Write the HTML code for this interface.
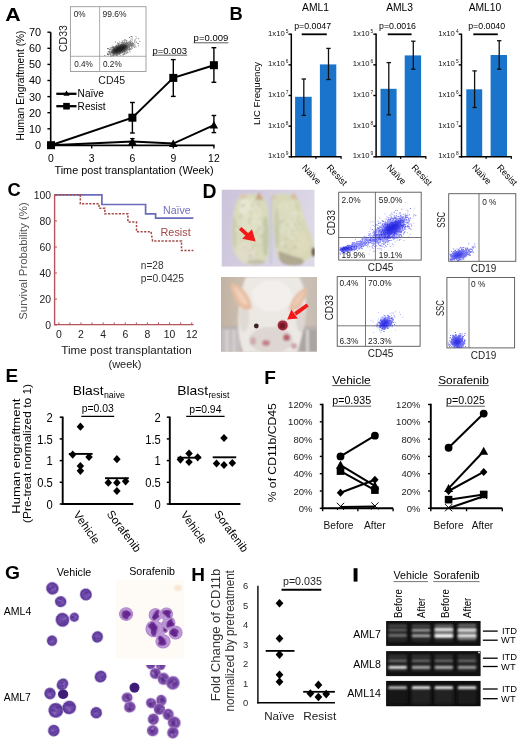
<!DOCTYPE html>
<html><head><meta charset="utf-8"><style>
html,body{margin:0;padding:0;background:#fff;}
svg{display:block;filter:blur(0.3px);font-family:"Liberation Sans",sans-serif;}
</style></head><body>
<svg width="520" height="745" viewBox="0 0 520 745">
<defs>
<filter id="b04" x="-30%" y="-30%" width="160%" height="160%"><feGaussianBlur stdDeviation="0.4"/></filter>
<filter id="b05" x="-50%" y="-50%" width="200%" height="200%"><feGaussianBlur stdDeviation="0.5"/></filter>
<filter id="b08" x="-20%" y="-20%" width="140%" height="140%"><feGaussianBlur stdDeviation="0.8"/></filter>
<filter id="b09" x="-30%" y="-150%" width="160%" height="400%"><feGaussianBlur stdDeviation="0.9"/></filter>
<filter id="b07" x="-50%" y="-100%" width="200%" height="300%"><feGaussianBlur stdDeviation="0.7"/></filter>
<filter id="b1" x="-50%" y="-50%" width="200%" height="200%"><feGaussianBlur stdDeviation="1"/></filter>
<filter id="b2" x="-20%" y="-20%" width="140%" height="140%"><feGaussianBlur stdDeviation="1.6"/></filter>
<linearGradient id="bg1" x1="0" y1="0" x2="1" y2="0.3"><stop offset="0" stop-color="#cbc3da"/><stop offset="1" stop-color="#ddd8e6"/></linearGradient>
<linearGradient id="bg2" x1="0" y1="0" x2="1" y2="0"><stop offset="0" stop-color="#c2b2a2"/><stop offset="0.5" stop-color="#d6ccc2"/><stop offset="1" stop-color="#c6bcb2"/></linearGradient>
<radialGradient id="gv" cx="0.5" cy="0.5" r="0.5"><stop offset="0" stop-color="#7450ae"/><stop offset="0.6" stop-color="#6a46a6"/><stop offset="0.88" stop-color="#583292"/><stop offset="1" stop-color="#8468bc"/></radialGradient>
<radialGradient id="gv2" cx="0.5" cy="0.5" r="0.5"><stop offset="0" stop-color="#6c3e9e"/><stop offset="0.65" stop-color="#7446a2"/><stop offset="0.86" stop-color="#8458ae"/><stop offset="1" stop-color="#b898d4"/></radialGradient>
<radialGradient id="gd" cx="0.5" cy="0.5" r="0.5"><stop offset="0" stop-color="#3a1a70"/><stop offset="0.85" stop-color="#40207a"/><stop offset="1" stop-color="#6a4aa0"/></radialGradient>
<radialGradient id="gs" cx="0.5" cy="0.5" r="0.5"><stop offset="0" stop-color="#9a68c0"/><stop offset="0.7" stop-color="#c09cd8"/><stop offset="0.92" stop-color="#b088cc"/><stop offset="1" stop-color="#d8c0e8"/></radialGradient>
</defs>
<rect width="520" height="745" fill="#fff"/>
<text x="5.20" y="20.60" font-size="18.3" font-weight="bold" textLength="15.4" lengthAdjust="spacingAndGlyphs">A</text>
<line x1="50.70" y1="32.20" x2="50.70" y2="145.40" stroke="#000" stroke-width="1.6"/>
<line x1="47.40" y1="32.20" x2="50.70" y2="32.20" stroke="#000" stroke-width="1.4"/>
<text x="41.00" y="36.10" font-size="10.9" text-anchor="end">70</text>
<line x1="47.40" y1="48.30" x2="50.70" y2="48.30" stroke="#000" stroke-width="1.4"/>
<text x="41.00" y="52.20" font-size="10.9" text-anchor="end">60</text>
<line x1="47.40" y1="64.40" x2="50.70" y2="64.40" stroke="#000" stroke-width="1.4"/>
<text x="41.00" y="68.30" font-size="10.9" text-anchor="end">50</text>
<line x1="47.40" y1="80.50" x2="50.70" y2="80.50" stroke="#000" stroke-width="1.4"/>
<text x="41.00" y="84.40" font-size="10.9" text-anchor="end">40</text>
<line x1="47.40" y1="96.60" x2="50.70" y2="96.60" stroke="#000" stroke-width="1.4"/>
<text x="41.00" y="100.50" font-size="10.9" text-anchor="end">30</text>
<line x1="47.40" y1="112.70" x2="50.70" y2="112.70" stroke="#000" stroke-width="1.4"/>
<text x="41.00" y="116.60" font-size="10.9" text-anchor="end">20</text>
<line x1="47.40" y1="128.80" x2="50.70" y2="128.80" stroke="#000" stroke-width="1.4"/>
<text x="41.00" y="132.70" font-size="10.9" text-anchor="end">10</text>
<line x1="47.40" y1="144.90" x2="50.70" y2="144.90" stroke="#000" stroke-width="1.4"/>
<text x="41.00" y="148.80" font-size="10.9" text-anchor="end">0</text>
<text x="23.60" y="85.50" font-size="10.2" text-anchor="middle" transform="rotate(-90 23.60 85.50)" textLength="110" lengthAdjust="spacingAndGlyphs">Human Engraftment (%)</text>
<line x1="50.70" y1="145.40" x2="214.60" y2="145.40" stroke="#000" stroke-width="1.6"/>
<line x1="51.00" y1="145.40" x2="51.00" y2="148.60" stroke="#000" stroke-width="1.4"/>
<text x="51.00" y="161.80" font-size="10.4" text-anchor="middle">0</text>
<line x1="91.70" y1="145.40" x2="91.70" y2="148.60" stroke="#000" stroke-width="1.4"/>
<text x="91.70" y="161.80" font-size="10.4" text-anchor="middle">3</text>
<line x1="132.40" y1="145.40" x2="132.40" y2="148.60" stroke="#000" stroke-width="1.4"/>
<text x="132.40" y="161.80" font-size="10.4" text-anchor="middle">6</text>
<line x1="173.30" y1="145.40" x2="173.30" y2="148.60" stroke="#000" stroke-width="1.4"/>
<text x="173.30" y="161.80" font-size="10.4" text-anchor="middle">9</text>
<line x1="213.90" y1="145.40" x2="213.90" y2="148.60" stroke="#000" stroke-width="1.4"/>
<text x="213.90" y="161.80" font-size="10.4" text-anchor="middle">12</text>
<text x="134.00" y="173.60" font-size="10.8" text-anchor="middle" textLength="159" lengthAdjust="spacingAndGlyphs">Time post transplantation (Week)</text>
<path d="M51.00,145.20 L132.40,141.60 L173.30,143.60 L213.90,125.20" stroke="#000" stroke-width="2.0" fill="none"/>
<line x1="132.40" y1="138.60" x2="132.40" y2="144.60" stroke="#000" stroke-width="1.3"/>
<line x1="130.20" y1="138.60" x2="134.60" y2="138.60" stroke="#000" stroke-width="1.3"/>
<line x1="130.20" y1="144.60" x2="134.60" y2="144.60" stroke="#000" stroke-width="1.3"/>
<line x1="213.90" y1="115.50" x2="213.90" y2="132.60" stroke="#000" stroke-width="1.4"/>
<line x1="211.60" y1="115.50" x2="216.20" y2="115.50" stroke="#000" stroke-width="1.4"/>
<line x1="211.60" y1="132.60" x2="216.20" y2="132.60" stroke="#000" stroke-width="1.4"/>
<path d="M132.40,137.40 L136.60,144.96 L128.20,144.96 Z" fill="#000"/>
<path d="M173.30,139.40 L177.50,146.96 L169.10,146.96 Z" fill="#000"/>
<path d="M213.90,121.00 L218.10,128.56 L209.70,128.56 Z" fill="#000"/>
<path d="M51.00,145.20 L132.40,117.70 L173.30,77.90 L213.90,65.20" stroke="#000" stroke-width="2.0" fill="none"/>
<line x1="132.40" y1="102.50" x2="132.40" y2="133.00" stroke="#000" stroke-width="1.4"/>
<line x1="130.00" y1="102.50" x2="134.80" y2="102.50" stroke="#000" stroke-width="1.4"/>
<line x1="130.00" y1="133.00" x2="134.80" y2="133.00" stroke="#000" stroke-width="1.4"/>
<line x1="173.30" y1="59.60" x2="173.30" y2="96.40" stroke="#000" stroke-width="1.4"/>
<line x1="170.90" y1="59.60" x2="175.70" y2="59.60" stroke="#000" stroke-width="1.4"/>
<line x1="170.90" y1="96.40" x2="175.70" y2="96.40" stroke="#000" stroke-width="1.4"/>
<line x1="213.90" y1="47.70" x2="213.90" y2="82.30" stroke="#000" stroke-width="1.4"/>
<line x1="211.50" y1="47.70" x2="216.30" y2="47.70" stroke="#000" stroke-width="1.4"/>
<line x1="211.50" y1="82.30" x2="216.30" y2="82.30" stroke="#000" stroke-width="1.4"/>
<rect x="47.00" y="141.20" width="8.00" height="8.00" fill="#000"/>
<rect x="128.40" y="113.70" width="8.00" height="8.00" fill="#000"/>
<rect x="169.30" y="73.90" width="8.00" height="8.00" fill="#000"/>
<rect x="209.90" y="61.20" width="8.00" height="8.00" fill="#000"/>
<line x1="56.30" y1="93.80" x2="76.50" y2="93.80" stroke="#000" stroke-width="2.3"/>
<path d="M66.50,90.40 L69.50,95.80 L63.50,95.80 Z" fill="#000"/>
<text x="77.60" y="97.40" font-size="10.1">Naïve</text>
<line x1="56.30" y1="106.20" x2="76.50" y2="106.20" stroke="#000" stroke-width="2.3"/>
<rect x="63.20" y="102.90" width="6.60" height="6.60" fill="#000"/>
<text x="77.60" y="109.80" font-size="10.1">Resist</text>
<text x="152.40" y="53.50" font-size="9.5" textLength="34.6" lengthAdjust="spacingAndGlyphs">p=0.003</text>
<line x1="152.40" y1="55.20" x2="187.20" y2="55.20" stroke="#333" stroke-width="0.8"/>
<text x="193.60" y="41.20" font-size="9.5" textLength="34.7" lengthAdjust="spacingAndGlyphs">p=0.009</text>
<line x1="193.60" y1="42.80" x2="228.40" y2="42.80" stroke="#333" stroke-width="0.8"/>
<rect x="70.40" y="6.70" width="75.60" height="64.80" fill="#fff" stroke="#999" stroke-width="0.9"/>
<line x1="99.60" y1="6.70" x2="99.60" y2="71.50" stroke="#999" stroke-width="0.8"/>
<line x1="70.40" y1="56.30" x2="146.00" y2="56.30" stroke="#999" stroke-width="0.8"/>
<text x="73.80" y="17.40" font-size="8.2" fill="#222">0%</text>
<text x="102.50" y="17.40" font-size="8.2" fill="#222" textLength="24" lengthAdjust="spacingAndGlyphs">99.6%</text>
<text x="74.20" y="67.00" font-size="8.2" fill="#222">0.4%</text>
<text x="103.00" y="67.00" font-size="8.2" fill="#222">0.2%</text>
<text x="67.40" y="38.60" font-size="10.5" text-anchor="middle" fill="#222" transform="rotate(-90 67.40 38.60)">CD33</text>
<text x="111.80" y="84.20" font-size="10.5" text-anchor="middle" fill="#222">CD45</text>
<path fill="#111" opacity="0.55" d="M120.0 50.1h.9v.9h-.9zM119.3 48.1h.9v.9h-.9zM115.2 50.4h.9v.9h-.9zM128.1 45.9h.9v.9h-.9zM127.4 45.8h.9v.9h-.9zM123.5 47.5h.9v.9h-.9zM112.1 54.9h.9v.9h-.9zM124.6 47.9h.9v.9h-.9zM109.1 49.2h.9v.9h-.9zM115.2 49.7h.9v.9h-.9zM122.8 47.2h.9v.9h-.9zM123.4 45.2h.9v.9h-.9zM123.3 48.2h.9v.9h-.9zM119.0 54.0h.9v.9h-.9zM125.6 49.3h.9v.9h-.9zM116.5 48.3h.9v.9h-.9zM118.8 49.0h.9v.9h-.9zM125.0 46.9h.9v.9h-.9zM117.3 47.3h.9v.9h-.9zM119.2 52.4h.9v.9h-.9zM116.5 51.1h.9v.9h-.9zM121.9 43.6h.9v.9h-.9zM122.7 51.0h.9v.9h-.9zM108.7 53.3h.9v.9h-.9zM119.5 46.7h.9v.9h-.9zM123.9 46.6h.9v.9h-.9zM113.2 54.3h.9v.9h-.9zM126.0 48.4h.9v.9h-.9zM129.9 44.8h.9v.9h-.9zM120.3 44.9h.9v.9h-.9zM124.0 45.0h.9v.9h-.9zM116.9 46.7h.9v.9h-.9zM114.7 49.8h.9v.9h-.9zM126.4 39.9h.9v.9h-.9zM112.6 53.0h.9v.9h-.9zM130.2 45.3h.9v.9h-.9zM107.0 48.0h.9v.9h-.9zM122.3 45.5h.9v.9h-.9zM115.4 53.6h.9v.9h-.9zM127.7 45.4h.9v.9h-.9zM122.9 48.5h.9v.9h-.9zM131.1 45.0h.9v.9h-.9zM124.7 47.9h.9v.9h-.9zM127.2 46.6h.9v.9h-.9zM108.6 52.5h.9v.9h-.9zM124.0 41.7h.9v.9h-.9zM121.0 51.0h.9v.9h-.9zM124.1 46.3h.9v.9h-.9zM123.6 48.7h.9v.9h-.9zM123.0 50.4h.9v.9h-.9zM116.6 49.2h.9v.9h-.9zM127.2 45.2h.9v.9h-.9zM116.8 52.9h.9v.9h-.9zM129.2 43.0h.9v.9h-.9zM112.7 51.9h.9v.9h-.9zM119.8 48.0h.9v.9h-.9zM128.2 41.8h.9v.9h-.9zM127.1 41.7h.9v.9h-.9zM117.0 51.9h.9v.9h-.9zM128.6 46.9h.9v.9h-.9zM123.2 47.5h.9v.9h-.9zM122.5 49.1h.9v.9h-.9zM120.3 49.3h.9v.9h-.9zM124.4 46.5h.9v.9h-.9zM126.2 47.3h.9v.9h-.9zM133.3 43.1h.9v.9h-.9zM118.1 48.6h.9v.9h-.9zM121.9 50.3h.9v.9h-.9zM119.4 50.0h.9v.9h-.9zM129.1 37.1h.9v.9h-.9zM114.6 52.0h.9v.9h-.9zM123.6 47.6h.9v.9h-.9zM119.2 50.9h.9v.9h-.9zM122.1 46.2h.9v.9h-.9zM135.8 42.0h.9v.9h-.9zM117.6 49.6h.9v.9h-.9zM119.6 48.7h.9v.9h-.9zM104.3 55.0h.9v.9h-.9zM125.7 42.7h.9v.9h-.9zM121.6 50.5h.9v.9h-.9zM127.7 49.1h.9v.9h-.9zM110.5 52.3h.9v.9h-.9zM119.7 50.6h.9v.9h-.9zM124.5 39.0h.9v.9h-.9zM125.9 41.8h.9v.9h-.9zM123.4 42.9h.9v.9h-.9zM123.4 50.4h.9v.9h-.9zM120.3 49.1h.9v.9h-.9zM125.9 46.2h.9v.9h-.9zM122.2 51.9h.9v.9h-.9zM126.9 44.5h.9v.9h-.9zM136.0 37.7h.9v.9h-.9zM126.1 45.0h.9v.9h-.9zM122.6 49.4h.9v.9h-.9zM123.0 49.0h.9v.9h-.9zM110.3 49.2h.9v.9h-.9zM123.6 44.3h.9v.9h-.9zM113.3 47.9h.9v.9h-.9zM129.3 46.2h.9v.9h-.9zM128.7 41.8h.9v.9h-.9zM119.8 45.6h.9v.9h-.9zM127.3 49.6h.9v.9h-.9zM117.4 54.3h.9v.9h-.9zM126.7 44.9h.9v.9h-.9zM119.8 47.1h.9v.9h-.9zM123.8 48.0h.9v.9h-.9zM128.8 41.6h.9v.9h-.9zM129.4 48.3h.9v.9h-.9zM129.4 43.6h.9v.9h-.9zM117.7 52.6h.9v.9h-.9zM121.8 48.1h.9v.9h-.9zM129.2 43.5h.9v.9h-.9zM107.0 54.0h.9v.9h-.9zM110.9 55.4h.9v.9h-.9zM122.2 45.9h.9v.9h-.9zM121.9 50.1h.9v.9h-.9zM122.9 51.0h.9v.9h-.9zM121.8 50.7h.9v.9h-.9zM131.6 47.5h.9v.9h-.9zM118.0 52.1h.9v.9h-.9zM108.7 51.2h.9v.9h-.9zM113.7 51.7h.9v.9h-.9zM119.8 48.7h.9v.9h-.9zM117.7 50.4h.9v.9h-.9zM131.7 43.1h.9v.9h-.9zM125.2 48.9h.9v.9h-.9zM118.4 45.9h.9v.9h-.9zM118.9 52.2h.9v.9h-.9zM110.6 51.6h.9v.9h-.9zM127.8 47.1h.9v.9h-.9zM121.9 50.0h.9v.9h-.9zM120.7 45.1h.9v.9h-.9zM111.0 51.3h.9v.9h-.9zM125.9 44.3h.9v.9h-.9zM114.8 49.1h.9v.9h-.9zM111.8 52.4h.9v.9h-.9zM114.4 52.4h.9v.9h-.9zM115.1 45.7h.9v.9h-.9zM125.0 45.5h.9v.9h-.9zM106.8 52.7h.9v.9h-.9zM122.2 46.3h.9v.9h-.9zM126.4 47.6h.9v.9h-.9zM125.3 47.0h.9v.9h-.9zM129.6 45.8h.9v.9h-.9zM121.4 42.2h.9v.9h-.9zM127.8 48.5h.9v.9h-.9zM118.7 48.0h.9v.9h-.9zM130.6 38.6h.9v.9h-.9zM126.4 52.3h.9v.9h-.9zM116.3 52.4h.9v.9h-.9zM132.1 42.5h.9v.9h-.9zM125.3 48.6h.9v.9h-.9zM115.5 50.6h.9v.9h-.9zM123.6 49.2h.9v.9h-.9zM120.6 47.9h.9v.9h-.9zM114.6 50.3h.9v.9h-.9zM126.4 45.8h.9v.9h-.9zM115.0 48.8h.9v.9h-.9zM138.1 43.0h.9v.9h-.9zM121.9 40.5h.9v.9h-.9zM125.2 47.5h.9v.9h-.9zM131.5 44.3h.9v.9h-.9zM121.2 49.6h.9v.9h-.9zM122.2 45.7h.9v.9h-.9zM130.8 48.4h.9v.9h-.9zM112.0 50.8h.9v.9h-.9zM122.9 47.8h.9v.9h-.9zM117.6 47.2h.9v.9h-.9zM134.7 44.4h.9v.9h-.9zM112.4 48.6h.9v.9h-.9zM132.2 45.5h.9v.9h-.9zM132.7 44.8h.9v.9h-.9zM116.1 51.3h.9v.9h-.9zM107.4 52.8h.9v.9h-.9zM121.2 49.5h.9v.9h-.9zM116.5 50.0h.9v.9h-.9zM124.1 47.7h.9v.9h-.9zM125.0 46.8h.9v.9h-.9zM119.9 50.9h.9v.9h-.9zM120.4 46.2h.9v.9h-.9zM117.3 50.0h.9v.9h-.9zM120.5 48.9h.9v.9h-.9zM121.2 48.6h.9v.9h-.9zM118.8 45.8h.9v.9h-.9zM124.7 49.3h.9v.9h-.9zM123.4 46.5h.9v.9h-.9zM122.6 44.7h.9v.9h-.9zM109.8 53.8h.9v.9h-.9zM116.3 52.6h.9v.9h-.9zM111.7 45.4h.9v.9h-.9zM116.6 54.8h.9v.9h-.9zM117.2 46.2h.9v.9h-.9zM117.0 51.6h.9v.9h-.9zM124.1 47.2h.9v.9h-.9zM130.6 45.5h.9v.9h-.9zM121.5 49.6h.9v.9h-.9zM131.9 45.6h.9v.9h-.9zM125.9 42.8h.9v.9h-.9zM120.9 50.3h.9v.9h-.9zM120.4 51.5h.9v.9h-.9zM125.5 48.5h.9v.9h-.9zM122.5 54.5h.9v.9h-.9zM128.1 44.1h.9v.9h-.9zM124.4 53.8h.9v.9h-.9zM119.9 51.2h.9v.9h-.9zM126.8 45.4h.9v.9h-.9zM114.3 52.0h.9v.9h-.9zM124.4 49.7h.9v.9h-.9zM125.7 46.0h.9v.9h-.9zM126.7 46.9h.9v.9h-.9zM122.3 47.7h.9v.9h-.9zM120.3 50.4h.9v.9h-.9zM114.1 49.8h.9v.9h-.9zM119.4 44.9h.9v.9h-.9zM116.2 44.9h.9v.9h-.9zM117.6 51.5h.9v.9h-.9zM124.3 46.4h.9v.9h-.9zM118.1 45.7h.9v.9h-.9zM132.4 44.1h.9v.9h-.9zM126.5 43.1h.9v.9h-.9zM117.9 44.6h.9v.9h-.9zM126.7 48.0h.9v.9h-.9zM109.7 53.6h.9v.9h-.9zM122.8 42.4h.9v.9h-.9zM109.0 51.1h.9v.9h-.9zM115.7 46.9h.9v.9h-.9zM121.5 48.7h.9v.9h-.9zM125.5 47.9h.9v.9h-.9zM131.2 46.5h.9v.9h-.9zM112.7 50.9h.9v.9h-.9zM113.5 48.8h.9v.9h-.9zM120.5 48.4h.9v.9h-.9zM122.2 43.2h.9v.9h-.9zM113.6 51.7h.9v.9h-.9zM119.5 48.1h.9v.9h-.9zM119.8 46.7h.9v.9h-.9zM125.5 47.0h.9v.9h-.9zM119.7 46.9h.9v.9h-.9zM117.0 42.6h.9v.9h-.9zM115.2 51.1h.9v.9h-.9zM112.3 53.0h.9v.9h-.9zM120.4 44.7h.9v.9h-.9zM119.2 48.2h.9v.9h-.9zM124.4 48.2h.9v.9h-.9zM119.9 46.4h.9v.9h-.9zM120.1 48.5h.9v.9h-.9zM125.7 46.7h.9v.9h-.9zM115.2 47.2h.9v.9h-.9zM118.0 47.6h.9v.9h-.9zM114.3 51.2h.9v.9h-.9zM118.2 49.9h.9v.9h-.9zM123.7 45.8h.9v.9h-.9zM134.4 40.8h.9v.9h-.9zM127.7 45.3h.9v.9h-.9zM125.0 39.6h.9v.9h-.9zM116.8 50.9h.9v.9h-.9zM127.1 51.7h.9v.9h-.9zM124.3 50.1h.9v.9h-.9zM126.6 48.1h.9v.9h-.9zM123.9 46.4h.9v.9h-.9zM122.8 44.3h.9v.9h-.9zM126.9 42.5h.9v.9h-.9zM124.8 52.2h.9v.9h-.9zM119.7 48.9h.9v.9h-.9zM127.9 44.9h.9v.9h-.9zM116.5 51.1h.9v.9h-.9zM125.2 48.1h.9v.9h-.9zM118.3 54.4h.9v.9h-.9zM130.9 43.4h.9v.9h-.9zM122.1 46.5h.9v.9h-.9zM128.6 42.5h.9v.9h-.9zM124.5 45.2h.9v.9h-.9zM117.7 51.8h.9v.9h-.9zM128.9 44.3h.9v.9h-.9zM117.9 52.0h.9v.9h-.9zM121.0 49.0h.9v.9h-.9zM131.3 46.3h.9v.9h-.9zM120.4 54.8h.9v.9h-.9zM121.9 50.0h.9v.9h-.9zM117.1 50.0h.9v.9h-.9zM127.8 41.5h.9v.9h-.9zM110.3 48.9h.9v.9h-.9zM127.5 43.8h.9v.9h-.9zM120.3 47.7h.9v.9h-.9zM119.1 46.1h.9v.9h-.9zM119.6 44.9h.9v.9h-.9zM120.9 49.1h.9v.9h-.9zM123.5 46.3h.9v.9h-.9zM115.8 51.2h.9v.9h-.9zM119.8 53.1h.9v.9h-.9zM125.4 45.7h.9v.9h-.9zM117.4 48.0h.9v.9h-.9zM115.1 50.1h.9v.9h-.9zM123.3 48.5h.9v.9h-.9zM126.7 51.3h.9v.9h-.9zM116.8 50.3h.9v.9h-.9zM135.5 35.9h.9v.9h-.9zM118.1 50.1h.9v.9h-.9zM122.4 48.7h.9v.9h-.9zM120.0 49.7h.9v.9h-.9zM122.2 49.8h.9v.9h-.9zM108.8 51.7h.9v.9h-.9zM119.9 45.9h.9v.9h-.9zM115.5 52.6h.9v.9h-.9zM117.8 51.5h.9v.9h-.9zM125.8 46.7h.9v.9h-.9zM123.9 46.5h.9v.9h-.9zM112.6 52.2h.9v.9h-.9zM123.1 45.7h.9v.9h-.9zM121.2 50.2h.9v.9h-.9zM116.5 52.2h.9v.9h-.9zM131.4 41.6h.9v.9h-.9zM121.7 47.4h.9v.9h-.9zM130.5 44.5h.9v.9h-.9zM125.6 44.1h.9v.9h-.9zM120.9 48.2h.9v.9h-.9zM124.4 41.7h.9v.9h-.9zM125.3 45.8h.9v.9h-.9zM124.1 47.7h.9v.9h-.9zM111.9 52.1h.9v.9h-.9zM129.2 42.6h.9v.9h-.9zM113.4 48.1h.9v.9h-.9zM114.1 52.5h.9v.9h-.9zM131.5 44.3h.9v.9h-.9zM124.9 52.5h.9v.9h-.9zM117.2 48.2h.9v.9h-.9zM124.7 47.9h.9v.9h-.9zM113.7 48.5h.9v.9h-.9zM123.0 47.9h.9v.9h-.9zM113.0 51.5h.9v.9h-.9zM118.3 50.8h.9v.9h-.9zM120.2 48.3h.9v.9h-.9zM120.1 51.6h.9v.9h-.9zM128.8 43.4h.9v.9h-.9zM125.2 44.0h.9v.9h-.9zM122.2 49.7h.9v.9h-.9zM129.6 43.0h.9v.9h-.9zM120.8 48.9h.9v.9h-.9zM112.1 52.6h.9v.9h-.9zM117.4 51.0h.9v.9h-.9zM112.1 47.0h.9v.9h-.9zM121.5 48.7h.9v.9h-.9zM118.7 51.8h.9v.9h-.9zM118.7 47.6h.9v.9h-.9zM122.1 43.3h.9v.9h-.9zM117.0 50.1h.9v.9h-.9zM125.9 45.4h.9v.9h-.9zM122.1 45.8h.9v.9h-.9zM124.6 51.1h.9v.9h-.9zM117.2 50.1h.9v.9h-.9zM123.2 50.0h.9v.9h-.9zM111.4 47.1h.9v.9h-.9zM125.5 48.2h.9v.9h-.9zM127.6 52.3h.9v.9h-.9zM122.5 48.2h.9v.9h-.9zM126.9 46.3h.9v.9h-.9zM129.5 40.6h.9v.9h-.9zM115.0 41.5h.9v.9h-.9zM125.4 45.0h.9v.9h-.9zM128.8 50.4h.9v.9h-.9zM120.7 47.6h.9v.9h-.9zM117.1 47.8h.9v.9h-.9zM118.0 51.5h.9v.9h-.9zM121.3 48.2h.9v.9h-.9zM121.0 50.8h.9v.9h-.9zM123.8 46.5h.9v.9h-.9zM124.8 45.9h.9v.9h-.9zM115.8 54.8h.9v.9h-.9zM122.7 44.7h.9v.9h-.9zM127.8 45.9h.9v.9h-.9zM124.0 49.2h.9v.9h-.9zM122.0 47.3h.9v.9h-.9zM112.9 54.9h.9v.9h-.9zM120.9 47.5h.9v.9h-.9zM123.2 47.4h.9v.9h-.9zM124.6 45.4h.9v.9h-.9zM118.4 43.5h.9v.9h-.9zM119.2 50.9h.9v.9h-.9zM128.5 43.5h.9v.9h-.9zM122.0 52.1h.9v.9h-.9zM119.9 50.8h.9v.9h-.9zM131.0 43.4h.9v.9h-.9zM127.5 43.1h.9v.9h-.9zM122.1 47.4h.9v.9h-.9zM122.9 50.4h.9v.9h-.9zM134.4 39.8h.9v.9h-.9zM118.1 51.0h.9v.9h-.9zM115.3 52.4h.9v.9h-.9zM124.1 45.9h.9v.9h-.9zM122.5 43.2h.9v.9h-.9zM123.8 42.5h.9v.9h-.9zM116.3 49.0h.9v.9h-.9zM119.6 51.3h.9v.9h-.9zM121.0 47.1h.9v.9h-.9zM126.0 50.2h.9v.9h-.9zM121.4 49.0h.9v.9h-.9zM128.6 45.2h.9v.9h-.9zM131.9 37.4h.9v.9h-.9zM121.2 49.3h.9v.9h-.9zM127.5 46.9h.9v.9h-.9zM118.2 46.6h.9v.9h-.9zM122.7 50.2h.9v.9h-.9zM113.4 49.0h.9v.9h-.9zM118.7 43.9h.9v.9h-.9zM119.0 48.0h.9v.9h-.9zM122.9 45.3h.9v.9h-.9zM115.3 49.9h.9v.9h-.9zM120.0 46.9h.9v.9h-.9zM121.9 49.9h.9v.9h-.9zM129.9 48.6h.9v.9h-.9zM115.9 49.5h.9v.9h-.9zM116.7 50.2h.9v.9h-.9zM122.6 43.6h.9v.9h-.9zM123.7 46.8h.9v.9h-.9zM110.5 54.1h.9v.9h-.9zM126.0 40.5h.9v.9h-.9zM126.0 46.3h.9v.9h-.9zM124.3 47.8h.9v.9h-.9zM128.5 43.9h.9v.9h-.9zM125.7 44.8h.9v.9h-.9zM124.4 44.3h.9v.9h-.9zM122.3 52.4h.9v.9h-.9zM123.5 46.6h.9v.9h-.9zM113.3 49.7h.9v.9h-.9zM123.2 49.8h.9v.9h-.9zM124.1 48.1h.9v.9h-.9zM122.2 51.4h.9v.9h-.9zM118.1 48.1h.9v.9h-.9zM126.3 45.8h.9v.9h-.9zM118.7 47.7h.9v.9h-.9zM120.2 50.3h.9v.9h-.9zM121.8 44.5h.9v.9h-.9zM123.7 47.4h.9v.9h-.9zM115.9 52.8h.9v.9h-.9zM119.0 48.3h.9v.9h-.9zM127.2 48.9h.9v.9h-.9zM117.4 51.2h.9v.9h-.9zM119.4 52.3h.9v.9h-.9zM118.0 51.9h.9v.9h-.9zM131.4 36.1h.9v.9h-.9zM119.0 50.6h.9v.9h-.9zM119.7 47.0h.9v.9h-.9zM133.9 42.2h.9v.9h-.9zM112.2 54.9h.9v.9h-.9zM117.7 50.2h.9v.9h-.9zM128.6 44.8h.9v.9h-.9zM110.9 48.4h.9v.9h-.9zM128.8 46.4h.9v.9h-.9zM117.1 52.5h.9v.9h-.9zM124.7 48.2h.9v.9h-.9zM107.3 54.1h.9v.9h-.9zM127.1 47.2h.9v.9h-.9zM123.5 40.1h.9v.9h-.9zM122.5 48.8h.9v.9h-.9zM135.1 38.7h.9v.9h-.9zM119.1 49.2h.9v.9h-.9zM125.8 44.6h.9v.9h-.9zM126.9 43.1h.9v.9h-.9zM122.0 46.2h.9v.9h-.9zM121.2 46.2h.9v.9h-.9zM112.7 55.3h.9v.9h-.9zM122.2 46.1h.9v.9h-.9zM123.3 49.8h.9v.9h-.9zM115.1 50.8h.9v.9h-.9zM124.8 47.8h.9v.9h-.9zM116.7 44.4h.9v.9h-.9zM128.7 45.3h.9v.9h-.9zM120.8 47.5h.9v.9h-.9zM122.1 46.5h.9v.9h-.9zM114.1 49.5h.9v.9h-.9zM116.8 48.6h.9v.9h-.9zM114.8 53.0h.9v.9h-.9zM114.0 53.5h.9v.9h-.9zM115.4 51.9h.9v.9h-.9zM129.4 44.7h.9v.9h-.9zM116.7 50.4h.9v.9h-.9zM120.0 43.9h.9v.9h-.9zM117.6 50.3h.9v.9h-.9zM118.3 49.7h.9v.9h-.9zM126.2 47.8h.9v.9h-.9zM127.0 46.9h.9v.9h-.9zM119.3 49.0h.9v.9h-.9zM119.0 48.3h.9v.9h-.9zM118.0 44.8h.9v.9h-.9zM119.0 49.1h.9v.9h-.9zM115.2 51.0h.9v.9h-.9zM123.9 46.3h.9v.9h-.9zM130.5 36.3h.9v.9h-.9zM117.8 44.7h.9v.9h-.9zM129.7 51.3h.9v.9h-.9zM123.7 46.0h.9v.9h-.9zM121.8 41.6h.9v.9h-.9zM126.5 46.6h.9v.9h-.9zM120.5 46.8h.9v.9h-.9zM124.3 45.3h.9v.9h-.9zM121.8 46.4h.9v.9h-.9zM107.6 54.6h.9v.9h-.9zM123.0 49.3h.9v.9h-.9zM115.8 50.7h.9v.9h-.9zM124.8 46.7h.9v.9h-.9zM130.6 49.1h.9v.9h-.9zM113.5 46.5h.9v.9h-.9zM127.8 49.2h.9v.9h-.9zM127.4 47.4h.9v.9h-.9zM116.5 48.4h.9v.9h-.9zM125.3 43.6h.9v.9h-.9zM109.2 51.2h.9v.9h-.9zM137.9 45.3h.9v.9h-.9zM116.1 48.5h.9v.9h-.9zM121.6 45.8h.9v.9h-.9zM128.7 44.2h.9v.9h-.9zM116.0 54.3h.9v.9h-.9zM117.8 50.4h.9v.9h-.9zM120.6 47.5h.9v.9h-.9zM122.2 45.7h.9v.9h-.9zM107.6 48.6h.9v.9h-.9zM112.7 50.2h.9v.9h-.9zM120.9 48.4h.9v.9h-.9zM124.4 46.9h.9v.9h-.9zM115.5 48.9h.9v.9h-.9zM108.2 54.0h.9v.9h-.9zM124.5 48.0h.9v.9h-.9zM120.1 48.2h.9v.9h-.9zM126.6 45.5h.9v.9h-.9zM126.0 47.4h.9v.9h-.9zM123.7 50.5h.9v.9h-.9zM117.2 49.1h.9v.9h-.9zM115.3 48.7h.9v.9h-.9zM132.2 47.7h.9v.9h-.9zM121.8 49.4h.9v.9h-.9zM128.9 46.6h.9v.9h-.9zM126.8 41.9h.9v.9h-.9zM117.7 51.1h.9v.9h-.9zM129.6 44.3h.9v.9h-.9zM115.5 49.9h.9v.9h-.9zM116.1 48.2h.9v.9h-.9zM129.2 42.5h.9v.9h-.9zM123.5 53.0h.9v.9h-.9zM128.4 45.5h.9v.9h-.9zM117.8 50.9h.9v.9h-.9zM131.3 44.9h.9v.9h-.9zM128.6 44.8h.9v.9h-.9zM123.8 46.3h.9v.9h-.9zM125.0 49.9h.9v.9h-.9zM112.4 52.2h.9v.9h-.9zM121.8 46.2h.9v.9h-.9zM120.0 50.9h.9v.9h-.9zM133.6 43.8h.9v.9h-.9zM121.2 43.8h.9v.9h-.9zM132.5 42.8h.9v.9h-.9zM119.6 45.8h.9v.9h-.9zM119.5 45.9h.9v.9h-.9zM121.9 49.0h.9v.9h-.9zM121.5 48.7h.9v.9h-.9zM117.5 53.9h.9v.9h-.9zM115.1 46.0h.9v.9h-.9zM119.1 47.0h.9v.9h-.9zM114.6 50.3h.9v.9h-.9zM121.4 44.7h.9v.9h-.9zM121.7 51.8h.9v.9h-.9zM124.9 45.9h.9v.9h-.9zM121.6 47.6h.9v.9h-.9zM121.5 50.0h.9v.9h-.9zM117.8 43.1h.9v.9h-.9zM119.9 46.3h.9v.9h-.9zM124.2 44.9h.9v.9h-.9zM124.3 52.7h.9v.9h-.9zM113.6 48.7h.9v.9h-.9zM110.0 46.9h.9v.9h-.9zM110.3 54.5h.9v.9h-.9zM115.2 45.8h.9v.9h-.9zM112.9 53.9h.9v.9h-.9zM116.0 49.6h.9v.9h-.9zM124.4 50.3h.9v.9h-.9zM133.6 44.9h.9v.9h-.9zM122.1 48.2h.9v.9h-.9zM133.3 46.2h.9v.9h-.9zM119.7 50.1h.9v.9h-.9zM122.8 47.5h.9v.9h-.9zM116.6 46.7h.9v.9h-.9zM116.1 46.3h.9v.9h-.9zM128.8 45.9h.9v.9h-.9zM115.4 54.8h.9v.9h-.9zM124.2 41.3h.9v.9h-.9zM132.8 44.7h.9v.9h-.9zM131.9 39.5h.9v.9h-.9zM124.6 47.6h.9v.9h-.9zM122.4 48.0h.9v.9h-.9zM125.6 41.8h.9v.9h-.9zM112.1 48.7h.9v.9h-.9zM117.0 48.5h.9v.9h-.9zM123.5 47.7h.9v.9h-.9zM120.4 46.6h.9v.9h-.9zM119.4 51.6h.9v.9h-.9zM125.6 46.2h.9v.9h-.9zM120.8 52.6h.9v.9h-.9zM118.2 51.4h.9v.9h-.9zM127.6 44.3h.9v.9h-.9zM124.7 43.3h.9v.9h-.9zM127.2 45.7h.9v.9h-.9zM112.3 54.3h.9v.9h-.9zM117.1 53.7h.9v.9h-.9zM116.8 49.8h.9v.9h-.9zM122.3 46.6h.9v.9h-.9zM121.9 46.2h.9v.9h-.9zM125.0 46.3h.9v.9h-.9zM119.2 41.4h.9v.9h-.9zM127.9 44.9h.9v.9h-.9zM110.5 53.6h.9v.9h-.9zM124.9 49.3h.9v.9h-.9zM116.3 54.8h.9v.9h-.9zM122.7 54.0h.9v.9h-.9zM120.9 50.2h.9v.9h-.9zM117.6 46.8h.9v.9h-.9zM128.5 47.1h.9v.9h-.9zM131.1 45.7h.9v.9h-.9zM115.8 46.1h.9v.9h-.9zM116.4 48.6h.9v.9h-.9zM116.8 51.9h.9v.9h-.9zM122.6 46.6h.9v.9h-.9zM121.9 47.4h.9v.9h-.9zM123.1 49.3h.9v.9h-.9zM125.9 43.9h.9v.9h-.9zM122.9 50.4h.9v.9h-.9zM110.9 52.2h.9v.9h-.9zM119.6 44.9h.9v.9h-.9zM118.7 51.3h.9v.9h-.9zM129.1 48.7h.9v.9h-.9zM114.3 47.5h.9v.9h-.9zM125.1 48.8h.9v.9h-.9zM120.7 44.7h.9v.9h-.9zM126.5 47.7h.9v.9h-.9zM123.7 45.5h.9v.9h-.9zM123.7 49.1h.9v.9h-.9zM115.7 45.7h.9v.9h-.9zM123.5 48.3h.9v.9h-.9zM122.1 50.2h.9v.9h-.9zM117.4 49.7h.9v.9h-.9zM119.8 50.4h.9v.9h-.9zM130.2 43.0h.9v.9h-.9zM134.9 45.7h.9v.9h-.9zM126.3 47.2h.9v.9h-.9zM131.3 42.7h.9v.9h-.9zM119.2 46.1h.9v.9h-.9zM125.3 49.9h.9v.9h-.9zM124.6 47.6h.9v.9h-.9zM120.0 49.2h.9v.9h-.9zM113.7 54.7h.9v.9h-.9zM117.4 46.9h.9v.9h-.9zM115.6 48.5h.9v.9h-.9zM127.2 48.1h.9v.9h-.9zM114.0 54.2h.9v.9h-.9zM125.6 44.3h.9v.9h-.9zM111.4 50.8h.9v.9h-.9zM117.6 50.8h.9v.9h-.9zM116.7 44.7h.9v.9h-.9zM120.7 44.1h.9v.9h-.9zM125.0 42.9h.9v.9h-.9zM116.0 48.3h.9v.9h-.9zM119.2 52.7h.9v.9h-.9zM126.7 47.1h.9v.9h-.9zM121.2 43.8h.9v.9h-.9zM117.3 48.5h.9v.9h-.9zM115.8 52.2h.9v.9h-.9zM115.8 48.7h.9v.9h-.9zM112.5 46.6h.9v.9h-.9zM126.0 49.5h.9v.9h-.9zM121.0 45.5h.9v.9h-.9zM128.5 45.3h.9v.9h-.9zM128.1 48.8h.9v.9h-.9zM127.2 43.9h.9v.9h-.9zM128.1 46.9h.9v.9h-.9zM111.4 51.7h.9v.9h-.9zM112.4 52.1h.9v.9h-.9zM123.3 44.1h.9v.9h-.9zM124.8 50.4h.9v.9h-.9zM114.3 54.4h.9v.9h-.9zM135.5 46.7h.9v.9h-.9zM120.0 49.4h.9v.9h-.9zM121.2 50.9h.9v.9h-.9zM127.3 45.4h.9v.9h-.9zM113.8 53.8h.9v.9h-.9zM118.9 51.0h.9v.9h-.9zM124.3 51.1h.9v.9h-.9zM127.3 43.9h.9v.9h-.9zM125.0 51.2h.9v.9h-.9zM118.3 50.7h.9v.9h-.9zM129.4 47.6h.9v.9h-.9zM122.6 43.7h.9v.9h-.9zM113.8 52.4h.9v.9h-.9zM126.1 52.8h.9v.9h-.9zM117.1 53.2h.9v.9h-.9zM123.7 42.2h.9v.9h-.9zM116.3 50.9h.9v.9h-.9zM117.9 49.3h.9v.9h-.9zM122.9 45.0h.9v.9h-.9zM123.1 45.4h.9v.9h-.9zM118.4 51.0h.9v.9h-.9zM117.9 50.5h.9v.9h-.9zM130.5 43.6h.9v.9h-.9zM120.9 50.3h.9v.9h-.9zM120.0 51.7h.9v.9h-.9zM114.1 53.3h.9v.9h-.9zM117.1 47.9h.9v.9h-.9zM130.6 41.2h.9v.9h-.9zM132.1 44.6h.9v.9h-.9zM128.5 41.8h.9v.9h-.9zM129.7 48.0h.9v.9h-.9zM120.2 48.2h.9v.9h-.9zM135.8 41.5h.9v.9h-.9zM117.8 48.0h.9v.9h-.9zM124.0 47.7h.9v.9h-.9zM123.9 51.6h.9v.9h-.9zM119.6 50.2h.9v.9h-.9zM128.6 41.7h.9v.9h-.9zM129.2 49.3h.9v.9h-.9zM111.8 49.7h.9v.9h-.9zM112.8 47.1h.9v.9h-.9zM121.7 42.7h.9v.9h-.9zM125.6 50.0h.9v.9h-.9zM111.1 52.2h.9v.9h-.9zM110.5 55.5h.9v.9h-.9zM116.3 49.7h.9v.9h-.9zM121.9 49.3h.9v.9h-.9zM119.0 49.2h.9v.9h-.9zM117.9 50.0h.9v.9h-.9zM114.1 51.7h.9v.9h-.9zM109.0 52.7h.9v.9h-.9zM132.4 42.8h.9v.9h-.9zM113.8 52.4h.9v.9h-.9zM113.4 47.3h.9v.9h-.9zM117.4 52.0h.9v.9h-.9zM123.2 46.9h.9v.9h-.9zM114.3 48.5h.9v.9h-.9zM129.3 44.8h.9v.9h-.9zM113.0 46.2h.9v.9h-.9zM114.1 51.4h.9v.9h-.9zM122.1 47.2h.9v.9h-.9zM117.8 45.9h.9v.9h-.9zM116.6 55.0h.9v.9h-.9zM117.4 52.3h.9v.9h-.9zM110.7 52.5h.9v.9h-.9zM123.7 49.8h.9v.9h-.9zM115.0 52.8h.9v.9h-.9zM122.5 45.4h.9v.9h-.9zM122.8 44.8h.9v.9h-.9zM116.3 50.5h.9v.9h-.9zM113.5 47.8h.9v.9h-.9zM119.3 51.1h.9v.9h-.9zM120.0 52.2h.9v.9h-.9zM112.7 48.6h.9v.9h-.9zM130.6 44.6h.9v.9h-.9zM125.7 43.6h.9v.9h-.9zM126.1 46.5h.9v.9h-.9zM124.9 46.4h.9v.9h-.9zM127.4 43.3h.9v.9h-.9zM113.7 47.7h.9v.9h-.9zM127.1 43.2h.9v.9h-.9zM113.8 49.1h.9v.9h-.9zM117.0 46.6h.9v.9h-.9zM118.6 47.6h.9v.9h-.9zM116.7 47.6h.9v.9h-.9zM120.7 47.1h.9v.9h-.9zM122.0 48.4h.9v.9h-.9zM120.6 42.3h.9v.9h-.9zM116.9 48.0h.9v.9h-.9zM123.9 42.4h.9v.9h-.9zM116.4 49.6h.9v.9h-.9zM120.1 51.4h.9v.9h-.9zM119.4 51.6h.9v.9h-.9zM110.3 48.4h.9v.9h-.9zM128.7 45.7h.9v.9h-.9zM124.0 47.1h.9v.9h-.9zM122.5 44.1h.9v.9h-.9zM126.0 44.3h.9v.9h-.9zM126.9 45.5h.9v.9h-.9zM107.9 51.0h.9v.9h-.9zM127.5 44.6h.9v.9h-.9zM118.9 49.9h.9v.9h-.9zM117.9 48.2h.9v.9h-.9zM121.8 48.2h.9v.9h-.9zM130.0 43.9h.9v.9h-.9zM134.1 46.8h.9v.9h-.9zM132.3 45.6h.9v.9h-.9zM121.9 48.1h.9v.9h-.9zM119.4 47.0h.9v.9h-.9zM119.9 47.0h.9v.9h-.9zM131.3 44.7h.9v.9h-.9zM116.3 45.2h.9v.9h-.9zM120.2 47.4h.9v.9h-.9zM113.3 48.8h.9v.9h-.9zM123.4 54.2h.9v.9h-.9zM120.7 48.0h.9v.9h-.9zM129.7 44.3h.9v.9h-.9zM121.6 46.9h.9v.9h-.9zM119.1 53.3h.9v.9h-.9zM128.8 49.2h.9v.9h-.9zM119.0 49.3h.9v.9h-.9zM116.8 52.9h.9v.9h-.9zM113.4 53.5h.9v.9h-.9zM129.0 48.2h.9v.9h-.9zM116.6 53.4h.9v.9h-.9zM115.9 48.6h.9v.9h-.9zM114.4 54.6h.9v.9h-.9zM130.1 42.1h.9v.9h-.9zM116.1 49.6h.9v.9h-.9zM137.0 43.2h.9v.9h-.9zM115.8 45.7h.9v.9h-.9zM118.3 52.8h.9v.9h-.9zM131.8 42.2h.9v.9h-.9zM116.3 49.1h.9v.9h-.9zM115.7 53.7h.9v.9h-.9zM109.5 50.3h.9v.9h-.9zM121.9 45.6h.9v.9h-.9zM125.6 46.0h.9v.9h-.9zM114.7 53.0h.9v.9h-.9zM123.9 41.5h.9v.9h-.9zM132.4 44.0h.9v.9h-.9zM123.5 41.8h.9v.9h-.9zM116.3 49.5h.9v.9h-.9zM125.8 41.8h.9v.9h-.9zM113.5 46.2h.9v.9h-.9zM119.9 49.7h.9v.9h-.9zM110.3 51.8h.9v.9h-.9zM125.8 50.3h.9v.9h-.9zM124.6 45.6h.9v.9h-.9zM113.0 49.5h.9v.9h-.9zM117.2 50.5h.9v.9h-.9zM122.5 52.1h.9v.9h-.9zM121.5 45.0h.9v.9h-.9zM131.2 45.9h.9v.9h-.9zM120.8 46.3h.9v.9h-.9zM108.8 51.3h.9v.9h-.9zM125.5 43.8h.9v.9h-.9zM113.4 52.5h.9v.9h-.9zM123.1 48.9h.9v.9h-.9zM126.4 49.5h.9v.9h-.9zM117.1 52.8h.9v.9h-.9zM115.9 52.6h.9v.9h-.9zM122.3 48.2h.9v.9h-.9zM126.7 45.4h.9v.9h-.9zM128.6 46.9h.9v.9h-.9zM121.2 46.5h.9v.9h-.9zM116.0 49.2h.9v.9h-.9zM119.8 48.7h.9v.9h-.9zM139.4 41.0h.9v.9h-.9zM124.6 44.0h.9v.9h-.9zM116.4 49.5h.9v.9h-.9zM121.0 45.3h.9v.9h-.9zM129.9 42.3h.9v.9h-.9zM124.8 39.8h.9v.9h-.9zM121.3 48.8h.9v.9h-.9zM122.8 49.0h.9v.9h-.9zM122.8 47.8h.9v.9h-.9zM109.0 52.1h.9v.9h-.9zM122.6 46.9h.9v.9h-.9zM115.5 49.3h.9v.9h-.9zM133.8 46.8h.9v.9h-.9zM122.1 51.3h.9v.9h-.9zM109.5 48.4h.9v.9h-.9zM117.2 47.6h.9v.9h-.9zM117.9 50.2h.9v.9h-.9zM138.2 38.0h.9v.9h-.9zM121.6 48.7h.9v.9h-.9zM121.8 50.4h.9v.9h-.9zM130.2 40.3h.9v.9h-.9zM121.7 47.1h.9v.9h-.9zM121.4 43.7h.9v.9h-.9zM108.0 48.1h.9v.9h-.9zM124.3 47.1h.9v.9h-.9zM118.8 42.7h.9v.9h-.9zM118.0 47.6h.9v.9h-.9zM111.6 50.2h.9v.9h-.9zM125.7 47.4h.9v.9h-.9zM121.4 49.4h.9v.9h-.9zM117.5 50.1h.9v.9h-.9zM121.8 49.3h.9v.9h-.9z"/>
<ellipse cx="119.5" cy="49" rx="8.5" ry="3.4" transform="rotate(-22 119.5 49)" fill="#000" opacity="0.75" filter="url(#b1)"/>
<text x="229.60" y="20.40" font-size="18.3" font-weight="bold">B</text>
<text x="260.40" y="93.50" font-size="9.6" text-anchor="middle" transform="rotate(-90 260.40 93.50)" textLength="63" lengthAdjust="spacingAndGlyphs">LIC Frequency</text>
<text x="315.50" y="11.00" font-size="10.3" text-anchor="middle">AML1</text>
<text x="312.60" y="28.60" font-size="8.8" text-anchor="middle">p=0.0047</text>
<line x1="301.70" y1="34.30" x2="326.80" y2="34.30" stroke="#000" stroke-width="1.8"/>
<rect x="295.10" y="96.80" width="16.60" height="60.00" fill="#1a74cc"/>
<rect x="319.90" y="64.40" width="16.40" height="92.40" fill="#1a74cc"/>
<line x1="303.80" y1="79.00" x2="303.80" y2="115.40" stroke="#111" stroke-width="1.3"/>
<line x1="301.60" y1="79.00" x2="306.00" y2="79.00" stroke="#111" stroke-width="1.3"/>
<line x1="301.60" y1="115.40" x2="306.00" y2="115.40" stroke="#111" stroke-width="1.3"/>
<line x1="328.50" y1="48.40" x2="328.50" y2="79.50" stroke="#111" stroke-width="1.3"/>
<line x1="326.30" y1="48.40" x2="330.70" y2="48.40" stroke="#111" stroke-width="1.3"/>
<line x1="326.30" y1="79.50" x2="330.70" y2="79.50" stroke="#111" stroke-width="1.3"/>
<line x1="291.30" y1="33.60" x2="291.30" y2="157.60" stroke="#000" stroke-width="1.5"/>
<line x1="291.30" y1="156.80" x2="341.10" y2="156.80" stroke="#000" stroke-width="1.5"/>
<line x1="315.90" y1="156.80" x2="315.90" y2="159.00" stroke="#000" stroke-width="1.1"/>
<line x1="341.10" y1="156.10" x2="341.10" y2="159.00" stroke="#000" stroke-width="1.1"/>
<line x1="288.50" y1="34.20" x2="291.30" y2="34.20" stroke="#000" stroke-width="1.4"/>
<text x="284.70" y="35.70" font-size="7.7" text-anchor="end" fill="#111">1x10</text>
<text x="288.40" y="32.60" font-size="4.8" text-anchor="end" fill="#111">5</text>
<line x1="288.50" y1="64.85" x2="291.30" y2="64.85" stroke="#000" stroke-width="1.4"/>
<text x="284.70" y="66.35" font-size="7.7" text-anchor="end" fill="#111">1x10</text>
<text x="288.40" y="63.25" font-size="4.8" text-anchor="end" fill="#111">6</text>
<line x1="288.50" y1="95.50" x2="291.30" y2="95.50" stroke="#000" stroke-width="1.4"/>
<text x="284.70" y="97.00" font-size="7.7" text-anchor="end" fill="#111">1x10</text>
<text x="288.40" y="93.90" font-size="4.8" text-anchor="end" fill="#111">7</text>
<line x1="288.50" y1="126.15" x2="291.30" y2="126.15" stroke="#000" stroke-width="1.4"/>
<text x="284.70" y="127.65" font-size="7.7" text-anchor="end" fill="#111">1x10</text>
<text x="288.40" y="124.55" font-size="4.8" text-anchor="end" fill="#111">8</text>
<line x1="288.50" y1="156.80" x2="291.30" y2="156.80" stroke="#000" stroke-width="1.4"/>
<text x="284.70" y="158.30" font-size="7.7" text-anchor="end" fill="#111">1x10</text>
<text x="288.40" y="155.20" font-size="4.8" text-anchor="end" fill="#111">9</text>
<text x="301.50" y="168.00" font-size="9" transform="rotate(47 301.50 168.00)">Naïve</text>
<text x="326.30" y="168.00" font-size="9" transform="rotate(47 326.30 168.00)">Resist</text>
<text x="399.60" y="11.00" font-size="10.3" text-anchor="middle">AML3</text>
<text x="397.50" y="28.60" font-size="8.8" text-anchor="middle">p=0.0016</text>
<line x1="387.70" y1="34.30" x2="411.60" y2="34.30" stroke="#000" stroke-width="1.8"/>
<rect x="380.50" y="88.80" width="16.10" height="68.00" fill="#1a74cc"/>
<rect x="404.70" y="55.40" width="16.40" height="101.40" fill="#1a74cc"/>
<line x1="388.80" y1="62.60" x2="388.80" y2="114.80" stroke="#111" stroke-width="1.3"/>
<line x1="386.60" y1="62.60" x2="391.00" y2="62.60" stroke="#111" stroke-width="1.3"/>
<line x1="386.60" y1="114.80" x2="391.00" y2="114.80" stroke="#111" stroke-width="1.3"/>
<line x1="413.30" y1="41.20" x2="413.30" y2="69.20" stroke="#111" stroke-width="1.3"/>
<line x1="411.10" y1="41.20" x2="415.50" y2="41.20" stroke="#111" stroke-width="1.3"/>
<line x1="411.10" y1="69.20" x2="415.50" y2="69.20" stroke="#111" stroke-width="1.3"/>
<line x1="376.10" y1="33.60" x2="376.10" y2="157.60" stroke="#000" stroke-width="1.5"/>
<line x1="376.10" y1="156.80" x2="425.90" y2="156.80" stroke="#000" stroke-width="1.5"/>
<line x1="400.70" y1="156.80" x2="400.70" y2="159.00" stroke="#000" stroke-width="1.1"/>
<line x1="425.90" y1="156.10" x2="425.90" y2="159.00" stroke="#000" stroke-width="1.1"/>
<line x1="373.30" y1="34.20" x2="376.10" y2="34.20" stroke="#000" stroke-width="1.4"/>
<text x="369.50" y="35.70" font-size="7.7" text-anchor="end" fill="#111">1x10</text>
<text x="373.20" y="32.60" font-size="4.8" text-anchor="end" fill="#111">5</text>
<line x1="373.30" y1="64.85" x2="376.10" y2="64.85" stroke="#000" stroke-width="1.4"/>
<text x="369.50" y="66.35" font-size="7.7" text-anchor="end" fill="#111">1x10</text>
<text x="373.20" y="63.25" font-size="4.8" text-anchor="end" fill="#111">6</text>
<line x1="373.30" y1="95.50" x2="376.10" y2="95.50" stroke="#000" stroke-width="1.4"/>
<text x="369.50" y="97.00" font-size="7.7" text-anchor="end" fill="#111">1x10</text>
<text x="373.20" y="93.90" font-size="4.8" text-anchor="end" fill="#111">7</text>
<line x1="373.30" y1="126.15" x2="376.10" y2="126.15" stroke="#000" stroke-width="1.4"/>
<text x="369.50" y="127.65" font-size="7.7" text-anchor="end" fill="#111">1x10</text>
<text x="373.20" y="124.55" font-size="4.8" text-anchor="end" fill="#111">8</text>
<line x1="373.30" y1="156.80" x2="376.10" y2="156.80" stroke="#000" stroke-width="1.4"/>
<text x="369.50" y="158.30" font-size="7.7" text-anchor="end" fill="#111">1x10</text>
<text x="373.20" y="155.20" font-size="4.8" text-anchor="end" fill="#111">9</text>
<text x="386.30" y="168.00" font-size="9" transform="rotate(47 386.30 168.00)">Naïve</text>
<text x="411.10" y="168.00" font-size="9" transform="rotate(47 411.10 168.00)">Resist</text>
<text x="485.00" y="11.00" font-size="10.3" text-anchor="middle">AML10</text>
<text x="486.70" y="28.60" font-size="8.8" text-anchor="middle">p=0.0040</text>
<line x1="473.30" y1="34.30" x2="497.80" y2="34.30" stroke="#000" stroke-width="1.8"/>
<rect x="466.30" y="89.30" width="15.90" height="67.50" fill="#1a74cc"/>
<rect x="490.60" y="55.00" width="16.40" height="101.80" fill="#1a74cc"/>
<line x1="474.60" y1="70.90" x2="474.60" y2="107.50" stroke="#111" stroke-width="1.3"/>
<line x1="472.40" y1="70.90" x2="476.80" y2="70.90" stroke="#111" stroke-width="1.3"/>
<line x1="472.40" y1="107.50" x2="476.80" y2="107.50" stroke="#111" stroke-width="1.3"/>
<line x1="499.20" y1="40.70" x2="499.20" y2="69.20" stroke="#111" stroke-width="1.3"/>
<line x1="497.00" y1="40.70" x2="501.40" y2="40.70" stroke="#111" stroke-width="1.3"/>
<line x1="497.00" y1="69.20" x2="501.40" y2="69.20" stroke="#111" stroke-width="1.3"/>
<line x1="461.50" y1="33.60" x2="461.50" y2="157.60" stroke="#000" stroke-width="1.5"/>
<line x1="461.50" y1="156.80" x2="511.30" y2="156.80" stroke="#000" stroke-width="1.5"/>
<line x1="486.10" y1="156.80" x2="486.10" y2="159.00" stroke="#000" stroke-width="1.1"/>
<line x1="511.30" y1="156.10" x2="511.30" y2="159.00" stroke="#000" stroke-width="1.1"/>
<line x1="458.70" y1="34.20" x2="461.50" y2="34.20" stroke="#000" stroke-width="1.4"/>
<text x="454.90" y="35.70" font-size="7.7" text-anchor="end" fill="#111">1x10</text>
<text x="458.60" y="32.60" font-size="4.8" text-anchor="end" fill="#111">4</text>
<line x1="458.70" y1="64.85" x2="461.50" y2="64.85" stroke="#000" stroke-width="1.4"/>
<text x="454.90" y="66.35" font-size="7.7" text-anchor="end" fill="#111">1x10</text>
<text x="458.60" y="63.25" font-size="4.8" text-anchor="end" fill="#111">5</text>
<line x1="458.70" y1="95.50" x2="461.50" y2="95.50" stroke="#000" stroke-width="1.4"/>
<text x="454.90" y="97.00" font-size="7.7" text-anchor="end" fill="#111">1x10</text>
<text x="458.60" y="93.90" font-size="4.8" text-anchor="end" fill="#111">6</text>
<line x1="458.70" y1="126.15" x2="461.50" y2="126.15" stroke="#000" stroke-width="1.4"/>
<text x="454.90" y="127.65" font-size="7.7" text-anchor="end" fill="#111">1x10</text>
<text x="458.60" y="124.55" font-size="4.8" text-anchor="end" fill="#111">7</text>
<line x1="458.70" y1="156.80" x2="461.50" y2="156.80" stroke="#000" stroke-width="1.4"/>
<text x="454.90" y="158.30" font-size="7.7" text-anchor="end" fill="#111">1x10</text>
<text x="458.60" y="155.20" font-size="4.8" text-anchor="end" fill="#111">8</text>
<text x="471.70" y="168.00" font-size="9" transform="rotate(47 471.70 168.00)">Naïve</text>
<text x="496.50" y="168.00" font-size="9" transform="rotate(47 496.50 168.00)">Resist</text>
<text x="7.40" y="195.90" font-size="18.3" font-weight="bold">C</text>
<line x1="54.60" y1="194.20" x2="54.60" y2="325.20" stroke="#b4545c" stroke-width="1.4"/>
<line x1="54.00" y1="324.60" x2="193.60" y2="324.60" stroke="#b4545c" stroke-width="1.4"/>
<line x1="54.60" y1="325.00" x2="57.00" y2="325.00" stroke="#b4545c" stroke-width="1.0"/>
<text x="51.00" y="328.70" font-size="10.4" text-anchor="end" fill="#222">0</text>
<line x1="54.60" y1="299.00" x2="57.00" y2="299.00" stroke="#b4545c" stroke-width="1.0"/>
<text x="51.00" y="302.70" font-size="10.4" text-anchor="end" fill="#222">20</text>
<line x1="54.60" y1="273.00" x2="57.00" y2="273.00" stroke="#b4545c" stroke-width="1.0"/>
<text x="51.00" y="276.70" font-size="10.4" text-anchor="end" fill="#222">40</text>
<line x1="54.60" y1="247.00" x2="57.00" y2="247.00" stroke="#b4545c" stroke-width="1.0"/>
<text x="51.00" y="250.70" font-size="10.4" text-anchor="end" fill="#222">60</text>
<line x1="54.60" y1="221.00" x2="57.00" y2="221.00" stroke="#b4545c" stroke-width="1.0"/>
<text x="51.00" y="224.70" font-size="10.4" text-anchor="end" fill="#222">80</text>
<line x1="54.60" y1="195.00" x2="57.00" y2="195.00" stroke="#b4545c" stroke-width="1.0"/>
<text x="51.00" y="198.70" font-size="10.4" text-anchor="end" fill="#222">100</text>
<line x1="58.80" y1="324.60" x2="58.80" y2="322.40" stroke="#b4545c" stroke-width="1.0"/>
<line x1="69.88" y1="324.60" x2="69.88" y2="322.40" stroke="#b4545c" stroke-width="1.0"/>
<line x1="80.96" y1="324.60" x2="80.96" y2="322.40" stroke="#b4545c" stroke-width="1.0"/>
<line x1="92.04" y1="324.60" x2="92.04" y2="322.40" stroke="#b4545c" stroke-width="1.0"/>
<line x1="103.12" y1="324.60" x2="103.12" y2="322.40" stroke="#b4545c" stroke-width="1.0"/>
<line x1="114.20" y1="324.60" x2="114.20" y2="322.40" stroke="#b4545c" stroke-width="1.0"/>
<line x1="125.28" y1="324.60" x2="125.28" y2="322.40" stroke="#b4545c" stroke-width="1.0"/>
<line x1="136.36" y1="324.60" x2="136.36" y2="322.40" stroke="#b4545c" stroke-width="1.0"/>
<line x1="147.44" y1="324.60" x2="147.44" y2="322.40" stroke="#b4545c" stroke-width="1.0"/>
<line x1="158.52" y1="324.60" x2="158.52" y2="322.40" stroke="#b4545c" stroke-width="1.0"/>
<line x1="169.60" y1="324.60" x2="169.60" y2="322.40" stroke="#b4545c" stroke-width="1.0"/>
<line x1="180.68" y1="324.60" x2="180.68" y2="322.40" stroke="#b4545c" stroke-width="1.0"/>
<line x1="191.76" y1="324.60" x2="191.76" y2="322.40" stroke="#b4545c" stroke-width="1.0"/>
<text x="58.80" y="338.00" font-size="10.4" text-anchor="middle" fill="#222">0</text>
<text x="80.96" y="338.00" font-size="10.4" text-anchor="middle" fill="#222">2</text>
<text x="103.12" y="338.00" font-size="10.4" text-anchor="middle" fill="#222">4</text>
<text x="125.28" y="338.00" font-size="10.4" text-anchor="middle" fill="#222">6</text>
<text x="147.44" y="338.00" font-size="10.4" text-anchor="middle" fill="#222">8</text>
<text x="169.60" y="338.00" font-size="10.4" text-anchor="middle" fill="#222">10</text>
<text x="191.76" y="338.00" font-size="10.4" text-anchor="middle" fill="#222">12</text>
<text x="126.50" y="354.20" font-size="11" text-anchor="middle" fill="#222" textLength="130.5" lengthAdjust="spacingAndGlyphs">Time post transplantation</text>
<text x="125.00" y="368.20" font-size="11" text-anchor="middle" fill="#222">(week)</text>
<text x="27.20" y="261.00" font-size="11.4" text-anchor="middle" fill="#555" transform="rotate(-90 27.20 261.00)" textLength="117.5" lengthAdjust="spacingAndGlyphs">Survival Probability (%)</text>
<path d="M55.00,194.80 L101.90,194.80 L101.90,204.50 L145.60,204.50 L145.60,213.80 L155.60,213.80 L155.60,218.20 L193.40,218.20" stroke="#6b6bbb" stroke-width="1.7" fill="none"/>
<path d="M55.00,194.80 L80.30,194.80 L80.30,203.80 L99.00,203.80 L99.00,208.20 L104.80,208.20 L104.80,213.80 L127.90,213.80 L127.90,222.00 L136.50,222.00 L136.50,231.70 L151.00,231.70 L152.60,241.00 L181.50,241.00 L181.50,250.50 L193.40,250.50" stroke="#a54a4a" stroke-width="1.5" fill="none" stroke-dasharray="2.2,1.4"/>
<text x="163.00" y="213.80" font-size="10.9" fill="#7070c2" textLength="27.7" lengthAdjust="spacingAndGlyphs">Naïve</text>
<text x="160.50" y="235.50" font-size="10.9" fill="#a44848" textLength="30.2" lengthAdjust="spacingAndGlyphs">Resist</text>
<text x="140.80" y="268.60" font-size="10.2" fill="#333" textLength="22.8" lengthAdjust="spacingAndGlyphs">n=28</text>
<text x="140.80" y="282.30" font-size="10.2" fill="#333" textLength="43.3" lengthAdjust="spacingAndGlyphs">p=0.0425</text>
<text x="202.40" y="197.90" font-size="19.6" font-weight="bold" textLength="14" lengthAdjust="spacingAndGlyphs">D</text>
<clipPath id="cp1"><rect x="221.5" y="189.5" width="93.2" height="77.2"/></clipPath>
<g clip-path="url(#cp1)">
<rect x="221.5" y="189.5" width="93.2" height="77.2" fill="url(#bg1)"/>
<g filter="url(#b08)">
<path d="M242,195.5 C248,193.5 256,193.5 262,196 C266,199 267.5,206 268.7,214.7 C269.8,225 270,238 268.7,253.5 C267,259 265,262 263,262.6 C258,264.8 255,265 251.5,264.9 C246,264.5 242,262.5 240.1,260.3 C236,256 234,252 233.3,248.9 C232,241 231.8,235 232.1,230.7 C232.5,220 233.5,213 234.4,207.8 C236,201 238.5,197 242,195.5 Z" fill="#d9d9bb"/>
<ellipse cx="250" cy="216" rx="12" ry="18" fill="#e0e0c6"/>
<ellipse cx="245" cy="207" rx="6" ry="8" fill="#e6e6d2"/>
<ellipse cx="246" cy="252" rx="10" ry="10" fill="#e2dccc" opacity="0.8"/>
<ellipse cx="265.5" cy="236" rx="3" ry="20" fill="#bec2a4" opacity="0.8"/>
<ellipse cx="234.5" cy="232" rx="2" ry="16" fill="#c4c6aa" opacity="0.7"/>
<ellipse cx="256" cy="262" rx="9" ry="2.5" fill="#b8b0a0" opacity="0.6"/>
<path d="M239,199 L242.5,192.5 L247.5,197.5 Z" fill="#dcc8b0"/>
<path d="M255,199.5 L259,192 L263.5,200 Z" fill="#c8a684"/>
<path d="M271,198.7 C272,195 278,193.5 284,193.8 C290,194 296,195.5 299.5,201 C301,204 301.8,207 301.8,210.1 C303.5,215 305,219 306.3,223.8 C308.5,229 310.5,233 312,237.5 C313.5,242 314.3,246 314.3,249 C314.2,251 313.8,252.5 313.2,253.5 C311,257 308.5,259 306.3,260.3 C304,262 302,263 299.5,263.8 C296,264.6 293,265 290.3,264.9 C286,264 283,263 281.2,261.5 C279,259 277.5,256 276.6,253.5 C275.8,249 275.2,245 274.8,242 C274,236 273.5,231 273.2,226.1 C272.5,220 272,215 271.6,210.1 C271.2,206 271,202 271,198.7 Z" fill="#d8d8b8"/>
<ellipse cx="286" cy="218" rx="11" ry="18" fill="#dcdcc0"/>
<ellipse cx="300" cy="243" rx="9" ry="11" fill="#dedabc"/>
<ellipse cx="277" cy="228" rx="2.5" ry="20" fill="#c0c4a6" opacity="0.7"/>
<path d="M279,251 C284,253 292,256 300,258 C304,259 305,262 302,264.5 C296,266 287,266 282,263 C279,260 278,255 279,251 Z" fill="#8a7868" opacity="0.5"/>
<ellipse cx="313.5" cy="252" rx="2" ry="4.5" fill="#5a4034" opacity="0.9"/>
<path d="M270.5,200 L273.5,193.5 L278,198.5 Z" fill="#d8caae"/>
<path d="M290,198 L294,192.5 L298,199.5 Z" fill="#d6bc9c"/>
<rect x="269.6" y="196" width="2.6" height="68" fill="#c4c8d4" opacity="0.8"/>
<ellipse cx="241.4" cy="210.0" rx="1.0" ry="1.3" transform="rotate(170 241.4 210.0)" fill="#eeeee2" opacity="0.4"/>
<ellipse cx="242.1" cy="205.1" rx="1.6" ry="1.7" transform="rotate(69 242.1 205.1)" fill="#eaead8" opacity="0.4"/>
<ellipse cx="255.6" cy="237.0" rx="1.7" ry="1.0" transform="rotate(156 255.6 237.0)" fill="#e4e4cc" opacity="0.4"/>
<ellipse cx="240.6" cy="244.8" rx="1.2" ry="1.4" transform="rotate(23 240.6 244.8)" fill="#eaead8" opacity="0.4"/>
<ellipse cx="263.1" cy="228.3" rx="2.2" ry="1.8" transform="rotate(30 263.1 228.3)" fill="#e4e4cc" opacity="0.4"/>
<ellipse cx="253.9" cy="242.5" rx="1.9" ry="1.5" transform="rotate(37 253.9 242.5)" fill="#e4e4cc" opacity="0.4"/>
<ellipse cx="260.8" cy="219.0" rx="1.5" ry="1.2" transform="rotate(30 260.8 219.0)" fill="#bcbca0" opacity="0.4"/>
<ellipse cx="252.2" cy="234.1" rx="2.3" ry="1.4" transform="rotate(107 252.2 234.1)" fill="#c6c6a8" opacity="0.4"/>
<ellipse cx="249.1" cy="220.6" rx="2.3" ry="1.3" transform="rotate(57 249.1 220.6)" fill="#c6c6a8" opacity="0.4"/>
<ellipse cx="238.3" cy="231.0" rx="1.4" ry="1.7" transform="rotate(171 238.3 231.0)" fill="#eaead8" opacity="0.4"/>
<ellipse cx="244.4" cy="242.9" rx="2.3" ry="1.2" transform="rotate(104 244.4 242.9)" fill="#eeeee2" opacity="0.4"/>
<ellipse cx="253.0" cy="228.4" rx="2.0" ry="1.8" transform="rotate(21 253.0 228.4)" fill="#e4e4cc" opacity="0.4"/>
<ellipse cx="250.3" cy="255.1" rx="1.6" ry="1.2" transform="rotate(94 250.3 255.1)" fill="#bcbca0" opacity="0.4"/>
<ellipse cx="250.7" cy="218.3" rx="2.4" ry="0.8" transform="rotate(170 250.7 218.3)" fill="#c6c6a8" opacity="0.4"/>
<ellipse cx="256.9" cy="237.5" rx="1.6" ry="0.9" transform="rotate(50 256.9 237.5)" fill="#eeeee2" opacity="0.4"/>
<ellipse cx="248.8" cy="219.3" rx="1.5" ry="1.6" transform="rotate(113 248.8 219.3)" fill="#c6c6a8" opacity="0.4"/>
<ellipse cx="248.6" cy="211.6" rx="1.3" ry="0.8" transform="rotate(178 248.6 211.6)" fill="#bcbca0" opacity="0.4"/>
<ellipse cx="241.3" cy="224.0" rx="2.2" ry="1.1" transform="rotate(45 241.3 224.0)" fill="#e4e4cc" opacity="0.4"/>
<ellipse cx="246.9" cy="218.7" rx="2.3" ry="1.1" transform="rotate(37 246.9 218.7)" fill="#eaead8" opacity="0.4"/>
<ellipse cx="260.4" cy="225.4" rx="2.0" ry="1.6" transform="rotate(19 260.4 225.4)" fill="#e4e4cc" opacity="0.4"/>
<ellipse cx="245.0" cy="232.6" rx="1.5" ry="1.3" transform="rotate(180 245.0 232.6)" fill="#bcbca0" opacity="0.4"/>
<ellipse cx="258.3" cy="204.3" rx="2.5" ry="1.5" transform="rotate(57 258.3 204.3)" fill="#bcbca0" opacity="0.4"/>
<ellipse cx="248.6" cy="248.3" rx="1.2" ry="1.6" transform="rotate(96 248.6 248.3)" fill="#e4e4cc" opacity="0.4"/>
<ellipse cx="255.8" cy="254.2" rx="1.3" ry="1.3" transform="rotate(93 255.8 254.2)" fill="#c6c6a8" opacity="0.4"/>
<ellipse cx="240.5" cy="221.7" rx="2.3" ry="1.6" transform="rotate(125 240.5 221.7)" fill="#eaead8" opacity="0.4"/>
<ellipse cx="243.7" cy="205.6" rx="1.9" ry="1.5" transform="rotate(150 243.7 205.6)" fill="#c6c6a8" opacity="0.4"/>
<ellipse cx="248.7" cy="257.6" rx="2.5" ry="1.1" transform="rotate(32 248.7 257.6)" fill="#c6c6a8" opacity="0.4"/>
<ellipse cx="255.8" cy="211.4" rx="1.5" ry="1.1" transform="rotate(52 255.8 211.4)" fill="#c6c6a8" opacity="0.4"/>
<ellipse cx="238.5" cy="227.9" rx="1.6" ry="1.4" transform="rotate(133 238.5 227.9)" fill="#c6c6a8" opacity="0.4"/>
<ellipse cx="253.9" cy="212.3" rx="2.4" ry="1.5" transform="rotate(176 253.9 212.3)" fill="#e4e4cc" opacity="0.4"/>
<ellipse cx="259.7" cy="222.2" rx="2.6" ry="1.0" transform="rotate(65 259.7 222.2)" fill="#eeeee2" opacity="0.4"/>
<ellipse cx="254.5" cy="215.3" rx="2.2" ry="1.5" transform="rotate(31 254.5 215.3)" fill="#eaead8" opacity="0.4"/>
<ellipse cx="252.0" cy="205.6" rx="1.5" ry="1.4" transform="rotate(156 252.0 205.6)" fill="#bcbca0" opacity="0.4"/>
<ellipse cx="248.2" cy="257.7" rx="1.3" ry="1.2" transform="rotate(117 248.2 257.7)" fill="#e4e4cc" opacity="0.4"/>
<ellipse cx="252.2" cy="252.4" rx="2.6" ry="1.8" transform="rotate(30 252.2 252.4)" fill="#eaead8" opacity="0.4"/>
<ellipse cx="253.6" cy="221.7" rx="1.8" ry="1.3" transform="rotate(75 253.6 221.7)" fill="#e4e4cc" opacity="0.4"/>
<ellipse cx="243.2" cy="247.7" rx="1.9" ry="1.0" transform="rotate(163 243.2 247.7)" fill="#eaead8" opacity="0.4"/>
<ellipse cx="258.9" cy="228.1" rx="2.4" ry="1.7" transform="rotate(124 258.9 228.1)" fill="#c6c6a8" opacity="0.4"/>
<ellipse cx="236.9" cy="219.4" rx="2.0" ry="0.9" transform="rotate(98 236.9 219.4)" fill="#eeeee2" opacity="0.4"/>
<ellipse cx="244.3" cy="247.4" rx="2.3" ry="1.2" transform="rotate(146 244.3 247.4)" fill="#c6c6a8" opacity="0.4"/>
<ellipse cx="244.7" cy="213.8" rx="1.3" ry="1.2" transform="rotate(86 244.7 213.8)" fill="#e4e4cc" opacity="0.4"/>
<ellipse cx="251.6" cy="238.4" rx="1.6" ry="1.7" transform="rotate(0 251.6 238.4)" fill="#eaead8" opacity="0.4"/>
<ellipse cx="258.2" cy="242.2" rx="1.9" ry="1.1" transform="rotate(158 258.2 242.2)" fill="#eeeee2" opacity="0.4"/>
<ellipse cx="241.6" cy="220.3" rx="1.8" ry="1.3" transform="rotate(127 241.6 220.3)" fill="#e4e4cc" opacity="0.4"/>
<ellipse cx="240.4" cy="246.5" rx="2.0" ry="1.1" transform="rotate(177 240.4 246.5)" fill="#e4e4cc" opacity="0.4"/>
<ellipse cx="241.0" cy="228.5" rx="2.5" ry="1.1" transform="rotate(167 241.0 228.5)" fill="#c6c6a8" opacity="0.4"/>
<ellipse cx="251.3" cy="231.6" rx="2.5" ry="1.0" transform="rotate(7 251.3 231.6)" fill="#eeeee2" opacity="0.4"/>
<ellipse cx="255.7" cy="242.2" rx="1.9" ry="1.1" transform="rotate(168 255.7 242.2)" fill="#bcbca0" opacity="0.4"/>
<ellipse cx="251.4" cy="213.4" rx="2.4" ry="1.5" transform="rotate(51 251.4 213.4)" fill="#c6c6a8" opacity="0.4"/>
<ellipse cx="236.1" cy="229.5" rx="2.0" ry="1.4" transform="rotate(134 236.1 229.5)" fill="#eeeee2" opacity="0.4"/>
<ellipse cx="259.0" cy="245.7" rx="1.5" ry="1.5" transform="rotate(110 259.0 245.7)" fill="#c6c6a8" opacity="0.4"/>
<ellipse cx="249.7" cy="223.1" rx="1.6" ry="1.5" transform="rotate(106 249.7 223.1)" fill="#c6c6a8" opacity="0.4"/>
<ellipse cx="256.9" cy="231.4" rx="2.1" ry="0.9" transform="rotate(124 256.9 231.4)" fill="#bcbca0" opacity="0.4"/>
<ellipse cx="253.3" cy="246.3" rx="2.0" ry="1.5" transform="rotate(172 253.3 246.3)" fill="#bcbca0" opacity="0.4"/>
<ellipse cx="242.3" cy="205.6" rx="1.8" ry="1.5" transform="rotate(130 242.3 205.6)" fill="#bcbca0" opacity="0.4"/>
<ellipse cx="257.7" cy="215.9" rx="1.5" ry="0.8" transform="rotate(140 257.7 215.9)" fill="#eaead8" opacity="0.4"/>
<ellipse cx="240.2" cy="216.1" rx="2.5" ry="0.9" transform="rotate(86 240.2 216.1)" fill="#bcbca0" opacity="0.4"/>
<ellipse cx="240.6" cy="221.6" rx="1.9" ry="1.2" transform="rotate(97 240.6 221.6)" fill="#c6c6a8" opacity="0.4"/>
<ellipse cx="261.4" cy="235.7" rx="2.3" ry="1.6" transform="rotate(119 261.4 235.7)" fill="#c6c6a8" opacity="0.4"/>
<ellipse cx="261.7" cy="232.1" rx="2.6" ry="1.5" transform="rotate(9 261.7 232.1)" fill="#eaead8" opacity="0.4"/>
<ellipse cx="253.6" cy="216.2" rx="2.1" ry="0.9" transform="rotate(53 253.6 216.2)" fill="#eaead8" opacity="0.4"/>
<ellipse cx="254.7" cy="222.3" rx="1.3" ry="1.6" transform="rotate(12 254.7 222.3)" fill="#eeeee2" opacity="0.4"/>
<ellipse cx="252.4" cy="249.8" rx="2.2" ry="1.1" transform="rotate(103 252.4 249.8)" fill="#bcbca0" opacity="0.4"/>
<ellipse cx="256.5" cy="240.8" rx="1.2" ry="1.2" transform="rotate(57 256.5 240.8)" fill="#eeeee2" opacity="0.4"/>
<ellipse cx="242.1" cy="215.6" rx="2.5" ry="0.9" transform="rotate(53 242.1 215.6)" fill="#c6c6a8" opacity="0.4"/>
<ellipse cx="239.5" cy="217.7" rx="2.5" ry="1.4" transform="rotate(112 239.5 217.7)" fill="#c6c6a8" opacity="0.4"/>
<ellipse cx="249.1" cy="250.2" rx="2.3" ry="1.1" transform="rotate(176 249.1 250.2)" fill="#c6c6a8" opacity="0.4"/>
<ellipse cx="254.6" cy="202.0" rx="2.2" ry="1.0" transform="rotate(128 254.6 202.0)" fill="#bcbca0" opacity="0.4"/>
<ellipse cx="247.7" cy="220.8" rx="1.1" ry="0.9" transform="rotate(107 247.7 220.8)" fill="#eaead8" opacity="0.4"/>
<ellipse cx="250.9" cy="256.0" rx="2.5" ry="0.9" transform="rotate(96 250.9 256.0)" fill="#bcbca0" opacity="0.4"/>
<ellipse cx="283.8" cy="223.8" rx="2.5" ry="1.2" transform="rotate(143 283.8 223.8)" fill="#e4e4cc" opacity="0.4"/>
<ellipse cx="291.0" cy="220.5" rx="2.3" ry="0.9" transform="rotate(112 291.0 220.5)" fill="#bcbca0" opacity="0.4"/>
<ellipse cx="287.5" cy="238.0" rx="2.5" ry="1.5" transform="rotate(143 287.5 238.0)" fill="#c6c6a8" opacity="0.4"/>
<ellipse cx="283.6" cy="243.3" rx="2.0" ry="1.6" transform="rotate(78 283.6 243.3)" fill="#c6c6a8" opacity="0.4"/>
<ellipse cx="296.1" cy="213.0" rx="2.6" ry="1.0" transform="rotate(32 296.1 213.0)" fill="#eeeee2" opacity="0.4"/>
<ellipse cx="293.1" cy="229.9" rx="1.3" ry="0.8" transform="rotate(160 293.1 229.9)" fill="#e4e4cc" opacity="0.4"/>
<ellipse cx="280.6" cy="230.7" rx="1.7" ry="1.1" transform="rotate(168 280.6 230.7)" fill="#eaead8" opacity="0.4"/>
<ellipse cx="297.0" cy="221.0" rx="1.2" ry="1.0" transform="rotate(29 297.0 221.0)" fill="#bcbca0" opacity="0.4"/>
<ellipse cx="285.7" cy="239.4" rx="1.2" ry="1.1" transform="rotate(50 285.7 239.4)" fill="#bcbca0" opacity="0.4"/>
<ellipse cx="294.4" cy="239.8" rx="1.1" ry="1.7" transform="rotate(62 294.4 239.8)" fill="#e4e4cc" opacity="0.4"/>
<ellipse cx="291.1" cy="213.4" rx="2.1" ry="1.5" transform="rotate(85 291.1 213.4)" fill="#eaead8" opacity="0.4"/>
<ellipse cx="294.9" cy="225.0" rx="1.5" ry="1.5" transform="rotate(131 294.9 225.0)" fill="#c6c6a8" opacity="0.4"/>
<ellipse cx="293.8" cy="238.0" rx="1.9" ry="1.5" transform="rotate(111 293.8 238.0)" fill="#eaead8" opacity="0.4"/>
<ellipse cx="299.6" cy="216.5" rx="1.3" ry="1.2" transform="rotate(12 299.6 216.5)" fill="#c6c6a8" opacity="0.4"/>
<ellipse cx="299.2" cy="227.3" rx="1.3" ry="1.0" transform="rotate(8 299.2 227.3)" fill="#e4e4cc" opacity="0.4"/>
<ellipse cx="283.1" cy="214.0" rx="1.0" ry="0.9" transform="rotate(140 283.1 214.0)" fill="#c6c6a8" opacity="0.4"/>
<ellipse cx="288.9" cy="230.9" rx="2.3" ry="1.6" transform="rotate(102 288.9 230.9)" fill="#eeeee2" opacity="0.4"/>
<ellipse cx="300.4" cy="219.8" rx="2.4" ry="1.3" transform="rotate(168 300.4 219.8)" fill="#e4e4cc" opacity="0.4"/>
<ellipse cx="296.6" cy="232.3" rx="1.8" ry="1.6" transform="rotate(9 296.6 232.3)" fill="#eaead8" opacity="0.4"/>
<ellipse cx="295.0" cy="213.0" rx="2.4" ry="1.8" transform="rotate(35 295.0 213.0)" fill="#eaead8" opacity="0.4"/>
<ellipse cx="287.8" cy="208.4" rx="1.9" ry="0.9" transform="rotate(56 287.8 208.4)" fill="#e4e4cc" opacity="0.4"/>
<ellipse cx="297.9" cy="240.0" rx="2.0" ry="1.7" transform="rotate(39 297.9 240.0)" fill="#e4e4cc" opacity="0.4"/>
<ellipse cx="299.8" cy="230.1" rx="1.7" ry="1.6" transform="rotate(94 299.8 230.1)" fill="#bcbca0" opacity="0.4"/>
<ellipse cx="291.9" cy="230.1" rx="2.1" ry="1.7" transform="rotate(180 291.9 230.1)" fill="#c6c6a8" opacity="0.4"/>
<ellipse cx="286.8" cy="224.8" rx="1.1" ry="1.6" transform="rotate(147 286.8 224.8)" fill="#bcbca0" opacity="0.4"/>
<ellipse cx="289.3" cy="236.6" rx="1.8" ry="1.5" transform="rotate(144 289.3 236.6)" fill="#eaead8" opacity="0.4"/>
<ellipse cx="300.6" cy="223.7" rx="1.1" ry="1.5" transform="rotate(9 300.6 223.7)" fill="#c6c6a8" opacity="0.4"/>
<ellipse cx="293.0" cy="241.2" rx="2.4" ry="0.9" transform="rotate(139 293.0 241.2)" fill="#c6c6a8" opacity="0.4"/>
<ellipse cx="283.3" cy="243.6" rx="2.4" ry="1.5" transform="rotate(137 283.3 243.6)" fill="#eaead8" opacity="0.4"/>
<ellipse cx="283.9" cy="220.2" rx="2.2" ry="1.5" transform="rotate(48 283.9 220.2)" fill="#eaead8" opacity="0.4"/>
<ellipse cx="293.8" cy="213.1" rx="1.5" ry="1.1" transform="rotate(25 293.8 213.1)" fill="#e4e4cc" opacity="0.4"/>
<ellipse cx="284.2" cy="228.2" rx="1.1" ry="1.6" transform="rotate(100 284.2 228.2)" fill="#eaead8" opacity="0.4"/>
<ellipse cx="293.7" cy="229.0" rx="2.3" ry="1.2" transform="rotate(46 293.7 229.0)" fill="#e4e4cc" opacity="0.4"/>
<ellipse cx="292.5" cy="227.0" rx="1.7" ry="1.2" transform="rotate(59 292.5 227.0)" fill="#eeeee2" opacity="0.4"/>
<ellipse cx="300.1" cy="229.6" rx="2.2" ry="0.9" transform="rotate(95 300.1 229.6)" fill="#e4e4cc" opacity="0.4"/>
<ellipse cx="295.8" cy="247.3" rx="2.2" ry="1.2" transform="rotate(77 295.8 247.3)" fill="#bcbca0" opacity="0.4"/>
<ellipse cx="287.0" cy="243.0" rx="1.7" ry="1.2" transform="rotate(79 287.0 243.0)" fill="#e4e4cc" opacity="0.4"/>
<ellipse cx="292.3" cy="203.0" rx="1.8" ry="1.3" transform="rotate(0 292.3 203.0)" fill="#eeeee2" opacity="0.4"/>
<ellipse cx="298.7" cy="245.2" rx="1.3" ry="0.8" transform="rotate(164 298.7 245.2)" fill="#eaead8" opacity="0.4"/>
<ellipse cx="291.9" cy="249.7" rx="1.6" ry="1.0" transform="rotate(50 291.9 249.7)" fill="#c6c6a8" opacity="0.4"/>
<ellipse cx="293.7" cy="246.6" rx="2.2" ry="1.6" transform="rotate(66 293.7 246.6)" fill="#c6c6a8" opacity="0.4"/>
<ellipse cx="294.9" cy="206.1" rx="2.0" ry="1.2" transform="rotate(26 294.9 206.1)" fill="#eaead8" opacity="0.4"/>
<ellipse cx="295.1" cy="212.1" rx="1.2" ry="1.2" transform="rotate(136 295.1 212.1)" fill="#eaead8" opacity="0.4"/>
<ellipse cx="288.7" cy="252.5" rx="1.8" ry="1.3" transform="rotate(96 288.7 252.5)" fill="#c6c6a8" opacity="0.4"/>
<ellipse cx="295.5" cy="234.3" rx="1.2" ry="1.4" transform="rotate(112 295.5 234.3)" fill="#eaead8" opacity="0.4"/>
<ellipse cx="291.7" cy="224.4" rx="2.0" ry="1.3" transform="rotate(90 291.7 224.4)" fill="#eaead8" opacity="0.4"/>
<ellipse cx="281.4" cy="221.9" rx="2.6" ry="1.6" transform="rotate(166 281.4 221.9)" fill="#bcbca0" opacity="0.4"/>
<ellipse cx="287.5" cy="208.1" rx="1.2" ry="1.2" transform="rotate(172 287.5 208.1)" fill="#eeeee2" opacity="0.4"/>
<ellipse cx="301.4" cy="230.9" rx="1.5" ry="0.9" transform="rotate(16 301.4 230.9)" fill="#e4e4cc" opacity="0.4"/>
<ellipse cx="285.4" cy="243.6" rx="1.5" ry="1.7" transform="rotate(49 285.4 243.6)" fill="#bcbca0" opacity="0.4"/>
<ellipse cx="290.3" cy="221.2" rx="2.1" ry="1.8" transform="rotate(161 290.3 221.2)" fill="#eaead8" opacity="0.4"/>
<ellipse cx="286.8" cy="206.0" rx="2.0" ry="1.0" transform="rotate(93 286.8 206.0)" fill="#eeeee2" opacity="0.4"/>
<ellipse cx="295.7" cy="220.3" rx="1.7" ry="1.8" transform="rotate(121 295.7 220.3)" fill="#eeeee2" opacity="0.4"/>
<ellipse cx="283.5" cy="243.6" rx="2.4" ry="1.7" transform="rotate(110 283.5 243.6)" fill="#eeeee2" opacity="0.4"/>
<ellipse cx="288.0" cy="233.6" rx="2.1" ry="1.8" transform="rotate(45 288.0 233.6)" fill="#eeeee2" opacity="0.4"/>
<ellipse cx="296.3" cy="236.3" rx="2.3" ry="0.9" transform="rotate(171 296.3 236.3)" fill="#c6c6a8" opacity="0.4"/>
<ellipse cx="297.8" cy="235.7" rx="1.4" ry="0.9" transform="rotate(102 297.8 235.7)" fill="#e4e4cc" opacity="0.4"/>
<ellipse cx="296.4" cy="206.7" rx="1.7" ry="1.2" transform="rotate(95 296.4 206.7)" fill="#bcbca0" opacity="0.4"/>
<ellipse cx="296.5" cy="219.9" rx="1.1" ry="1.7" transform="rotate(60 296.5 219.9)" fill="#c6c6a8" opacity="0.4"/>
<ellipse cx="286.9" cy="232.7" rx="1.9" ry="1.4" transform="rotate(33 286.9 232.7)" fill="#c6c6a8" opacity="0.4"/>
<ellipse cx="294.4" cy="246.7" rx="2.2" ry="0.9" transform="rotate(87 294.4 246.7)" fill="#c6c6a8" opacity="0.4"/>
<ellipse cx="297.0" cy="206.1" rx="1.3" ry="1.3" transform="rotate(69 297.0 206.1)" fill="#c6c6a8" opacity="0.4"/>
<ellipse cx="300.3" cy="213.8" rx="2.3" ry="1.3" transform="rotate(18 300.3 213.8)" fill="#eeeee2" opacity="0.4"/>
<ellipse cx="292.7" cy="237.6" rx="1.5" ry="1.2" transform="rotate(137 292.7 237.6)" fill="#eaead8" opacity="0.4"/>
<ellipse cx="283.9" cy="220.2" rx="2.3" ry="1.6" transform="rotate(128 283.9 220.2)" fill="#c6c6a8" opacity="0.4"/>
<ellipse cx="301.4" cy="216.3" rx="1.6" ry="1.6" transform="rotate(35 301.4 216.3)" fill="#eaead8" opacity="0.4"/>
<ellipse cx="288.8" cy="237.7" rx="1.4" ry="1.7" transform="rotate(84 288.8 237.7)" fill="#eaead8" opacity="0.4"/>
<ellipse cx="302.9" cy="228.9" rx="1.2" ry="0.8" transform="rotate(69 302.9 228.9)" fill="#c6c6a8" opacity="0.4"/>
<ellipse cx="285.3" cy="246.7" rx="2.2" ry="1.5" transform="rotate(53 285.3 246.7)" fill="#bcbca0" opacity="0.4"/>
<ellipse cx="297.2" cy="240.1" rx="2.2" ry="1.0" transform="rotate(62 297.2 240.1)" fill="#c6c6a8" opacity="0.4"/>
</g>
<path d="M240.2,228.4 L248.4,235.8" stroke="#f41818" stroke-width="3.8"/>
<path d="M255.6,241.6 L242.2,238.8 L252.0,229.2 Z" fill="#f41818"/>
</g>
<clipPath id="cp2"><rect x="221" y="277" width="96" height="74.8"/></clipPath>
<g clip-path="url(#cp2)">
<rect x="221" y="277" width="96" height="74.8" fill="url(#bg2)"/>
<g filter="url(#b08)">
<rect x="221" y="326" width="96" height="26" fill="#b8b0ae"/>
<rect x="222" y="329" width="18" height="23" fill="#c6c0c0"/>
<rect x="300" y="330" width="17" height="22" fill="#aca4a2"/>
<rect x="306" y="330" width="3" height="22" fill="#d6d0ce"/>
<path d="M246,277 L299,277 C304,285 307,298 306,312 C304,327 301,342 297,352 L243,352 C239,340 237,326 238.5,312 C240,298 242,286 246,277 Z" fill="#ece8e4"/>
<ellipse cx="272" cy="296" rx="20" ry="16" fill="#f2efec"/>
<ellipse cx="271" cy="340" rx="22" ry="13" fill="#ded6d2"/>
<ellipse cx="244" cy="318" rx="5" ry="14" fill="#dcd6d0" opacity="0.8"/>
<ellipse cx="301" cy="318" rx="5" ry="14" fill="#d8d0ca" opacity="0.8"/>
<path d="M231,283 C241,284 250,294 252,308 C246,313 238,307 235,299 C232,292 230.5,287 231,283 Z" fill="#e8bea2"/>
<path d="M233.5,286.5 C240,289 246,297 248,305 C243,306 239,300 237,295 Z" fill="#f0d0ba"/>
<path d="M307.5,287.5 C300,289 291,297 289,310 C295,313 302,305 305,298 C307,293 308,290 307.5,287.5 Z" fill="#e6bca2"/>
<path d="M305,291 C300,293 294,299 292,307 C296,307 300,302 302,298 Z" fill="#eccab4"/>
<ellipse cx="266" cy="343" rx="4" ry="3" fill="#c68088"/>
<ellipse cx="286.6" cy="337.5" rx="3.5" ry="3.5" fill="#b86470"/>
<ellipse cx="253" cy="341" rx="3" ry="4" fill="#caa0a6" opacity="0.8"/>
<ellipse cx="294" cy="346" rx="3" ry="3" fill="#c08890" opacity="0.7"/>
<rect x="226" y="330" width="2" height="22" fill="#e0dcdc" opacity="0.8"/>
<rect x="233" y="330" width="2" height="22" fill="#dcd8d8" opacity="0.8"/>
</g>
<circle cx="256.3" cy="326" r="2.4" fill="#3e2424" filter="url(#b05)"/>
<circle cx="282.7" cy="325.4" r="6.2" fill="#e6c8c8" opacity="0.6" filter="url(#b05)"/>
<circle cx="282.7" cy="325.4" r="5.0" fill="#9a2a3a" filter="url(#b05)"/>
<circle cx="282.3" cy="325.8" r="2.8" fill="#741828" filter="url(#b05)"/>
<path d="M307.6,305.0 L295.2,313.9" stroke="#f41818" stroke-width="3.8"/>
<path d="M287.2,319.6 L291.4,309.6 L297.8,318.4 Z" fill="#f41818"/>
</g>
<rect x="338.70" y="192.20" width="82.50" height="67.90" fill="#fff" stroke="#555" stroke-width="0.9"/>
<line x1="375.40" y1="192.20" x2="375.40" y2="260.10" stroke="#555" stroke-width="0.8"/>
<line x1="338.70" y1="237.50" x2="421.20" y2="237.50" stroke="#555" stroke-width="0.8"/>
<text x="341.60" y="202.60" font-size="8.3" fill="#1a1a1a">2.0%</text>
<text x="378.80" y="202.60" font-size="8.3" fill="#1a1a1a">59.0%</text>
<text x="341.60" y="257.50" font-size="8.3" fill="#1a1a1a">19.9%</text>
<text x="378.80" y="257.50" font-size="8.3" fill="#1a1a1a">19.1%</text>
<text x="335.30" y="222.60" font-size="11" text-anchor="middle" fill="#222" transform="rotate(-90 335.30 222.60)" textLength="25.5" lengthAdjust="spacingAndGlyphs">CD33</text>
<text x="380.50" y="271.20" font-size="11" text-anchor="middle" fill="#222" textLength="25.5" lengthAdjust="spacingAndGlyphs">CD45</text>
<path fill="#2a2af0" opacity="0.55" d="M389.1 228.8h1.0v1.0h-1.0zM387.3 227.2h1.0v1.0h-1.0zM409.2 219.8h1.0v1.0h-1.0zM399.0 235.8h1.0v1.0h-1.0zM397.5 215.9h1.0v1.0h-1.0zM397.6 228.8h1.0v1.0h-1.0zM408.4 224.6h1.0v1.0h-1.0zM393.3 220.5h1.0v1.0h-1.0zM383.6 234.4h1.0v1.0h-1.0zM391.6 222.5h1.0v1.0h-1.0zM385.9 229.4h1.0v1.0h-1.0zM391.3 230.0h1.0v1.0h-1.0zM384.7 225.6h1.0v1.0h-1.0zM403.9 229.0h1.0v1.0h-1.0zM391.6 233.5h1.0v1.0h-1.0zM395.2 229.3h1.0v1.0h-1.0zM392.0 223.6h1.0v1.0h-1.0zM397.1 230.1h1.0v1.0h-1.0zM387.6 241.2h1.0v1.0h-1.0zM411.3 225.6h1.0v1.0h-1.0zM407.8 221.9h1.0v1.0h-1.0zM385.8 228.4h1.0v1.0h-1.0zM383.7 233.5h1.0v1.0h-1.0zM391.4 231.8h1.0v1.0h-1.0zM379.4 248.2h1.0v1.0h-1.0zM408.3 217.4h1.0v1.0h-1.0zM396.6 227.5h1.0v1.0h-1.0zM391.7 226.8h1.0v1.0h-1.0zM387.0 226.4h1.0v1.0h-1.0zM391.4 228.0h1.0v1.0h-1.0zM390.5 224.1h1.0v1.0h-1.0zM390.4 229.0h1.0v1.0h-1.0zM392.3 221.8h1.0v1.0h-1.0zM395.8 230.7h1.0v1.0h-1.0zM393.9 224.6h1.0v1.0h-1.0zM385.5 230.6h1.0v1.0h-1.0zM399.7 231.4h1.0v1.0h-1.0zM387.2 227.3h1.0v1.0h-1.0zM393.5 227.9h1.0v1.0h-1.0zM380.9 230.7h1.0v1.0h-1.0zM390.8 232.1h1.0v1.0h-1.0zM377.9 231.0h1.0v1.0h-1.0zM391.0 221.7h1.0v1.0h-1.0zM391.7 229.8h1.0v1.0h-1.0zM386.6 225.6h1.0v1.0h-1.0zM388.7 228.0h1.0v1.0h-1.0zM390.7 224.0h1.0v1.0h-1.0zM394.7 217.0h1.0v1.0h-1.0zM388.6 229.9h1.0v1.0h-1.0zM396.3 221.8h1.0v1.0h-1.0zM393.0 224.0h1.0v1.0h-1.0zM400.2 232.1h1.0v1.0h-1.0zM387.8 232.7h1.0v1.0h-1.0zM384.9 237.5h1.0v1.0h-1.0zM399.8 223.0h1.0v1.0h-1.0zM381.8 236.3h1.0v1.0h-1.0zM401.9 227.5h1.0v1.0h-1.0zM392.1 217.8h1.0v1.0h-1.0zM388.0 238.0h1.0v1.0h-1.0zM382.9 239.6h1.0v1.0h-1.0zM407.0 222.5h1.0v1.0h-1.0zM398.2 222.1h1.0v1.0h-1.0zM379.9 234.8h1.0v1.0h-1.0zM388.3 229.8h1.0v1.0h-1.0zM395.3 224.9h1.0v1.0h-1.0zM392.6 229.7h1.0v1.0h-1.0zM394.5 236.2h1.0v1.0h-1.0zM393.8 227.1h1.0v1.0h-1.0zM386.8 227.6h1.0v1.0h-1.0zM401.2 222.8h1.0v1.0h-1.0zM379.9 232.2h1.0v1.0h-1.0zM387.8 227.9h1.0v1.0h-1.0zM395.9 219.0h1.0v1.0h-1.0zM394.3 227.1h1.0v1.0h-1.0zM380.6 235.1h1.0v1.0h-1.0zM390.5 231.4h1.0v1.0h-1.0zM387.1 232.4h1.0v1.0h-1.0zM373.9 233.2h1.0v1.0h-1.0zM398.9 229.1h1.0v1.0h-1.0zM388.4 226.7h1.0v1.0h-1.0zM393.6 215.4h1.0v1.0h-1.0zM385.2 235.6h1.0v1.0h-1.0zM392.7 221.7h1.0v1.0h-1.0zM378.3 244.2h1.0v1.0h-1.0zM389.0 224.7h1.0v1.0h-1.0zM392.6 232.2h1.0v1.0h-1.0zM371.8 246.4h1.0v1.0h-1.0zM390.9 217.2h1.0v1.0h-1.0zM391.9 218.2h1.0v1.0h-1.0zM400.2 224.8h1.0v1.0h-1.0zM406.7 215.3h1.0v1.0h-1.0zM392.6 233.1h1.0v1.0h-1.0zM383.1 229.5h1.0v1.0h-1.0zM386.8 230.6h1.0v1.0h-1.0zM382.5 236.3h1.0v1.0h-1.0zM394.6 226.5h1.0v1.0h-1.0zM402.9 219.2h1.0v1.0h-1.0zM399.2 220.3h1.0v1.0h-1.0zM391.4 217.6h1.0v1.0h-1.0zM391.2 227.3h1.0v1.0h-1.0zM384.5 229.1h1.0v1.0h-1.0zM385.4 227.9h1.0v1.0h-1.0zM370.9 237.7h1.0v1.0h-1.0zM384.3 229.7h1.0v1.0h-1.0zM381.1 233.8h1.0v1.0h-1.0zM395.7 224.1h1.0v1.0h-1.0zM389.3 236.8h1.0v1.0h-1.0zM400.1 227.7h1.0v1.0h-1.0zM398.5 221.9h1.0v1.0h-1.0zM391.7 234.0h1.0v1.0h-1.0zM385.2 231.3h1.0v1.0h-1.0zM394.0 228.6h1.0v1.0h-1.0zM390.2 234.2h1.0v1.0h-1.0zM390.3 232.7h1.0v1.0h-1.0zM400.2 226.2h1.0v1.0h-1.0zM393.1 220.8h1.0v1.0h-1.0zM377.9 233.2h1.0v1.0h-1.0zM397.5 232.5h1.0v1.0h-1.0zM380.9 236.4h1.0v1.0h-1.0zM381.3 230.4h1.0v1.0h-1.0zM389.5 233.1h1.0v1.0h-1.0zM394.6 232.5h1.0v1.0h-1.0zM384.2 237.4h1.0v1.0h-1.0zM397.7 224.6h1.0v1.0h-1.0zM392.5 224.4h1.0v1.0h-1.0zM380.2 232.9h1.0v1.0h-1.0zM391.9 243.5h1.0v1.0h-1.0zM390.1 237.9h1.0v1.0h-1.0zM392.4 229.2h1.0v1.0h-1.0zM394.1 222.2h1.0v1.0h-1.0zM398.3 225.9h1.0v1.0h-1.0zM379.3 239.0h1.0v1.0h-1.0zM395.6 228.0h1.0v1.0h-1.0zM401.8 219.4h1.0v1.0h-1.0zM395.9 229.3h1.0v1.0h-1.0zM385.7 238.2h1.0v1.0h-1.0zM375.1 231.2h1.0v1.0h-1.0zM391.6 222.1h1.0v1.0h-1.0zM385.1 223.2h1.0v1.0h-1.0zM387.8 224.2h1.0v1.0h-1.0zM389.0 221.3h1.0v1.0h-1.0zM393.0 225.7h1.0v1.0h-1.0zM390.4 228.4h1.0v1.0h-1.0zM387.8 223.2h1.0v1.0h-1.0zM369.4 242.0h1.0v1.0h-1.0zM381.4 231.9h1.0v1.0h-1.0zM388.6 219.1h1.0v1.0h-1.0zM382.4 230.5h1.0v1.0h-1.0zM382.3 235.6h1.0v1.0h-1.0zM386.9 226.5h1.0v1.0h-1.0zM384.0 237.1h1.0v1.0h-1.0zM386.1 234.6h1.0v1.0h-1.0zM389.0 219.4h1.0v1.0h-1.0zM381.3 234.5h1.0v1.0h-1.0zM394.7 230.3h1.0v1.0h-1.0zM399.0 229.0h1.0v1.0h-1.0zM386.5 230.1h1.0v1.0h-1.0zM395.2 223.4h1.0v1.0h-1.0zM394.6 217.5h1.0v1.0h-1.0zM394.8 225.0h1.0v1.0h-1.0zM376.5 242.7h1.0v1.0h-1.0zM392.6 227.5h1.0v1.0h-1.0zM380.2 232.6h1.0v1.0h-1.0zM400.2 218.2h1.0v1.0h-1.0zM359.9 243.1h1.0v1.0h-1.0zM380.0 234.5h1.0v1.0h-1.0zM384.6 227.4h1.0v1.0h-1.0zM385.8 237.3h1.0v1.0h-1.0zM383.1 243.9h1.0v1.0h-1.0zM383.0 227.5h1.0v1.0h-1.0zM397.7 227.2h1.0v1.0h-1.0zM383.4 237.2h1.0v1.0h-1.0zM372.9 234.7h1.0v1.0h-1.0zM398.5 222.3h1.0v1.0h-1.0zM380.8 237.6h1.0v1.0h-1.0zM397.3 224.3h1.0v1.0h-1.0zM374.6 236.7h1.0v1.0h-1.0zM395.2 229.9h1.0v1.0h-1.0zM404.3 218.7h1.0v1.0h-1.0zM386.0 231.3h1.0v1.0h-1.0zM397.4 219.3h1.0v1.0h-1.0zM393.8 211.7h1.0v1.0h-1.0zM394.8 222.3h1.0v1.0h-1.0zM395.4 229.4h1.0v1.0h-1.0zM380.3 234.6h1.0v1.0h-1.0zM393.4 230.1h1.0v1.0h-1.0zM380.1 229.8h1.0v1.0h-1.0zM380.7 248.6h1.0v1.0h-1.0zM387.9 229.1h1.0v1.0h-1.0zM380.2 240.2h1.0v1.0h-1.0zM389.2 237.3h1.0v1.0h-1.0zM396.9 224.8h1.0v1.0h-1.0zM393.1 221.0h1.0v1.0h-1.0zM386.0 228.4h1.0v1.0h-1.0zM379.8 235.5h1.0v1.0h-1.0zM392.3 235.3h1.0v1.0h-1.0zM361.4 243.3h1.0v1.0h-1.0zM381.5 231.8h1.0v1.0h-1.0zM394.4 228.5h1.0v1.0h-1.0zM389.1 227.0h1.0v1.0h-1.0zM394.9 227.9h1.0v1.0h-1.0zM374.5 237.3h1.0v1.0h-1.0zM376.0 231.3h1.0v1.0h-1.0zM391.3 228.5h1.0v1.0h-1.0zM388.8 225.0h1.0v1.0h-1.0zM386.2 226.5h1.0v1.0h-1.0zM394.8 229.8h1.0v1.0h-1.0zM407.2 225.1h1.0v1.0h-1.0zM382.4 231.3h1.0v1.0h-1.0zM383.2 234.9h1.0v1.0h-1.0zM407.7 221.8h1.0v1.0h-1.0zM369.2 235.2h1.0v1.0h-1.0zM380.8 237.5h1.0v1.0h-1.0zM390.7 230.2h1.0v1.0h-1.0zM402.3 216.8h1.0v1.0h-1.0zM388.0 240.9h1.0v1.0h-1.0zM390.9 224.2h1.0v1.0h-1.0zM369.9 233.3h1.0v1.0h-1.0zM370.5 241.6h1.0v1.0h-1.0zM392.8 232.7h1.0v1.0h-1.0zM387.2 227.0h1.0v1.0h-1.0zM388.7 240.1h1.0v1.0h-1.0zM376.2 238.6h1.0v1.0h-1.0zM391.7 231.3h1.0v1.0h-1.0zM388.0 233.0h1.0v1.0h-1.0zM396.2 224.3h1.0v1.0h-1.0zM385.9 230.6h1.0v1.0h-1.0zM381.7 233.0h1.0v1.0h-1.0zM388.1 231.3h1.0v1.0h-1.0zM404.0 227.4h1.0v1.0h-1.0zM387.9 233.6h1.0v1.0h-1.0zM394.2 230.5h1.0v1.0h-1.0zM390.8 229.9h1.0v1.0h-1.0zM384.3 228.3h1.0v1.0h-1.0zM400.2 229.7h1.0v1.0h-1.0zM396.4 227.4h1.0v1.0h-1.0zM391.0 225.9h1.0v1.0h-1.0zM377.3 240.6h1.0v1.0h-1.0zM390.3 225.8h1.0v1.0h-1.0zM385.3 238.8h1.0v1.0h-1.0zM379.8 245.0h1.0v1.0h-1.0zM400.9 235.0h1.0v1.0h-1.0zM384.2 232.5h1.0v1.0h-1.0zM386.3 232.2h1.0v1.0h-1.0zM386.5 227.1h1.0v1.0h-1.0zM396.7 220.5h1.0v1.0h-1.0zM387.3 233.7h1.0v1.0h-1.0zM384.6 230.0h1.0v1.0h-1.0zM392.0 225.8h1.0v1.0h-1.0zM379.7 234.9h1.0v1.0h-1.0zM392.4 236.8h1.0v1.0h-1.0zM383.5 238.3h1.0v1.0h-1.0zM382.8 231.6h1.0v1.0h-1.0zM388.0 231.7h1.0v1.0h-1.0zM401.2 231.5h1.0v1.0h-1.0zM388.1 237.4h1.0v1.0h-1.0zM400.0 227.2h1.0v1.0h-1.0zM386.1 236.3h1.0v1.0h-1.0zM390.0 230.9h1.0v1.0h-1.0zM389.5 232.9h1.0v1.0h-1.0zM401.7 227.8h1.0v1.0h-1.0zM390.8 233.9h1.0v1.0h-1.0zM399.4 218.0h1.0v1.0h-1.0zM398.6 216.4h1.0v1.0h-1.0zM395.8 228.6h1.0v1.0h-1.0zM402.6 222.6h1.0v1.0h-1.0zM384.2 228.3h1.0v1.0h-1.0zM381.8 238.3h1.0v1.0h-1.0zM386.3 227.4h1.0v1.0h-1.0zM392.4 223.3h1.0v1.0h-1.0zM385.4 229.4h1.0v1.0h-1.0zM406.9 226.4h1.0v1.0h-1.0zM384.9 223.7h1.0v1.0h-1.0zM392.4 227.9h1.0v1.0h-1.0zM394.2 229.4h1.0v1.0h-1.0zM389.7 234.2h1.0v1.0h-1.0zM397.3 225.6h1.0v1.0h-1.0zM385.6 229.2h1.0v1.0h-1.0zM392.9 221.2h1.0v1.0h-1.0zM386.9 226.9h1.0v1.0h-1.0zM380.2 238.4h1.0v1.0h-1.0zM389.9 229.3h1.0v1.0h-1.0zM393.4 218.8h1.0v1.0h-1.0zM390.2 230.5h1.0v1.0h-1.0zM394.1 220.6h1.0v1.0h-1.0zM396.3 226.3h1.0v1.0h-1.0zM403.7 226.6h1.0v1.0h-1.0zM399.7 234.6h1.0v1.0h-1.0zM389.0 227.4h1.0v1.0h-1.0zM385.0 227.0h1.0v1.0h-1.0zM385.2 221.8h1.0v1.0h-1.0zM390.4 231.1h1.0v1.0h-1.0zM397.1 222.7h1.0v1.0h-1.0zM399.6 219.5h1.0v1.0h-1.0zM384.3 222.4h1.0v1.0h-1.0zM381.9 229.7h1.0v1.0h-1.0zM403.0 223.7h1.0v1.0h-1.0zM382.6 236.5h1.0v1.0h-1.0zM393.2 225.7h1.0v1.0h-1.0zM389.5 227.7h1.0v1.0h-1.0zM381.5 224.9h1.0v1.0h-1.0zM392.3 234.3h1.0v1.0h-1.0zM400.6 220.9h1.0v1.0h-1.0zM383.6 231.9h1.0v1.0h-1.0zM397.9 225.9h1.0v1.0h-1.0zM386.3 233.2h1.0v1.0h-1.0zM389.6 232.0h1.0v1.0h-1.0zM383.3 225.4h1.0v1.0h-1.0zM392.3 231.6h1.0v1.0h-1.0zM381.0 234.0h1.0v1.0h-1.0zM396.0 223.3h1.0v1.0h-1.0zM389.7 239.9h1.0v1.0h-1.0zM399.0 228.8h1.0v1.0h-1.0zM386.5 239.8h1.0v1.0h-1.0zM375.8 235.2h1.0v1.0h-1.0zM399.0 230.4h1.0v1.0h-1.0zM381.1 231.0h1.0v1.0h-1.0zM387.0 220.7h1.0v1.0h-1.0zM396.3 228.0h1.0v1.0h-1.0zM387.8 233.2h1.0v1.0h-1.0zM396.8 226.4h1.0v1.0h-1.0zM397.7 232.2h1.0v1.0h-1.0zM386.6 231.9h1.0v1.0h-1.0zM388.4 235.5h1.0v1.0h-1.0zM387.9 232.8h1.0v1.0h-1.0zM391.2 228.6h1.0v1.0h-1.0zM403.2 220.3h1.0v1.0h-1.0zM403.0 225.2h1.0v1.0h-1.0zM399.9 221.9h1.0v1.0h-1.0zM399.0 227.3h1.0v1.0h-1.0zM385.8 233.0h1.0v1.0h-1.0zM388.9 229.5h1.0v1.0h-1.0zM398.4 219.9h1.0v1.0h-1.0zM372.8 230.6h1.0v1.0h-1.0zM385.0 228.8h1.0v1.0h-1.0zM391.4 231.1h1.0v1.0h-1.0zM404.4 221.6h1.0v1.0h-1.0zM391.9 224.0h1.0v1.0h-1.0zM397.7 231.3h1.0v1.0h-1.0zM395.8 215.1h1.0v1.0h-1.0zM400.6 230.6h1.0v1.0h-1.0zM392.9 219.4h1.0v1.0h-1.0zM389.0 232.7h1.0v1.0h-1.0zM391.3 223.9h1.0v1.0h-1.0zM385.4 236.9h1.0v1.0h-1.0zM383.0 240.9h1.0v1.0h-1.0zM390.9 230.0h1.0v1.0h-1.0zM378.3 233.2h1.0v1.0h-1.0zM391.9 220.1h1.0v1.0h-1.0zM402.8 213.7h1.0v1.0h-1.0zM380.6 235.1h1.0v1.0h-1.0zM395.5 229.4h1.0v1.0h-1.0zM386.6 230.0h1.0v1.0h-1.0zM386.8 228.0h1.0v1.0h-1.0zM372.3 245.1h1.0v1.0h-1.0zM392.3 228.4h1.0v1.0h-1.0zM385.7 233.0h1.0v1.0h-1.0zM389.7 228.8h1.0v1.0h-1.0zM394.5 217.2h1.0v1.0h-1.0zM389.5 223.8h1.0v1.0h-1.0zM391.1 236.2h1.0v1.0h-1.0zM381.4 233.9h1.0v1.0h-1.0zM387.6 235.4h1.0v1.0h-1.0zM378.5 227.4h1.0v1.0h-1.0zM393.1 225.2h1.0v1.0h-1.0zM390.1 234.6h1.0v1.0h-1.0zM382.3 231.9h1.0v1.0h-1.0zM392.1 229.8h1.0v1.0h-1.0zM388.4 235.4h1.0v1.0h-1.0zM406.4 216.6h1.0v1.0h-1.0zM399.5 212.1h1.0v1.0h-1.0zM400.1 220.9h1.0v1.0h-1.0zM390.3 227.1h1.0v1.0h-1.0zM382.1 227.3h1.0v1.0h-1.0zM390.0 235.8h1.0v1.0h-1.0zM398.0 222.2h1.0v1.0h-1.0zM384.3 228.9h1.0v1.0h-1.0zM384.9 241.6h1.0v1.0h-1.0zM395.4 226.2h1.0v1.0h-1.0zM383.8 227.5h1.0v1.0h-1.0zM402.0 225.6h1.0v1.0h-1.0zM384.9 237.3h1.0v1.0h-1.0zM382.9 236.8h1.0v1.0h-1.0zM381.6 232.1h1.0v1.0h-1.0zM394.8 228.2h1.0v1.0h-1.0zM395.9 221.0h1.0v1.0h-1.0zM405.4 226.4h1.0v1.0h-1.0zM391.0 230.8h1.0v1.0h-1.0zM383.6 232.2h1.0v1.0h-1.0zM380.0 235.7h1.0v1.0h-1.0zM394.7 233.1h1.0v1.0h-1.0zM399.2 227.5h1.0v1.0h-1.0zM386.7 229.9h1.0v1.0h-1.0zM387.9 231.5h1.0v1.0h-1.0zM376.9 241.2h1.0v1.0h-1.0zM376.7 234.6h1.0v1.0h-1.0zM389.0 227.0h1.0v1.0h-1.0zM402.6 220.6h1.0v1.0h-1.0zM404.9 225.8h1.0v1.0h-1.0zM387.1 232.9h1.0v1.0h-1.0zM399.3 221.5h1.0v1.0h-1.0zM389.4 226.5h1.0v1.0h-1.0zM389.6 227.4h1.0v1.0h-1.0zM393.0 232.4h1.0v1.0h-1.0zM401.1 222.8h1.0v1.0h-1.0zM393.6 231.2h1.0v1.0h-1.0zM385.3 226.4h1.0v1.0h-1.0zM396.4 220.1h1.0v1.0h-1.0zM394.9 220.9h1.0v1.0h-1.0zM401.7 216.2h1.0v1.0h-1.0zM400.1 230.5h1.0v1.0h-1.0zM386.0 239.2h1.0v1.0h-1.0zM379.5 226.4h1.0v1.0h-1.0zM397.2 228.1h1.0v1.0h-1.0zM382.5 220.5h1.0v1.0h-1.0zM388.9 228.1h1.0v1.0h-1.0zM386.4 229.7h1.0v1.0h-1.0zM374.8 235.5h1.0v1.0h-1.0zM407.5 226.1h1.0v1.0h-1.0zM385.5 228.1h1.0v1.0h-1.0zM395.6 231.1h1.0v1.0h-1.0zM392.9 221.1h1.0v1.0h-1.0zM391.6 228.7h1.0v1.0h-1.0zM403.9 226.5h1.0v1.0h-1.0zM396.9 231.0h1.0v1.0h-1.0zM390.5 236.7h1.0v1.0h-1.0zM387.6 232.5h1.0v1.0h-1.0zM395.0 221.1h1.0v1.0h-1.0zM380.5 225.8h1.0v1.0h-1.0zM391.1 228.0h1.0v1.0h-1.0zM388.6 232.4h1.0v1.0h-1.0zM373.6 239.1h1.0v1.0h-1.0zM390.1 227.6h1.0v1.0h-1.0zM400.2 231.7h1.0v1.0h-1.0zM384.4 227.6h1.0v1.0h-1.0zM385.5 232.3h1.0v1.0h-1.0zM392.5 222.9h1.0v1.0h-1.0zM395.3 220.3h1.0v1.0h-1.0zM397.4 226.6h1.0v1.0h-1.0zM398.6 234.8h1.0v1.0h-1.0zM387.6 229.7h1.0v1.0h-1.0zM395.7 229.9h1.0v1.0h-1.0zM380.3 236.5h1.0v1.0h-1.0zM385.7 234.9h1.0v1.0h-1.0zM400.7 222.6h1.0v1.0h-1.0zM389.6 230.2h1.0v1.0h-1.0zM368.9 246.2h1.0v1.0h-1.0zM394.7 226.9h1.0v1.0h-1.0zM385.2 228.2h1.0v1.0h-1.0zM391.5 234.4h1.0v1.0h-1.0zM392.4 234.5h1.0v1.0h-1.0zM369.0 239.7h1.0v1.0h-1.0zM392.1 227.6h1.0v1.0h-1.0zM375.6 234.5h1.0v1.0h-1.0zM396.6 218.1h1.0v1.0h-1.0zM379.8 229.7h1.0v1.0h-1.0zM387.2 234.1h1.0v1.0h-1.0zM389.8 218.5h1.0v1.0h-1.0zM399.9 219.7h1.0v1.0h-1.0zM389.4 238.1h1.0v1.0h-1.0zM386.5 224.8h1.0v1.0h-1.0zM383.4 229.4h1.0v1.0h-1.0zM381.4 232.6h1.0v1.0h-1.0zM397.6 226.1h1.0v1.0h-1.0zM385.8 246.1h1.0v1.0h-1.0zM382.6 234.2h1.0v1.0h-1.0zM392.0 231.7h1.0v1.0h-1.0zM388.5 232.3h1.0v1.0h-1.0zM406.5 219.2h1.0v1.0h-1.0zM382.4 235.5h1.0v1.0h-1.0zM382.9 231.5h1.0v1.0h-1.0zM392.2 229.4h1.0v1.0h-1.0zM389.8 233.6h1.0v1.0h-1.0zM385.5 225.0h1.0v1.0h-1.0zM395.9 223.4h1.0v1.0h-1.0zM397.8 220.7h1.0v1.0h-1.0zM395.2 227.4h1.0v1.0h-1.0zM365.6 236.4h1.0v1.0h-1.0zM384.6 239.7h1.0v1.0h-1.0zM377.5 241.5h1.0v1.0h-1.0zM399.6 225.6h1.0v1.0h-1.0zM394.1 223.9h1.0v1.0h-1.0zM390.4 229.9h1.0v1.0h-1.0zM394.9 229.6h1.0v1.0h-1.0zM386.8 227.4h1.0v1.0h-1.0zM386.6 233.3h1.0v1.0h-1.0zM374.2 232.3h1.0v1.0h-1.0zM385.5 228.9h1.0v1.0h-1.0zM381.7 220.3h1.0v1.0h-1.0zM386.8 229.7h1.0v1.0h-1.0zM391.4 217.8h1.0v1.0h-1.0zM388.7 232.3h1.0v1.0h-1.0zM396.6 231.1h1.0v1.0h-1.0zM395.7 220.0h1.0v1.0h-1.0zM394.1 224.7h1.0v1.0h-1.0zM387.4 238.6h1.0v1.0h-1.0zM383.1 228.8h1.0v1.0h-1.0zM384.8 227.8h1.0v1.0h-1.0zM398.7 225.6h1.0v1.0h-1.0zM401.8 223.8h1.0v1.0h-1.0zM387.7 235.9h1.0v1.0h-1.0zM383.8 230.4h1.0v1.0h-1.0zM388.8 230.0h1.0v1.0h-1.0zM397.8 220.9h1.0v1.0h-1.0zM392.7 227.2h1.0v1.0h-1.0zM377.7 231.0h1.0v1.0h-1.0zM389.2 231.6h1.0v1.0h-1.0zM393.6 229.2h1.0v1.0h-1.0zM389.3 227.1h1.0v1.0h-1.0zM391.0 223.2h1.0v1.0h-1.0zM378.8 234.3h1.0v1.0h-1.0zM377.7 234.0h1.0v1.0h-1.0zM382.9 230.5h1.0v1.0h-1.0zM387.8 226.2h1.0v1.0h-1.0zM382.7 224.6h1.0v1.0h-1.0zM389.1 225.0h1.0v1.0h-1.0zM386.5 216.4h1.0v1.0h-1.0zM384.3 233.8h1.0v1.0h-1.0zM370.2 239.5h1.0v1.0h-1.0zM391.0 228.9h1.0v1.0h-1.0zM378.9 237.1h1.0v1.0h-1.0zM388.9 224.6h1.0v1.0h-1.0zM395.7 225.2h1.0v1.0h-1.0zM389.1 227.2h1.0v1.0h-1.0zM394.5 226.7h1.0v1.0h-1.0zM399.9 225.2h1.0v1.0h-1.0zM384.7 231.2h1.0v1.0h-1.0zM396.3 223.2h1.0v1.0h-1.0zM394.2 229.1h1.0v1.0h-1.0zM383.1 221.1h1.0v1.0h-1.0zM391.5 229.2h1.0v1.0h-1.0zM389.3 225.5h1.0v1.0h-1.0zM399.1 222.6h1.0v1.0h-1.0zM383.5 229.3h1.0v1.0h-1.0zM390.2 223.1h1.0v1.0h-1.0zM386.9 241.4h1.0v1.0h-1.0zM402.7 226.6h1.0v1.0h-1.0zM402.0 224.6h1.0v1.0h-1.0zM379.7 241.7h1.0v1.0h-1.0zM400.8 224.8h1.0v1.0h-1.0zM377.7 243.2h1.0v1.0h-1.0zM399.5 220.5h1.0v1.0h-1.0zM392.8 231.3h1.0v1.0h-1.0zM391.9 233.6h1.0v1.0h-1.0zM392.3 231.2h1.0v1.0h-1.0zM387.2 223.0h1.0v1.0h-1.0zM389.7 245.8h1.0v1.0h-1.0zM395.3 232.6h1.0v1.0h-1.0zM402.9 229.9h1.0v1.0h-1.0zM392.9 224.0h1.0v1.0h-1.0zM385.6 221.7h1.0v1.0h-1.0zM390.7 233.3h1.0v1.0h-1.0zM373.6 240.3h1.0v1.0h-1.0zM399.6 230.0h1.0v1.0h-1.0zM381.2 231.1h1.0v1.0h-1.0zM372.9 234.3h1.0v1.0h-1.0zM399.1 234.2h1.0v1.0h-1.0zM384.3 239.8h1.0v1.0h-1.0zM392.2 225.0h1.0v1.0h-1.0zM401.2 208.7h1.0v1.0h-1.0zM390.0 230.2h1.0v1.0h-1.0zM410.9 225.4h1.0v1.0h-1.0zM408.0 218.4h1.0v1.0h-1.0zM400.9 229.4h1.0v1.0h-1.0zM394.9 227.9h1.0v1.0h-1.0zM387.6 228.4h1.0v1.0h-1.0zM385.0 242.4h1.0v1.0h-1.0zM381.6 223.3h1.0v1.0h-1.0zM392.0 227.6h1.0v1.0h-1.0zM395.7 235.0h1.0v1.0h-1.0zM388.5 228.5h1.0v1.0h-1.0zM384.1 232.6h1.0v1.0h-1.0zM387.0 231.9h1.0v1.0h-1.0zM415.4 215.2h1.0v1.0h-1.0zM387.9 240.5h1.0v1.0h-1.0zM398.7 227.9h1.0v1.0h-1.0zM397.5 228.6h1.0v1.0h-1.0zM398.6 231.0h1.0v1.0h-1.0zM401.1 229.2h1.0v1.0h-1.0zM386.1 231.4h1.0v1.0h-1.0zM386.6 236.2h1.0v1.0h-1.0zM395.4 223.2h1.0v1.0h-1.0zM400.8 236.1h1.0v1.0h-1.0zM397.0 218.7h1.0v1.0h-1.0zM390.8 231.9h1.0v1.0h-1.0zM390.6 230.6h1.0v1.0h-1.0zM400.0 224.5h1.0v1.0h-1.0zM383.1 237.1h1.0v1.0h-1.0zM389.5 229.9h1.0v1.0h-1.0zM382.3 226.5h1.0v1.0h-1.0zM379.4 233.8h1.0v1.0h-1.0zM375.2 223.9h1.0v1.0h-1.0zM396.3 219.0h1.0v1.0h-1.0zM385.6 234.6h1.0v1.0h-1.0zM374.3 245.9h1.0v1.0h-1.0zM385.5 235.3h1.0v1.0h-1.0zM386.9 232.5h1.0v1.0h-1.0zM390.8 228.5h1.0v1.0h-1.0zM372.2 232.4h1.0v1.0h-1.0zM393.0 234.6h1.0v1.0h-1.0zM387.0 233.7h1.0v1.0h-1.0zM392.4 230.0h1.0v1.0h-1.0zM394.2 218.4h1.0v1.0h-1.0zM391.7 227.0h1.0v1.0h-1.0zM385.5 227.3h1.0v1.0h-1.0zM381.4 228.9h1.0v1.0h-1.0zM387.3 243.9h1.0v1.0h-1.0zM403.4 220.7h1.0v1.0h-1.0zM393.5 221.6h1.0v1.0h-1.0zM363.8 235.7h1.0v1.0h-1.0zM394.5 233.8h1.0v1.0h-1.0zM387.3 225.4h1.0v1.0h-1.0zM385.7 226.4h1.0v1.0h-1.0zM378.5 235.0h1.0v1.0h-1.0zM384.9 227.9h1.0v1.0h-1.0zM380.8 229.8h1.0v1.0h-1.0zM395.2 233.1h1.0v1.0h-1.0zM393.7 238.5h1.0v1.0h-1.0zM377.9 238.0h1.0v1.0h-1.0zM380.5 234.1h1.0v1.0h-1.0zM392.1 230.6h1.0v1.0h-1.0zM397.6 221.3h1.0v1.0h-1.0zM379.8 234.4h1.0v1.0h-1.0zM390.6 224.9h1.0v1.0h-1.0zM401.0 231.0h1.0v1.0h-1.0zM379.7 237.4h1.0v1.0h-1.0zM393.4 216.7h1.0v1.0h-1.0zM391.1 227.1h1.0v1.0h-1.0zM381.9 241.0h1.0v1.0h-1.0zM390.6 226.1h1.0v1.0h-1.0zM395.0 229.3h1.0v1.0h-1.0zM397.4 227.4h1.0v1.0h-1.0zM390.4 222.5h1.0v1.0h-1.0zM387.0 231.6h1.0v1.0h-1.0zM373.3 250.7h1.0v1.0h-1.0zM384.5 226.9h1.0v1.0h-1.0zM376.3 238.9h1.0v1.0h-1.0zM388.9 226.6h1.0v1.0h-1.0zM384.6 227.7h1.0v1.0h-1.0zM383.9 232.3h1.0v1.0h-1.0zM386.6 234.7h1.0v1.0h-1.0zM389.2 230.2h1.0v1.0h-1.0zM396.2 231.8h1.0v1.0h-1.0zM395.3 226.9h1.0v1.0h-1.0zM386.8 226.7h1.0v1.0h-1.0zM388.9 233.3h1.0v1.0h-1.0zM390.9 226.4h1.0v1.0h-1.0zM375.9 229.7h1.0v1.0h-1.0zM395.0 231.3h1.0v1.0h-1.0zM389.7 221.9h1.0v1.0h-1.0zM388.9 230.9h1.0v1.0h-1.0zM383.6 234.8h1.0v1.0h-1.0zM386.4 226.8h1.0v1.0h-1.0zM382.2 238.2h1.0v1.0h-1.0zM390.7 223.9h1.0v1.0h-1.0zM384.2 237.4h1.0v1.0h-1.0zM394.0 224.9h1.0v1.0h-1.0zM401.8 220.1h1.0v1.0h-1.0zM384.3 238.3h1.0v1.0h-1.0zM389.3 231.2h1.0v1.0h-1.0zM387.9 225.0h1.0v1.0h-1.0zM380.2 234.1h1.0v1.0h-1.0zM398.6 218.3h1.0v1.0h-1.0zM401.2 223.2h1.0v1.0h-1.0zM381.9 235.5h1.0v1.0h-1.0zM392.3 222.8h1.0v1.0h-1.0zM374.1 240.8h1.0v1.0h-1.0zM382.3 236.1h1.0v1.0h-1.0zM374.7 237.8h1.0v1.0h-1.0zM380.1 227.3h1.0v1.0h-1.0zM388.5 230.8h1.0v1.0h-1.0zM382.8 227.2h1.0v1.0h-1.0zM387.5 221.3h1.0v1.0h-1.0zM395.4 228.2h1.0v1.0h-1.0zM405.2 224.1h1.0v1.0h-1.0zM393.4 228.3h1.0v1.0h-1.0zM387.1 223.8h1.0v1.0h-1.0zM402.7 223.8h1.0v1.0h-1.0zM385.0 226.1h1.0v1.0h-1.0zM402.9 223.8h1.0v1.0h-1.0zM382.3 237.3h1.0v1.0h-1.0zM404.8 219.6h1.0v1.0h-1.0zM392.1 225.5h1.0v1.0h-1.0zM387.6 236.1h1.0v1.0h-1.0zM414.4 214.4h1.0v1.0h-1.0zM390.9 232.6h1.0v1.0h-1.0zM389.3 233.3h1.0v1.0h-1.0zM394.1 221.1h1.0v1.0h-1.0zM381.4 234.0h1.0v1.0h-1.0zM397.2 226.0h1.0v1.0h-1.0zM396.5 217.7h1.0v1.0h-1.0zM392.4 224.2h1.0v1.0h-1.0zM391.5 229.7h1.0v1.0h-1.0zM381.9 232.9h1.0v1.0h-1.0zM381.5 235.7h1.0v1.0h-1.0zM382.2 231.3h1.0v1.0h-1.0zM390.2 225.5h1.0v1.0h-1.0zM397.5 221.0h1.0v1.0h-1.0zM397.3 225.9h1.0v1.0h-1.0zM381.4 233.2h1.0v1.0h-1.0zM382.6 231.7h1.0v1.0h-1.0zM392.2 237.2h1.0v1.0h-1.0zM390.4 237.0h1.0v1.0h-1.0zM390.4 221.9h1.0v1.0h-1.0zM373.5 242.9h1.0v1.0h-1.0zM376.2 241.4h1.0v1.0h-1.0zM399.0 225.5h1.0v1.0h-1.0zM387.8 229.1h1.0v1.0h-1.0zM391.3 226.6h1.0v1.0h-1.0zM384.9 230.2h1.0v1.0h-1.0zM397.7 220.9h1.0v1.0h-1.0zM390.2 222.8h1.0v1.0h-1.0zM381.2 227.3h1.0v1.0h-1.0zM390.1 232.5h1.0v1.0h-1.0zM391.2 225.6h1.0v1.0h-1.0zM394.0 224.7h1.0v1.0h-1.0zM393.6 228.2h1.0v1.0h-1.0zM388.4 217.0h1.0v1.0h-1.0zM381.7 238.3h1.0v1.0h-1.0zM394.5 238.0h1.0v1.0h-1.0zM386.9 228.1h1.0v1.0h-1.0zM403.0 223.8h1.0v1.0h-1.0zM406.0 221.7h1.0v1.0h-1.0zM390.1 232.7h1.0v1.0h-1.0zM382.8 231.2h1.0v1.0h-1.0zM385.2 230.9h1.0v1.0h-1.0zM394.9 223.4h1.0v1.0h-1.0zM391.3 225.6h1.0v1.0h-1.0zM390.4 214.3h1.0v1.0h-1.0zM388.8 230.6h1.0v1.0h-1.0zM384.0 238.1h1.0v1.0h-1.0zM394.7 232.8h1.0v1.0h-1.0zM399.0 226.7h1.0v1.0h-1.0zM386.3 225.6h1.0v1.0h-1.0zM387.2 228.3h1.0v1.0h-1.0zM390.9 226.0h1.0v1.0h-1.0zM410.0 208.1h1.0v1.0h-1.0zM398.0 221.5h1.0v1.0h-1.0zM390.3 233.7h1.0v1.0h-1.0zM387.2 224.4h1.0v1.0h-1.0zM392.8 226.3h1.0v1.0h-1.0zM374.4 239.8h1.0v1.0h-1.0zM380.0 231.3h1.0v1.0h-1.0zM394.5 227.8h1.0v1.0h-1.0zM392.8 238.6h1.0v1.0h-1.0zM391.8 224.6h1.0v1.0h-1.0zM391.6 227.4h1.0v1.0h-1.0zM369.1 233.8h1.0v1.0h-1.0zM384.0 243.5h1.0v1.0h-1.0zM387.9 228.9h1.0v1.0h-1.0zM387.9 235.4h1.0v1.0h-1.0zM394.2 235.3h1.0v1.0h-1.0zM400.0 231.4h1.0v1.0h-1.0zM390.0 231.0h1.0v1.0h-1.0zM386.2 230.5h1.0v1.0h-1.0zM375.2 235.2h1.0v1.0h-1.0zM381.1 231.2h1.0v1.0h-1.0zM400.1 224.1h1.0v1.0h-1.0zM401.5 226.3h1.0v1.0h-1.0zM399.5 228.3h1.0v1.0h-1.0zM387.2 235.0h1.0v1.0h-1.0zM386.3 228.6h1.0v1.0h-1.0zM404.4 231.3h1.0v1.0h-1.0zM386.5 240.3h1.0v1.0h-1.0zM394.5 221.8h1.0v1.0h-1.0zM393.0 229.1h1.0v1.0h-1.0zM392.1 225.8h1.0v1.0h-1.0zM380.1 235.4h1.0v1.0h-1.0zM398.5 227.8h1.0v1.0h-1.0zM397.7 229.9h1.0v1.0h-1.0zM382.2 233.7h1.0v1.0h-1.0zM395.0 231.1h1.0v1.0h-1.0zM392.4 230.2h1.0v1.0h-1.0zM396.0 236.2h1.0v1.0h-1.0zM373.0 239.5h1.0v1.0h-1.0zM409.8 217.9h1.0v1.0h-1.0zM376.1 238.4h1.0v1.0h-1.0zM377.3 233.4h1.0v1.0h-1.0zM395.8 234.4h1.0v1.0h-1.0zM395.2 229.3h1.0v1.0h-1.0zM398.4 224.8h1.0v1.0h-1.0zM383.1 232.8h1.0v1.0h-1.0zM392.0 226.3h1.0v1.0h-1.0zM384.0 230.9h1.0v1.0h-1.0zM375.9 232.4h1.0v1.0h-1.0zM388.4 228.1h1.0v1.0h-1.0zM393.6 234.1h1.0v1.0h-1.0zM392.2 227.4h1.0v1.0h-1.0zM378.4 230.6h1.0v1.0h-1.0zM390.9 223.9h1.0v1.0h-1.0zM390.8 222.9h1.0v1.0h-1.0zM390.9 228.1h1.0v1.0h-1.0zM396.8 222.7h1.0v1.0h-1.0zM387.7 231.7h1.0v1.0h-1.0zM394.4 235.1h1.0v1.0h-1.0zM386.7 228.2h1.0v1.0h-1.0zM388.6 232.3h1.0v1.0h-1.0zM393.4 230.5h1.0v1.0h-1.0zM385.1 245.0h1.0v1.0h-1.0zM404.2 220.0h1.0v1.0h-1.0zM381.0 235.4h1.0v1.0h-1.0zM388.0 218.6h1.0v1.0h-1.0zM386.6 223.4h1.0v1.0h-1.0zM396.8 232.0h1.0v1.0h-1.0zM394.5 218.3h1.0v1.0h-1.0zM402.8 225.7h1.0v1.0h-1.0zM388.4 232.6h1.0v1.0h-1.0zM401.0 220.4h1.0v1.0h-1.0zM388.6 227.0h1.0v1.0h-1.0zM393.9 215.3h1.0v1.0h-1.0zM398.7 218.5h1.0v1.0h-1.0zM393.4 218.4h1.0v1.0h-1.0zM381.3 231.3h1.0v1.0h-1.0zM392.6 218.9h1.0v1.0h-1.0zM393.2 223.7h1.0v1.0h-1.0zM398.9 221.8h1.0v1.0h-1.0zM393.4 226.0h1.0v1.0h-1.0zM403.1 219.0h1.0v1.0h-1.0zM394.5 236.6h1.0v1.0h-1.0zM392.2 231.2h1.0v1.0h-1.0zM384.8 233.3h1.0v1.0h-1.0zM372.7 240.4h1.0v1.0h-1.0zM381.5 226.5h1.0v1.0h-1.0zM381.7 240.1h1.0v1.0h-1.0zM389.8 221.2h1.0v1.0h-1.0zM402.4 217.6h1.0v1.0h-1.0zM387.7 231.7h1.0v1.0h-1.0zM377.4 228.4h1.0v1.0h-1.0zM387.0 237.0h1.0v1.0h-1.0zM393.7 218.5h1.0v1.0h-1.0zM399.4 223.3h1.0v1.0h-1.0zM394.0 226.8h1.0v1.0h-1.0zM390.9 223.2h1.0v1.0h-1.0zM381.3 230.8h1.0v1.0h-1.0zM388.6 233.1h1.0v1.0h-1.0zM384.3 240.9h1.0v1.0h-1.0zM383.7 229.9h1.0v1.0h-1.0zM396.5 227.2h1.0v1.0h-1.0zM384.9 226.6h1.0v1.0h-1.0zM378.5 227.8h1.0v1.0h-1.0zM401.4 227.5h1.0v1.0h-1.0zM405.7 221.8h1.0v1.0h-1.0zM394.4 230.2h1.0v1.0h-1.0zM396.8 223.4h1.0v1.0h-1.0zM397.8 235.4h1.0v1.0h-1.0zM373.6 231.9h1.0v1.0h-1.0zM384.3 236.5h1.0v1.0h-1.0zM398.4 222.0h1.0v1.0h-1.0zM395.1 225.6h1.0v1.0h-1.0zM391.1 225.5h1.0v1.0h-1.0zM389.8 229.1h1.0v1.0h-1.0zM404.0 231.9h1.0v1.0h-1.0zM377.2 239.8h1.0v1.0h-1.0zM392.2 232.7h1.0v1.0h-1.0zM400.1 226.8h1.0v1.0h-1.0zM394.0 221.5h1.0v1.0h-1.0zM380.7 243.5h1.0v1.0h-1.0zM397.1 219.6h1.0v1.0h-1.0zM401.6 225.2h1.0v1.0h-1.0zM373.1 244.3h1.0v1.0h-1.0zM385.1 238.2h1.0v1.0h-1.0zM383.0 229.5h1.0v1.0h-1.0zM377.5 235.7h1.0v1.0h-1.0zM396.3 221.5h1.0v1.0h-1.0zM380.6 246.1h1.0v1.0h-1.0zM405.9 222.6h1.0v1.0h-1.0zM383.0 227.1h1.0v1.0h-1.0zM378.6 239.0h1.0v1.0h-1.0zM397.6 218.7h1.0v1.0h-1.0zM389.3 228.0h1.0v1.0h-1.0zM389.2 232.1h1.0v1.0h-1.0zM404.7 216.5h1.0v1.0h-1.0zM399.2 229.0h1.0v1.0h-1.0zM387.4 229.8h1.0v1.0h-1.0zM382.1 239.6h1.0v1.0h-1.0zM384.3 229.1h1.0v1.0h-1.0zM388.5 225.4h1.0v1.0h-1.0zM381.2 232.9h1.0v1.0h-1.0zM401.1 221.0h1.0v1.0h-1.0zM390.6 220.9h1.0v1.0h-1.0zM379.1 245.3h1.0v1.0h-1.0zM383.3 225.1h1.0v1.0h-1.0zM390.6 231.8h1.0v1.0h-1.0zM374.5 234.1h1.0v1.0h-1.0zM389.8 224.3h1.0v1.0h-1.0zM398.5 228.7h1.0v1.0h-1.0zM392.4 225.2h1.0v1.0h-1.0zM388.2 226.8h1.0v1.0h-1.0zM389.7 230.8h1.0v1.0h-1.0zM390.0 234.1h1.0v1.0h-1.0zM408.9 214.3h1.0v1.0h-1.0zM394.6 230.4h1.0v1.0h-1.0zM394.5 225.0h1.0v1.0h-1.0zM388.6 235.1h1.0v1.0h-1.0zM396.1 227.9h1.0v1.0h-1.0zM385.2 235.3h1.0v1.0h-1.0zM395.7 224.4h1.0v1.0h-1.0zM400.1 234.0h1.0v1.0h-1.0zM376.8 240.4h1.0v1.0h-1.0zM377.7 229.6h1.0v1.0h-1.0zM389.5 232.2h1.0v1.0h-1.0zM387.7 224.4h1.0v1.0h-1.0zM377.5 233.9h1.0v1.0h-1.0zM388.2 225.8h1.0v1.0h-1.0zM382.4 242.9h1.0v1.0h-1.0zM383.1 232.5h1.0v1.0h-1.0zM384.3 229.5h1.0v1.0h-1.0zM389.6 227.7h1.0v1.0h-1.0zM392.0 221.5h1.0v1.0h-1.0zM383.0 243.6h1.0v1.0h-1.0zM391.2 232.3h1.0v1.0h-1.0zM400.5 225.3h1.0v1.0h-1.0zM386.6 223.0h1.0v1.0h-1.0zM379.8 240.5h1.0v1.0h-1.0zM396.6 227.9h1.0v1.0h-1.0zM372.0 229.0h1.0v1.0h-1.0zM379.0 229.7h1.0v1.0h-1.0zM388.8 224.4h1.0v1.0h-1.0zM400.9 218.9h1.0v1.0h-1.0zM387.7 235.0h1.0v1.0h-1.0zM390.4 224.0h1.0v1.0h-1.0zM401.0 232.3h1.0v1.0h-1.0zM379.8 234.0h1.0v1.0h-1.0zM377.0 226.9h1.0v1.0h-1.0zM396.5 228.6h1.0v1.0h-1.0zM398.6 225.9h1.0v1.0h-1.0zM374.2 238.7h1.0v1.0h-1.0zM382.0 227.8h1.0v1.0h-1.0zM383.2 237.3h1.0v1.0h-1.0zM392.3 237.9h1.0v1.0h-1.0zM389.2 219.5h1.0v1.0h-1.0zM400.0 229.4h1.0v1.0h-1.0zM387.4 224.3h1.0v1.0h-1.0zM400.7 215.4h1.0v1.0h-1.0zM384.8 222.2h1.0v1.0h-1.0zM376.1 228.7h1.0v1.0h-1.0zM401.3 228.1h1.0v1.0h-1.0zM383.6 225.8h1.0v1.0h-1.0zM390.4 230.7h1.0v1.0h-1.0zM375.3 232.1h1.0v1.0h-1.0zM390.9 232.2h1.0v1.0h-1.0zM391.7 230.3h1.0v1.0h-1.0zM374.3 225.7h1.0v1.0h-1.0zM390.3 224.0h1.0v1.0h-1.0zM388.1 228.2h1.0v1.0h-1.0zM391.9 223.7h1.0v1.0h-1.0zM401.4 222.0h1.0v1.0h-1.0zM395.7 228.8h1.0v1.0h-1.0zM399.1 225.4h1.0v1.0h-1.0zM374.7 235.2h1.0v1.0h-1.0zM405.8 221.7h1.0v1.0h-1.0zM395.5 228.0h1.0v1.0h-1.0zM383.3 229.6h1.0v1.0h-1.0zM387.7 236.6h1.0v1.0h-1.0zM397.1 234.0h1.0v1.0h-1.0zM398.4 233.8h1.0v1.0h-1.0zM390.8 222.2h1.0v1.0h-1.0zM404.5 221.7h1.0v1.0h-1.0zM399.9 223.9h1.0v1.0h-1.0zM387.8 231.3h1.0v1.0h-1.0zM378.3 230.0h1.0v1.0h-1.0zM381.7 231.4h1.0v1.0h-1.0zM379.0 235.3h1.0v1.0h-1.0zM397.3 235.3h1.0v1.0h-1.0zM404.4 219.7h1.0v1.0h-1.0zM396.5 223.8h1.0v1.0h-1.0zM393.0 226.9h1.0v1.0h-1.0zM385.9 232.0h1.0v1.0h-1.0zM379.4 238.0h1.0v1.0h-1.0zM385.1 226.3h1.0v1.0h-1.0zM388.5 232.9h1.0v1.0h-1.0zM385.8 234.2h1.0v1.0h-1.0zM398.3 232.2h1.0v1.0h-1.0zM381.1 234.0h1.0v1.0h-1.0zM397.7 232.2h1.0v1.0h-1.0zM393.9 230.6h1.0v1.0h-1.0zM377.0 234.0h1.0v1.0h-1.0zM402.5 219.7h1.0v1.0h-1.0zM405.4 215.5h1.0v1.0h-1.0zM384.0 224.3h1.0v1.0h-1.0zM395.7 226.9h1.0v1.0h-1.0zM406.4 219.6h1.0v1.0h-1.0zM384.6 224.8h1.0v1.0h-1.0zM391.6 233.1h1.0v1.0h-1.0zM398.8 230.0h1.0v1.0h-1.0zM396.8 224.5h1.0v1.0h-1.0zM395.2 226.7h1.0v1.0h-1.0zM383.5 242.2h1.0v1.0h-1.0zM390.4 223.1h1.0v1.0h-1.0zM393.8 228.2h1.0v1.0h-1.0zM401.4 229.6h1.0v1.0h-1.0zM367.1 246.3h1.0v1.0h-1.0zM399.9 217.7h1.0v1.0h-1.0zM375.9 239.3h1.0v1.0h-1.0zM393.5 228.7h1.0v1.0h-1.0zM380.0 232.7h1.0v1.0h-1.0zM393.4 230.9h1.0v1.0h-1.0zM408.2 219.2h1.0v1.0h-1.0zM379.5 222.9h1.0v1.0h-1.0zM398.2 223.1h1.0v1.0h-1.0zM386.7 225.7h1.0v1.0h-1.0zM391.5 218.4h1.0v1.0h-1.0zM391.2 228.9h1.0v1.0h-1.0zM395.5 232.5h1.0v1.0h-1.0zM389.4 229.9h1.0v1.0h-1.0zM393.1 218.7h1.0v1.0h-1.0zM387.8 230.7h1.0v1.0h-1.0zM395.7 221.1h1.0v1.0h-1.0zM397.4 226.5h1.0v1.0h-1.0zM374.5 230.7h1.0v1.0h-1.0zM378.9 236.7h1.0v1.0h-1.0zM393.4 230.8h1.0v1.0h-1.0zM395.2 222.8h1.0v1.0h-1.0zM400.5 226.8h1.0v1.0h-1.0zM394.9 228.5h1.0v1.0h-1.0zM380.6 236.8h1.0v1.0h-1.0zM378.8 229.5h1.0v1.0h-1.0zM387.5 231.3h1.0v1.0h-1.0zM388.8 228.0h1.0v1.0h-1.0zM382.4 234.7h1.0v1.0h-1.0zM380.7 227.2h1.0v1.0h-1.0zM394.3 234.2h1.0v1.0h-1.0zM384.2 226.9h1.0v1.0h-1.0zM405.2 228.7h1.0v1.0h-1.0zM387.1 229.7h1.0v1.0h-1.0zM398.9 239.4h1.0v1.0h-1.0zM393.5 232.2h1.0v1.0h-1.0zM389.1 219.7h1.0v1.0h-1.0zM378.2 229.7h1.0v1.0h-1.0zM393.7 227.2h1.0v1.0h-1.0zM403.7 219.0h1.0v1.0h-1.0zM392.7 227.7h1.0v1.0h-1.0zM396.7 237.3h1.0v1.0h-1.0zM395.9 233.3h1.0v1.0h-1.0zM398.9 220.1h1.0v1.0h-1.0zM394.6 224.1h1.0v1.0h-1.0zM391.3 229.1h1.0v1.0h-1.0zM389.0 227.1h1.0v1.0h-1.0zM401.9 220.2h1.0v1.0h-1.0zM399.7 232.0h1.0v1.0h-1.0zM397.5 229.8h1.0v1.0h-1.0zM403.8 226.3h1.0v1.0h-1.0zM400.3 214.8h1.0v1.0h-1.0zM405.8 219.3h1.0v1.0h-1.0zM374.4 235.3h1.0v1.0h-1.0zM378.7 235.9h1.0v1.0h-1.0zM375.6 232.6h1.0v1.0h-1.0zM392.8 228.1h1.0v1.0h-1.0zM383.0 232.1h1.0v1.0h-1.0zM389.4 229.8h1.0v1.0h-1.0zM389.4 228.2h1.0v1.0h-1.0zM393.2 218.3h1.0v1.0h-1.0zM386.4 232.0h1.0v1.0h-1.0zM385.4 228.9h1.0v1.0h-1.0zM387.0 232.0h1.0v1.0h-1.0zM399.6 222.0h1.0v1.0h-1.0zM388.7 231.7h1.0v1.0h-1.0zM383.3 222.7h1.0v1.0h-1.0zM391.2 226.2h1.0v1.0h-1.0zM386.9 234.3h1.0v1.0h-1.0zM389.0 226.6h1.0v1.0h-1.0zM368.3 233.2h1.0v1.0h-1.0zM389.8 228.5h1.0v1.0h-1.0zM394.1 227.7h1.0v1.0h-1.0zM383.1 226.5h1.0v1.0h-1.0zM380.8 234.0h1.0v1.0h-1.0zM382.6 237.7h1.0v1.0h-1.0zM375.0 228.7h1.0v1.0h-1.0zM384.1 223.1h1.0v1.0h-1.0zM400.7 216.9h1.0v1.0h-1.0zM389.0 228.3h1.0v1.0h-1.0zM379.1 226.2h1.0v1.0h-1.0zM377.1 241.7h1.0v1.0h-1.0zM403.5 232.3h1.0v1.0h-1.0zM379.6 238.5h1.0v1.0h-1.0zM391.9 232.4h1.0v1.0h-1.0zM387.6 234.4h1.0v1.0h-1.0zM398.7 226.9h1.0v1.0h-1.0zM401.2 221.0h1.0v1.0h-1.0zM400.7 218.5h1.0v1.0h-1.0zM396.7 209.9h1.0v1.0h-1.0zM388.2 225.8h1.0v1.0h-1.0zM392.5 233.0h1.0v1.0h-1.0zM396.0 225.8h1.0v1.0h-1.0zM400.1 214.7h1.0v1.0h-1.0zM387.1 239.0h1.0v1.0h-1.0zM387.6 219.3h1.0v1.0h-1.0zM389.9 222.7h1.0v1.0h-1.0zM404.7 226.0h1.0v1.0h-1.0zM388.7 236.8h1.0v1.0h-1.0zM385.5 236.8h1.0v1.0h-1.0zM394.4 225.6h1.0v1.0h-1.0zM377.9 235.1h1.0v1.0h-1.0zM370.2 238.3h1.0v1.0h-1.0zM378.1 243.1h1.0v1.0h-1.0zM376.3 224.4h1.0v1.0h-1.0zM395.6 227.5h1.0v1.0h-1.0zM391.1 239.8h1.0v1.0h-1.0zM396.4 225.4h1.0v1.0h-1.0zM377.6 220.7h1.0v1.0h-1.0zM396.2 230.3h1.0v1.0h-1.0zM381.8 226.5h1.0v1.0h-1.0zM385.6 222.7h1.0v1.0h-1.0zM391.9 232.0h1.0v1.0h-1.0zM402.8 222.4h1.0v1.0h-1.0zM393.4 230.9h1.0v1.0h-1.0zM400.5 220.7h1.0v1.0h-1.0zM378.2 232.1h1.0v1.0h-1.0zM377.7 231.9h1.0v1.0h-1.0zM389.9 230.9h1.0v1.0h-1.0zM391.4 228.5h1.0v1.0h-1.0zM388.2 232.4h1.0v1.0h-1.0zM399.0 227.5h1.0v1.0h-1.0zM401.4 220.3h1.0v1.0h-1.0zM392.1 236.9h1.0v1.0h-1.0zM392.6 229.6h1.0v1.0h-1.0zM389.7 234.5h1.0v1.0h-1.0zM384.3 227.1h1.0v1.0h-1.0zM388.4 227.6h1.0v1.0h-1.0zM395.8 223.3h1.0v1.0h-1.0zM390.5 227.5h1.0v1.0h-1.0zM391.2 224.8h1.0v1.0h-1.0zM395.4 217.9h1.0v1.0h-1.0zM385.2 228.2h1.0v1.0h-1.0zM395.3 225.9h1.0v1.0h-1.0zM393.1 225.3h1.0v1.0h-1.0zM381.5 228.2h1.0v1.0h-1.0zM386.0 228.6h1.0v1.0h-1.0zM393.1 229.0h1.0v1.0h-1.0zM397.6 223.7h1.0v1.0h-1.0zM381.4 228.6h1.0v1.0h-1.0zM391.4 230.1h1.0v1.0h-1.0zM406.1 219.9h1.0v1.0h-1.0zM408.7 227.5h1.0v1.0h-1.0zM384.5 239.0h1.0v1.0h-1.0zM402.4 228.5h1.0v1.0h-1.0zM392.2 232.8h1.0v1.0h-1.0zM386.0 231.1h1.0v1.0h-1.0zM394.5 235.9h1.0v1.0h-1.0zM390.6 233.8h1.0v1.0h-1.0zM388.8 225.9h1.0v1.0h-1.0zM393.6 230.4h1.0v1.0h-1.0zM385.8 235.1h1.0v1.0h-1.0zM382.1 229.2h1.0v1.0h-1.0zM391.2 227.0h1.0v1.0h-1.0zM378.1 227.6h1.0v1.0h-1.0zM390.8 229.8h1.0v1.0h-1.0zM386.8 232.0h1.0v1.0h-1.0zM378.7 238.2h1.0v1.0h-1.0zM394.0 228.0h1.0v1.0h-1.0zM385.3 232.4h1.0v1.0h-1.0zM393.7 232.5h1.0v1.0h-1.0zM392.8 228.6h1.0v1.0h-1.0zM386.3 236.0h1.0v1.0h-1.0zM398.2 221.2h1.0v1.0h-1.0zM395.9 227.0h1.0v1.0h-1.0zM386.5 224.2h1.0v1.0h-1.0zM399.6 212.9h1.0v1.0h-1.0zM391.5 226.0h1.0v1.0h-1.0zM398.2 221.6h1.0v1.0h-1.0zM391.8 231.2h1.0v1.0h-1.0zM392.4 224.7h1.0v1.0h-1.0zM396.4 227.1h1.0v1.0h-1.0zM396.7 222.0h1.0v1.0h-1.0zM388.7 227.7h1.0v1.0h-1.0zM383.9 234.2h1.0v1.0h-1.0zM396.7 232.5h1.0v1.0h-1.0zM388.3 232.1h1.0v1.0h-1.0zM398.9 222.8h1.0v1.0h-1.0zM390.8 229.2h1.0v1.0h-1.0zM382.1 228.6h1.0v1.0h-1.0zM399.4 224.1h1.0v1.0h-1.0zM386.4 224.5h1.0v1.0h-1.0zM393.8 233.0h1.0v1.0h-1.0zM378.6 231.3h1.0v1.0h-1.0zM402.4 229.0h1.0v1.0h-1.0zM401.1 219.1h1.0v1.0h-1.0zM393.0 223.1h1.0v1.0h-1.0zM393.3 225.0h1.0v1.0h-1.0zM394.8 233.2h1.0v1.0h-1.0zM392.1 226.4h1.0v1.0h-1.0zM391.1 229.8h1.0v1.0h-1.0zM386.4 232.4h1.0v1.0h-1.0zM398.6 232.0h1.0v1.0h-1.0zM370.6 234.7h1.0v1.0h-1.0zM382.2 238.6h1.0v1.0h-1.0zM410.0 217.5h1.0v1.0h-1.0zM393.7 232.8h1.0v1.0h-1.0zM370.0 240.5h1.0v1.0h-1.0zM365.4 245.2h1.0v1.0h-1.0zM384.8 229.7h1.0v1.0h-1.0zM391.3 225.0h1.0v1.0h-1.0zM398.9 223.4h1.0v1.0h-1.0zM399.2 236.9h1.0v1.0h-1.0zM388.7 234.8h1.0v1.0h-1.0zM386.4 238.0h1.0v1.0h-1.0zM398.1 224.7h1.0v1.0h-1.0zM401.8 230.3h1.0v1.0h-1.0zM401.0 222.1h1.0v1.0h-1.0zM392.2 233.6h1.0v1.0h-1.0zM376.8 234.0h1.0v1.0h-1.0zM395.3 228.8h1.0v1.0h-1.0zM409.1 226.5h1.0v1.0h-1.0zM393.7 229.1h1.0v1.0h-1.0zM379.0 234.9h1.0v1.0h-1.0zM391.5 226.8h1.0v1.0h-1.0zM391.9 231.1h1.0v1.0h-1.0zM381.0 231.6h1.0v1.0h-1.0zM378.6 242.3h1.0v1.0h-1.0zM377.5 227.7h1.0v1.0h-1.0zM395.6 224.3h1.0v1.0h-1.0zM396.8 222.8h1.0v1.0h-1.0zM408.7 221.2h1.0v1.0h-1.0zM391.5 228.7h1.0v1.0h-1.0zM390.3 233.1h1.0v1.0h-1.0zM404.9 217.4h1.0v1.0h-1.0zM382.8 236.7h1.0v1.0h-1.0zM394.9 217.9h1.0v1.0h-1.0zM382.1 228.6h1.0v1.0h-1.0zM395.7 228.2h1.0v1.0h-1.0zM381.4 228.3h1.0v1.0h-1.0zM390.5 217.7h1.0v1.0h-1.0zM394.8 225.2h1.0v1.0h-1.0zM407.7 223.3h1.0v1.0h-1.0zM384.7 230.8h1.0v1.0h-1.0zM386.0 227.6h1.0v1.0h-1.0zM393.0 232.3h1.0v1.0h-1.0zM377.5 235.6h1.0v1.0h-1.0zM403.6 224.4h1.0v1.0h-1.0zM381.6 229.9h1.0v1.0h-1.0zM379.4 227.1h1.0v1.0h-1.0zM399.3 223.6h1.0v1.0h-1.0zM381.0 226.9h1.0v1.0h-1.0zM385.7 228.9h1.0v1.0h-1.0zM402.6 218.7h1.0v1.0h-1.0zM393.5 232.5h1.0v1.0h-1.0zM394.9 225.0h1.0v1.0h-1.0zM376.1 245.2h1.0v1.0h-1.0zM393.7 224.4h1.0v1.0h-1.0zM387.0 225.8h1.0v1.0h-1.0zM379.3 227.8h1.0v1.0h-1.0zM395.2 228.5h1.0v1.0h-1.0zM393.3 231.1h1.0v1.0h-1.0zM394.5 226.8h1.0v1.0h-1.0zM384.4 235.6h1.0v1.0h-1.0zM400.9 225.5h1.0v1.0h-1.0zM398.8 221.0h1.0v1.0h-1.0zM385.2 238.6h1.0v1.0h-1.0zM386.0 232.8h1.0v1.0h-1.0zM388.5 230.0h1.0v1.0h-1.0zM386.6 228.3h1.0v1.0h-1.0zM380.5 245.1h1.0v1.0h-1.0zM387.0 220.6h1.0v1.0h-1.0zM380.1 229.2h1.0v1.0h-1.0zM378.0 222.9h1.0v1.0h-1.0zM398.5 232.4h1.0v1.0h-1.0zM389.8 233.1h1.0v1.0h-1.0zM391.8 221.3h1.0v1.0h-1.0zM395.6 216.5h1.0v1.0h-1.0zM384.6 230.5h1.0v1.0h-1.0zM400.2 223.3h1.0v1.0h-1.0zM387.1 226.5h1.0v1.0h-1.0zM390.8 228.7h1.0v1.0h-1.0zM399.1 230.7h1.0v1.0h-1.0zM395.9 225.4h1.0v1.0h-1.0zM392.6 235.9h1.0v1.0h-1.0zM391.5 227.9h1.0v1.0h-1.0zM407.9 226.1h1.0v1.0h-1.0zM394.2 225.8h1.0v1.0h-1.0zM387.5 236.2h1.0v1.0h-1.0zM388.7 234.9h1.0v1.0h-1.0zM384.1 233.3h1.0v1.0h-1.0zM393.5 227.6h1.0v1.0h-1.0zM392.8 229.3h1.0v1.0h-1.0zM378.5 230.3h1.0v1.0h-1.0zM393.1 236.6h1.0v1.0h-1.0zM386.8 226.1h1.0v1.0h-1.0zM384.9 232.4h1.0v1.0h-1.0zM398.0 221.0h1.0v1.0h-1.0zM394.9 227.0h1.0v1.0h-1.0zM384.9 227.2h1.0v1.0h-1.0zM387.1 227.0h1.0v1.0h-1.0zM390.0 219.6h1.0v1.0h-1.0zM400.7 226.3h1.0v1.0h-1.0zM398.1 231.9h1.0v1.0h-1.0zM390.7 219.5h1.0v1.0h-1.0zM391.5 230.5h1.0v1.0h-1.0zM381.9 228.1h1.0v1.0h-1.0zM394.6 228.8h1.0v1.0h-1.0zM386.1 230.2h1.0v1.0h-1.0zM384.7 229.3h1.0v1.0h-1.0zM392.1 233.4h1.0v1.0h-1.0zM376.5 235.6h1.0v1.0h-1.0zM403.4 222.3h1.0v1.0h-1.0zM393.2 231.4h1.0v1.0h-1.0zM379.2 229.3h1.0v1.0h-1.0zM373.5 231.6h1.0v1.0h-1.0zM394.0 231.0h1.0v1.0h-1.0zM385.1 228.5h1.0v1.0h-1.0zM394.6 229.4h1.0v1.0h-1.0zM387.5 220.5h1.0v1.0h-1.0zM379.7 222.0h1.0v1.0h-1.0zM389.9 224.6h1.0v1.0h-1.0zM388.4 237.9h1.0v1.0h-1.0zM401.5 224.3h1.0v1.0h-1.0zM392.6 228.3h1.0v1.0h-1.0zM385.3 231.7h1.0v1.0h-1.0zM402.9 216.3h1.0v1.0h-1.0zM385.2 232.9h1.0v1.0h-1.0zM399.0 227.8h1.0v1.0h-1.0zM382.1 233.2h1.0v1.0h-1.0zM385.0 225.6h1.0v1.0h-1.0zM389.5 226.8h1.0v1.0h-1.0zM398.2 226.1h1.0v1.0h-1.0zM384.1 233.1h1.0v1.0h-1.0zM385.7 228.3h1.0v1.0h-1.0zM388.7 235.4h1.0v1.0h-1.0zM382.7 224.5h1.0v1.0h-1.0zM385.8 235.9h1.0v1.0h-1.0zM404.4 214.5h1.0v1.0h-1.0zM386.4 229.5h1.0v1.0h-1.0zM379.9 237.4h1.0v1.0h-1.0zM390.3 230.3h1.0v1.0h-1.0zM406.9 217.0h1.0v1.0h-1.0zM398.2 228.3h1.0v1.0h-1.0zM383.6 229.9h1.0v1.0h-1.0zM403.9 224.1h1.0v1.0h-1.0zM388.5 224.1h1.0v1.0h-1.0zM398.2 226.7h1.0v1.0h-1.0zM410.7 223.8h1.0v1.0h-1.0zM396.9 226.1h1.0v1.0h-1.0zM389.2 226.6h1.0v1.0h-1.0zM393.0 228.4h1.0v1.0h-1.0zM397.7 229.9h1.0v1.0h-1.0zM391.2 225.4h1.0v1.0h-1.0zM400.0 230.9h1.0v1.0h-1.0zM384.5 234.7h1.0v1.0h-1.0zM395.6 228.4h1.0v1.0h-1.0zM393.7 226.2h1.0v1.0h-1.0zM393.2 235.9h1.0v1.0h-1.0zM400.2 215.2h1.0v1.0h-1.0zM371.2 243.1h1.0v1.0h-1.0zM383.5 230.3h1.0v1.0h-1.0zM378.4 238.1h1.0v1.0h-1.0zM388.3 227.2h1.0v1.0h-1.0zM402.8 233.8h1.0v1.0h-1.0zM404.3 226.2h1.0v1.0h-1.0zM388.3 233.5h1.0v1.0h-1.0zM392.4 233.6h1.0v1.0h-1.0zM394.5 226.0h1.0v1.0h-1.0zM392.6 223.6h1.0v1.0h-1.0zM399.8 230.8h1.0v1.0h-1.0zM388.5 232.9h1.0v1.0h-1.0zM379.2 240.7h1.0v1.0h-1.0zM394.5 220.8h1.0v1.0h-1.0zM403.9 220.9h1.0v1.0h-1.0zM373.2 232.3h1.0v1.0h-1.0zM396.2 223.7h1.0v1.0h-1.0zM395.0 217.7h1.0v1.0h-1.0zM391.5 233.2h1.0v1.0h-1.0zM386.3 234.9h1.0v1.0h-1.0zM388.0 232.1h1.0v1.0h-1.0zM397.8 235.9h1.0v1.0h-1.0zM382.2 238.0h1.0v1.0h-1.0zM397.6 218.3h1.0v1.0h-1.0zM396.1 237.4h1.0v1.0h-1.0zM391.2 212.6h1.0v1.0h-1.0zM384.1 223.7h1.0v1.0h-1.0zM390.7 224.8h1.0v1.0h-1.0zM383.6 228.6h1.0v1.0h-1.0zM391.2 225.8h1.0v1.0h-1.0zM382.4 232.6h1.0v1.0h-1.0zM391.2 223.8h1.0v1.0h-1.0zM394.8 217.3h1.0v1.0h-1.0zM392.3 225.5h1.0v1.0h-1.0zM400.8 218.9h1.0v1.0h-1.0zM381.6 227.2h1.0v1.0h-1.0zM407.0 221.6h1.0v1.0h-1.0zM380.7 233.0h1.0v1.0h-1.0zM386.1 239.5h1.0v1.0h-1.0zM388.5 219.2h1.0v1.0h-1.0zM393.8 231.4h1.0v1.0h-1.0zM391.1 230.8h1.0v1.0h-1.0zM389.6 230.3h1.0v1.0h-1.0zM390.0 225.3h1.0v1.0h-1.0zM393.1 227.9h1.0v1.0h-1.0zM388.1 226.6h1.0v1.0h-1.0zM382.6 234.9h1.0v1.0h-1.0zM390.7 215.8h1.0v1.0h-1.0zM389.0 236.7h1.0v1.0h-1.0zM395.5 221.8h1.0v1.0h-1.0zM398.2 218.6h1.0v1.0h-1.0zM388.4 240.2h1.0v1.0h-1.0zM386.1 230.3h1.0v1.0h-1.0zM374.7 233.2h1.0v1.0h-1.0zM380.5 234.2h1.0v1.0h-1.0zM378.2 242.0h1.0v1.0h-1.0zM385.8 228.4h1.0v1.0h-1.0zM386.8 234.9h1.0v1.0h-1.0zM401.0 219.9h1.0v1.0h-1.0z"/>
<path fill="#0a0ae0" opacity="0.6" d="M401.6 226.6h1.0v1.0h-1.0zM398.5 224.4h1.0v1.0h-1.0zM386.2 233.3h1.0v1.0h-1.0zM390.4 229.1h1.0v1.0h-1.0zM383.0 232.2h1.0v1.0h-1.0zM391.7 224.7h1.0v1.0h-1.0zM395.7 230.5h1.0v1.0h-1.0zM392.1 225.3h1.0v1.0h-1.0zM399.7 215.8h1.0v1.0h-1.0zM388.4 231.1h1.0v1.0h-1.0zM386.0 223.9h1.0v1.0h-1.0zM394.4 228.7h1.0v1.0h-1.0zM390.5 233.1h1.0v1.0h-1.0zM396.0 228.8h1.0v1.0h-1.0zM385.1 231.8h1.0v1.0h-1.0zM402.2 227.6h1.0v1.0h-1.0zM398.0 223.8h1.0v1.0h-1.0zM391.9 225.5h1.0v1.0h-1.0zM396.0 222.8h1.0v1.0h-1.0zM389.6 222.4h1.0v1.0h-1.0zM387.7 235.9h1.0v1.0h-1.0zM392.6 227.8h1.0v1.0h-1.0zM382.0 233.7h1.0v1.0h-1.0zM399.3 218.2h1.0v1.0h-1.0zM381.0 233.9h1.0v1.0h-1.0zM389.3 228.5h1.0v1.0h-1.0zM384.3 227.9h1.0v1.0h-1.0zM387.3 232.5h1.0v1.0h-1.0zM393.0 229.5h1.0v1.0h-1.0zM387.9 231.9h1.0v1.0h-1.0zM390.1 229.0h1.0v1.0h-1.0zM396.3 224.9h1.0v1.0h-1.0zM388.0 224.6h1.0v1.0h-1.0zM393.4 229.1h1.0v1.0h-1.0zM389.0 229.1h1.0v1.0h-1.0zM382.0 229.4h1.0v1.0h-1.0zM395.7 229.4h1.0v1.0h-1.0zM388.2 224.5h1.0v1.0h-1.0zM388.0 224.9h1.0v1.0h-1.0zM393.5 232.8h1.0v1.0h-1.0zM393.1 226.3h1.0v1.0h-1.0zM396.2 223.7h1.0v1.0h-1.0zM393.8 227.0h1.0v1.0h-1.0zM391.9 222.8h1.0v1.0h-1.0zM396.5 227.5h1.0v1.0h-1.0zM377.6 227.7h1.0v1.0h-1.0zM390.1 233.5h1.0v1.0h-1.0zM393.1 229.0h1.0v1.0h-1.0zM395.8 228.0h1.0v1.0h-1.0zM388.2 228.0h1.0v1.0h-1.0zM394.6 227.8h1.0v1.0h-1.0zM395.1 226.6h1.0v1.0h-1.0zM391.4 231.5h1.0v1.0h-1.0zM395.7 228.6h1.0v1.0h-1.0zM381.8 237.1h1.0v1.0h-1.0zM381.1 235.0h1.0v1.0h-1.0zM389.1 229.7h1.0v1.0h-1.0zM389.4 228.1h1.0v1.0h-1.0zM393.4 227.8h1.0v1.0h-1.0zM384.6 223.9h1.0v1.0h-1.0zM389.2 231.0h1.0v1.0h-1.0zM388.8 230.9h1.0v1.0h-1.0zM388.9 226.4h1.0v1.0h-1.0zM399.8 228.0h1.0v1.0h-1.0zM391.5 227.7h1.0v1.0h-1.0zM394.5 221.6h1.0v1.0h-1.0zM389.6 232.7h1.0v1.0h-1.0zM395.4 223.8h1.0v1.0h-1.0zM388.9 230.6h1.0v1.0h-1.0zM384.8 230.4h1.0v1.0h-1.0zM387.3 222.4h1.0v1.0h-1.0zM395.8 227.6h1.0v1.0h-1.0zM394.8 221.1h1.0v1.0h-1.0zM384.9 229.3h1.0v1.0h-1.0zM389.0 236.1h1.0v1.0h-1.0zM387.0 229.6h1.0v1.0h-1.0zM393.6 228.0h1.0v1.0h-1.0zM397.1 220.8h1.0v1.0h-1.0zM396.3 225.3h1.0v1.0h-1.0zM386.8 231.2h1.0v1.0h-1.0zM387.9 235.4h1.0v1.0h-1.0zM390.1 232.0h1.0v1.0h-1.0zM397.1 222.3h1.0v1.0h-1.0zM388.0 230.4h1.0v1.0h-1.0zM388.5 232.7h1.0v1.0h-1.0zM391.7 225.2h1.0v1.0h-1.0zM389.9 231.2h1.0v1.0h-1.0zM387.8 235.7h1.0v1.0h-1.0zM388.1 229.3h1.0v1.0h-1.0zM390.1 234.0h1.0v1.0h-1.0zM397.7 228.2h1.0v1.0h-1.0zM395.2 225.8h1.0v1.0h-1.0zM400.8 224.2h1.0v1.0h-1.0zM394.9 227.6h1.0v1.0h-1.0zM395.8 226.0h1.0v1.0h-1.0zM388.9 224.2h1.0v1.0h-1.0zM399.6 218.5h1.0v1.0h-1.0zM380.9 232.1h1.0v1.0h-1.0zM402.8 224.8h1.0v1.0h-1.0zM389.6 229.9h1.0v1.0h-1.0zM389.0 222.9h1.0v1.0h-1.0zM390.9 229.2h1.0v1.0h-1.0zM395.7 221.2h1.0v1.0h-1.0zM379.2 230.3h1.0v1.0h-1.0zM393.7 226.7h1.0v1.0h-1.0zM392.9 227.4h1.0v1.0h-1.0zM388.3 225.3h1.0v1.0h-1.0zM394.7 227.1h1.0v1.0h-1.0zM396.5 228.8h1.0v1.0h-1.0zM382.8 225.6h1.0v1.0h-1.0zM386.9 237.8h1.0v1.0h-1.0zM388.3 231.1h1.0v1.0h-1.0zM393.0 229.3h1.0v1.0h-1.0zM406.2 216.9h1.0v1.0h-1.0zM390.3 226.6h1.0v1.0h-1.0zM393.9 228.0h1.0v1.0h-1.0zM389.4 233.5h1.0v1.0h-1.0zM398.0 225.2h1.0v1.0h-1.0zM391.1 227.3h1.0v1.0h-1.0zM385.3 233.8h1.0v1.0h-1.0zM386.7 229.1h1.0v1.0h-1.0zM395.3 222.4h1.0v1.0h-1.0zM390.8 231.1h1.0v1.0h-1.0zM399.6 220.4h1.0v1.0h-1.0zM396.2 222.7h1.0v1.0h-1.0zM394.5 227.5h1.0v1.0h-1.0zM388.2 233.3h1.0v1.0h-1.0zM400.5 222.4h1.0v1.0h-1.0zM391.5 223.9h1.0v1.0h-1.0zM400.4 222.4h1.0v1.0h-1.0zM387.2 233.0h1.0v1.0h-1.0zM384.2 230.1h1.0v1.0h-1.0zM384.1 237.0h1.0v1.0h-1.0zM401.4 219.6h1.0v1.0h-1.0zM388.1 228.0h1.0v1.0h-1.0zM390.2 230.5h1.0v1.0h-1.0zM397.3 220.9h1.0v1.0h-1.0zM391.4 221.9h1.0v1.0h-1.0zM399.0 222.8h1.0v1.0h-1.0zM391.0 233.2h1.0v1.0h-1.0zM393.5 231.1h1.0v1.0h-1.0zM399.5 228.3h1.0v1.0h-1.0zM388.4 230.0h1.0v1.0h-1.0zM393.4 226.0h1.0v1.0h-1.0zM398.0 221.4h1.0v1.0h-1.0zM398.7 227.8h1.0v1.0h-1.0zM381.5 230.9h1.0v1.0h-1.0zM387.0 228.8h1.0v1.0h-1.0zM393.6 225.9h1.0v1.0h-1.0zM391.7 226.2h1.0v1.0h-1.0zM392.3 228.9h1.0v1.0h-1.0zM394.3 223.5h1.0v1.0h-1.0zM390.3 226.0h1.0v1.0h-1.0zM389.0 224.6h1.0v1.0h-1.0zM397.4 226.3h1.0v1.0h-1.0zM390.4 226.2h1.0v1.0h-1.0zM388.9 227.3h1.0v1.0h-1.0zM387.2 235.9h1.0v1.0h-1.0zM405.5 215.0h1.0v1.0h-1.0zM387.4 232.3h1.0v1.0h-1.0zM392.5 222.0h1.0v1.0h-1.0zM383.8 234.4h1.0v1.0h-1.0zM384.8 236.7h1.0v1.0h-1.0zM389.8 229.1h1.0v1.0h-1.0zM391.2 226.2h1.0v1.0h-1.0zM390.9 227.2h1.0v1.0h-1.0zM397.7 223.7h1.0v1.0h-1.0zM391.1 226.3h1.0v1.0h-1.0zM387.9 227.6h1.0v1.0h-1.0zM394.8 231.8h1.0v1.0h-1.0zM397.6 224.8h1.0v1.0h-1.0zM401.3 225.0h1.0v1.0h-1.0zM392.7 226.5h1.0v1.0h-1.0zM387.3 231.3h1.0v1.0h-1.0zM388.2 224.7h1.0v1.0h-1.0zM388.9 235.8h1.0v1.0h-1.0zM393.7 228.1h1.0v1.0h-1.0zM392.2 225.8h1.0v1.0h-1.0zM395.8 228.7h1.0v1.0h-1.0zM391.3 229.6h1.0v1.0h-1.0zM396.1 223.4h1.0v1.0h-1.0zM391.7 225.2h1.0v1.0h-1.0zM394.3 224.9h1.0v1.0h-1.0zM396.2 222.3h1.0v1.0h-1.0zM399.4 221.8h1.0v1.0h-1.0zM386.7 227.8h1.0v1.0h-1.0zM393.8 223.5h1.0v1.0h-1.0zM402.3 225.3h1.0v1.0h-1.0zM392.3 222.6h1.0v1.0h-1.0zM390.8 225.8h1.0v1.0h-1.0zM384.2 233.8h1.0v1.0h-1.0zM401.5 219.8h1.0v1.0h-1.0zM397.7 228.2h1.0v1.0h-1.0zM387.0 229.5h1.0v1.0h-1.0zM394.0 227.8h1.0v1.0h-1.0zM387.0 231.4h1.0v1.0h-1.0zM392.9 230.1h1.0v1.0h-1.0zM383.7 230.8h1.0v1.0h-1.0zM389.2 228.2h1.0v1.0h-1.0zM394.4 223.9h1.0v1.0h-1.0zM403.7 217.8h1.0v1.0h-1.0zM397.4 227.5h1.0v1.0h-1.0zM396.2 224.2h1.0v1.0h-1.0zM387.8 229.3h1.0v1.0h-1.0zM395.3 225.8h1.0v1.0h-1.0zM395.6 227.2h1.0v1.0h-1.0zM386.5 227.9h1.0v1.0h-1.0zM398.0 222.1h1.0v1.0h-1.0zM387.4 236.5h1.0v1.0h-1.0zM386.7 227.7h1.0v1.0h-1.0zM394.8 222.0h1.0v1.0h-1.0zM389.5 232.5h1.0v1.0h-1.0zM391.9 235.8h1.0v1.0h-1.0zM396.4 233.6h1.0v1.0h-1.0zM392.7 227.3h1.0v1.0h-1.0zM388.7 228.8h1.0v1.0h-1.0zM389.6 228.9h1.0v1.0h-1.0zM393.7 222.2h1.0v1.0h-1.0zM384.6 225.2h1.0v1.0h-1.0zM398.9 222.9h1.0v1.0h-1.0zM391.9 227.4h1.0v1.0h-1.0zM397.2 225.3h1.0v1.0h-1.0zM395.7 224.6h1.0v1.0h-1.0zM391.4 227.7h1.0v1.0h-1.0zM384.9 235.5h1.0v1.0h-1.0zM383.2 229.7h1.0v1.0h-1.0zM395.2 225.7h1.0v1.0h-1.0zM398.3 229.2h1.0v1.0h-1.0zM402.7 225.4h1.0v1.0h-1.0zM394.0 233.0h1.0v1.0h-1.0zM387.8 229.9h1.0v1.0h-1.0zM396.3 224.1h1.0v1.0h-1.0zM390.9 227.0h1.0v1.0h-1.0zM394.7 217.7h1.0v1.0h-1.0zM399.5 226.3h1.0v1.0h-1.0zM392.5 229.0h1.0v1.0h-1.0zM389.1 233.0h1.0v1.0h-1.0zM404.9 216.4h1.0v1.0h-1.0zM398.4 223.3h1.0v1.0h-1.0zM389.7 227.3h1.0v1.0h-1.0zM389.3 225.1h1.0v1.0h-1.0zM388.1 235.4h1.0v1.0h-1.0zM392.7 228.9h1.0v1.0h-1.0zM394.2 227.7h1.0v1.0h-1.0zM383.5 229.7h1.0v1.0h-1.0zM396.4 228.0h1.0v1.0h-1.0zM385.8 229.5h1.0v1.0h-1.0zM388.0 232.2h1.0v1.0h-1.0zM393.7 226.6h1.0v1.0h-1.0zM389.5 230.2h1.0v1.0h-1.0zM391.0 225.6h1.0v1.0h-1.0zM392.6 225.0h1.0v1.0h-1.0zM397.4 226.2h1.0v1.0h-1.0zM389.7 230.9h1.0v1.0h-1.0zM391.3 225.6h1.0v1.0h-1.0zM385.3 226.2h1.0v1.0h-1.0zM387.2 231.6h1.0v1.0h-1.0zM396.7 222.5h1.0v1.0h-1.0zM393.3 227.9h1.0v1.0h-1.0zM396.3 226.3h1.0v1.0h-1.0zM398.9 225.7h1.0v1.0h-1.0zM389.0 230.7h1.0v1.0h-1.0zM380.8 233.9h1.0v1.0h-1.0zM393.0 228.8h1.0v1.0h-1.0zM391.8 230.4h1.0v1.0h-1.0zM396.9 221.7h1.0v1.0h-1.0zM389.9 229.7h1.0v1.0h-1.0zM394.5 226.4h1.0v1.0h-1.0zM394.1 222.3h1.0v1.0h-1.0zM397.3 228.0h1.0v1.0h-1.0zM397.8 225.3h1.0v1.0h-1.0zM391.5 229.1h1.0v1.0h-1.0zM389.3 224.0h1.0v1.0h-1.0zM389.1 229.2h1.0v1.0h-1.0zM388.2 226.8h1.0v1.0h-1.0zM390.4 227.3h1.0v1.0h-1.0zM392.3 227.2h1.0v1.0h-1.0zM394.3 229.4h1.0v1.0h-1.0zM393.2 228.1h1.0v1.0h-1.0zM381.9 224.1h1.0v1.0h-1.0zM391.1 230.3h1.0v1.0h-1.0zM389.5 227.0h1.0v1.0h-1.0zM387.5 233.2h1.0v1.0h-1.0zM389.9 229.6h1.0v1.0h-1.0zM398.1 225.5h1.0v1.0h-1.0zM402.3 220.6h1.0v1.0h-1.0zM397.5 226.4h1.0v1.0h-1.0zM389.0 229.5h1.0v1.0h-1.0zM387.8 226.7h1.0v1.0h-1.0zM392.2 224.8h1.0v1.0h-1.0zM398.7 220.8h1.0v1.0h-1.0zM389.6 229.3h1.0v1.0h-1.0zM389.7 229.1h1.0v1.0h-1.0zM387.1 225.9h1.0v1.0h-1.0zM378.8 231.5h1.0v1.0h-1.0zM399.8 224.1h1.0v1.0h-1.0zM392.0 225.9h1.0v1.0h-1.0zM391.8 228.6h1.0v1.0h-1.0zM384.3 229.7h1.0v1.0h-1.0zM389.7 233.1h1.0v1.0h-1.0zM388.8 233.4h1.0v1.0h-1.0zM393.9 235.3h1.0v1.0h-1.0zM391.7 227.8h1.0v1.0h-1.0zM399.6 225.6h1.0v1.0h-1.0zM394.8 222.2h1.0v1.0h-1.0zM399.8 228.2h1.0v1.0h-1.0zM390.8 226.6h1.0v1.0h-1.0zM388.4 233.1h1.0v1.0h-1.0zM393.4 226.7h1.0v1.0h-1.0zM388.6 234.9h1.0v1.0h-1.0zM396.1 224.9h1.0v1.0h-1.0zM397.5 220.9h1.0v1.0h-1.0zM394.6 222.6h1.0v1.0h-1.0zM398.2 222.7h1.0v1.0h-1.0zM397.1 222.9h1.0v1.0h-1.0zM395.6 229.0h1.0v1.0h-1.0zM387.9 230.4h1.0v1.0h-1.0zM389.4 232.0h1.0v1.0h-1.0zM388.6 228.4h1.0v1.0h-1.0zM392.8 230.9h1.0v1.0h-1.0zM387.1 230.5h1.0v1.0h-1.0zM389.7 227.2h1.0v1.0h-1.0zM388.1 229.4h1.0v1.0h-1.0zM390.6 223.3h1.0v1.0h-1.0zM391.3 224.0h1.0v1.0h-1.0zM395.5 232.9h1.0v1.0h-1.0zM387.4 230.2h1.0v1.0h-1.0zM392.3 230.6h1.0v1.0h-1.0zM387.1 224.6h1.0v1.0h-1.0zM384.7 232.6h1.0v1.0h-1.0zM394.8 229.3h1.0v1.0h-1.0zM390.5 230.6h1.0v1.0h-1.0zM389.0 233.7h1.0v1.0h-1.0zM390.7 226.1h1.0v1.0h-1.0zM395.4 231.1h1.0v1.0h-1.0zM386.2 227.0h1.0v1.0h-1.0zM385.6 227.7h1.0v1.0h-1.0zM392.3 228.5h1.0v1.0h-1.0zM391.5 228.4h1.0v1.0h-1.0zM397.1 223.4h1.0v1.0h-1.0zM382.8 225.7h1.0v1.0h-1.0zM392.1 225.2h1.0v1.0h-1.0zM391.4 229.2h1.0v1.0h-1.0zM391.8 222.4h1.0v1.0h-1.0zM387.6 230.5h1.0v1.0h-1.0zM393.0 230.6h1.0v1.0h-1.0zM386.6 224.1h1.0v1.0h-1.0zM395.0 220.2h1.0v1.0h-1.0zM388.1 231.3h1.0v1.0h-1.0zM390.8 236.5h1.0v1.0h-1.0zM393.9 228.1h1.0v1.0h-1.0zM393.3 234.0h1.0v1.0h-1.0zM393.5 224.2h1.0v1.0h-1.0zM395.3 219.8h1.0v1.0h-1.0zM389.7 229.9h1.0v1.0h-1.0zM391.2 224.8h1.0v1.0h-1.0zM401.6 226.4h1.0v1.0h-1.0zM388.2 231.1h1.0v1.0h-1.0zM388.4 228.3h1.0v1.0h-1.0zM396.8 224.9h1.0v1.0h-1.0zM391.6 228.1h1.0v1.0h-1.0zM388.3 233.8h1.0v1.0h-1.0zM390.4 232.8h1.0v1.0h-1.0zM389.2 227.8h1.0v1.0h-1.0zM399.2 223.6h1.0v1.0h-1.0zM388.2 228.1h1.0v1.0h-1.0zM397.6 230.2h1.0v1.0h-1.0zM394.3 224.8h1.0v1.0h-1.0zM385.8 229.2h1.0v1.0h-1.0zM391.8 228.4h1.0v1.0h-1.0zM390.8 232.4h1.0v1.0h-1.0zM386.5 228.6h1.0v1.0h-1.0zM395.0 227.2h1.0v1.0h-1.0zM391.6 230.9h1.0v1.0h-1.0zM387.9 235.5h1.0v1.0h-1.0zM405.1 225.8h1.0v1.0h-1.0zM395.5 231.8h1.0v1.0h-1.0zM394.2 230.5h1.0v1.0h-1.0zM391.4 228.5h1.0v1.0h-1.0zM391.9 221.8h1.0v1.0h-1.0zM393.6 232.2h1.0v1.0h-1.0zM378.9 236.9h1.0v1.0h-1.0zM396.8 225.6h1.0v1.0h-1.0zM395.0 230.2h1.0v1.0h-1.0zM390.8 222.0h1.0v1.0h-1.0zM387.2 229.5h1.0v1.0h-1.0zM392.0 226.0h1.0v1.0h-1.0zM394.0 231.8h1.0v1.0h-1.0zM380.0 238.8h1.0v1.0h-1.0zM397.3 226.2h1.0v1.0h-1.0zM392.2 227.6h1.0v1.0h-1.0zM394.1 227.0h1.0v1.0h-1.0zM389.8 231.5h1.0v1.0h-1.0zM388.1 229.8h1.0v1.0h-1.0zM388.6 225.8h1.0v1.0h-1.0zM394.7 225.6h1.0v1.0h-1.0zM386.5 230.7h1.0v1.0h-1.0zM387.7 234.9h1.0v1.0h-1.0zM397.3 230.7h1.0v1.0h-1.0zM390.4 230.8h1.0v1.0h-1.0zM386.2 228.3h1.0v1.0h-1.0zM392.2 228.7h1.0v1.0h-1.0zM395.9 224.2h1.0v1.0h-1.0zM398.6 226.6h1.0v1.0h-1.0zM387.7 229.6h1.0v1.0h-1.0zM390.3 234.2h1.0v1.0h-1.0zM390.7 231.2h1.0v1.0h-1.0zM395.9 224.2h1.0v1.0h-1.0zM390.2 229.7h1.0v1.0h-1.0zM386.5 226.8h1.0v1.0h-1.0zM388.0 231.1h1.0v1.0h-1.0zM395.5 231.1h1.0v1.0h-1.0zM384.3 234.0h1.0v1.0h-1.0zM388.3 233.6h1.0v1.0h-1.0zM395.4 225.8h1.0v1.0h-1.0zM398.3 222.3h1.0v1.0h-1.0zM388.0 226.6h1.0v1.0h-1.0zM389.1 229.7h1.0v1.0h-1.0zM397.0 228.6h1.0v1.0h-1.0zM389.7 226.6h1.0v1.0h-1.0zM389.8 227.5h1.0v1.0h-1.0zM389.2 227.9h1.0v1.0h-1.0zM387.9 229.9h1.0v1.0h-1.0zM389.4 228.6h1.0v1.0h-1.0zM385.8 231.9h1.0v1.0h-1.0zM395.6 227.4h1.0v1.0h-1.0zM387.8 226.4h1.0v1.0h-1.0zM384.2 228.5h1.0v1.0h-1.0zM388.6 228.6h1.0v1.0h-1.0zM384.8 234.2h1.0v1.0h-1.0zM383.9 230.3h1.0v1.0h-1.0zM389.9 231.5h1.0v1.0h-1.0zM400.0 221.3h1.0v1.0h-1.0zM390.2 227.4h1.0v1.0h-1.0zM390.8 227.7h1.0v1.0h-1.0zM401.8 217.8h1.0v1.0h-1.0zM390.3 226.0h1.0v1.0h-1.0zM392.9 225.2h1.0v1.0h-1.0zM393.1 223.3h1.0v1.0h-1.0zM402.1 221.9h1.0v1.0h-1.0zM384.9 234.2h1.0v1.0h-1.0zM388.1 226.1h1.0v1.0h-1.0zM393.3 225.0h1.0v1.0h-1.0zM394.6 224.1h1.0v1.0h-1.0zM396.4 225.2h1.0v1.0h-1.0zM393.9 226.8h1.0v1.0h-1.0zM389.8 227.7h1.0v1.0h-1.0zM395.1 227.9h1.0v1.0h-1.0zM393.4 233.9h1.0v1.0h-1.0zM398.1 219.9h1.0v1.0h-1.0zM396.9 224.2h1.0v1.0h-1.0zM391.9 225.0h1.0v1.0h-1.0zM398.4 220.8h1.0v1.0h-1.0zM390.6 226.0h1.0v1.0h-1.0zM402.7 224.9h1.0v1.0h-1.0zM385.3 230.2h1.0v1.0h-1.0zM393.0 225.4h1.0v1.0h-1.0zM388.8 226.0h1.0v1.0h-1.0zM391.6 224.2h1.0v1.0h-1.0zM399.3 230.7h1.0v1.0h-1.0zM392.9 232.3h1.0v1.0h-1.0zM392.7 224.9h1.0v1.0h-1.0zM389.0 226.2h1.0v1.0h-1.0zM393.6 228.8h1.0v1.0h-1.0zM395.9 224.2h1.0v1.0h-1.0zM386.4 230.8h1.0v1.0h-1.0zM400.1 223.4h1.0v1.0h-1.0zM388.7 222.8h1.0v1.0h-1.0zM390.8 230.0h1.0v1.0h-1.0zM389.6 233.4h1.0v1.0h-1.0zM388.1 227.1h1.0v1.0h-1.0zM389.2 229.0h1.0v1.0h-1.0zM395.8 223.3h1.0v1.0h-1.0zM383.7 232.4h1.0v1.0h-1.0zM396.7 229.6h1.0v1.0h-1.0zM389.0 234.2h1.0v1.0h-1.0zM395.8 226.6h1.0v1.0h-1.0zM387.2 227.7h1.0v1.0h-1.0zM389.0 232.4h1.0v1.0h-1.0zM394.6 229.4h1.0v1.0h-1.0zM400.4 222.3h1.0v1.0h-1.0zM394.6 232.1h1.0v1.0h-1.0zM385.4 230.2h1.0v1.0h-1.0zM389.8 227.7h1.0v1.0h-1.0zM391.4 225.1h1.0v1.0h-1.0zM395.4 221.0h1.0v1.0h-1.0zM385.8 225.9h1.0v1.0h-1.0zM386.4 232.9h1.0v1.0h-1.0zM394.6 225.2h1.0v1.0h-1.0zM396.8 226.5h1.0v1.0h-1.0zM389.3 229.1h1.0v1.0h-1.0zM396.6 231.1h1.0v1.0h-1.0zM390.5 229.6h1.0v1.0h-1.0zM396.3 228.8h1.0v1.0h-1.0zM395.5 228.8h1.0v1.0h-1.0zM386.7 229.9h1.0v1.0h-1.0zM383.1 232.9h1.0v1.0h-1.0zM403.1 221.4h1.0v1.0h-1.0zM392.8 227.9h1.0v1.0h-1.0zM390.8 224.0h1.0v1.0h-1.0zM388.6 229.1h1.0v1.0h-1.0zM391.5 225.0h1.0v1.0h-1.0zM390.5 226.1h1.0v1.0h-1.0zM385.0 229.8h1.0v1.0h-1.0zM389.5 231.8h1.0v1.0h-1.0zM399.0 225.0h1.0v1.0h-1.0zM390.2 226.8h1.0v1.0h-1.0zM384.0 230.8h1.0v1.0h-1.0zM400.9 225.7h1.0v1.0h-1.0zM392.7 226.3h1.0v1.0h-1.0zM392.6 228.5h1.0v1.0h-1.0zM392.6 228.5h1.0v1.0h-1.0zM388.5 229.8h1.0v1.0h-1.0zM392.0 231.0h1.0v1.0h-1.0zM388.2 234.1h1.0v1.0h-1.0zM390.9 226.6h1.0v1.0h-1.0zM392.3 227.7h1.0v1.0h-1.0zM391.6 229.2h1.0v1.0h-1.0zM386.9 225.2h1.0v1.0h-1.0zM395.2 225.5h1.0v1.0h-1.0zM400.2 223.6h1.0v1.0h-1.0zM384.6 236.1h1.0v1.0h-1.0zM389.7 230.8h1.0v1.0h-1.0zM403.8 223.7h1.0v1.0h-1.0zM386.9 230.4h1.0v1.0h-1.0zM385.6 233.7h1.0v1.0h-1.0zM393.1 223.5h1.0v1.0h-1.0zM395.4 228.4h1.0v1.0h-1.0zM394.7 223.7h1.0v1.0h-1.0zM387.2 226.9h1.0v1.0h-1.0zM386.5 231.9h1.0v1.0h-1.0zM394.1 230.4h1.0v1.0h-1.0zM392.8 226.0h1.0v1.0h-1.0zM387.7 235.2h1.0v1.0h-1.0zM392.7 227.0h1.0v1.0h-1.0zM385.9 228.0h1.0v1.0h-1.0zM393.5 223.5h1.0v1.0h-1.0zM395.6 227.3h1.0v1.0h-1.0zM387.9 224.9h1.0v1.0h-1.0zM395.9 229.6h1.0v1.0h-1.0zM386.4 227.0h1.0v1.0h-1.0zM397.2 224.7h1.0v1.0h-1.0zM390.9 232.1h1.0v1.0h-1.0zM391.4 229.4h1.0v1.0h-1.0zM389.1 226.9h1.0v1.0h-1.0zM391.8 224.9h1.0v1.0h-1.0zM383.1 231.4h1.0v1.0h-1.0zM399.2 226.5h1.0v1.0h-1.0zM403.4 223.6h1.0v1.0h-1.0zM399.8 223.5h1.0v1.0h-1.0zM390.7 229.8h1.0v1.0h-1.0zM388.7 231.9h1.0v1.0h-1.0zM390.3 229.4h1.0v1.0h-1.0zM387.9 229.7h1.0v1.0h-1.0zM396.2 224.2h1.0v1.0h-1.0zM389.3 230.1h1.0v1.0h-1.0zM395.8 224.6h1.0v1.0h-1.0zM384.4 227.3h1.0v1.0h-1.0zM387.4 233.8h1.0v1.0h-1.0zM392.3 228.9h1.0v1.0h-1.0zM397.3 225.1h1.0v1.0h-1.0zM393.5 225.0h1.0v1.0h-1.0zM385.6 233.6h1.0v1.0h-1.0zM392.4 229.1h1.0v1.0h-1.0zM386.9 230.2h1.0v1.0h-1.0zM400.0 219.8h1.0v1.0h-1.0zM394.3 230.3h1.0v1.0h-1.0zM391.1 228.5h1.0v1.0h-1.0zM383.4 235.4h1.0v1.0h-1.0zM391.8 231.7h1.0v1.0h-1.0zM391.1 226.9h1.0v1.0h-1.0zM393.7 225.7h1.0v1.0h-1.0zM391.9 232.5h1.0v1.0h-1.0zM396.7 225.0h1.0v1.0h-1.0zM396.9 227.1h1.0v1.0h-1.0zM394.7 226.0h1.0v1.0h-1.0zM392.9 228.3h1.0v1.0h-1.0zM395.1 226.7h1.0v1.0h-1.0zM389.4 228.9h1.0v1.0h-1.0zM392.7 224.0h1.0v1.0h-1.0zM393.1 229.3h1.0v1.0h-1.0zM392.4 226.4h1.0v1.0h-1.0zM391.2 226.5h1.0v1.0h-1.0zM396.0 223.9h1.0v1.0h-1.0zM382.7 229.5h1.0v1.0h-1.0zM393.7 227.2h1.0v1.0h-1.0zM388.0 225.9h1.0v1.0h-1.0zM390.1 226.0h1.0v1.0h-1.0zM389.0 229.4h1.0v1.0h-1.0zM389.0 230.4h1.0v1.0h-1.0zM388.0 228.6h1.0v1.0h-1.0zM393.1 231.5h1.0v1.0h-1.0zM400.6 225.2h1.0v1.0h-1.0zM388.7 229.6h1.0v1.0h-1.0zM397.3 226.8h1.0v1.0h-1.0zM384.5 232.1h1.0v1.0h-1.0zM389.7 231.4h1.0v1.0h-1.0zM394.2 224.5h1.0v1.0h-1.0zM401.4 220.8h1.0v1.0h-1.0zM402.9 220.2h1.0v1.0h-1.0z"/>
<path fill="#4848f8" opacity="0.45" d="M394.8 241.5h0.9v0.9h-0.9zM381.3 231.2h0.9v0.9h-0.9zM406.1 219.2h0.9v0.9h-0.9zM390.1 219.5h0.9v0.9h-0.9zM413.3 222.7h0.9v0.9h-0.9zM395.7 231.5h0.9v0.9h-0.9zM381.6 231.0h0.9v0.9h-0.9zM372.1 243.6h0.9v0.9h-0.9zM406.5 226.0h0.9v0.9h-0.9zM402.3 227.4h0.9v0.9h-0.9zM373.7 229.4h0.9v0.9h-0.9zM397.1 226.4h0.9v0.9h-0.9zM399.5 221.4h0.9v0.9h-0.9zM380.4 239.0h0.9v0.9h-0.9zM376.8 224.8h0.9v0.9h-0.9zM378.9 229.5h0.9v0.9h-0.9zM374.2 235.1h0.9v0.9h-0.9zM408.4 236.5h0.9v0.9h-0.9zM407.7 215.2h0.9v0.9h-0.9zM402.1 221.4h0.9v0.9h-0.9zM391.3 223.3h0.9v0.9h-0.9zM382.3 221.1h0.9v0.9h-0.9zM407.2 212.8h0.9v0.9h-0.9zM393.8 222.5h0.9v0.9h-0.9zM388.0 221.5h0.9v0.9h-0.9zM387.9 238.0h0.9v0.9h-0.9zM389.1 214.8h0.9v0.9h-0.9zM394.3 216.5h0.9v0.9h-0.9zM394.2 231.0h0.9v0.9h-0.9zM380.5 233.0h0.9v0.9h-0.9zM387.6 234.1h0.9v0.9h-0.9zM404.5 231.2h0.9v0.9h-0.9zM399.9 239.0h0.9v0.9h-0.9zM384.3 247.0h0.9v0.9h-0.9zM388.7 236.3h0.9v0.9h-0.9zM387.9 231.5h0.9v0.9h-0.9zM379.8 239.0h0.9v0.9h-0.9zM413.1 216.2h0.9v0.9h-0.9zM388.8 230.3h0.9v0.9h-0.9zM396.6 223.8h0.9v0.9h-0.9zM389.8 231.3h0.9v0.9h-0.9zM407.6 226.0h0.9v0.9h-0.9zM374.6 234.2h0.9v0.9h-0.9zM392.3 234.7h0.9v0.9h-0.9zM399.6 221.9h0.9v0.9h-0.9zM413.2 213.7h0.9v0.9h-0.9zM410.4 227.9h0.9v0.9h-0.9zM408.3 219.6h0.9v0.9h-0.9zM390.4 217.3h0.9v0.9h-0.9zM366.2 239.6h0.9v0.9h-0.9zM401.2 230.9h0.9v0.9h-0.9zM391.5 236.7h0.9v0.9h-0.9zM401.2 234.5h0.9v0.9h-0.9zM367.6 237.0h0.9v0.9h-0.9zM374.3 231.2h0.9v0.9h-0.9zM405.0 212.9h0.9v0.9h-0.9zM378.0 233.9h0.9v0.9h-0.9zM397.7 221.1h0.9v0.9h-0.9zM399.6 227.8h0.9v0.9h-0.9zM373.3 221.4h0.9v0.9h-0.9zM374.0 229.7h0.9v0.9h-0.9zM405.5 214.2h0.9v0.9h-0.9zM377.9 240.0h0.9v0.9h-0.9zM386.4 224.4h0.9v0.9h-0.9zM405.0 227.3h0.9v0.9h-0.9zM389.6 223.8h0.9v0.9h-0.9zM371.7 224.9h0.9v0.9h-0.9zM394.9 229.5h0.9v0.9h-0.9zM378.4 236.9h0.9v0.9h-0.9zM371.3 245.9h0.9v0.9h-0.9zM382.4 230.4h0.9v0.9h-0.9zM395.8 224.8h0.9v0.9h-0.9zM402.4 225.8h0.9v0.9h-0.9zM403.0 222.3h0.9v0.9h-0.9zM368.7 253.4h0.9v0.9h-0.9zM372.9 248.3h0.9v0.9h-0.9zM387.1 220.4h0.9v0.9h-0.9zM392.9 234.6h0.9v0.9h-0.9zM377.3 237.7h0.9v0.9h-0.9zM376.9 229.8h0.9v0.9h-0.9zM386.4 241.8h0.9v0.9h-0.9zM396.9 224.9h0.9v0.9h-0.9zM388.5 231.4h0.9v0.9h-0.9zM393.0 229.0h0.9v0.9h-0.9zM372.3 247.8h0.9v0.9h-0.9zM369.9 221.6h0.9v0.9h-0.9zM393.0 218.1h0.9v0.9h-0.9zM387.1 230.6h0.9v0.9h-0.9zM384.1 237.4h0.9v0.9h-0.9zM384.9 230.5h0.9v0.9h-0.9zM376.9 235.4h0.9v0.9h-0.9zM377.1 237.8h0.9v0.9h-0.9zM408.0 226.1h0.9v0.9h-0.9zM389.2 219.3h0.9v0.9h-0.9zM404.3 227.8h0.9v0.9h-0.9zM405.1 202.3h0.9v0.9h-0.9zM388.1 228.1h0.9v0.9h-0.9zM397.9 216.0h0.9v0.9h-0.9zM392.8 245.9h0.9v0.9h-0.9zM393.6 211.6h0.9v0.9h-0.9zM394.1 237.6h0.9v0.9h-0.9zM383.9 237.9h0.9v0.9h-0.9zM385.0 221.1h0.9v0.9h-0.9zM385.7 241.0h0.9v0.9h-0.9zM400.7 218.0h0.9v0.9h-0.9zM399.7 217.8h0.9v0.9h-0.9zM391.8 228.1h0.9v0.9h-0.9zM375.6 241.0h0.9v0.9h-0.9zM374.8 217.4h0.9v0.9h-0.9zM376.4 231.3h0.9v0.9h-0.9zM375.8 230.6h0.9v0.9h-0.9zM372.3 221.2h0.9v0.9h-0.9zM399.7 224.0h0.9v0.9h-0.9zM391.1 226.7h0.9v0.9h-0.9zM388.8 228.1h0.9v0.9h-0.9zM370.9 229.4h0.9v0.9h-0.9zM393.5 235.3h0.9v0.9h-0.9zM397.5 237.5h0.9v0.9h-0.9zM372.2 238.5h0.9v0.9h-0.9zM386.2 241.5h0.9v0.9h-0.9zM407.0 214.7h0.9v0.9h-0.9zM396.7 223.3h0.9v0.9h-0.9zM377.0 236.7h0.9v0.9h-0.9zM382.4 246.4h0.9v0.9h-0.9zM400.1 232.5h0.9v0.9h-0.9zM384.6 213.6h0.9v0.9h-0.9zM398.7 224.7h0.9v0.9h-0.9zM361.5 248.0h0.9v0.9h-0.9zM406.9 232.3h0.9v0.9h-0.9zM379.9 242.0h0.9v0.9h-0.9zM392.3 226.6h0.9v0.9h-0.9zM387.6 235.1h0.9v0.9h-0.9zM398.1 229.6h0.9v0.9h-0.9zM379.6 225.5h0.9v0.9h-0.9zM409.0 227.8h0.9v0.9h-0.9zM382.3 234.0h0.9v0.9h-0.9zM392.2 214.2h0.9v0.9h-0.9zM403.4 240.1h0.9v0.9h-0.9zM389.7 224.0h0.9v0.9h-0.9zM412.9 215.2h0.9v0.9h-0.9zM390.0 226.1h0.9v0.9h-0.9zM384.8 218.5h0.9v0.9h-0.9zM368.8 231.0h0.9v0.9h-0.9zM399.2 222.9h0.9v0.9h-0.9zM395.2 210.0h0.9v0.9h-0.9zM387.2 242.7h0.9v0.9h-0.9zM373.1 225.2h0.9v0.9h-0.9zM379.1 233.5h0.9v0.9h-0.9zM393.5 237.5h0.9v0.9h-0.9zM410.0 229.1h0.9v0.9h-0.9zM394.0 222.9h0.9v0.9h-0.9zM378.0 225.2h0.9v0.9h-0.9zM408.3 227.9h0.9v0.9h-0.9zM386.9 224.3h0.9v0.9h-0.9zM398.6 227.9h0.9v0.9h-0.9zM386.7 222.3h0.9v0.9h-0.9zM389.8 225.0h0.9v0.9h-0.9zM399.8 228.0h0.9v0.9h-0.9zM392.6 224.4h0.9v0.9h-0.9zM409.5 223.3h0.9v0.9h-0.9zM406.8 225.5h0.9v0.9h-0.9zM398.1 227.4h0.9v0.9h-0.9zM370.1 227.5h0.9v0.9h-0.9zM380.3 240.3h0.9v0.9h-0.9zM400.3 224.4h0.9v0.9h-0.9zM396.6 239.8h0.9v0.9h-0.9zM378.0 222.8h0.9v0.9h-0.9zM369.8 239.5h0.9v0.9h-0.9zM399.8 229.1h0.9v0.9h-0.9zM389.3 236.3h0.9v0.9h-0.9zM385.9 226.2h0.9v0.9h-0.9zM387.3 237.1h0.9v0.9h-0.9zM396.1 216.7h0.9v0.9h-0.9zM377.9 237.9h0.9v0.9h-0.9zM409.6 207.9h0.9v0.9h-0.9zM375.9 241.5h0.9v0.9h-0.9zM392.8 222.8h0.9v0.9h-0.9zM390.4 233.0h0.9v0.9h-0.9zM368.6 242.6h0.9v0.9h-0.9zM399.3 230.9h0.9v0.9h-0.9zM402.3 221.1h0.9v0.9h-0.9zM377.0 248.1h0.9v0.9h-0.9zM395.7 220.8h0.9v0.9h-0.9zM404.8 228.4h0.9v0.9h-0.9zM379.0 217.6h0.9v0.9h-0.9zM380.9 229.1h0.9v0.9h-0.9zM379.0 235.6h0.9v0.9h-0.9zM377.8 240.1h0.9v0.9h-0.9zM406.8 209.5h0.9v0.9h-0.9zM399.2 219.4h0.9v0.9h-0.9zM394.9 225.3h0.9v0.9h-0.9zM401.4 216.6h0.9v0.9h-0.9zM394.8 220.3h0.9v0.9h-0.9zM391.6 228.3h0.9v0.9h-0.9zM396.1 213.1h0.9v0.9h-0.9zM378.3 247.7h0.9v0.9h-0.9zM399.5 236.9h0.9v0.9h-0.9zM377.8 238.7h0.9v0.9h-0.9zM402.3 235.7h0.9v0.9h-0.9zM386.8 227.8h0.9v0.9h-0.9zM397.0 224.2h0.9v0.9h-0.9zM383.0 239.8h0.9v0.9h-0.9zM363.3 238.1h0.9v0.9h-0.9zM403.1 217.3h0.9v0.9h-0.9zM386.6 234.5h0.9v0.9h-0.9zM403.9 224.9h0.9v0.9h-0.9zM375.8 233.8h0.9v0.9h-0.9zM400.8 221.7h0.9v0.9h-0.9zM384.8 239.6h0.9v0.9h-0.9zM410.0 234.1h0.9v0.9h-0.9zM374.0 233.8h0.9v0.9h-0.9zM382.2 237.1h0.9v0.9h-0.9zM387.4 239.8h0.9v0.9h-0.9zM361.2 255.0h0.9v0.9h-0.9zM380.6 233.1h0.9v0.9h-0.9zM396.3 227.0h0.9v0.9h-0.9zM382.6 245.9h0.9v0.9h-0.9zM393.9 223.0h0.9v0.9h-0.9zM387.5 222.2h0.9v0.9h-0.9zM373.7 237.2h0.9v0.9h-0.9zM393.6 227.9h0.9v0.9h-0.9zM375.1 227.7h0.9v0.9h-0.9zM375.2 251.2h0.9v0.9h-0.9zM390.4 222.8h0.9v0.9h-0.9zM404.7 224.5h0.9v0.9h-0.9zM382.0 229.5h0.9v0.9h-0.9zM403.4 223.6h0.9v0.9h-0.9zM409.2 220.2h0.9v0.9h-0.9zM380.1 230.8h0.9v0.9h-0.9zM381.8 236.5h0.9v0.9h-0.9zM394.1 231.6h0.9v0.9h-0.9zM390.5 220.8h0.9v0.9h-0.9zM383.3 226.1h0.9v0.9h-0.9zM389.9 219.0h0.9v0.9h-0.9zM379.2 229.3h0.9v0.9h-0.9zM380.9 233.0h0.9v0.9h-0.9zM405.6 217.6h0.9v0.9h-0.9zM371.3 238.7h0.9v0.9h-0.9zM399.6 227.7h0.9v0.9h-0.9zM398.9 239.6h0.9v0.9h-0.9zM402.2 222.5h0.9v0.9h-0.9zM398.3 213.6h0.9v0.9h-0.9zM384.0 226.3h0.9v0.9h-0.9zM396.8 237.9h0.9v0.9h-0.9zM388.9 242.7h0.9v0.9h-0.9zM382.3 245.5h0.9v0.9h-0.9zM366.4 237.4h0.9v0.9h-0.9zM400.2 222.3h0.9v0.9h-0.9zM390.6 228.9h0.9v0.9h-0.9zM390.5 227.7h0.9v0.9h-0.9zM376.7 235.4h0.9v0.9h-0.9zM387.1 224.1h0.9v0.9h-0.9zM400.7 236.7h0.9v0.9h-0.9zM368.1 238.7h0.9v0.9h-0.9zM385.8 232.1h0.9v0.9h-0.9zM387.5 225.2h0.9v0.9h-0.9zM388.6 230.3h0.9v0.9h-0.9zM393.5 239.4h0.9v0.9h-0.9zM385.2 220.6h0.9v0.9h-0.9zM373.0 244.7h0.9v0.9h-0.9zM382.9 228.9h0.9v0.9h-0.9zM372.3 238.0h0.9v0.9h-0.9zM385.5 226.7h0.9v0.9h-0.9zM388.1 237.6h0.9v0.9h-0.9zM400.0 227.5h0.9v0.9h-0.9zM382.2 223.5h0.9v0.9h-0.9zM403.3 232.9h0.9v0.9h-0.9zM407.9 227.4h0.9v0.9h-0.9zM393.5 230.1h0.9v0.9h-0.9zM393.3 237.2h0.9v0.9h-0.9zM393.5 244.2h0.9v0.9h-0.9zM396.8 222.6h0.9v0.9h-0.9zM383.3 220.9h0.9v0.9h-0.9zM379.5 233.6h0.9v0.9h-0.9zM414.4 207.7h0.9v0.9h-0.9zM399.9 223.8h0.9v0.9h-0.9zM387.8 235.7h0.9v0.9h-0.9zM369.4 249.7h0.9v0.9h-0.9zM412.4 217.7h0.9v0.9h-0.9zM388.9 231.4h0.9v0.9h-0.9zM394.9 222.4h0.9v0.9h-0.9zM392.2 232.0h0.9v0.9h-0.9zM386.4 234.7h0.9v0.9h-0.9zM395.4 231.7h0.9v0.9h-0.9zM375.7 234.1h0.9v0.9h-0.9zM388.3 239.9h0.9v0.9h-0.9zM386.0 218.8h0.9v0.9h-0.9zM381.2 250.2h0.9v0.9h-0.9zM388.3 220.2h0.9v0.9h-0.9zM379.0 237.4h0.9v0.9h-0.9zM411.2 228.9h0.9v0.9h-0.9zM383.7 230.9h0.9v0.9h-0.9zM407.6 210.6h0.9v0.9h-0.9zM408.2 220.7h0.9v0.9h-0.9zM394.7 236.7h0.9v0.9h-0.9zM391.6 221.8h0.9v0.9h-0.9zM371.5 241.1h0.9v0.9h-0.9zM399.8 234.1h0.9v0.9h-0.9zM363.7 256.5h0.9v0.9h-0.9z"/>
<path fill="#2020f0" opacity="0.55" d="M367.2 244.0h0.9v0.9h-0.9zM368.1 241.0h0.9v0.9h-0.9zM364.6 242.6h0.9v0.9h-0.9zM353.6 245.6h0.9v0.9h-0.9zM361.0 242.2h0.9v0.9h-0.9zM344.3 246.2h0.9v0.9h-0.9zM365.4 242.6h0.9v0.9h-0.9zM360.3 241.0h0.9v0.9h-0.9zM368.3 239.7h0.9v0.9h-0.9zM340.2 253.9h0.9v0.9h-0.9zM346.5 253.0h0.9v0.9h-0.9zM365.1 240.8h0.9v0.9h-0.9zM375.8 240.5h0.9v0.9h-0.9zM361.5 239.5h0.9v0.9h-0.9zM356.0 244.4h0.9v0.9h-0.9zM364.6 241.6h0.9v0.9h-0.9zM362.4 239.3h0.9v0.9h-0.9zM354.5 248.5h0.9v0.9h-0.9zM346.0 250.5h0.9v0.9h-0.9zM383.6 236.2h0.9v0.9h-0.9zM346.9 250.8h0.9v0.9h-0.9zM341.6 250.9h0.9v0.9h-0.9zM356.7 247.2h0.9v0.9h-0.9zM372.0 239.5h0.9v0.9h-0.9zM378.6 238.7h0.9v0.9h-0.9zM354.6 243.5h0.9v0.9h-0.9zM384.4 233.8h0.9v0.9h-0.9zM364.1 241.8h0.9v0.9h-0.9zM354.2 242.3h0.9v0.9h-0.9zM358.5 243.8h0.9v0.9h-0.9zM369.5 239.0h0.9v0.9h-0.9zM343.6 247.3h0.9v0.9h-0.9zM359.8 244.1h0.9v0.9h-0.9zM367.0 240.2h0.9v0.9h-0.9zM365.5 241.8h0.9v0.9h-0.9zM376.9 237.2h0.9v0.9h-0.9zM361.8 244.0h0.9v0.9h-0.9zM371.6 237.4h0.9v0.9h-0.9zM355.1 244.7h0.9v0.9h-0.9zM370.8 239.6h0.9v0.9h-0.9zM394.6 233.5h0.9v0.9h-0.9zM381.3 238.9h0.9v0.9h-0.9zM368.2 237.6h0.9v0.9h-0.9zM375.7 238.7h0.9v0.9h-0.9zM348.0 248.0h0.9v0.9h-0.9zM368.2 242.5h0.9v0.9h-0.9zM361.4 241.9h0.9v0.9h-0.9zM367.2 239.3h0.9v0.9h-0.9zM359.7 245.2h0.9v0.9h-0.9zM345.8 249.4h0.9v0.9h-0.9zM339.7 249.0h0.9v0.9h-0.9zM347.6 247.8h0.9v0.9h-0.9zM367.1 240.8h0.9v0.9h-0.9zM369.2 240.3h0.9v0.9h-0.9zM358.3 245.1h0.9v0.9h-0.9zM357.7 244.6h0.9v0.9h-0.9zM370.1 238.7h0.9v0.9h-0.9zM370.8 237.3h0.9v0.9h-0.9zM356.7 241.2h0.9v0.9h-0.9zM355.7 248.3h0.9v0.9h-0.9zM364.4 244.5h0.9v0.9h-0.9zM344.6 247.0h0.9v0.9h-0.9zM365.2 243.3h0.9v0.9h-0.9zM367.3 237.4h0.9v0.9h-0.9zM365.1 241.5h0.9v0.9h-0.9zM361.5 243.9h0.9v0.9h-0.9zM356.1 241.5h0.9v0.9h-0.9zM348.3 244.8h0.9v0.9h-0.9zM346.7 248.1h0.9v0.9h-0.9zM372.7 237.4h0.9v0.9h-0.9zM351.6 244.2h0.9v0.9h-0.9zM342.7 249.9h0.9v0.9h-0.9zM355.0 244.8h0.9v0.9h-0.9zM350.7 247.9h0.9v0.9h-0.9zM348.3 248.9h0.9v0.9h-0.9zM353.9 247.3h0.9v0.9h-0.9zM351.4 247.6h0.9v0.9h-0.9zM364.4 241.7h0.9v0.9h-0.9zM376.6 237.8h0.9v0.9h-0.9zM351.5 248.0h0.9v0.9h-0.9zM351.4 245.5h0.9v0.9h-0.9zM360.2 243.8h0.9v0.9h-0.9zM376.0 234.1h0.9v0.9h-0.9zM358.2 246.5h0.9v0.9h-0.9zM358.6 244.7h0.9v0.9h-0.9zM374.6 235.7h0.9v0.9h-0.9zM361.0 244.8h0.9v0.9h-0.9zM352.9 242.5h0.9v0.9h-0.9zM350.1 247.5h0.9v0.9h-0.9zM363.1 246.1h0.9v0.9h-0.9zM372.3 235.8h0.9v0.9h-0.9zM371.0 241.4h0.9v0.9h-0.9zM376.2 237.3h0.9v0.9h-0.9zM354.5 245.8h0.9v0.9h-0.9zM376.0 239.0h0.9v0.9h-0.9zM377.6 238.7h0.9v0.9h-0.9zM353.4 243.8h0.9v0.9h-0.9zM377.6 234.0h0.9v0.9h-0.9zM356.3 244.2h0.9v0.9h-0.9zM350.4 245.8h0.9v0.9h-0.9zM361.6 247.8h0.9v0.9h-0.9zM359.0 242.8h0.9v0.9h-0.9zM361.9 244.8h0.9v0.9h-0.9zM351.5 245.8h0.9v0.9h-0.9zM342.9 251.2h0.9v0.9h-0.9zM367.8 243.7h0.9v0.9h-0.9zM349.4 251.8h0.9v0.9h-0.9zM368.6 239.8h0.9v0.9h-0.9zM355.9 244.4h0.9v0.9h-0.9zM348.3 249.3h0.9v0.9h-0.9zM353.4 244.4h0.9v0.9h-0.9zM365.3 241.8h0.9v0.9h-0.9zM354.0 245.2h0.9v0.9h-0.9zM355.9 247.8h0.9v0.9h-0.9zM369.6 238.5h0.9v0.9h-0.9zM360.5 246.1h0.9v0.9h-0.9zM358.3 247.8h0.9v0.9h-0.9zM364.9 243.1h0.9v0.9h-0.9zM339.6 252.7h0.9v0.9h-0.9zM363.8 243.3h0.9v0.9h-0.9zM365.2 242.7h0.9v0.9h-0.9zM355.5 247.0h0.9v0.9h-0.9zM359.9 241.4h0.9v0.9h-0.9zM349.8 247.5h0.9v0.9h-0.9zM361.9 238.3h0.9v0.9h-0.9zM339.9 253.0h0.9v0.9h-0.9zM361.8 248.7h0.9v0.9h-0.9zM344.4 248.7h0.9v0.9h-0.9zM354.3 246.7h0.9v0.9h-0.9zM375.3 241.3h0.9v0.9h-0.9zM350.6 249.4h0.9v0.9h-0.9zM347.9 248.5h0.9v0.9h-0.9zM362.1 244.0h0.9v0.9h-0.9zM352.8 248.9h0.9v0.9h-0.9zM359.3 243.7h0.9v0.9h-0.9zM356.6 242.5h0.9v0.9h-0.9zM367.5 241.5h0.9v0.9h-0.9zM365.8 245.2h0.9v0.9h-0.9zM351.1 246.2h0.9v0.9h-0.9zM360.6 245.0h0.9v0.9h-0.9zM358.8 245.9h0.9v0.9h-0.9zM363.4 238.6h0.9v0.9h-0.9zM351.8 242.3h0.9v0.9h-0.9zM356.8 243.8h0.9v0.9h-0.9zM366.1 241.6h0.9v0.9h-0.9zM360.2 246.0h0.9v0.9h-0.9zM365.2 239.1h0.9v0.9h-0.9zM353.3 246.6h0.9v0.9h-0.9zM377.1 236.9h0.9v0.9h-0.9zM358.5 244.6h0.9v0.9h-0.9zM367.8 240.5h0.9v0.9h-0.9zM362.7 241.7h0.9v0.9h-0.9zM353.9 244.1h0.9v0.9h-0.9zM366.3 240.1h0.9v0.9h-0.9zM365.8 242.2h0.9v0.9h-0.9zM368.0 235.0h0.9v0.9h-0.9zM349.4 244.8h0.9v0.9h-0.9zM358.9 245.6h0.9v0.9h-0.9zM386.6 237.0h0.9v0.9h-0.9zM374.0 239.2h0.9v0.9h-0.9zM356.5 245.9h0.9v0.9h-0.9zM360.5 244.6h0.9v0.9h-0.9zM348.9 245.3h0.9v0.9h-0.9zM353.5 245.8h0.9v0.9h-0.9zM363.3 241.6h0.9v0.9h-0.9zM364.0 243.5h0.9v0.9h-0.9zM348.2 247.6h0.9v0.9h-0.9zM343.9 248.2h0.9v0.9h-0.9zM368.7 238.9h0.9v0.9h-0.9zM379.1 237.6h0.9v0.9h-0.9zM369.1 240.4h0.9v0.9h-0.9zM369.5 242.3h0.9v0.9h-0.9zM360.7 242.1h0.9v0.9h-0.9zM355.7 249.0h0.9v0.9h-0.9zM357.8 243.3h0.9v0.9h-0.9zM351.7 243.0h0.9v0.9h-0.9zM355.2 245.9h0.9v0.9h-0.9zM354.6 243.9h0.9v0.9h-0.9zM364.4 242.8h0.9v0.9h-0.9zM355.8 245.7h0.9v0.9h-0.9zM350.7 248.6h0.9v0.9h-0.9zM349.8 246.5h0.9v0.9h-0.9zM361.1 242.2h0.9v0.9h-0.9zM349.8 251.5h0.9v0.9h-0.9zM374.2 234.7h0.9v0.9h-0.9zM360.4 240.7h0.9v0.9h-0.9zM362.3 240.0h0.9v0.9h-0.9zM366.2 242.3h0.9v0.9h-0.9zM378.1 239.4h0.9v0.9h-0.9zM356.0 246.9h0.9v0.9h-0.9zM355.3 245.0h0.9v0.9h-0.9zM353.8 242.1h0.9v0.9h-0.9zM364.7 237.6h0.9v0.9h-0.9zM358.0 245.3h0.9v0.9h-0.9zM360.1 240.2h0.9v0.9h-0.9zM353.9 247.1h0.9v0.9h-0.9zM372.2 242.4h0.9v0.9h-0.9zM342.0 251.0h0.9v0.9h-0.9zM355.6 246.7h0.9v0.9h-0.9zM342.9 249.4h0.9v0.9h-0.9zM366.7 239.7h0.9v0.9h-0.9zM355.7 243.0h0.9v0.9h-0.9zM370.4 237.0h0.9v0.9h-0.9zM350.6 246.2h0.9v0.9h-0.9zM358.2 248.5h0.9v0.9h-0.9zM362.2 241.0h0.9v0.9h-0.9zM366.1 242.0h0.9v0.9h-0.9zM362.8 242.3h0.9v0.9h-0.9zM363.9 239.7h0.9v0.9h-0.9zM347.6 247.1h0.9v0.9h-0.9zM349.3 248.8h0.9v0.9h-0.9zM380.4 238.6h0.9v0.9h-0.9zM364.7 242.5h0.9v0.9h-0.9zM352.2 243.6h0.9v0.9h-0.9zM364.6 238.8h0.9v0.9h-0.9zM363.0 242.1h0.9v0.9h-0.9zM367.6 240.8h0.9v0.9h-0.9zM360.7 242.0h0.9v0.9h-0.9zM342.4 249.2h0.9v0.9h-0.9zM367.7 242.9h0.9v0.9h-0.9zM373.3 236.6h0.9v0.9h-0.9zM351.0 248.2h0.9v0.9h-0.9zM357.1 249.9h0.9v0.9h-0.9zM362.2 239.6h0.9v0.9h-0.9zM355.4 248.4h0.9v0.9h-0.9zM341.7 250.5h0.9v0.9h-0.9zM347.1 251.5h0.9v0.9h-0.9zM354.8 243.3h0.9v0.9h-0.9zM342.3 248.5h0.9v0.9h-0.9zM382.1 235.7h0.9v0.9h-0.9zM356.5 242.4h0.9v0.9h-0.9zM363.1 241.4h0.9v0.9h-0.9zM352.4 249.1h0.9v0.9h-0.9zM363.9 240.3h0.9v0.9h-0.9zM374.9 238.0h0.9v0.9h-0.9zM365.2 241.9h0.9v0.9h-0.9zM372.3 240.3h0.9v0.9h-0.9zM357.0 246.1h0.9v0.9h-0.9zM356.1 245.2h0.9v0.9h-0.9zM375.9 235.5h0.9v0.9h-0.9zM349.3 246.6h0.9v0.9h-0.9zM355.8 247.7h0.9v0.9h-0.9zM345.4 253.6h0.9v0.9h-0.9zM375.7 236.8h0.9v0.9h-0.9zM361.6 242.2h0.9v0.9h-0.9zM367.2 242.2h0.9v0.9h-0.9zM368.1 242.1h0.9v0.9h-0.9zM379.4 236.1h0.9v0.9h-0.9zM366.9 240.6h0.9v0.9h-0.9zM360.5 243.8h0.9v0.9h-0.9zM359.7 244.3h0.9v0.9h-0.9zM351.3 246.4h0.9v0.9h-0.9zM353.1 243.6h0.9v0.9h-0.9zM352.5 245.2h0.9v0.9h-0.9zM357.5 241.2h0.9v0.9h-0.9zM356.7 242.4h0.9v0.9h-0.9zM351.9 246.9h0.9v0.9h-0.9zM371.4 239.9h0.9v0.9h-0.9zM354.8 244.5h0.9v0.9h-0.9zM372.5 235.6h0.9v0.9h-0.9zM370.5 236.6h0.9v0.9h-0.9zM353.6 245.9h0.9v0.9h-0.9zM358.9 247.4h0.9v0.9h-0.9zM365.0 241.6h0.9v0.9h-0.9zM369.7 240.1h0.9v0.9h-0.9zM352.6 248.5h0.9v0.9h-0.9zM376.0 240.3h0.9v0.9h-0.9zM349.4 251.3h0.9v0.9h-0.9zM356.3 246.4h0.9v0.9h-0.9zM373.6 243.5h0.9v0.9h-0.9zM343.0 247.6h0.9v0.9h-0.9zM372.3 240.1h0.9v0.9h-0.9zM354.9 239.3h0.9v0.9h-0.9zM364.3 241.5h0.9v0.9h-0.9zM360.1 243.9h0.9v0.9h-0.9zM367.5 240.2h0.9v0.9h-0.9zM350.7 246.1h0.9v0.9h-0.9zM379.5 235.0h0.9v0.9h-0.9zM360.5 247.3h0.9v0.9h-0.9zM370.7 239.8h0.9v0.9h-0.9zM367.3 240.3h0.9v0.9h-0.9zM351.5 248.7h0.9v0.9h-0.9zM362.4 245.9h0.9v0.9h-0.9zM357.1 243.8h0.9v0.9h-0.9zM363.4 241.9h0.9v0.9h-0.9zM356.2 243.0h0.9v0.9h-0.9zM362.8 243.2h0.9v0.9h-0.9zM378.5 236.7h0.9v0.9h-0.9zM342.5 250.8h0.9v0.9h-0.9zM382.9 234.3h0.9v0.9h-0.9zM351.8 246.1h0.9v0.9h-0.9zM357.1 241.4h0.9v0.9h-0.9zM365.3 239.8h0.9v0.9h-0.9zM340.8 249.0h0.9v0.9h-0.9zM367.7 244.7h0.9v0.9h-0.9zM372.8 239.2h0.9v0.9h-0.9zM354.6 244.9h0.9v0.9h-0.9zM369.5 239.0h0.9v0.9h-0.9zM364.9 243.7h0.9v0.9h-0.9zM350.4 245.8h0.9v0.9h-0.9zM364.6 241.9h0.9v0.9h-0.9zM358.4 243.0h0.9v0.9h-0.9zM360.6 247.1h0.9v0.9h-0.9zM372.7 235.5h0.9v0.9h-0.9zM360.5 243.5h0.9v0.9h-0.9zM359.4 240.8h0.9v0.9h-0.9zM358.8 244.3h0.9v0.9h-0.9zM353.3 246.6h0.9v0.9h-0.9zM361.3 243.8h0.9v0.9h-0.9zM358.0 243.3h0.9v0.9h-0.9zM362.6 244.8h0.9v0.9h-0.9zM369.1 240.0h0.9v0.9h-0.9zM356.0 247.2h0.9v0.9h-0.9zM366.1 243.1h0.9v0.9h-0.9zM356.6 242.9h0.9v0.9h-0.9zM361.5 241.7h0.9v0.9h-0.9zM372.2 240.8h0.9v0.9h-0.9zM374.2 240.5h0.9v0.9h-0.9zM354.6 243.7h0.9v0.9h-0.9zM370.5 241.8h0.9v0.9h-0.9zM359.8 241.2h0.9v0.9h-0.9zM344.7 249.6h0.9v0.9h-0.9zM351.2 245.3h0.9v0.9h-0.9zM365.2 243.8h0.9v0.9h-0.9zM373.2 238.6h0.9v0.9h-0.9zM357.0 245.9h0.9v0.9h-0.9zM347.6 245.5h0.9v0.9h-0.9zM361.3 246.3h0.9v0.9h-0.9zM370.3 239.7h0.9v0.9h-0.9zM370.0 239.0h0.9v0.9h-0.9zM346.9 244.8h0.9v0.9h-0.9zM363.4 244.2h0.9v0.9h-0.9zM363.8 242.1h0.9v0.9h-0.9zM356.7 247.0h0.9v0.9h-0.9zM358.6 241.0h0.9v0.9h-0.9zM373.5 237.2h0.9v0.9h-0.9zM364.0 242.1h0.9v0.9h-0.9zM370.9 240.1h0.9v0.9h-0.9zM372.6 239.4h0.9v0.9h-0.9zM355.0 244.3h0.9v0.9h-0.9zM366.1 239.6h0.9v0.9h-0.9zM369.3 239.6h0.9v0.9h-0.9zM350.0 245.3h0.9v0.9h-0.9zM359.7 247.3h0.9v0.9h-0.9zM367.8 240.7h0.9v0.9h-0.9zM352.1 250.4h0.9v0.9h-0.9zM357.2 244.5h0.9v0.9h-0.9zM356.6 247.5h0.9v0.9h-0.9zM361.5 242.0h0.9v0.9h-0.9zM361.2 241.0h0.9v0.9h-0.9zM349.2 247.1h0.9v0.9h-0.9zM379.4 234.1h0.9v0.9h-0.9zM357.5 241.1h0.9v0.9h-0.9zM361.9 243.3h0.9v0.9h-0.9zM366.6 238.3h0.9v0.9h-0.9zM353.5 244.5h0.9v0.9h-0.9zM359.0 248.6h0.9v0.9h-0.9zM357.9 244.2h0.9v0.9h-0.9zM355.4 246.8h0.9v0.9h-0.9zM386.8 236.2h0.9v0.9h-0.9zM374.8 235.9h0.9v0.9h-0.9zM370.8 239.6h0.9v0.9h-0.9zM373.4 240.8h0.9v0.9h-0.9zM365.5 238.0h0.9v0.9h-0.9zM361.0 242.1h0.9v0.9h-0.9zM364.6 241.9h0.9v0.9h-0.9zM369.6 236.7h0.9v0.9h-0.9zM352.4 246.1h0.9v0.9h-0.9zM363.0 241.6h0.9v0.9h-0.9zM359.7 243.7h0.9v0.9h-0.9zM370.6 239.4h0.9v0.9h-0.9zM361.2 239.3h0.9v0.9h-0.9zM362.1 237.9h0.9v0.9h-0.9zM364.1 241.8h0.9v0.9h-0.9zM359.5 242.1h0.9v0.9h-0.9zM356.3 246.6h0.9v0.9h-0.9zM363.6 242.1h0.9v0.9h-0.9zM355.2 245.7h0.9v0.9h-0.9zM372.1 239.1h0.9v0.9h-0.9zM355.5 242.7h0.9v0.9h-0.9zM360.4 241.4h0.9v0.9h-0.9zM346.0 250.4h0.9v0.9h-0.9zM352.3 242.0h0.9v0.9h-0.9zM353.9 249.6h0.9v0.9h-0.9zM358.0 241.4h0.9v0.9h-0.9zM349.3 248.9h0.9v0.9h-0.9zM364.3 242.4h0.9v0.9h-0.9zM358.3 245.1h0.9v0.9h-0.9zM376.0 238.7h0.9v0.9h-0.9zM357.4 241.5h0.9v0.9h-0.9zM365.6 244.7h0.9v0.9h-0.9zM365.7 238.8h0.9v0.9h-0.9zM362.8 245.2h0.9v0.9h-0.9zM353.9 246.8h0.9v0.9h-0.9zM373.4 242.0h0.9v0.9h-0.9zM342.6 246.2h0.9v0.9h-0.9zM364.3 243.4h0.9v0.9h-0.9zM356.4 244.8h0.9v0.9h-0.9zM356.7 247.2h0.9v0.9h-0.9zM346.5 247.0h0.9v0.9h-0.9zM343.8 247.5h0.9v0.9h-0.9zM359.8 243.6h0.9v0.9h-0.9zM378.0 236.5h0.9v0.9h-0.9zM363.8 242.9h0.9v0.9h-0.9zM363.6 245.3h0.9v0.9h-0.9zM361.5 243.3h0.9v0.9h-0.9z"/>
<path fill="#1010e0" opacity="0.6" d="M344.5 248.7h0.9v0.9h-0.9zM344.9 250.0h0.9v0.9h-0.9zM345.1 248.7h0.9v0.9h-0.9zM344.9 249.7h0.9v0.9h-0.9zM343.1 250.2h0.9v0.9h-0.9zM342.6 249.9h0.9v0.9h-0.9zM353.5 247.7h0.9v0.9h-0.9zM344.4 247.0h0.9v0.9h-0.9zM348.3 248.2h0.9v0.9h-0.9zM348.9 247.1h0.9v0.9h-0.9zM347.6 250.7h0.9v0.9h-0.9zM346.7 247.9h0.9v0.9h-0.9zM348.0 249.0h0.9v0.9h-0.9zM339.9 247.9h0.9v0.9h-0.9zM340.5 247.8h0.9v0.9h-0.9zM343.8 249.1h0.9v0.9h-0.9zM353.5 247.7h0.9v0.9h-0.9zM351.1 245.4h0.9v0.9h-0.9zM351.9 248.7h0.9v0.9h-0.9zM347.1 249.5h0.9v0.9h-0.9zM348.1 250.8h0.9v0.9h-0.9zM348.2 245.7h0.9v0.9h-0.9zM344.9 250.5h0.9v0.9h-0.9zM343.4 247.9h0.9v0.9h-0.9zM343.6 249.2h0.9v0.9h-0.9zM345.7 247.6h0.9v0.9h-0.9zM347.5 249.1h0.9v0.9h-0.9zM340.7 247.6h0.9v0.9h-0.9zM344.9 247.6h0.9v0.9h-0.9zM342.3 248.8h0.9v0.9h-0.9zM345.2 249.4h0.9v0.9h-0.9zM348.7 248.7h0.9v0.9h-0.9zM349.7 246.6h0.9v0.9h-0.9zM347.7 248.7h0.9v0.9h-0.9zM340.3 248.3h0.9v0.9h-0.9zM347.0 248.4h0.9v0.9h-0.9zM351.9 248.8h0.9v0.9h-0.9zM345.6 250.4h0.9v0.9h-0.9zM341.0 248.9h0.9v0.9h-0.9zM349.2 247.5h0.9v0.9h-0.9zM340.2 250.1h0.9v0.9h-0.9zM351.6 244.1h0.9v0.9h-0.9zM345.4 246.8h0.9v0.9h-0.9zM343.4 246.9h0.9v0.9h-0.9zM356.3 246.1h0.9v0.9h-0.9zM345.1 247.6h0.9v0.9h-0.9zM340.6 248.6h0.9v0.9h-0.9zM346.3 250.9h0.9v0.9h-0.9zM346.6 250.6h0.9v0.9h-0.9zM340.3 249.4h0.9v0.9h-0.9zM342.8 246.7h0.9v0.9h-0.9zM361.4 246.0h0.9v0.9h-0.9zM345.9 247.4h0.9v0.9h-0.9zM342.3 247.5h0.9v0.9h-0.9zM349.4 247.4h0.9v0.9h-0.9zM344.4 248.9h0.9v0.9h-0.9zM339.6 249.7h0.9v0.9h-0.9zM344.3 249.3h0.9v0.9h-0.9zM343.3 248.9h0.9v0.9h-0.9zM347.5 249.6h0.9v0.9h-0.9zM342.2 250.4h0.9v0.9h-0.9zM340.6 249.0h0.9v0.9h-0.9zM345.6 248.7h0.9v0.9h-0.9zM344.4 250.0h0.9v0.9h-0.9zM342.2 251.1h0.9v0.9h-0.9zM347.4 248.3h0.9v0.9h-0.9zM346.3 249.7h0.9v0.9h-0.9zM341.6 249.9h0.9v0.9h-0.9zM349.6 247.6h0.9v0.9h-0.9zM341.0 247.7h0.9v0.9h-0.9zM346.7 247.2h0.9v0.9h-0.9zM356.0 247.8h0.9v0.9h-0.9zM351.9 248.6h0.9v0.9h-0.9zM340.7 250.6h0.9v0.9h-0.9zM343.3 251.9h0.9v0.9h-0.9zM342.7 249.8h0.9v0.9h-0.9zM347.4 247.6h0.9v0.9h-0.9zM344.5 250.3h0.9v0.9h-0.9zM347.2 248.2h0.9v0.9h-0.9zM347.3 250.7h0.9v0.9h-0.9zM349.2 248.7h0.9v0.9h-0.9zM346.2 246.3h0.9v0.9h-0.9zM345.5 247.8h0.9v0.9h-0.9zM348.1 247.3h0.9v0.9h-0.9zM346.8 246.9h0.9v0.9h-0.9zM348.8 247.0h0.9v0.9h-0.9zM345.0 249.4h0.9v0.9h-0.9zM343.6 248.8h0.9v0.9h-0.9zM350.0 250.4h0.9v0.9h-0.9zM348.2 249.5h0.9v0.9h-0.9zM342.9 249.0h0.9v0.9h-0.9zM344.6 251.8h0.9v0.9h-0.9zM343.9 247.1h0.9v0.9h-0.9zM350.7 247.3h0.9v0.9h-0.9zM353.7 248.3h0.9v0.9h-0.9zM346.8 249.2h0.9v0.9h-0.9zM348.7 249.4h0.9v0.9h-0.9zM340.6 248.4h0.9v0.9h-0.9zM342.6 249.1h0.9v0.9h-0.9zM343.7 247.1h0.9v0.9h-0.9zM342.3 251.5h0.9v0.9h-0.9zM354.2 246.1h0.9v0.9h-0.9zM346.7 248.3h0.9v0.9h-0.9zM341.4 250.1h0.9v0.9h-0.9zM345.0 250.9h0.9v0.9h-0.9zM347.0 247.9h0.9v0.9h-0.9zM348.6 247.1h0.9v0.9h-0.9zM349.0 249.0h0.9v0.9h-0.9zM346.6 249.4h0.9v0.9h-0.9zM345.7 248.5h0.9v0.9h-0.9zM343.4 248.4h0.9v0.9h-0.9zM344.8 247.1h0.9v0.9h-0.9zM347.8 247.8h0.9v0.9h-0.9zM347.2 247.6h0.9v0.9h-0.9zM346.8 248.5h0.9v0.9h-0.9zM349.0 248.7h0.9v0.9h-0.9zM349.1 247.8h0.9v0.9h-0.9zM344.7 248.3h0.9v0.9h-0.9zM349.9 249.0h0.9v0.9h-0.9zM341.3 249.5h0.9v0.9h-0.9zM348.0 246.3h0.9v0.9h-0.9zM346.6 248.8h0.9v0.9h-0.9zM348.3 248.5h0.9v0.9h-0.9zM353.7 246.8h0.9v0.9h-0.9zM350.8 249.5h0.9v0.9h-0.9zM345.2 247.0h0.9v0.9h-0.9zM351.0 247.7h0.9v0.9h-0.9zM347.4 248.9h0.9v0.9h-0.9zM349.4 249.4h0.9v0.9h-0.9zM345.6 248.5h0.9v0.9h-0.9zM348.4 247.9h0.9v0.9h-0.9zM344.6 251.5h0.9v0.9h-0.9zM351.3 249.3h0.9v0.9h-0.9zM349.4 246.9h0.9v0.9h-0.9zM344.6 248.6h0.9v0.9h-0.9zM340.0 248.1h0.9v0.9h-0.9zM345.5 246.8h0.9v0.9h-0.9zM347.5 248.9h0.9v0.9h-0.9zM343.9 248.3h0.9v0.9h-0.9zM347.7 248.9h0.9v0.9h-0.9zM346.4 246.7h0.9v0.9h-0.9zM342.1 248.5h0.9v0.9h-0.9zM341.9 250.1h0.9v0.9h-0.9zM343.1 248.2h0.9v0.9h-0.9zM341.5 248.5h0.9v0.9h-0.9zM350.3 248.1h0.9v0.9h-0.9zM342.9 250.7h0.9v0.9h-0.9zM347.0 246.9h0.9v0.9h-0.9zM342.4 248.1h0.9v0.9h-0.9zM345.0 250.3h0.9v0.9h-0.9zM341.9 248.8h0.9v0.9h-0.9zM345.3 246.9h0.9v0.9h-0.9zM343.0 249.7h0.9v0.9h-0.9zM349.6 245.3h0.9v0.9h-0.9zM348.1 247.8h0.9v0.9h-0.9zM350.8 248.6h0.9v0.9h-0.9zM353.7 247.8h0.9v0.9h-0.9zM343.1 247.7h0.9v0.9h-0.9zM347.4 249.4h0.9v0.9h-0.9zM346.3 246.3h0.9v0.9h-0.9zM343.2 248.5h0.9v0.9h-0.9zM345.9 249.5h0.9v0.9h-0.9zM351.3 248.1h0.9v0.9h-0.9zM339.8 249.7h0.9v0.9h-0.9zM344.2 250.3h0.9v0.9h-0.9zM349.7 247.3h0.9v0.9h-0.9zM349.2 248.0h0.9v0.9h-0.9zM347.3 250.2h0.9v0.9h-0.9zM339.9 249.2h0.9v0.9h-0.9zM351.6 246.6h0.9v0.9h-0.9zM346.0 248.6h0.9v0.9h-0.9zM342.9 247.1h0.9v0.9h-0.9zM341.8 247.7h0.9v0.9h-0.9zM349.8 248.3h0.9v0.9h-0.9zM347.9 246.5h0.9v0.9h-0.9zM347.2 248.5h0.9v0.9h-0.9zM349.5 247.0h0.9v0.9h-0.9zM348.8 250.0h0.9v0.9h-0.9zM352.8 246.2h0.9v0.9h-0.9zM339.8 247.3h0.9v0.9h-0.9zM349.4 248.8h0.9v0.9h-0.9zM346.3 247.2h0.9v0.9h-0.9zM350.8 250.0h0.9v0.9h-0.9zM344.8 248.5h0.9v0.9h-0.9zM350.3 248.6h0.9v0.9h-0.9zM350.8 247.2h0.9v0.9h-0.9zM346.4 247.9h0.9v0.9h-0.9zM342.4 248.5h0.9v0.9h-0.9zM343.8 249.5h0.9v0.9h-0.9zM343.7 248.9h0.9v0.9h-0.9zM341.2 247.4h0.9v0.9h-0.9zM351.1 246.4h0.9v0.9h-0.9zM353.2 248.8h0.9v0.9h-0.9zM343.2 248.9h0.9v0.9h-0.9zM344.1 247.9h0.9v0.9h-0.9zM350.5 247.7h0.9v0.9h-0.9zM349.1 247.1h0.9v0.9h-0.9zM342.2 250.8h0.9v0.9h-0.9zM343.6 247.3h0.9v0.9h-0.9zM344.5 250.1h0.9v0.9h-0.9zM344.2 247.7h0.9v0.9h-0.9zM348.0 249.5h0.9v0.9h-0.9zM344.0 248.3h0.9v0.9h-0.9zM343.9 252.5h0.9v0.9h-0.9zM344.5 251.1h0.9v0.9h-0.9zM344.4 249.2h0.9v0.9h-0.9zM345.2 248.1h0.9v0.9h-0.9zM342.9 247.0h0.9v0.9h-0.9zM342.2 248.9h0.9v0.9h-0.9zM344.1 248.0h0.9v0.9h-0.9zM342.2 251.6h0.9v0.9h-0.9zM340.1 248.6h0.9v0.9h-0.9zM343.5 247.2h0.9v0.9h-0.9zM341.0 250.4h0.9v0.9h-0.9zM349.1 248.2h0.9v0.9h-0.9zM359.4 247.7h0.9v0.9h-0.9zM350.3 246.7h0.9v0.9h-0.9zM350.1 250.2h0.9v0.9h-0.9zM343.7 251.3h0.9v0.9h-0.9zM341.2 247.6h0.9v0.9h-0.9zM344.7 247.5h0.9v0.9h-0.9zM347.6 246.7h0.9v0.9h-0.9zM345.0 245.9h0.9v0.9h-0.9zM345.1 250.0h0.9v0.9h-0.9zM343.9 249.2h0.9v0.9h-0.9zM349.6 246.4h0.9v0.9h-0.9zM346.2 248.1h0.9v0.9h-0.9zM341.0 250.8h0.9v0.9h-0.9zM339.8 249.0h0.9v0.9h-0.9zM345.0 249.6h0.9v0.9h-0.9zM342.9 247.8h0.9v0.9h-0.9zM353.7 246.2h0.9v0.9h-0.9zM348.5 247.9h0.9v0.9h-0.9zM342.9 248.8h0.9v0.9h-0.9zM343.9 249.2h0.9v0.9h-0.9zM345.1 247.2h0.9v0.9h-0.9zM343.8 252.0h0.9v0.9h-0.9zM353.3 248.3h0.9v0.9h-0.9zM346.0 248.0h0.9v0.9h-0.9zM351.0 247.1h0.9v0.9h-0.9zM341.5 250.0h0.9v0.9h-0.9zM340.6 248.1h0.9v0.9h-0.9zM351.1 245.5h0.9v0.9h-0.9zM344.8 248.8h0.9v0.9h-0.9zM345.9 246.5h0.9v0.9h-0.9zM344.0 248.3h0.9v0.9h-0.9zM353.7 248.8h0.9v0.9h-0.9zM341.9 250.2h0.9v0.9h-0.9zM347.9 248.0h0.9v0.9h-0.9zM343.9 248.4h0.9v0.9h-0.9zM349.4 250.0h0.9v0.9h-0.9zM353.1 246.9h0.9v0.9h-0.9zM347.3 245.0h0.9v0.9h-0.9zM343.6 247.1h0.9v0.9h-0.9zM348.3 245.8h0.9v0.9h-0.9zM340.2 247.7h0.9v0.9h-0.9zM346.9 249.5h0.9v0.9h-0.9zM341.3 251.6h0.9v0.9h-0.9zM345.6 247.4h0.9v0.9h-0.9zM346.6 248.4h0.9v0.9h-0.9zM348.7 248.6h0.9v0.9h-0.9zM354.9 248.8h0.9v0.9h-0.9zM342.4 250.1h0.9v0.9h-0.9zM348.2 246.8h0.9v0.9h-0.9zM341.6 248.0h0.9v0.9h-0.9zM344.3 250.4h0.9v0.9h-0.9zM342.6 249.0h0.9v0.9h-0.9zM348.4 249.5h0.9v0.9h-0.9zM346.2 247.0h0.9v0.9h-0.9zM354.9 248.4h0.9v0.9h-0.9zM351.3 249.9h0.9v0.9h-0.9zM351.3 248.3h0.9v0.9h-0.9zM347.2 249.2h0.9v0.9h-0.9zM340.8 249.8h0.9v0.9h-0.9zM340.7 250.2h0.9v0.9h-0.9zM343.4 252.3h0.9v0.9h-0.9zM346.0 249.2h0.9v0.9h-0.9zM341.0 248.8h0.9v0.9h-0.9zM344.7 248.2h0.9v0.9h-0.9zM342.9 247.7h0.9v0.9h-0.9zM348.3 247.6h0.9v0.9h-0.9zM341.5 249.6h0.9v0.9h-0.9zM341.4 248.9h0.9v0.9h-0.9zM342.6 247.7h0.9v0.9h-0.9zM343.9 247.6h0.9v0.9h-0.9zM339.6 249.8h0.9v0.9h-0.9zM343.4 246.8h0.9v0.9h-0.9zM343.3 249.1h0.9v0.9h-0.9zM347.0 248.8h0.9v0.9h-0.9zM346.3 249.2h0.9v0.9h-0.9zM342.7 247.8h0.9v0.9h-0.9zM347.6 247.7h0.9v0.9h-0.9zM345.2 249.5h0.9v0.9h-0.9zM349.4 249.7h0.9v0.9h-0.9zM341.9 248.5h0.9v0.9h-0.9zM347.2 246.3h0.9v0.9h-0.9zM339.6 250.2h0.9v0.9h-0.9zM342.2 247.7h0.9v0.9h-0.9zM348.7 248.8h0.9v0.9h-0.9zM349.0 247.6h0.9v0.9h-0.9zM343.7 248.3h0.9v0.9h-0.9zM346.0 245.7h0.9v0.9h-0.9zM342.1 250.0h0.9v0.9h-0.9zM341.6 249.0h0.9v0.9h-0.9zM345.7 249.2h0.9v0.9h-0.9zM342.7 247.4h0.9v0.9h-0.9zM355.9 246.1h0.9v0.9h-0.9zM352.2 245.2h0.9v0.9h-0.9zM345.5 248.3h0.9v0.9h-0.9zM353.7 250.2h0.9v0.9h-0.9zM349.1 246.6h0.9v0.9h-0.9zM341.4 248.1h0.9v0.9h-0.9zM342.8 249.3h0.9v0.9h-0.9zM341.5 248.7h0.9v0.9h-0.9zM351.8 249.6h0.9v0.9h-0.9zM343.7 250.6h0.9v0.9h-0.9zM344.0 251.4h0.9v0.9h-0.9zM346.9 250.3h0.9v0.9h-0.9zM341.2 248.7h0.9v0.9h-0.9z"/>
<ellipse cx="392" cy="227.5" rx="7" ry="3" transform="rotate(-32 392 227.5)" fill="#0808d8" opacity="0.5" filter="url(#b1)"/>
<ellipse cx="345" cy="248.6" rx="4" ry="1.3" transform="rotate(-8 345 248.6)" fill="#0808d0" opacity="0.5" filter="url(#b05)"/>
<rect x="337.20" y="276.60" width="82.90" height="69.70" fill="#fff" stroke="#555" stroke-width="0.9"/>
<line x1="365.50" y1="276.60" x2="365.50" y2="346.30" stroke="#555" stroke-width="0.8"/>
<line x1="337.20" y1="325.80" x2="420.10" y2="325.80" stroke="#555" stroke-width="0.8"/>
<text x="339.40" y="286.40" font-size="8.3" fill="#1a1a1a">0.4%</text>
<text x="368.10" y="286.40" font-size="8.3" fill="#1a1a1a">70.0%</text>
<text x="339.40" y="343.80" font-size="8.3" fill="#1a1a1a">6.3%</text>
<text x="368.10" y="343.80" font-size="8.3" fill="#1a1a1a">23.3%</text>
<text x="332.70" y="307.60" font-size="11" text-anchor="middle" fill="#222" transform="rotate(-90 332.70 307.60)" textLength="25.5" lengthAdjust="spacingAndGlyphs">CD33</text>
<text x="380.50" y="357.40" font-size="11" text-anchor="middle" fill="#222" textLength="25.5" lengthAdjust="spacingAndGlyphs">CD45</text>
<path fill="#1a1ae8" opacity="0.6" d="M388.3 322.2h1.0v1.0h-1.0zM379.3 325.3h1.0v1.0h-1.0zM386.0 323.7h1.0v1.0h-1.0zM385.0 327.2h1.0v1.0h-1.0zM386.9 325.3h1.0v1.0h-1.0zM386.1 322.3h1.0v1.0h-1.0zM382.6 321.0h1.0v1.0h-1.0zM388.1 322.8h1.0v1.0h-1.0zM387.0 320.5h1.0v1.0h-1.0zM381.6 323.7h1.0v1.0h-1.0zM383.9 323.3h1.0v1.0h-1.0zM386.6 319.4h1.0v1.0h-1.0zM384.2 324.9h1.0v1.0h-1.0zM389.8 325.6h1.0v1.0h-1.0zM385.4 320.3h1.0v1.0h-1.0zM381.0 322.9h1.0v1.0h-1.0zM385.3 323.2h1.0v1.0h-1.0zM384.0 321.7h1.0v1.0h-1.0zM384.2 322.9h1.0v1.0h-1.0zM386.6 322.0h1.0v1.0h-1.0zM381.3 321.8h1.0v1.0h-1.0zM388.9 320.2h1.0v1.0h-1.0zM384.3 323.0h1.0v1.0h-1.0zM387.6 320.4h1.0v1.0h-1.0zM385.1 322.0h1.0v1.0h-1.0zM385.3 319.9h1.0v1.0h-1.0zM386.6 324.4h1.0v1.0h-1.0zM388.8 322.1h1.0v1.0h-1.0zM387.4 325.3h1.0v1.0h-1.0zM388.4 324.3h1.0v1.0h-1.0zM380.2 322.6h1.0v1.0h-1.0zM386.8 321.0h1.0v1.0h-1.0zM382.6 321.6h1.0v1.0h-1.0zM387.7 318.1h1.0v1.0h-1.0zM383.6 319.9h1.0v1.0h-1.0zM386.9 327.4h1.0v1.0h-1.0zM391.1 317.9h1.0v1.0h-1.0zM383.8 327.6h1.0v1.0h-1.0zM380.5 320.7h1.0v1.0h-1.0zM384.6 320.1h1.0v1.0h-1.0zM382.0 327.3h1.0v1.0h-1.0zM381.6 321.9h1.0v1.0h-1.0zM385.1 322.1h1.0v1.0h-1.0zM388.1 321.1h1.0v1.0h-1.0zM390.6 322.4h1.0v1.0h-1.0zM391.1 322.1h1.0v1.0h-1.0zM385.6 323.7h1.0v1.0h-1.0zM383.2 319.7h1.0v1.0h-1.0zM382.4 326.1h1.0v1.0h-1.0zM377.3 325.0h1.0v1.0h-1.0zM381.2 324.7h1.0v1.0h-1.0zM382.2 324.9h1.0v1.0h-1.0zM383.8 322.2h1.0v1.0h-1.0zM380.0 319.9h1.0v1.0h-1.0zM383.6 320.2h1.0v1.0h-1.0zM384.4 324.0h1.0v1.0h-1.0zM388.6 322.4h1.0v1.0h-1.0zM387.4 317.7h1.0v1.0h-1.0zM388.5 324.7h1.0v1.0h-1.0zM384.7 320.0h1.0v1.0h-1.0zM385.4 321.1h1.0v1.0h-1.0zM384.2 325.9h1.0v1.0h-1.0zM383.1 320.9h1.0v1.0h-1.0zM385.1 327.7h1.0v1.0h-1.0zM383.2 325.4h1.0v1.0h-1.0zM386.6 324.7h1.0v1.0h-1.0zM383.0 321.4h1.0v1.0h-1.0zM381.9 321.8h1.0v1.0h-1.0zM392.3 319.0h1.0v1.0h-1.0zM385.4 325.7h1.0v1.0h-1.0zM386.5 321.4h1.0v1.0h-1.0zM386.9 322.3h1.0v1.0h-1.0zM389.8 324.1h1.0v1.0h-1.0zM383.9 323.2h1.0v1.0h-1.0zM385.7 325.4h1.0v1.0h-1.0zM386.8 323.7h1.0v1.0h-1.0zM386.7 320.1h1.0v1.0h-1.0zM386.7 325.2h1.0v1.0h-1.0zM388.3 322.9h1.0v1.0h-1.0zM383.7 322.5h1.0v1.0h-1.0zM382.2 323.6h1.0v1.0h-1.0zM383.1 320.1h1.0v1.0h-1.0zM387.2 319.4h1.0v1.0h-1.0zM386.2 323.5h1.0v1.0h-1.0zM381.3 320.2h1.0v1.0h-1.0zM388.0 322.0h1.0v1.0h-1.0zM385.4 325.4h1.0v1.0h-1.0zM386.3 319.5h1.0v1.0h-1.0zM382.7 319.5h1.0v1.0h-1.0zM385.7 325.9h1.0v1.0h-1.0zM383.4 325.7h1.0v1.0h-1.0zM380.3 324.6h1.0v1.0h-1.0zM389.4 324.6h1.0v1.0h-1.0zM387.0 323.5h1.0v1.0h-1.0zM386.9 315.3h1.0v1.0h-1.0zM382.2 329.2h1.0v1.0h-1.0zM392.4 320.0h1.0v1.0h-1.0zM385.3 323.2h1.0v1.0h-1.0zM384.2 321.5h1.0v1.0h-1.0zM384.7 322.6h1.0v1.0h-1.0zM387.5 323.0h1.0v1.0h-1.0zM388.2 322.3h1.0v1.0h-1.0zM383.7 327.0h1.0v1.0h-1.0zM377.5 327.3h1.0v1.0h-1.0zM385.2 321.2h1.0v1.0h-1.0zM388.9 317.7h1.0v1.0h-1.0zM381.0 323.7h1.0v1.0h-1.0zM386.9 323.6h1.0v1.0h-1.0zM385.9 323.9h1.0v1.0h-1.0zM382.2 322.7h1.0v1.0h-1.0zM383.7 320.0h1.0v1.0h-1.0zM384.9 321.7h1.0v1.0h-1.0zM385.6 319.7h1.0v1.0h-1.0zM382.8 322.5h1.0v1.0h-1.0zM382.7 321.4h1.0v1.0h-1.0zM382.6 320.6h1.0v1.0h-1.0zM387.1 323.2h1.0v1.0h-1.0zM384.6 322.4h1.0v1.0h-1.0zM381.3 322.4h1.0v1.0h-1.0zM383.2 321.4h1.0v1.0h-1.0zM381.8 325.0h1.0v1.0h-1.0zM384.3 322.0h1.0v1.0h-1.0zM382.5 324.0h1.0v1.0h-1.0zM382.5 323.1h1.0v1.0h-1.0zM386.2 323.9h1.0v1.0h-1.0zM386.3 320.4h1.0v1.0h-1.0zM386.9 318.6h1.0v1.0h-1.0zM385.8 325.6h1.0v1.0h-1.0zM391.6 319.2h1.0v1.0h-1.0zM383.4 322.6h1.0v1.0h-1.0zM381.3 324.4h1.0v1.0h-1.0zM382.8 322.0h1.0v1.0h-1.0zM387.3 319.4h1.0v1.0h-1.0zM390.5 321.7h1.0v1.0h-1.0zM386.0 320.6h1.0v1.0h-1.0zM381.2 319.8h1.0v1.0h-1.0zM385.3 321.8h1.0v1.0h-1.0zM385.2 320.9h1.0v1.0h-1.0zM384.5 319.1h1.0v1.0h-1.0zM379.3 327.2h1.0v1.0h-1.0zM384.3 315.0h1.0v1.0h-1.0zM388.0 320.1h1.0v1.0h-1.0zM382.7 320.1h1.0v1.0h-1.0zM382.9 325.7h1.0v1.0h-1.0zM382.8 323.9h1.0v1.0h-1.0zM386.6 326.9h1.0v1.0h-1.0zM385.8 318.8h1.0v1.0h-1.0zM382.2 321.3h1.0v1.0h-1.0zM380.2 323.7h1.0v1.0h-1.0zM387.9 321.1h1.0v1.0h-1.0zM386.6 321.4h1.0v1.0h-1.0zM383.8 323.6h1.0v1.0h-1.0zM386.8 326.6h1.0v1.0h-1.0zM390.2 320.6h1.0v1.0h-1.0zM384.3 318.0h1.0v1.0h-1.0zM387.2 327.6h1.0v1.0h-1.0zM383.5 325.6h1.0v1.0h-1.0zM387.8 320.1h1.0v1.0h-1.0zM383.7 322.3h1.0v1.0h-1.0zM387.1 321.6h1.0v1.0h-1.0zM390.3 322.7h1.0v1.0h-1.0zM387.7 327.8h1.0v1.0h-1.0zM383.3 322.1h1.0v1.0h-1.0zM383.2 321.5h1.0v1.0h-1.0zM383.6 323.3h1.0v1.0h-1.0zM385.5 318.3h1.0v1.0h-1.0zM380.1 323.5h1.0v1.0h-1.0zM384.5 324.1h1.0v1.0h-1.0zM384.3 326.9h1.0v1.0h-1.0zM383.1 323.2h1.0v1.0h-1.0zM386.3 324.9h1.0v1.0h-1.0zM385.7 322.4h1.0v1.0h-1.0zM383.5 324.0h1.0v1.0h-1.0zM385.6 321.5h1.0v1.0h-1.0zM382.7 319.3h1.0v1.0h-1.0zM384.7 325.9h1.0v1.0h-1.0zM388.7 320.4h1.0v1.0h-1.0zM380.9 329.8h1.0v1.0h-1.0zM387.2 328.0h1.0v1.0h-1.0zM384.8 325.4h1.0v1.0h-1.0zM384.7 326.4h1.0v1.0h-1.0zM386.8 318.9h1.0v1.0h-1.0zM391.6 326.2h1.0v1.0h-1.0zM382.9 320.8h1.0v1.0h-1.0zM385.2 321.6h1.0v1.0h-1.0zM379.5 323.1h1.0v1.0h-1.0zM383.8 319.5h1.0v1.0h-1.0zM388.3 321.9h1.0v1.0h-1.0zM385.9 325.8h1.0v1.0h-1.0zM383.1 325.6h1.0v1.0h-1.0zM380.7 324.3h1.0v1.0h-1.0zM386.0 320.7h1.0v1.0h-1.0zM385.2 324.2h1.0v1.0h-1.0zM390.5 322.9h1.0v1.0h-1.0zM385.8 321.6h1.0v1.0h-1.0zM382.8 328.4h1.0v1.0h-1.0zM387.6 315.6h1.0v1.0h-1.0zM387.2 321.3h1.0v1.0h-1.0zM387.1 322.3h1.0v1.0h-1.0zM384.3 323.1h1.0v1.0h-1.0zM386.0 325.1h1.0v1.0h-1.0zM383.5 322.1h1.0v1.0h-1.0zM387.3 323.0h1.0v1.0h-1.0zM386.3 322.6h1.0v1.0h-1.0zM390.1 322.6h1.0v1.0h-1.0zM385.2 322.0h1.0v1.0h-1.0zM384.6 318.1h1.0v1.0h-1.0zM382.6 322.2h1.0v1.0h-1.0zM384.9 321.8h1.0v1.0h-1.0zM392.4 320.3h1.0v1.0h-1.0zM388.5 326.5h1.0v1.0h-1.0zM384.5 322.2h1.0v1.0h-1.0zM389.1 322.4h1.0v1.0h-1.0zM388.7 323.7h1.0v1.0h-1.0zM383.1 322.1h1.0v1.0h-1.0zM383.0 324.1h1.0v1.0h-1.0zM386.4 319.2h1.0v1.0h-1.0zM381.9 321.0h1.0v1.0h-1.0zM391.2 321.2h1.0v1.0h-1.0zM384.1 320.1h1.0v1.0h-1.0zM381.3 323.2h1.0v1.0h-1.0zM383.5 320.3h1.0v1.0h-1.0zM385.6 325.5h1.0v1.0h-1.0zM385.0 323.0h1.0v1.0h-1.0zM378.8 325.6h1.0v1.0h-1.0zM383.7 321.7h1.0v1.0h-1.0zM380.9 324.8h1.0v1.0h-1.0zM381.4 323.4h1.0v1.0h-1.0zM380.3 325.1h1.0v1.0h-1.0zM386.4 319.7h1.0v1.0h-1.0zM384.0 319.3h1.0v1.0h-1.0zM387.0 322.9h1.0v1.0h-1.0zM384.8 325.1h1.0v1.0h-1.0zM382.5 324.3h1.0v1.0h-1.0zM389.4 320.1h1.0v1.0h-1.0zM383.0 326.8h1.0v1.0h-1.0zM386.0 321.4h1.0v1.0h-1.0zM377.7 322.0h1.0v1.0h-1.0zM382.3 328.1h1.0v1.0h-1.0zM384.7 320.7h1.0v1.0h-1.0zM389.6 323.8h1.0v1.0h-1.0zM383.1 325.1h1.0v1.0h-1.0zM380.7 326.1h1.0v1.0h-1.0zM388.2 317.2h1.0v1.0h-1.0zM384.3 321.5h1.0v1.0h-1.0zM384.7 323.1h1.0v1.0h-1.0zM386.6 324.1h1.0v1.0h-1.0zM387.4 324.0h1.0v1.0h-1.0zM388.8 323.3h1.0v1.0h-1.0zM383.4 324.6h1.0v1.0h-1.0zM382.9 321.7h1.0v1.0h-1.0zM390.5 320.3h1.0v1.0h-1.0zM382.6 318.6h1.0v1.0h-1.0zM385.1 324.7h1.0v1.0h-1.0zM383.7 322.0h1.0v1.0h-1.0zM388.5 319.8h1.0v1.0h-1.0zM383.8 323.1h1.0v1.0h-1.0zM385.4 325.2h1.0v1.0h-1.0zM386.3 321.7h1.0v1.0h-1.0zM383.6 322.9h1.0v1.0h-1.0zM389.1 319.5h1.0v1.0h-1.0zM384.8 318.7h1.0v1.0h-1.0zM386.5 323.6h1.0v1.0h-1.0zM388.7 321.4h1.0v1.0h-1.0zM386.8 322.5h1.0v1.0h-1.0zM390.0 325.1h1.0v1.0h-1.0zM384.5 320.9h1.0v1.0h-1.0zM386.3 321.6h1.0v1.0h-1.0zM387.4 323.3h1.0v1.0h-1.0zM384.8 321.7h1.0v1.0h-1.0zM384.3 319.9h1.0v1.0h-1.0zM384.6 320.6h1.0v1.0h-1.0zM386.2 322.3h1.0v1.0h-1.0zM382.9 320.8h1.0v1.0h-1.0zM384.2 321.4h1.0v1.0h-1.0zM385.2 324.4h1.0v1.0h-1.0zM386.0 318.8h1.0v1.0h-1.0zM388.9 324.0h1.0v1.0h-1.0zM388.2 321.5h1.0v1.0h-1.0zM386.5 326.3h1.0v1.0h-1.0zM382.2 320.3h1.0v1.0h-1.0zM385.4 323.2h1.0v1.0h-1.0zM380.6 322.1h1.0v1.0h-1.0zM390.4 319.9h1.0v1.0h-1.0zM386.3 320.4h1.0v1.0h-1.0zM380.5 324.8h1.0v1.0h-1.0zM387.7 319.4h1.0v1.0h-1.0zM379.7 325.3h1.0v1.0h-1.0zM384.1 323.3h1.0v1.0h-1.0zM381.6 323.8h1.0v1.0h-1.0zM384.3 325.4h1.0v1.0h-1.0zM386.2 324.2h1.0v1.0h-1.0zM382.3 318.7h1.0v1.0h-1.0zM380.1 326.9h1.0v1.0h-1.0zM388.2 323.1h1.0v1.0h-1.0zM382.6 319.4h1.0v1.0h-1.0zM383.9 324.3h1.0v1.0h-1.0zM388.2 319.9h1.0v1.0h-1.0zM382.4 322.2h1.0v1.0h-1.0zM388.6 322.9h1.0v1.0h-1.0zM381.2 328.0h1.0v1.0h-1.0zM380.7 321.4h1.0v1.0h-1.0zM379.7 323.9h1.0v1.0h-1.0zM394.0 324.1h1.0v1.0h-1.0zM380.7 323.4h1.0v1.0h-1.0zM385.7 323.3h1.0v1.0h-1.0zM381.7 320.5h1.0v1.0h-1.0zM382.9 322.1h1.0v1.0h-1.0zM380.1 325.9h1.0v1.0h-1.0zM378.9 321.7h1.0v1.0h-1.0zM390.0 322.2h1.0v1.0h-1.0zM388.9 320.7h1.0v1.0h-1.0zM383.6 323.3h1.0v1.0h-1.0zM381.9 326.4h1.0v1.0h-1.0zM385.2 321.8h1.0v1.0h-1.0zM379.6 325.5h1.0v1.0h-1.0zM390.9 323.0h1.0v1.0h-1.0zM386.8 320.7h1.0v1.0h-1.0zM385.8 323.6h1.0v1.0h-1.0zM386.5 324.5h1.0v1.0h-1.0zM380.4 319.3h1.0v1.0h-1.0zM377.2 324.8h1.0v1.0h-1.0zM381.8 326.3h1.0v1.0h-1.0zM387.8 321.1h1.0v1.0h-1.0zM386.4 322.1h1.0v1.0h-1.0zM384.8 321.6h1.0v1.0h-1.0zM385.1 325.7h1.0v1.0h-1.0zM384.1 323.1h1.0v1.0h-1.0zM389.2 322.8h1.0v1.0h-1.0zM384.0 323.9h1.0v1.0h-1.0zM382.2 324.6h1.0v1.0h-1.0zM385.7 322.3h1.0v1.0h-1.0zM385.7 323.2h1.0v1.0h-1.0zM377.0 325.2h1.0v1.0h-1.0zM384.5 321.7h1.0v1.0h-1.0zM381.9 323.8h1.0v1.0h-1.0zM389.0 319.8h1.0v1.0h-1.0zM382.5 322.9h1.0v1.0h-1.0zM382.1 325.6h1.0v1.0h-1.0zM383.2 326.1h1.0v1.0h-1.0zM388.0 322.5h1.0v1.0h-1.0zM387.6 321.0h1.0v1.0h-1.0zM379.9 325.4h1.0v1.0h-1.0zM384.8 318.8h1.0v1.0h-1.0zM382.7 326.8h1.0v1.0h-1.0zM387.5 324.7h1.0v1.0h-1.0zM386.7 321.9h1.0v1.0h-1.0zM387.0 323.8h1.0v1.0h-1.0zM384.5 322.4h1.0v1.0h-1.0zM385.3 321.7h1.0v1.0h-1.0zM390.6 317.5h1.0v1.0h-1.0zM379.2 322.7h1.0v1.0h-1.0zM387.2 320.3h1.0v1.0h-1.0zM385.0 322.1h1.0v1.0h-1.0zM384.0 319.5h1.0v1.0h-1.0zM384.4 321.5h1.0v1.0h-1.0zM388.5 322.3h1.0v1.0h-1.0zM380.3 322.9h1.0v1.0h-1.0zM387.7 324.2h1.0v1.0h-1.0zM386.8 321.3h1.0v1.0h-1.0zM385.2 316.4h1.0v1.0h-1.0zM382.3 321.7h1.0v1.0h-1.0zM382.6 325.5h1.0v1.0h-1.0zM385.9 322.9h1.0v1.0h-1.0zM385.2 324.2h1.0v1.0h-1.0zM386.3 320.4h1.0v1.0h-1.0zM386.4 319.5h1.0v1.0h-1.0zM388.2 317.4h1.0v1.0h-1.0zM382.8 321.1h1.0v1.0h-1.0zM386.4 325.3h1.0v1.0h-1.0zM384.8 327.4h1.0v1.0h-1.0zM389.2 321.3h1.0v1.0h-1.0zM384.2 325.5h1.0v1.0h-1.0zM376.1 325.8h1.0v1.0h-1.0zM387.4 321.2h1.0v1.0h-1.0zM390.9 317.5h1.0v1.0h-1.0zM380.9 324.5h1.0v1.0h-1.0zM388.4 325.2h1.0v1.0h-1.0zM380.2 325.9h1.0v1.0h-1.0zM387.6 319.5h1.0v1.0h-1.0zM382.2 321.1h1.0v1.0h-1.0zM387.9 323.2h1.0v1.0h-1.0zM386.7 322.3h1.0v1.0h-1.0zM387.4 321.0h1.0v1.0h-1.0zM387.7 323.2h1.0v1.0h-1.0zM389.0 321.7h1.0v1.0h-1.0zM385.9 324.0h1.0v1.0h-1.0zM378.6 321.8h1.0v1.0h-1.0zM389.5 320.5h1.0v1.0h-1.0zM381.3 323.3h1.0v1.0h-1.0zM384.5 323.2h1.0v1.0h-1.0zM383.8 325.9h1.0v1.0h-1.0zM383.3 331.0h1.0v1.0h-1.0zM383.7 327.8h1.0v1.0h-1.0zM384.8 318.4h1.0v1.0h-1.0zM381.5 324.9h1.0v1.0h-1.0zM385.1 321.5h1.0v1.0h-1.0zM385.1 323.1h1.0v1.0h-1.0zM381.7 324.7h1.0v1.0h-1.0zM390.4 317.9h1.0v1.0h-1.0zM382.8 325.7h1.0v1.0h-1.0zM389.8 322.7h1.0v1.0h-1.0zM383.0 323.6h1.0v1.0h-1.0zM385.2 322.0h1.0v1.0h-1.0zM387.2 324.3h1.0v1.0h-1.0zM386.3 321.9h1.0v1.0h-1.0zM386.3 326.6h1.0v1.0h-1.0zM383.7 328.7h1.0v1.0h-1.0zM387.0 321.8h1.0v1.0h-1.0zM384.8 327.6h1.0v1.0h-1.0zM389.3 322.6h1.0v1.0h-1.0zM388.6 315.9h1.0v1.0h-1.0zM384.8 322.0h1.0v1.0h-1.0zM382.9 324.1h1.0v1.0h-1.0zM386.9 322.9h1.0v1.0h-1.0zM383.0 320.4h1.0v1.0h-1.0zM387.1 323.1h1.0v1.0h-1.0zM391.8 321.2h1.0v1.0h-1.0zM383.6 320.5h1.0v1.0h-1.0zM391.7 317.0h1.0v1.0h-1.0zM386.2 323.9h1.0v1.0h-1.0zM387.8 324.6h1.0v1.0h-1.0zM381.2 323.1h1.0v1.0h-1.0zM383.9 320.1h1.0v1.0h-1.0zM384.7 326.5h1.0v1.0h-1.0zM385.6 322.1h1.0v1.0h-1.0zM383.3 323.8h1.0v1.0h-1.0zM383.5 320.7h1.0v1.0h-1.0zM385.6 319.0h1.0v1.0h-1.0zM388.1 320.0h1.0v1.0h-1.0zM376.7 323.4h1.0v1.0h-1.0zM384.7 320.6h1.0v1.0h-1.0zM391.5 322.6h1.0v1.0h-1.0zM391.8 321.1h1.0v1.0h-1.0zM388.0 319.4h1.0v1.0h-1.0zM388.0 319.8h1.0v1.0h-1.0zM383.2 320.2h1.0v1.0h-1.0zM385.5 323.5h1.0v1.0h-1.0zM383.4 320.7h1.0v1.0h-1.0zM388.4 323.1h1.0v1.0h-1.0zM385.5 324.5h1.0v1.0h-1.0zM386.5 319.2h1.0v1.0h-1.0zM382.6 319.2h1.0v1.0h-1.0zM382.4 325.3h1.0v1.0h-1.0zM382.8 325.0h1.0v1.0h-1.0zM383.5 318.1h1.0v1.0h-1.0zM385.2 326.6h1.0v1.0h-1.0zM385.0 323.0h1.0v1.0h-1.0zM381.0 320.8h1.0v1.0h-1.0zM383.6 331.1h1.0v1.0h-1.0zM383.3 321.4h1.0v1.0h-1.0zM382.9 318.8h1.0v1.0h-1.0zM390.8 323.9h1.0v1.0h-1.0zM383.1 324.6h1.0v1.0h-1.0zM383.3 326.0h1.0v1.0h-1.0zM382.3 323.9h1.0v1.0h-1.0zM389.1 321.7h1.0v1.0h-1.0zM382.2 320.3h1.0v1.0h-1.0zM381.7 327.8h1.0v1.0h-1.0zM386.4 322.1h1.0v1.0h-1.0zM388.6 321.0h1.0v1.0h-1.0zM382.6 323.8h1.0v1.0h-1.0zM384.5 322.9h1.0v1.0h-1.0zM392.6 319.8h1.0v1.0h-1.0zM385.3 321.8h1.0v1.0h-1.0zM381.8 321.9h1.0v1.0h-1.0zM379.0 325.0h1.0v1.0h-1.0zM378.4 321.6h1.0v1.0h-1.0zM379.8 320.3h1.0v1.0h-1.0zM390.2 323.0h1.0v1.0h-1.0zM384.4 328.4h1.0v1.0h-1.0zM383.8 316.7h1.0v1.0h-1.0zM383.8 320.8h1.0v1.0h-1.0zM379.6 325.1h1.0v1.0h-1.0zM388.6 321.8h1.0v1.0h-1.0zM379.9 323.9h1.0v1.0h-1.0zM384.0 326.3h1.0v1.0h-1.0zM383.4 321.0h1.0v1.0h-1.0zM380.0 320.4h1.0v1.0h-1.0zM383.4 326.0h1.0v1.0h-1.0zM379.6 326.3h1.0v1.0h-1.0zM385.4 324.6h1.0v1.0h-1.0zM382.6 326.5h1.0v1.0h-1.0zM391.9 324.8h1.0v1.0h-1.0zM380.1 325.4h1.0v1.0h-1.0zM384.4 323.4h1.0v1.0h-1.0zM383.0 326.1h1.0v1.0h-1.0zM393.3 321.9h1.0v1.0h-1.0zM381.4 323.2h1.0v1.0h-1.0zM387.1 321.8h1.0v1.0h-1.0zM384.1 326.5h1.0v1.0h-1.0zM387.5 324.0h1.0v1.0h-1.0zM385.8 325.6h1.0v1.0h-1.0zM382.2 321.3h1.0v1.0h-1.0zM383.2 320.0h1.0v1.0h-1.0zM389.3 322.2h1.0v1.0h-1.0zM380.2 325.9h1.0v1.0h-1.0zM386.8 320.7h1.0v1.0h-1.0zM385.3 320.9h1.0v1.0h-1.0zM384.5 322.7h1.0v1.0h-1.0z"/>
<path fill="#3a3af4" opacity="0.45" d="M386.9 317.1h0.9v0.9h-0.9zM380.7 325.9h0.9v0.9h-0.9zM384.3 324.6h0.9v0.9h-0.9zM381.1 319.0h0.9v0.9h-0.9zM390.4 320.1h0.9v0.9h-0.9zM389.3 318.2h0.9v0.9h-0.9zM386.4 326.4h0.9v0.9h-0.9zM380.3 331.9h0.9v0.9h-0.9zM388.6 319.8h0.9v0.9h-0.9zM387.6 323.0h0.9v0.9h-0.9zM382.5 324.6h0.9v0.9h-0.9zM377.8 318.7h0.9v0.9h-0.9zM387.3 321.2h0.9v0.9h-0.9zM390.4 321.2h0.9v0.9h-0.9zM391.1 321.8h0.9v0.9h-0.9zM382.7 328.4h0.9v0.9h-0.9zM399.0 311.7h0.9v0.9h-0.9zM380.7 327.4h0.9v0.9h-0.9zM392.6 321.8h0.9v0.9h-0.9zM391.6 312.6h0.9v0.9h-0.9zM388.8 321.8h0.9v0.9h-0.9zM391.0 315.0h0.9v0.9h-0.9zM385.5 320.3h0.9v0.9h-0.9zM384.9 321.5h0.9v0.9h-0.9zM382.1 316.6h0.9v0.9h-0.9zM385.9 321.8h0.9v0.9h-0.9zM377.8 311.9h0.9v0.9h-0.9zM381.2 321.6h0.9v0.9h-0.9zM384.3 329.0h0.9v0.9h-0.9zM390.5 318.1h0.9v0.9h-0.9zM394.9 329.7h0.9v0.9h-0.9zM381.8 325.9h0.9v0.9h-0.9zM385.5 327.8h0.9v0.9h-0.9zM391.6 317.8h0.9v0.9h-0.9zM387.8 317.2h0.9v0.9h-0.9zM379.2 328.8h0.9v0.9h-0.9zM394.0 315.6h0.9v0.9h-0.9zM380.1 317.6h0.9v0.9h-0.9zM395.1 311.4h0.9v0.9h-0.9zM380.6 323.8h0.9v0.9h-0.9zM392.4 318.0h0.9v0.9h-0.9zM386.0 321.6h0.9v0.9h-0.9zM390.4 318.8h0.9v0.9h-0.9zM386.7 320.8h0.9v0.9h-0.9zM382.6 328.9h0.9v0.9h-0.9zM380.1 319.6h0.9v0.9h-0.9zM383.8 322.9h0.9v0.9h-0.9zM387.7 314.5h0.9v0.9h-0.9zM379.7 325.9h0.9v0.9h-0.9zM386.1 317.0h0.9v0.9h-0.9zM380.4 325.4h0.9v0.9h-0.9zM382.4 317.0h0.9v0.9h-0.9zM384.0 328.7h0.9v0.9h-0.9zM382.3 327.9h0.9v0.9h-0.9zM380.6 330.6h0.9v0.9h-0.9zM393.3 314.7h0.9v0.9h-0.9zM383.6 325.5h0.9v0.9h-0.9zM380.5 326.9h0.9v0.9h-0.9zM392.8 318.6h0.9v0.9h-0.9zM387.4 320.0h0.9v0.9h-0.9zM389.8 316.0h0.9v0.9h-0.9zM394.3 316.6h0.9v0.9h-0.9zM381.4 317.5h0.9v0.9h-0.9zM384.1 323.5h0.9v0.9h-0.9zM389.7 312.8h0.9v0.9h-0.9zM384.1 319.8h0.9v0.9h-0.9zM379.8 325.1h0.9v0.9h-0.9zM383.6 326.4h0.9v0.9h-0.9zM373.2 331.9h0.9v0.9h-0.9zM372.6 321.3h0.9v0.9h-0.9zM388.1 318.9h0.9v0.9h-0.9zM385.0 318.2h0.9v0.9h-0.9zM379.2 322.4h0.9v0.9h-0.9zM384.2 319.1h0.9v0.9h-0.9zM382.3 320.1h0.9v0.9h-0.9zM385.2 317.3h0.9v0.9h-0.9zM370.5 319.8h0.9v0.9h-0.9zM386.1 321.8h0.9v0.9h-0.9zM389.7 316.3h0.9v0.9h-0.9zM377.4 320.4h0.9v0.9h-0.9zM388.9 317.3h0.9v0.9h-0.9zM391.0 318.3h0.9v0.9h-0.9zM381.3 316.7h0.9v0.9h-0.9zM383.9 325.9h0.9v0.9h-0.9zM384.0 325.4h0.9v0.9h-0.9zM379.2 329.5h0.9v0.9h-0.9zM402.5 316.5h0.9v0.9h-0.9zM385.5 316.8h0.9v0.9h-0.9zM382.1 321.1h0.9v0.9h-0.9zM383.4 314.8h0.9v0.9h-0.9zM382.9 326.5h0.9v0.9h-0.9zM388.1 323.3h0.9v0.9h-0.9zM388.4 315.4h0.9v0.9h-0.9zM379.8 327.0h0.9v0.9h-0.9zM386.3 321.6h0.9v0.9h-0.9zM383.5 327.0h0.9v0.9h-0.9zM390.6 323.5h0.9v0.9h-0.9zM385.4 324.7h0.9v0.9h-0.9zM384.0 318.8h0.9v0.9h-0.9zM382.7 316.7h0.9v0.9h-0.9zM385.4 322.6h0.9v0.9h-0.9zM387.8 316.2h0.9v0.9h-0.9zM377.8 323.3h0.9v0.9h-0.9zM374.0 325.7h0.9v0.9h-0.9zM399.9 314.1h0.9v0.9h-0.9zM380.8 321.7h0.9v0.9h-0.9zM393.2 312.6h0.9v0.9h-0.9zM385.3 321.6h0.9v0.9h-0.9zM380.9 321.5h0.9v0.9h-0.9zM375.8 324.0h0.9v0.9h-0.9zM395.3 321.9h0.9v0.9h-0.9zM385.8 324.5h0.9v0.9h-0.9zM388.6 320.4h0.9v0.9h-0.9zM387.4 325.6h0.9v0.9h-0.9zM388.6 319.1h0.9v0.9h-0.9zM386.4 325.0h0.9v0.9h-0.9zM381.6 321.1h0.9v0.9h-0.9zM383.7 320.8h0.9v0.9h-0.9zM393.2 318.8h0.9v0.9h-0.9zM384.6 320.2h0.9v0.9h-0.9z"/>
<ellipse cx="384.5" cy="323.5" rx="4.5" ry="3" transform="rotate(-30 384.5 323.5)" fill="#1010e0" opacity="0.6" filter="url(#b1)"/>
<rect x="448.70" y="193.70" width="67.10" height="67.60" fill="#fff" stroke="#555" stroke-width="0.9"/>
<line x1="479.00" y1="193.70" x2="479.00" y2="261.30" stroke="#555" stroke-width="0.8"/>
<text x="482.20" y="204.60" font-size="8.3" fill="#1a1a1a">0 %</text>
<text x="444.90" y="219.80" font-size="11" text-anchor="middle" fill="#222" transform="rotate(-90 444.90 219.80)" textLength="16" lengthAdjust="spacingAndGlyphs">SSC</text>
<text x="483.50" y="272.00" font-size="11" text-anchor="middle" fill="#222" textLength="25.5" lengthAdjust="spacingAndGlyphs">CD19</text>
<path fill="#1a1ae8" opacity="0.6" d="M467.4 252.1h1.0v1.0h-1.0zM471.5 251.8h1.0v1.0h-1.0zM457.3 253.2h1.0v1.0h-1.0zM457.5 255.0h1.0v1.0h-1.0zM463.9 253.5h1.0v1.0h-1.0zM466.6 247.3h1.0v1.0h-1.0zM458.0 250.7h1.0v1.0h-1.0zM452.7 254.8h1.0v1.0h-1.0zM454.5 253.1h1.0v1.0h-1.0zM451.3 259.7h1.0v1.0h-1.0zM458.0 256.8h1.0v1.0h-1.0zM450.8 251.0h1.0v1.0h-1.0zM456.4 257.2h1.0v1.0h-1.0zM456.2 256.0h1.0v1.0h-1.0zM454.1 259.4h1.0v1.0h-1.0zM462.3 255.5h1.0v1.0h-1.0zM458.5 257.5h1.0v1.0h-1.0zM459.0 252.7h1.0v1.0h-1.0zM455.4 255.4h1.0v1.0h-1.0zM452.9 253.2h1.0v1.0h-1.0zM460.3 255.3h1.0v1.0h-1.0zM458.0 256.5h1.0v1.0h-1.0zM466.9 247.9h1.0v1.0h-1.0zM459.7 251.3h1.0v1.0h-1.0zM455.5 255.7h1.0v1.0h-1.0zM464.2 253.5h1.0v1.0h-1.0zM464.2 256.8h1.0v1.0h-1.0zM457.8 257.2h1.0v1.0h-1.0zM467.6 252.1h1.0v1.0h-1.0zM456.0 250.9h1.0v1.0h-1.0zM459.3 255.8h1.0v1.0h-1.0zM457.4 254.1h1.0v1.0h-1.0zM466.8 249.6h1.0v1.0h-1.0zM453.7 256.0h1.0v1.0h-1.0zM465.8 253.0h1.0v1.0h-1.0zM459.0 252.7h1.0v1.0h-1.0zM466.7 253.5h1.0v1.0h-1.0zM461.9 251.3h1.0v1.0h-1.0zM451.5 256.0h1.0v1.0h-1.0zM449.6 258.9h1.0v1.0h-1.0zM454.7 251.0h1.0v1.0h-1.0zM459.9 256.7h1.0v1.0h-1.0zM451.5 255.8h1.0v1.0h-1.0zM469.4 250.7h1.0v1.0h-1.0zM456.0 255.6h1.0v1.0h-1.0zM462.6 250.1h1.0v1.0h-1.0zM457.1 250.5h1.0v1.0h-1.0zM464.0 253.0h1.0v1.0h-1.0zM464.1 255.2h1.0v1.0h-1.0zM459.5 254.4h1.0v1.0h-1.0zM461.7 254.2h1.0v1.0h-1.0zM452.8 255.6h1.0v1.0h-1.0zM458.2 254.4h1.0v1.0h-1.0zM454.6 255.2h1.0v1.0h-1.0zM460.8 253.8h1.0v1.0h-1.0zM463.0 254.6h1.0v1.0h-1.0zM462.9 255.0h1.0v1.0h-1.0zM464.9 255.4h1.0v1.0h-1.0zM462.0 251.3h1.0v1.0h-1.0zM473.1 251.8h1.0v1.0h-1.0zM466.7 253.1h1.0v1.0h-1.0zM458.3 251.3h1.0v1.0h-1.0zM461.2 252.3h1.0v1.0h-1.0zM455.0 250.0h1.0v1.0h-1.0zM466.8 248.2h1.0v1.0h-1.0zM453.2 257.3h1.0v1.0h-1.0zM461.5 251.0h1.0v1.0h-1.0zM459.2 254.6h1.0v1.0h-1.0zM460.3 254.9h1.0v1.0h-1.0zM463.1 251.6h1.0v1.0h-1.0zM456.0 252.6h1.0v1.0h-1.0zM463.7 253.8h1.0v1.0h-1.0zM457.4 260.6h1.0v1.0h-1.0zM459.0 254.8h1.0v1.0h-1.0zM460.6 252.8h1.0v1.0h-1.0zM459.7 250.4h1.0v1.0h-1.0zM458.3 259.0h1.0v1.0h-1.0zM463.6 251.3h1.0v1.0h-1.0zM454.5 251.8h1.0v1.0h-1.0zM458.2 253.8h1.0v1.0h-1.0zM454.1 251.8h1.0v1.0h-1.0zM460.2 254.6h1.0v1.0h-1.0zM465.9 252.8h1.0v1.0h-1.0zM468.6 253.6h1.0v1.0h-1.0zM457.5 251.8h1.0v1.0h-1.0zM462.2 255.3h1.0v1.0h-1.0zM462.4 251.3h1.0v1.0h-1.0zM467.4 251.5h1.0v1.0h-1.0zM454.8 252.1h1.0v1.0h-1.0zM461.0 248.9h1.0v1.0h-1.0zM450.5 253.7h1.0v1.0h-1.0zM470.0 254.4h1.0v1.0h-1.0zM457.4 253.6h1.0v1.0h-1.0zM464.0 255.4h1.0v1.0h-1.0zM458.8 257.0h1.0v1.0h-1.0zM456.7 259.9h1.0v1.0h-1.0zM456.7 251.6h1.0v1.0h-1.0zM469.5 248.4h1.0v1.0h-1.0zM457.9 251.2h1.0v1.0h-1.0zM463.0 253.0h1.0v1.0h-1.0zM457.0 253.7h1.0v1.0h-1.0zM455.2 253.5h1.0v1.0h-1.0zM452.0 259.6h1.0v1.0h-1.0zM462.9 249.0h1.0v1.0h-1.0zM452.7 257.3h1.0v1.0h-1.0zM471.6 248.9h1.0v1.0h-1.0zM457.0 254.1h1.0v1.0h-1.0zM460.3 253.1h1.0v1.0h-1.0zM465.9 254.0h1.0v1.0h-1.0zM463.4 256.4h1.0v1.0h-1.0zM457.2 253.2h1.0v1.0h-1.0zM474.3 243.5h1.0v1.0h-1.0zM460.1 250.8h1.0v1.0h-1.0zM463.3 247.1h1.0v1.0h-1.0zM457.9 253.4h1.0v1.0h-1.0zM453.8 258.8h1.0v1.0h-1.0zM457.1 255.8h1.0v1.0h-1.0zM456.1 255.4h1.0v1.0h-1.0zM456.5 255.1h1.0v1.0h-1.0zM457.9 252.7h1.0v1.0h-1.0zM461.3 252.7h1.0v1.0h-1.0zM452.6 253.6h1.0v1.0h-1.0zM462.6 256.1h1.0v1.0h-1.0zM451.2 255.8h1.0v1.0h-1.0zM462.4 255.4h1.0v1.0h-1.0zM462.0 249.9h1.0v1.0h-1.0zM459.9 256.0h1.0v1.0h-1.0zM460.2 253.0h1.0v1.0h-1.0zM452.4 256.8h1.0v1.0h-1.0zM458.7 254.2h1.0v1.0h-1.0zM468.5 253.6h1.0v1.0h-1.0zM454.7 256.2h1.0v1.0h-1.0zM457.3 254.9h1.0v1.0h-1.0zM469.0 252.7h1.0v1.0h-1.0zM458.7 252.4h1.0v1.0h-1.0zM458.4 255.2h1.0v1.0h-1.0zM457.1 257.5h1.0v1.0h-1.0zM458.1 251.3h1.0v1.0h-1.0zM468.2 243.2h1.0v1.0h-1.0zM457.4 254.3h1.0v1.0h-1.0zM465.5 254.5h1.0v1.0h-1.0zM468.5 254.5h1.0v1.0h-1.0zM460.9 253.6h1.0v1.0h-1.0zM464.7 251.8h1.0v1.0h-1.0zM451.5 255.6h1.0v1.0h-1.0zM463.3 254.0h1.0v1.0h-1.0zM453.7 259.0h1.0v1.0h-1.0zM459.5 250.0h1.0v1.0h-1.0zM462.5 255.3h1.0v1.0h-1.0zM461.8 252.2h1.0v1.0h-1.0zM455.4 258.2h1.0v1.0h-1.0zM460.3 253.5h1.0v1.0h-1.0zM455.9 252.5h1.0v1.0h-1.0zM465.9 253.4h1.0v1.0h-1.0zM456.4 258.9h1.0v1.0h-1.0zM456.9 252.2h1.0v1.0h-1.0zM465.7 255.1h1.0v1.0h-1.0zM455.8 252.0h1.0v1.0h-1.0zM456.6 248.6h1.0v1.0h-1.0zM460.6 257.3h1.0v1.0h-1.0zM459.9 251.8h1.0v1.0h-1.0zM462.6 251.4h1.0v1.0h-1.0zM465.9 250.6h1.0v1.0h-1.0zM470.3 249.0h1.0v1.0h-1.0zM459.3 251.5h1.0v1.0h-1.0zM452.0 257.4h1.0v1.0h-1.0zM460.2 251.1h1.0v1.0h-1.0zM461.8 251.9h1.0v1.0h-1.0zM455.8 255.0h1.0v1.0h-1.0zM461.8 254.8h1.0v1.0h-1.0zM466.3 252.3h1.0v1.0h-1.0zM454.3 253.9h1.0v1.0h-1.0zM460.1 250.5h1.0v1.0h-1.0zM457.7 253.5h1.0v1.0h-1.0zM458.6 254.6h1.0v1.0h-1.0zM466.2 255.6h1.0v1.0h-1.0zM464.8 254.5h1.0v1.0h-1.0zM453.8 258.5h1.0v1.0h-1.0zM465.2 248.3h1.0v1.0h-1.0zM472.8 247.5h1.0v1.0h-1.0zM458.7 252.1h1.0v1.0h-1.0zM456.6 257.6h1.0v1.0h-1.0zM460.1 252.6h1.0v1.0h-1.0zM464.7 249.5h1.0v1.0h-1.0zM453.7 254.5h1.0v1.0h-1.0zM455.3 257.1h1.0v1.0h-1.0zM456.8 252.1h1.0v1.0h-1.0zM454.8 250.5h1.0v1.0h-1.0zM460.0 253.9h1.0v1.0h-1.0zM462.3 252.2h1.0v1.0h-1.0zM460.5 251.1h1.0v1.0h-1.0zM459.3 254.3h1.0v1.0h-1.0zM452.6 257.8h1.0v1.0h-1.0zM459.8 253.8h1.0v1.0h-1.0zM457.9 259.5h1.0v1.0h-1.0zM458.4 252.3h1.0v1.0h-1.0zM454.7 257.1h1.0v1.0h-1.0zM457.2 252.6h1.0v1.0h-1.0zM455.7 257.6h1.0v1.0h-1.0zM460.3 256.2h1.0v1.0h-1.0zM457.9 251.4h1.0v1.0h-1.0zM464.2 252.9h1.0v1.0h-1.0zM455.0 254.6h1.0v1.0h-1.0zM454.2 257.9h1.0v1.0h-1.0zM457.0 255.9h1.0v1.0h-1.0zM460.3 252.9h1.0v1.0h-1.0zM460.9 252.7h1.0v1.0h-1.0zM452.0 255.5h1.0v1.0h-1.0zM453.0 258.1h1.0v1.0h-1.0zM462.2 251.3h1.0v1.0h-1.0zM462.7 253.3h1.0v1.0h-1.0zM463.7 249.9h1.0v1.0h-1.0zM458.3 251.7h1.0v1.0h-1.0zM456.3 258.5h1.0v1.0h-1.0zM462.4 254.7h1.0v1.0h-1.0zM452.9 251.0h1.0v1.0h-1.0zM449.6 258.4h1.0v1.0h-1.0zM466.0 253.8h1.0v1.0h-1.0zM456.0 258.6h1.0v1.0h-1.0zM458.4 255.8h1.0v1.0h-1.0zM459.2 258.0h1.0v1.0h-1.0zM454.3 250.2h1.0v1.0h-1.0zM457.4 255.1h1.0v1.0h-1.0zM460.0 251.8h1.0v1.0h-1.0zM456.8 251.9h1.0v1.0h-1.0zM457.7 254.7h1.0v1.0h-1.0zM461.7 257.2h1.0v1.0h-1.0zM460.5 250.5h1.0v1.0h-1.0zM459.4 253.8h1.0v1.0h-1.0zM453.9 257.7h1.0v1.0h-1.0zM470.3 251.6h1.0v1.0h-1.0zM464.3 254.8h1.0v1.0h-1.0zM459.1 256.5h1.0v1.0h-1.0zM454.6 256.1h1.0v1.0h-1.0zM464.0 255.5h1.0v1.0h-1.0zM457.1 253.9h1.0v1.0h-1.0zM461.6 252.9h1.0v1.0h-1.0zM460.4 255.5h1.0v1.0h-1.0zM455.4 257.5h1.0v1.0h-1.0zM460.9 252.6h1.0v1.0h-1.0zM451.4 255.1h1.0v1.0h-1.0zM459.5 256.2h1.0v1.0h-1.0zM459.2 251.1h1.0v1.0h-1.0zM464.1 253.1h1.0v1.0h-1.0zM460.6 250.9h1.0v1.0h-1.0zM453.5 258.3h1.0v1.0h-1.0zM467.2 251.9h1.0v1.0h-1.0zM457.5 253.4h1.0v1.0h-1.0zM450.2 259.7h1.0v1.0h-1.0zM459.5 257.0h1.0v1.0h-1.0zM455.8 257.8h1.0v1.0h-1.0zM455.5 256.8h1.0v1.0h-1.0zM466.1 249.6h1.0v1.0h-1.0zM464.1 252.1h1.0v1.0h-1.0zM453.9 256.4h1.0v1.0h-1.0zM462.0 251.1h1.0v1.0h-1.0zM457.0 253.3h1.0v1.0h-1.0zM454.5 255.1h1.0v1.0h-1.0zM463.2 251.2h1.0v1.0h-1.0zM465.7 250.6h1.0v1.0h-1.0zM456.0 257.8h1.0v1.0h-1.0zM466.3 249.7h1.0v1.0h-1.0zM461.3 250.2h1.0v1.0h-1.0zM456.4 254.0h1.0v1.0h-1.0zM461.9 249.7h1.0v1.0h-1.0zM455.6 253.5h1.0v1.0h-1.0zM458.6 251.0h1.0v1.0h-1.0zM459.0 250.2h1.0v1.0h-1.0zM462.6 249.4h1.0v1.0h-1.0zM465.3 249.6h1.0v1.0h-1.0zM453.3 257.3h1.0v1.0h-1.0zM470.8 251.2h1.0v1.0h-1.0zM461.7 250.0h1.0v1.0h-1.0zM464.8 252.2h1.0v1.0h-1.0zM460.1 257.1h1.0v1.0h-1.0zM455.2 258.2h1.0v1.0h-1.0zM463.1 250.9h1.0v1.0h-1.0zM459.8 254.0h1.0v1.0h-1.0zM461.4 250.6h1.0v1.0h-1.0zM457.8 254.7h1.0v1.0h-1.0zM459.2 254.0h1.0v1.0h-1.0zM460.2 253.1h1.0v1.0h-1.0zM457.1 257.3h1.0v1.0h-1.0zM455.2 254.6h1.0v1.0h-1.0zM453.2 253.2h1.0v1.0h-1.0zM461.5 253.0h1.0v1.0h-1.0zM458.6 255.3h1.0v1.0h-1.0zM458.6 255.9h1.0v1.0h-1.0zM469.3 251.1h1.0v1.0h-1.0zM458.9 258.2h1.0v1.0h-1.0zM461.6 248.9h1.0v1.0h-1.0zM466.6 251.8h1.0v1.0h-1.0zM462.8 249.7h1.0v1.0h-1.0zM453.8 254.3h1.0v1.0h-1.0zM461.2 250.4h1.0v1.0h-1.0zM455.8 257.6h1.0v1.0h-1.0zM455.5 255.6h1.0v1.0h-1.0zM452.6 252.0h1.0v1.0h-1.0zM458.4 253.9h1.0v1.0h-1.0zM451.8 259.1h1.0v1.0h-1.0zM464.3 254.3h1.0v1.0h-1.0zM455.2 252.5h1.0v1.0h-1.0zM458.6 254.5h1.0v1.0h-1.0zM457.6 253.0h1.0v1.0h-1.0zM452.9 254.4h1.0v1.0h-1.0zM458.1 253.1h1.0v1.0h-1.0zM468.0 250.0h1.0v1.0h-1.0zM461.1 252.1h1.0v1.0h-1.0zM457.2 252.2h1.0v1.0h-1.0zM455.1 251.7h1.0v1.0h-1.0zM453.5 257.1h1.0v1.0h-1.0zM457.8 253.0h1.0v1.0h-1.0zM462.6 251.3h1.0v1.0h-1.0zM461.1 252.3h1.0v1.0h-1.0zM465.1 254.2h1.0v1.0h-1.0zM460.2 256.3h1.0v1.0h-1.0zM463.0 256.4h1.0v1.0h-1.0zM457.1 250.8h1.0v1.0h-1.0zM460.4 254.1h1.0v1.0h-1.0zM456.8 254.3h1.0v1.0h-1.0zM456.5 251.8h1.0v1.0h-1.0zM467.9 248.8h1.0v1.0h-1.0zM451.8 252.7h1.0v1.0h-1.0zM454.3 255.6h1.0v1.0h-1.0zM467.6 252.4h1.0v1.0h-1.0zM454.0 252.7h1.0v1.0h-1.0zM452.7 256.1h1.0v1.0h-1.0zM463.4 251.2h1.0v1.0h-1.0zM469.4 255.1h1.0v1.0h-1.0zM458.1 248.9h1.0v1.0h-1.0zM464.9 251.6h1.0v1.0h-1.0zM463.5 254.8h1.0v1.0h-1.0zM453.5 256.2h1.0v1.0h-1.0zM459.4 252.0h1.0v1.0h-1.0zM462.7 252.3h1.0v1.0h-1.0zM458.3 259.0h1.0v1.0h-1.0zM461.2 257.3h1.0v1.0h-1.0zM459.0 256.6h1.0v1.0h-1.0zM455.0 255.8h1.0v1.0h-1.0zM463.2 247.0h1.0v1.0h-1.0zM461.7 252.3h1.0v1.0h-1.0zM465.1 252.2h1.0v1.0h-1.0zM457.5 251.3h1.0v1.0h-1.0zM474.6 246.5h1.0v1.0h-1.0zM456.6 253.1h1.0v1.0h-1.0zM457.5 255.1h1.0v1.0h-1.0zM452.5 259.0h1.0v1.0h-1.0zM458.0 255.9h1.0v1.0h-1.0zM457.0 253.7h1.0v1.0h-1.0zM455.5 256.0h1.0v1.0h-1.0zM460.4 251.0h1.0v1.0h-1.0zM458.1 257.0h1.0v1.0h-1.0zM463.7 252.0h1.0v1.0h-1.0zM450.8 256.1h1.0v1.0h-1.0zM456.0 258.2h1.0v1.0h-1.0zM450.4 259.4h1.0v1.0h-1.0zM450.0 255.8h1.0v1.0h-1.0zM450.6 255.3h1.0v1.0h-1.0zM456.8 255.7h1.0v1.0h-1.0zM456.3 256.7h1.0v1.0h-1.0zM468.7 250.8h1.0v1.0h-1.0zM452.5 255.9h1.0v1.0h-1.0zM458.1 253.4h1.0v1.0h-1.0zM466.2 254.2h1.0v1.0h-1.0zM470.4 251.1h1.0v1.0h-1.0zM462.0 250.9h1.0v1.0h-1.0zM456.4 257.2h1.0v1.0h-1.0zM458.9 251.2h1.0v1.0h-1.0zM453.3 248.4h1.0v1.0h-1.0zM458.0 251.3h1.0v1.0h-1.0zM457.7 251.5h1.0v1.0h-1.0zM453.4 254.7h1.0v1.0h-1.0zM473.3 245.8h1.0v1.0h-1.0zM452.0 255.2h1.0v1.0h-1.0zM465.4 253.6h1.0v1.0h-1.0zM462.5 251.9h1.0v1.0h-1.0zM459.0 252.0h1.0v1.0h-1.0zM457.3 252.6h1.0v1.0h-1.0zM450.2 254.7h1.0v1.0h-1.0zM469.9 251.0h1.0v1.0h-1.0zM454.7 255.3h1.0v1.0h-1.0zM457.5 257.6h1.0v1.0h-1.0zM458.3 252.7h1.0v1.0h-1.0zM463.0 253.4h1.0v1.0h-1.0zM454.6 253.7h1.0v1.0h-1.0zM458.4 250.1h1.0v1.0h-1.0zM454.7 258.1h1.0v1.0h-1.0zM464.6 254.7h1.0v1.0h-1.0zM456.0 253.6h1.0v1.0h-1.0zM457.1 253.5h1.0v1.0h-1.0zM465.8 251.0h1.0v1.0h-1.0zM465.8 249.7h1.0v1.0h-1.0zM462.3 256.8h1.0v1.0h-1.0zM454.3 254.1h1.0v1.0h-1.0zM454.4 251.7h1.0v1.0h-1.0zM456.8 253.2h1.0v1.0h-1.0zM470.7 248.5h1.0v1.0h-1.0zM464.1 252.0h1.0v1.0h-1.0zM461.1 255.0h1.0v1.0h-1.0zM455.9 255.2h1.0v1.0h-1.0zM461.1 257.4h1.0v1.0h-1.0zM466.8 251.6h1.0v1.0h-1.0zM452.3 258.6h1.0v1.0h-1.0zM459.6 256.7h1.0v1.0h-1.0zM459.4 254.3h1.0v1.0h-1.0zM462.0 251.1h1.0v1.0h-1.0zM457.2 260.4h1.0v1.0h-1.0zM454.9 257.8h1.0v1.0h-1.0zM463.3 254.5h1.0v1.0h-1.0zM465.4 248.3h1.0v1.0h-1.0zM462.5 247.6h1.0v1.0h-1.0zM459.5 254.7h1.0v1.0h-1.0zM465.5 254.4h1.0v1.0h-1.0zM453.6 255.3h1.0v1.0h-1.0zM457.5 252.8h1.0v1.0h-1.0zM453.9 254.2h1.0v1.0h-1.0zM466.3 254.7h1.0v1.0h-1.0zM464.4 256.2h1.0v1.0h-1.0zM458.5 251.4h1.0v1.0h-1.0zM455.5 255.8h1.0v1.0h-1.0zM465.5 254.6h1.0v1.0h-1.0zM454.8 257.9h1.0v1.0h-1.0zM456.5 256.4h1.0v1.0h-1.0zM465.2 255.5h1.0v1.0h-1.0zM456.2 255.6h1.0v1.0h-1.0zM460.9 252.2h1.0v1.0h-1.0zM459.9 255.2h1.0v1.0h-1.0zM471.9 250.4h1.0v1.0h-1.0zM454.4 251.1h1.0v1.0h-1.0zM454.1 257.1h1.0v1.0h-1.0zM463.0 253.6h1.0v1.0h-1.0zM461.7 251.5h1.0v1.0h-1.0zM466.8 248.4h1.0v1.0h-1.0zM461.5 252.4h1.0v1.0h-1.0zM450.3 259.4h1.0v1.0h-1.0zM458.0 256.1h1.0v1.0h-1.0zM466.0 251.8h1.0v1.0h-1.0zM455.1 254.9h1.0v1.0h-1.0zM459.7 257.4h1.0v1.0h-1.0zM464.9 255.8h1.0v1.0h-1.0zM462.5 250.8h1.0v1.0h-1.0zM464.8 254.3h1.0v1.0h-1.0zM458.6 255.3h1.0v1.0h-1.0zM456.2 251.9h1.0v1.0h-1.0zM459.0 255.9h1.0v1.0h-1.0zM455.1 249.8h1.0v1.0h-1.0zM455.4 258.0h1.0v1.0h-1.0zM461.1 256.1h1.0v1.0h-1.0zM454.5 254.6h1.0v1.0h-1.0zM452.8 254.3h1.0v1.0h-1.0zM461.8 253.3h1.0v1.0h-1.0zM456.5 255.7h1.0v1.0h-1.0zM451.4 255.8h1.0v1.0h-1.0zM449.5 253.7h1.0v1.0h-1.0zM450.6 254.3h1.0v1.0h-1.0zM468.7 253.9h1.0v1.0h-1.0zM465.3 250.2h1.0v1.0h-1.0zM461.4 250.3h1.0v1.0h-1.0zM456.1 255.6h1.0v1.0h-1.0zM450.3 257.7h1.0v1.0h-1.0zM460.6 248.2h1.0v1.0h-1.0zM458.4 254.6h1.0v1.0h-1.0zM453.2 257.5h1.0v1.0h-1.0zM459.0 252.2h1.0v1.0h-1.0zM468.1 251.3h1.0v1.0h-1.0zM464.5 256.7h1.0v1.0h-1.0zM456.0 254.5h1.0v1.0h-1.0zM463.3 258.7h1.0v1.0h-1.0zM462.2 253.4h1.0v1.0h-1.0zM451.3 254.7h1.0v1.0h-1.0zM459.8 254.5h1.0v1.0h-1.0zM453.7 255.4h1.0v1.0h-1.0zM455.0 257.0h1.0v1.0h-1.0zM462.0 251.5h1.0v1.0h-1.0zM455.4 252.2h1.0v1.0h-1.0zM458.1 259.8h1.0v1.0h-1.0zM459.5 256.0h1.0v1.0h-1.0zM463.3 256.2h1.0v1.0h-1.0zM456.4 252.7h1.0v1.0h-1.0zM465.3 254.0h1.0v1.0h-1.0zM456.2 257.8h1.0v1.0h-1.0zM458.8 254.0h1.0v1.0h-1.0zM469.4 251.5h1.0v1.0h-1.0zM460.4 252.7h1.0v1.0h-1.0zM460.9 256.0h1.0v1.0h-1.0zM460.8 251.4h1.0v1.0h-1.0zM461.3 252.9h1.0v1.0h-1.0zM460.4 253.0h1.0v1.0h-1.0zM455.0 249.9h1.0v1.0h-1.0zM462.3 251.6h1.0v1.0h-1.0zM458.9 248.4h1.0v1.0h-1.0zM461.1 255.7h1.0v1.0h-1.0zM458.9 250.7h1.0v1.0h-1.0zM463.8 250.9h1.0v1.0h-1.0zM455.9 255.6h1.0v1.0h-1.0zM458.9 259.2h1.0v1.0h-1.0zM459.9 259.1h1.0v1.0h-1.0zM460.4 250.4h1.0v1.0h-1.0zM458.9 254.2h1.0v1.0h-1.0zM467.8 254.0h1.0v1.0h-1.0zM472.4 247.4h1.0v1.0h-1.0zM458.4 260.1h1.0v1.0h-1.0zM454.3 256.6h1.0v1.0h-1.0zM466.9 248.5h1.0v1.0h-1.0zM456.4 253.1h1.0v1.0h-1.0zM462.1 253.9h1.0v1.0h-1.0zM459.2 255.6h1.0v1.0h-1.0zM454.3 254.8h1.0v1.0h-1.0zM463.1 257.6h1.0v1.0h-1.0zM458.7 254.2h1.0v1.0h-1.0zM466.2 251.6h1.0v1.0h-1.0zM466.3 252.0h1.0v1.0h-1.0zM465.4 252.1h1.0v1.0h-1.0zM453.1 254.0h1.0v1.0h-1.0zM462.8 257.4h1.0v1.0h-1.0zM468.9 249.6h1.0v1.0h-1.0zM471.8 246.5h1.0v1.0h-1.0zM455.0 257.8h1.0v1.0h-1.0zM451.3 259.1h1.0v1.0h-1.0zM461.5 254.7h1.0v1.0h-1.0zM452.6 257.3h1.0v1.0h-1.0zM464.1 252.0h1.0v1.0h-1.0zM464.6 252.0h1.0v1.0h-1.0zM460.6 252.6h1.0v1.0h-1.0zM451.3 256.4h1.0v1.0h-1.0zM461.0 251.3h1.0v1.0h-1.0zM466.0 250.9h1.0v1.0h-1.0zM455.7 258.3h1.0v1.0h-1.0zM456.7 251.0h1.0v1.0h-1.0zM455.8 252.9h1.0v1.0h-1.0zM457.1 252.4h1.0v1.0h-1.0zM459.7 254.9h1.0v1.0h-1.0zM455.6 254.7h1.0v1.0h-1.0zM458.7 256.2h1.0v1.0h-1.0zM455.6 257.2h1.0v1.0h-1.0zM465.6 251.1h1.0v1.0h-1.0zM453.3 255.3h1.0v1.0h-1.0zM452.2 256.1h1.0v1.0h-1.0zM457.3 255.9h1.0v1.0h-1.0zM459.9 254.7h1.0v1.0h-1.0zM458.9 254.8h1.0v1.0h-1.0zM453.2 257.8h1.0v1.0h-1.0zM467.0 253.9h1.0v1.0h-1.0zM451.8 257.7h1.0v1.0h-1.0zM450.5 259.0h1.0v1.0h-1.0zM457.4 253.4h1.0v1.0h-1.0zM454.6 255.0h1.0v1.0h-1.0zM458.1 251.9h1.0v1.0h-1.0zM459.5 254.5h1.0v1.0h-1.0zM461.8 252.9h1.0v1.0h-1.0zM460.8 259.3h1.0v1.0h-1.0zM464.8 252.7h1.0v1.0h-1.0zM451.7 258.2h1.0v1.0h-1.0zM459.9 246.9h1.0v1.0h-1.0zM458.3 255.2h1.0v1.0h-1.0zM459.2 254.2h1.0v1.0h-1.0zM459.2 257.5h1.0v1.0h-1.0zM460.8 252.6h1.0v1.0h-1.0zM459.4 259.2h1.0v1.0h-1.0zM453.7 254.6h1.0v1.0h-1.0zM460.8 253.7h1.0v1.0h-1.0zM461.7 256.5h1.0v1.0h-1.0zM465.6 252.7h1.0v1.0h-1.0zM459.1 253.8h1.0v1.0h-1.0zM458.5 256.8h1.0v1.0h-1.0zM451.1 254.2h1.0v1.0h-1.0zM455.6 252.8h1.0v1.0h-1.0zM455.8 258.2h1.0v1.0h-1.0zM451.4 256.1h1.0v1.0h-1.0zM454.9 253.0h1.0v1.0h-1.0zM450.7 257.2h1.0v1.0h-1.0zM457.7 257.3h1.0v1.0h-1.0zM469.0 249.6h1.0v1.0h-1.0zM454.2 255.0h1.0v1.0h-1.0zM462.3 255.2h1.0v1.0h-1.0zM454.0 257.0h1.0v1.0h-1.0zM459.7 256.7h1.0v1.0h-1.0zM456.5 254.4h1.0v1.0h-1.0zM453.1 252.8h1.0v1.0h-1.0zM461.0 255.1h1.0v1.0h-1.0zM465.4 252.4h1.0v1.0h-1.0zM455.6 252.9h1.0v1.0h-1.0zM451.9 254.7h1.0v1.0h-1.0zM460.9 253.6h1.0v1.0h-1.0zM456.5 252.3h1.0v1.0h-1.0zM459.3 255.3h1.0v1.0h-1.0zM452.1 253.1h1.0v1.0h-1.0zM457.4 255.3h1.0v1.0h-1.0zM458.8 258.0h1.0v1.0h-1.0zM458.9 251.5h1.0v1.0h-1.0zM462.7 251.0h1.0v1.0h-1.0zM462.9 252.9h1.0v1.0h-1.0zM465.0 249.3h1.0v1.0h-1.0zM463.3 253.5h1.0v1.0h-1.0zM454.5 257.4h1.0v1.0h-1.0zM471.9 250.2h1.0v1.0h-1.0zM454.5 255.2h1.0v1.0h-1.0zM466.4 252.0h1.0v1.0h-1.0zM466.7 249.5h1.0v1.0h-1.0zM464.9 247.8h1.0v1.0h-1.0zM457.8 253.7h1.0v1.0h-1.0zM457.2 257.8h1.0v1.0h-1.0zM455.9 256.0h1.0v1.0h-1.0zM470.0 252.1h1.0v1.0h-1.0zM456.0 253.2h1.0v1.0h-1.0zM464.8 254.7h1.0v1.0h-1.0zM462.1 258.4h1.0v1.0h-1.0zM461.4 247.2h1.0v1.0h-1.0zM454.7 257.6h1.0v1.0h-1.0zM457.4 256.7h1.0v1.0h-1.0zM472.6 247.1h1.0v1.0h-1.0z"/>
<ellipse cx="458" cy="255" rx="5" ry="2.5" transform="rotate(-20 458 255)" fill="#1010e0" opacity="0.55" filter="url(#b1)"/>
<rect x="446.90" y="277.50" width="67.70" height="70.40" fill="#fff" stroke="#555" stroke-width="0.9"/>
<line x1="469.00" y1="277.50" x2="469.00" y2="347.90" stroke="#555" stroke-width="0.8"/>
<text x="471.00" y="287.20" font-size="8.3" fill="#1a1a1a">0 %</text>
<text x="443.70" y="308.10" font-size="11" text-anchor="middle" fill="#222" transform="rotate(-90 443.70 308.10)" textLength="16" lengthAdjust="spacingAndGlyphs">SSC</text>
<text x="483.50" y="359.10" font-size="11" text-anchor="middle" fill="#222" textLength="25.5" lengthAdjust="spacingAndGlyphs">CD19</text>
<path fill="#1a1ae8" opacity="0.65" d="M464.0 341.2h1.0v1.0h-1.0zM452.3 341.8h1.0v1.0h-1.0zM459.8 339.6h1.0v1.0h-1.0zM462.0 338.6h1.0v1.0h-1.0zM456.4 344.5h1.0v1.0h-1.0zM456.3 339.7h1.0v1.0h-1.0zM456.9 343.7h1.0v1.0h-1.0zM462.5 346.0h1.0v1.0h-1.0zM462.9 341.4h1.0v1.0h-1.0zM451.7 341.4h1.0v1.0h-1.0zM455.7 338.2h1.0v1.0h-1.0zM455.3 341.3h1.0v1.0h-1.0zM457.1 344.5h1.0v1.0h-1.0zM454.1 345.3h1.0v1.0h-1.0zM457.1 343.9h1.0v1.0h-1.0zM460.9 337.4h1.0v1.0h-1.0zM462.1 339.1h1.0v1.0h-1.0zM458.3 345.1h1.0v1.0h-1.0zM459.9 336.3h1.0v1.0h-1.0zM457.5 345.3h1.0v1.0h-1.0zM456.6 341.2h1.0v1.0h-1.0zM457.2 346.9h1.0v1.0h-1.0zM455.3 338.4h1.0v1.0h-1.0zM453.5 339.8h1.0v1.0h-1.0zM456.2 342.6h1.0v1.0h-1.0zM456.7 335.8h1.0v1.0h-1.0zM452.0 343.7h1.0v1.0h-1.0zM459.3 337.0h1.0v1.0h-1.0zM460.0 333.5h1.0v1.0h-1.0zM464.4 343.5h1.0v1.0h-1.0zM451.7 343.2h1.0v1.0h-1.0zM456.9 340.0h1.0v1.0h-1.0zM455.8 340.8h1.0v1.0h-1.0zM456.7 338.5h1.0v1.0h-1.0zM455.2 343.3h1.0v1.0h-1.0zM458.7 337.1h1.0v1.0h-1.0zM455.4 346.7h1.0v1.0h-1.0zM459.3 347.0h1.0v1.0h-1.0zM452.7 338.1h1.0v1.0h-1.0zM450.1 335.1h1.0v1.0h-1.0zM455.8 338.0h1.0v1.0h-1.0zM453.5 339.2h1.0v1.0h-1.0zM456.4 344.3h1.0v1.0h-1.0zM458.8 335.7h1.0v1.0h-1.0zM461.8 340.4h1.0v1.0h-1.0zM453.8 341.4h1.0v1.0h-1.0zM455.7 336.9h1.0v1.0h-1.0zM462.0 339.6h1.0v1.0h-1.0zM455.1 343.3h1.0v1.0h-1.0zM462.4 343.1h1.0v1.0h-1.0zM454.1 342.9h1.0v1.0h-1.0zM460.5 342.8h1.0v1.0h-1.0zM459.1 339.9h1.0v1.0h-1.0zM456.8 335.9h1.0v1.0h-1.0zM454.7 337.7h1.0v1.0h-1.0zM457.0 346.4h1.0v1.0h-1.0zM449.8 337.1h1.0v1.0h-1.0zM454.0 341.2h1.0v1.0h-1.0zM460.7 338.9h1.0v1.0h-1.0zM454.5 345.5h1.0v1.0h-1.0zM458.2 343.2h1.0v1.0h-1.0zM459.7 339.1h1.0v1.0h-1.0zM457.7 339.3h1.0v1.0h-1.0zM454.7 341.9h1.0v1.0h-1.0zM458.4 337.3h1.0v1.0h-1.0zM454.5 343.5h1.0v1.0h-1.0zM457.5 343.7h1.0v1.0h-1.0zM456.0 338.8h1.0v1.0h-1.0zM459.5 343.5h1.0v1.0h-1.0zM447.9 344.4h1.0v1.0h-1.0zM454.6 343.7h1.0v1.0h-1.0zM462.0 340.6h1.0v1.0h-1.0zM453.9 342.4h1.0v1.0h-1.0zM457.3 343.4h1.0v1.0h-1.0zM452.5 342.3h1.0v1.0h-1.0zM459.9 343.8h1.0v1.0h-1.0zM459.0 345.5h1.0v1.0h-1.0zM454.3 345.5h1.0v1.0h-1.0zM457.7 338.2h1.0v1.0h-1.0zM456.0 342.4h1.0v1.0h-1.0zM458.1 346.0h1.0v1.0h-1.0zM457.6 339.8h1.0v1.0h-1.0zM464.0 340.4h1.0v1.0h-1.0zM454.4 344.6h1.0v1.0h-1.0zM455.7 338.9h1.0v1.0h-1.0zM453.6 345.4h1.0v1.0h-1.0zM453.6 341.8h1.0v1.0h-1.0zM455.5 340.9h1.0v1.0h-1.0zM454.4 342.0h1.0v1.0h-1.0zM458.9 345.0h1.0v1.0h-1.0zM455.8 337.6h1.0v1.0h-1.0zM452.2 341.5h1.0v1.0h-1.0zM449.0 345.9h1.0v1.0h-1.0zM457.1 341.9h1.0v1.0h-1.0zM452.5 339.4h1.0v1.0h-1.0zM454.6 343.7h1.0v1.0h-1.0zM455.7 343.6h1.0v1.0h-1.0zM458.7 335.1h1.0v1.0h-1.0zM456.2 345.7h1.0v1.0h-1.0zM455.4 341.9h1.0v1.0h-1.0zM456.6 337.5h1.0v1.0h-1.0zM464.0 341.1h1.0v1.0h-1.0zM459.0 340.0h1.0v1.0h-1.0zM461.5 345.3h1.0v1.0h-1.0zM460.8 344.7h1.0v1.0h-1.0zM459.3 346.1h1.0v1.0h-1.0zM458.3 342.0h1.0v1.0h-1.0zM459.6 338.6h1.0v1.0h-1.0zM448.8 344.2h1.0v1.0h-1.0zM457.5 339.2h1.0v1.0h-1.0zM456.1 338.4h1.0v1.0h-1.0zM454.3 342.1h1.0v1.0h-1.0zM457.4 344.3h1.0v1.0h-1.0zM456.7 343.6h1.0v1.0h-1.0zM459.2 339.2h1.0v1.0h-1.0zM451.6 339.3h1.0v1.0h-1.0zM456.2 339.8h1.0v1.0h-1.0zM464.1 339.3h1.0v1.0h-1.0zM458.5 339.0h1.0v1.0h-1.0zM459.2 337.4h1.0v1.0h-1.0zM460.1 342.1h1.0v1.0h-1.0zM455.7 337.6h1.0v1.0h-1.0zM462.4 339.6h1.0v1.0h-1.0zM461.6 333.6h1.0v1.0h-1.0zM462.7 341.6h1.0v1.0h-1.0zM460.2 343.5h1.0v1.0h-1.0zM455.8 342.0h1.0v1.0h-1.0zM453.3 337.1h1.0v1.0h-1.0zM457.4 343.9h1.0v1.0h-1.0zM457.5 337.5h1.0v1.0h-1.0zM459.7 341.8h1.0v1.0h-1.0zM459.4 340.6h1.0v1.0h-1.0zM456.1 345.0h1.0v1.0h-1.0zM461.4 337.6h1.0v1.0h-1.0zM453.4 344.7h1.0v1.0h-1.0zM458.2 341.7h1.0v1.0h-1.0zM453.9 344.9h1.0v1.0h-1.0zM457.6 342.3h1.0v1.0h-1.0zM458.2 339.8h1.0v1.0h-1.0zM458.3 342.0h1.0v1.0h-1.0zM459.3 342.8h1.0v1.0h-1.0zM452.9 339.2h1.0v1.0h-1.0zM456.1 345.4h1.0v1.0h-1.0zM454.9 345.3h1.0v1.0h-1.0zM460.5 344.4h1.0v1.0h-1.0zM464.2 341.5h1.0v1.0h-1.0zM458.0 345.6h1.0v1.0h-1.0zM458.3 344.8h1.0v1.0h-1.0zM456.6 346.2h1.0v1.0h-1.0zM458.1 335.2h1.0v1.0h-1.0zM460.5 340.9h1.0v1.0h-1.0zM454.2 340.6h1.0v1.0h-1.0zM456.1 345.3h1.0v1.0h-1.0zM458.1 341.3h1.0v1.0h-1.0zM457.0 338.6h1.0v1.0h-1.0zM454.9 340.0h1.0v1.0h-1.0zM456.3 337.7h1.0v1.0h-1.0zM455.7 344.8h1.0v1.0h-1.0zM458.5 341.5h1.0v1.0h-1.0zM458.1 340.8h1.0v1.0h-1.0zM453.2 344.4h1.0v1.0h-1.0zM464.2 343.2h1.0v1.0h-1.0zM453.1 343.3h1.0v1.0h-1.0zM455.9 340.6h1.0v1.0h-1.0zM451.7 341.3h1.0v1.0h-1.0zM458.3 336.3h1.0v1.0h-1.0zM456.3 339.9h1.0v1.0h-1.0zM453.8 343.6h1.0v1.0h-1.0zM462.3 342.9h1.0v1.0h-1.0zM460.3 344.0h1.0v1.0h-1.0zM456.8 343.5h1.0v1.0h-1.0zM461.3 340.2h1.0v1.0h-1.0zM456.5 337.0h1.0v1.0h-1.0zM451.0 338.9h1.0v1.0h-1.0zM459.9 342.7h1.0v1.0h-1.0zM457.8 345.9h1.0v1.0h-1.0zM451.3 346.1h1.0v1.0h-1.0zM457.3 344.1h1.0v1.0h-1.0zM461.4 338.9h1.0v1.0h-1.0zM454.2 342.9h1.0v1.0h-1.0zM456.8 339.6h1.0v1.0h-1.0zM456.6 339.2h1.0v1.0h-1.0zM457.4 340.3h1.0v1.0h-1.0zM462.5 338.1h1.0v1.0h-1.0zM458.9 341.8h1.0v1.0h-1.0zM462.1 338.4h1.0v1.0h-1.0zM454.9 340.3h1.0v1.0h-1.0zM455.7 338.3h1.0v1.0h-1.0zM460.9 346.5h1.0v1.0h-1.0zM456.5 339.1h1.0v1.0h-1.0zM452.7 343.7h1.0v1.0h-1.0zM455.3 343.3h1.0v1.0h-1.0zM449.3 340.2h1.0v1.0h-1.0zM459.0 342.9h1.0v1.0h-1.0zM447.8 342.5h1.0v1.0h-1.0zM457.4 341.5h1.0v1.0h-1.0zM455.9 340.1h1.0v1.0h-1.0zM457.5 343.2h1.0v1.0h-1.0zM460.0 340.8h1.0v1.0h-1.0zM460.9 338.5h1.0v1.0h-1.0zM463.1 344.7h1.0v1.0h-1.0zM461.6 346.7h1.0v1.0h-1.0zM453.2 341.2h1.0v1.0h-1.0zM458.5 345.0h1.0v1.0h-1.0zM457.2 337.3h1.0v1.0h-1.0zM460.9 341.0h1.0v1.0h-1.0zM458.4 340.5h1.0v1.0h-1.0zM456.6 337.0h1.0v1.0h-1.0zM459.1 339.5h1.0v1.0h-1.0zM451.3 342.9h1.0v1.0h-1.0zM456.9 344.7h1.0v1.0h-1.0zM459.6 337.6h1.0v1.0h-1.0zM456.4 341.5h1.0v1.0h-1.0zM457.3 338.1h1.0v1.0h-1.0zM457.2 344.7h1.0v1.0h-1.0zM461.0 346.3h1.0v1.0h-1.0zM459.4 333.3h1.0v1.0h-1.0zM456.1 339.8h1.0v1.0h-1.0zM459.9 341.5h1.0v1.0h-1.0zM458.2 343.1h1.0v1.0h-1.0zM456.3 346.0h1.0v1.0h-1.0zM462.9 344.2h1.0v1.0h-1.0zM455.2 342.4h1.0v1.0h-1.0zM460.1 343.9h1.0v1.0h-1.0zM454.8 344.7h1.0v1.0h-1.0zM459.3 343.4h1.0v1.0h-1.0zM455.7 341.5h1.0v1.0h-1.0zM450.9 341.4h1.0v1.0h-1.0zM455.6 340.6h1.0v1.0h-1.0zM456.1 340.5h1.0v1.0h-1.0zM457.3 341.9h1.0v1.0h-1.0zM455.0 341.1h1.0v1.0h-1.0zM456.7 343.1h1.0v1.0h-1.0zM458.4 340.4h1.0v1.0h-1.0zM454.3 336.2h1.0v1.0h-1.0zM453.0 342.9h1.0v1.0h-1.0zM454.0 346.8h1.0v1.0h-1.0zM456.5 340.3h1.0v1.0h-1.0zM456.5 339.8h1.0v1.0h-1.0zM455.0 341.8h1.0v1.0h-1.0zM452.4 342.0h1.0v1.0h-1.0zM456.7 338.6h1.0v1.0h-1.0zM460.3 342.7h1.0v1.0h-1.0zM460.5 339.4h1.0v1.0h-1.0zM453.0 337.7h1.0v1.0h-1.0zM452.0 335.4h1.0v1.0h-1.0zM462.0 340.0h1.0v1.0h-1.0zM457.6 339.8h1.0v1.0h-1.0zM456.5 346.7h1.0v1.0h-1.0zM451.4 338.3h1.0v1.0h-1.0zM457.4 338.6h1.0v1.0h-1.0zM459.2 345.8h1.0v1.0h-1.0zM459.9 344.0h1.0v1.0h-1.0zM456.5 344.8h1.0v1.0h-1.0zM454.4 337.6h1.0v1.0h-1.0zM456.2 340.7h1.0v1.0h-1.0zM460.9 338.3h1.0v1.0h-1.0zM460.7 339.0h1.0v1.0h-1.0zM452.9 336.0h1.0v1.0h-1.0zM456.9 336.8h1.0v1.0h-1.0zM457.7 341.7h1.0v1.0h-1.0zM455.7 335.2h1.0v1.0h-1.0zM455.3 343.0h1.0v1.0h-1.0zM451.3 343.8h1.0v1.0h-1.0zM457.1 339.8h1.0v1.0h-1.0zM457.7 343.6h1.0v1.0h-1.0zM456.9 339.0h1.0v1.0h-1.0zM459.5 339.3h1.0v1.0h-1.0zM458.2 344.7h1.0v1.0h-1.0zM461.2 346.7h1.0v1.0h-1.0zM460.3 342.0h1.0v1.0h-1.0zM456.4 342.1h1.0v1.0h-1.0zM459.1 338.8h1.0v1.0h-1.0zM461.9 336.3h1.0v1.0h-1.0zM460.2 337.4h1.0v1.0h-1.0zM453.5 339.9h1.0v1.0h-1.0zM456.1 337.1h1.0v1.0h-1.0zM459.0 341.2h1.0v1.0h-1.0zM461.3 338.2h1.0v1.0h-1.0zM451.2 343.8h1.0v1.0h-1.0zM456.3 344.7h1.0v1.0h-1.0zM449.5 337.4h1.0v1.0h-1.0zM453.0 335.3h1.0v1.0h-1.0zM455.5 346.1h1.0v1.0h-1.0zM462.1 337.1h1.0v1.0h-1.0zM455.0 335.5h1.0v1.0h-1.0zM454.3 338.4h1.0v1.0h-1.0zM458.4 345.2h1.0v1.0h-1.0zM464.7 340.3h1.0v1.0h-1.0zM459.6 342.2h1.0v1.0h-1.0zM459.3 346.6h1.0v1.0h-1.0zM458.0 344.3h1.0v1.0h-1.0zM458.6 341.2h1.0v1.0h-1.0zM454.8 340.2h1.0v1.0h-1.0zM457.0 340.3h1.0v1.0h-1.0zM455.9 339.2h1.0v1.0h-1.0zM459.8 340.7h1.0v1.0h-1.0zM456.6 340.8h1.0v1.0h-1.0zM461.2 339.8h1.0v1.0h-1.0zM461.5 338.7h1.0v1.0h-1.0zM461.9 343.5h1.0v1.0h-1.0zM455.4 343.0h1.0v1.0h-1.0zM460.7 338.4h1.0v1.0h-1.0zM456.3 342.5h1.0v1.0h-1.0zM456.3 340.6h1.0v1.0h-1.0zM457.1 342.5h1.0v1.0h-1.0zM459.5 346.3h1.0v1.0h-1.0zM456.6 336.8h1.0v1.0h-1.0zM455.6 340.4h1.0v1.0h-1.0zM460.4 334.9h1.0v1.0h-1.0zM455.0 341.1h1.0v1.0h-1.0zM459.1 342.8h1.0v1.0h-1.0zM459.8 341.0h1.0v1.0h-1.0zM456.3 345.5h1.0v1.0h-1.0zM462.5 342.8h1.0v1.0h-1.0zM457.5 338.7h1.0v1.0h-1.0zM463.7 342.8h1.0v1.0h-1.0zM459.0 336.3h1.0v1.0h-1.0zM456.5 340.9h1.0v1.0h-1.0zM461.9 340.9h1.0v1.0h-1.0zM453.3 338.8h1.0v1.0h-1.0zM459.2 341.9h1.0v1.0h-1.0zM457.1 341.0h1.0v1.0h-1.0zM457.4 342.7h1.0v1.0h-1.0zM455.5 340.6h1.0v1.0h-1.0zM457.8 338.0h1.0v1.0h-1.0zM458.4 334.4h1.0v1.0h-1.0zM459.1 341.1h1.0v1.0h-1.0zM453.3 345.9h1.0v1.0h-1.0zM454.7 345.5h1.0v1.0h-1.0zM456.8 346.8h1.0v1.0h-1.0zM456.3 344.9h1.0v1.0h-1.0zM456.0 335.4h1.0v1.0h-1.0zM458.3 343.1h1.0v1.0h-1.0zM458.3 347.0h1.0v1.0h-1.0zM454.7 336.8h1.0v1.0h-1.0zM457.8 339.2h1.0v1.0h-1.0zM456.7 341.5h1.0v1.0h-1.0zM454.4 345.1h1.0v1.0h-1.0zM457.8 345.0h1.0v1.0h-1.0zM456.1 339.4h1.0v1.0h-1.0zM455.3 338.6h1.0v1.0h-1.0zM458.4 342.0h1.0v1.0h-1.0zM453.6 336.5h1.0v1.0h-1.0zM454.3 335.6h1.0v1.0h-1.0zM454.2 336.6h1.0v1.0h-1.0zM459.3 337.7h1.0v1.0h-1.0zM455.1 341.1h1.0v1.0h-1.0zM457.1 342.9h1.0v1.0h-1.0zM459.4 343.6h1.0v1.0h-1.0zM455.9 345.6h1.0v1.0h-1.0zM458.2 339.2h1.0v1.0h-1.0zM461.8 337.6h1.0v1.0h-1.0zM458.5 345.6h1.0v1.0h-1.0zM457.4 342.6h1.0v1.0h-1.0zM457.4 343.7h1.0v1.0h-1.0zM457.7 341.5h1.0v1.0h-1.0zM459.3 335.3h1.0v1.0h-1.0zM457.8 340.5h1.0v1.0h-1.0zM463.2 342.5h1.0v1.0h-1.0zM454.9 343.7h1.0v1.0h-1.0zM455.8 337.6h1.0v1.0h-1.0zM456.1 343.2h1.0v1.0h-1.0zM460.8 344.9h1.0v1.0h-1.0zM457.7 341.0h1.0v1.0h-1.0zM457.7 345.5h1.0v1.0h-1.0zM456.6 345.3h1.0v1.0h-1.0zM454.5 341.5h1.0v1.0h-1.0zM459.5 343.8h1.0v1.0h-1.0zM457.7 339.8h1.0v1.0h-1.0zM451.3 340.1h1.0v1.0h-1.0zM454.3 340.2h1.0v1.0h-1.0zM462.0 339.0h1.0v1.0h-1.0zM459.7 341.4h1.0v1.0h-1.0zM453.5 341.9h1.0v1.0h-1.0zM459.4 337.6h1.0v1.0h-1.0zM453.3 340.3h1.0v1.0h-1.0zM459.3 339.5h1.0v1.0h-1.0zM458.4 343.0h1.0v1.0h-1.0zM457.1 343.0h1.0v1.0h-1.0zM461.0 340.9h1.0v1.0h-1.0zM458.0 338.0h1.0v1.0h-1.0zM454.7 341.2h1.0v1.0h-1.0zM459.6 339.3h1.0v1.0h-1.0zM452.6 344.5h1.0v1.0h-1.0zM464.5 333.1h1.0v1.0h-1.0zM453.7 341.9h1.0v1.0h-1.0zM458.5 338.4h1.0v1.0h-1.0zM458.1 345.1h1.0v1.0h-1.0zM456.1 343.9h1.0v1.0h-1.0zM457.4 338.5h1.0v1.0h-1.0zM455.1 339.5h1.0v1.0h-1.0zM461.2 345.3h1.0v1.0h-1.0zM457.8 336.4h1.0v1.0h-1.0zM455.5 340.2h1.0v1.0h-1.0zM450.9 341.4h1.0v1.0h-1.0zM457.9 337.2h1.0v1.0h-1.0zM455.7 340.0h1.0v1.0h-1.0zM462.8 343.7h1.0v1.0h-1.0zM459.4 341.8h1.0v1.0h-1.0zM453.0 344.5h1.0v1.0h-1.0zM454.9 335.2h1.0v1.0h-1.0zM459.3 340.4h1.0v1.0h-1.0zM457.0 343.2h1.0v1.0h-1.0zM456.3 342.8h1.0v1.0h-1.0zM461.1 340.5h1.0v1.0h-1.0zM455.9 341.6h1.0v1.0h-1.0zM459.0 340.2h1.0v1.0h-1.0zM457.3 339.3h1.0v1.0h-1.0zM456.8 343.3h1.0v1.0h-1.0zM454.4 340.9h1.0v1.0h-1.0zM452.4 339.2h1.0v1.0h-1.0zM457.3 343.2h1.0v1.0h-1.0zM453.8 341.2h1.0v1.0h-1.0zM454.1 342.5h1.0v1.0h-1.0zM457.8 343.0h1.0v1.0h-1.0zM456.4 336.9h1.0v1.0h-1.0zM455.3 337.1h1.0v1.0h-1.0zM454.9 341.3h1.0v1.0h-1.0zM460.4 339.4h1.0v1.0h-1.0zM454.6 342.2h1.0v1.0h-1.0zM452.2 344.8h1.0v1.0h-1.0zM460.1 344.6h1.0v1.0h-1.0zM456.7 343.9h1.0v1.0h-1.0zM455.9 344.6h1.0v1.0h-1.0zM455.0 338.8h1.0v1.0h-1.0zM458.2 340.0h1.0v1.0h-1.0zM459.1 338.7h1.0v1.0h-1.0zM457.8 338.3h1.0v1.0h-1.0zM453.7 337.5h1.0v1.0h-1.0zM452.0 340.8h1.0v1.0h-1.0zM462.1 340.0h1.0v1.0h-1.0zM459.9 340.9h1.0v1.0h-1.0zM460.4 335.5h1.0v1.0h-1.0zM454.0 342.8h1.0v1.0h-1.0zM459.0 340.8h1.0v1.0h-1.0zM458.0 343.3h1.0v1.0h-1.0zM455.9 344.7h1.0v1.0h-1.0zM454.4 344.0h1.0v1.0h-1.0zM459.9 342.2h1.0v1.0h-1.0zM455.9 341.4h1.0v1.0h-1.0zM450.1 342.3h1.0v1.0h-1.0zM452.6 335.0h1.0v1.0h-1.0zM459.4 338.5h1.0v1.0h-1.0zM458.1 341.7h1.0v1.0h-1.0zM451.5 338.6h1.0v1.0h-1.0zM456.2 343.0h1.0v1.0h-1.0zM457.2 337.4h1.0v1.0h-1.0zM455.4 341.8h1.0v1.0h-1.0zM453.1 340.1h1.0v1.0h-1.0zM455.3 334.6h1.0v1.0h-1.0zM462.4 344.4h1.0v1.0h-1.0zM455.6 344.6h1.0v1.0h-1.0zM453.8 346.5h1.0v1.0h-1.0zM455.9 342.0h1.0v1.0h-1.0zM455.2 341.8h1.0v1.0h-1.0zM458.0 341.6h1.0v1.0h-1.0zM454.4 344.0h1.0v1.0h-1.0zM458.7 341.5h1.0v1.0h-1.0zM460.3 339.1h1.0v1.0h-1.0zM461.0 341.0h1.0v1.0h-1.0zM461.7 340.1h1.0v1.0h-1.0zM456.2 342.2h1.0v1.0h-1.0zM460.4 346.2h1.0v1.0h-1.0zM455.6 339.1h1.0v1.0h-1.0zM459.4 345.5h1.0v1.0h-1.0zM459.2 340.4h1.0v1.0h-1.0zM461.0 341.4h1.0v1.0h-1.0zM457.5 343.5h1.0v1.0h-1.0zM455.2 334.1h1.0v1.0h-1.0zM457.7 343.8h1.0v1.0h-1.0zM458.4 343.3h1.0v1.0h-1.0zM457.5 344.9h1.0v1.0h-1.0zM457.4 346.4h1.0v1.0h-1.0zM457.2 344.1h1.0v1.0h-1.0zM455.3 342.5h1.0v1.0h-1.0zM458.3 342.0h1.0v1.0h-1.0zM461.8 341.7h1.0v1.0h-1.0zM460.5 342.6h1.0v1.0h-1.0zM460.4 338.6h1.0v1.0h-1.0zM455.9 344.6h1.0v1.0h-1.0zM454.5 342.8h1.0v1.0h-1.0zM458.8 342.1h1.0v1.0h-1.0zM458.4 343.3h1.0v1.0h-1.0zM456.3 342.8h1.0v1.0h-1.0zM455.4 340.0h1.0v1.0h-1.0zM452.1 341.2h1.0v1.0h-1.0zM451.7 341.6h1.0v1.0h-1.0zM457.7 338.0h1.0v1.0h-1.0zM457.2 342.4h1.0v1.0h-1.0zM455.9 338.5h1.0v1.0h-1.0zM456.7 342.8h1.0v1.0h-1.0zM450.9 342.6h1.0v1.0h-1.0zM458.4 339.4h1.0v1.0h-1.0zM457.4 345.9h1.0v1.0h-1.0zM460.3 340.1h1.0v1.0h-1.0zM449.8 345.3h1.0v1.0h-1.0zM461.8 335.8h1.0v1.0h-1.0zM456.4 339.2h1.0v1.0h-1.0zM457.6 341.7h1.0v1.0h-1.0zM460.5 339.6h1.0v1.0h-1.0zM463.0 335.9h1.0v1.0h-1.0zM456.7 343.6h1.0v1.0h-1.0zM459.8 340.4h1.0v1.0h-1.0zM451.1 342.2h1.0v1.0h-1.0zM459.3 334.9h1.0v1.0h-1.0zM455.5 343.3h1.0v1.0h-1.0zM449.6 340.9h1.0v1.0h-1.0zM452.1 337.1h1.0v1.0h-1.0zM458.3 345.2h1.0v1.0h-1.0zM460.6 339.4h1.0v1.0h-1.0zM458.6 335.7h1.0v1.0h-1.0zM452.4 343.3h1.0v1.0h-1.0zM455.8 338.2h1.0v1.0h-1.0zM451.2 340.7h1.0v1.0h-1.0zM463.9 334.9h1.0v1.0h-1.0zM453.8 345.2h1.0v1.0h-1.0zM451.1 339.5h1.0v1.0h-1.0zM457.2 345.2h1.0v1.0h-1.0zM456.9 341.1h1.0v1.0h-1.0zM458.4 342.6h1.0v1.0h-1.0zM452.4 338.4h1.0v1.0h-1.0zM456.3 342.6h1.0v1.0h-1.0zM453.2 339.2h1.0v1.0h-1.0zM454.7 342.6h1.0v1.0h-1.0zM455.7 343.5h1.0v1.0h-1.0zM458.2 338.5h1.0v1.0h-1.0zM456.1 337.4h1.0v1.0h-1.0zM457.3 344.1h1.0v1.0h-1.0zM453.9 335.7h1.0v1.0h-1.0zM458.6 340.6h1.0v1.0h-1.0zM456.9 343.0h1.0v1.0h-1.0zM458.2 344.5h1.0v1.0h-1.0zM455.6 334.3h1.0v1.0h-1.0zM455.5 340.5h1.0v1.0h-1.0zM455.7 342.8h1.0v1.0h-1.0zM456.2 345.7h1.0v1.0h-1.0zM455.0 341.5h1.0v1.0h-1.0zM454.0 338.2h1.0v1.0h-1.0zM455.8 344.0h1.0v1.0h-1.0zM457.0 340.9h1.0v1.0h-1.0zM452.5 334.7h1.0v1.0h-1.0zM456.3 340.7h1.0v1.0h-1.0zM462.5 342.7h1.0v1.0h-1.0zM458.3 344.7h1.0v1.0h-1.0zM454.2 337.5h1.0v1.0h-1.0zM455.9 346.4h1.0v1.0h-1.0zM460.1 339.6h1.0v1.0h-1.0zM453.1 344.5h1.0v1.0h-1.0zM460.4 337.9h1.0v1.0h-1.0zM462.0 339.0h1.0v1.0h-1.0zM459.3 340.8h1.0v1.0h-1.0zM456.0 339.5h1.0v1.0h-1.0zM459.2 343.5h1.0v1.0h-1.0zM459.5 340.6h1.0v1.0h-1.0zM462.4 340.9h1.0v1.0h-1.0zM453.4 346.4h1.0v1.0h-1.0zM457.4 341.7h1.0v1.0h-1.0zM459.7 342.7h1.0v1.0h-1.0zM451.1 343.6h1.0v1.0h-1.0zM453.9 341.7h1.0v1.0h-1.0zM456.5 342.4h1.0v1.0h-1.0zM449.5 343.8h1.0v1.0h-1.0zM464.3 340.1h1.0v1.0h-1.0zM459.8 343.6h1.0v1.0h-1.0zM457.9 339.9h1.0v1.0h-1.0zM459.0 342.4h1.0v1.0h-1.0zM461.5 344.2h1.0v1.0h-1.0zM454.8 331.9h1.0v1.0h-1.0zM461.7 343.1h1.0v1.0h-1.0zM457.5 339.5h1.0v1.0h-1.0zM464.9 345.9h1.0v1.0h-1.0zM457.3 340.3h1.0v1.0h-1.0zM458.8 346.0h1.0v1.0h-1.0z"/>
<ellipse cx="457" cy="342" rx="3.8" ry="3.6" fill="#1010e0" opacity="0.6" filter="url(#b1)"/>
<text x="5.40" y="382.20" font-size="19" font-weight="bold">E</text>
<text x="19.60" y="456.20" font-size="10.6" text-anchor="middle" transform="rotate(-90 19.60 456.20)" textLength="115" lengthAdjust="spacingAndGlyphs">Human engraftment</text>
<text x="31.20" y="453.50" font-size="10.4" text-anchor="middle" transform="rotate(-90 31.20 453.50)" textLength="139" lengthAdjust="spacingAndGlyphs">(Pre-treat normalized to 1)</text>
<line x1="62.70" y1="416.60" x2="62.70" y2="504.80" stroke="#000" stroke-width="1.9"/>
<line x1="61.80" y1="504.00" x2="133.30" y2="504.00" stroke="#000" stroke-width="1.9"/>
<line x1="59.70" y1="417.20" x2="62.70" y2="417.20" stroke="#000" stroke-width="1.5"/>
<text x="52.80" y="421.80" font-size="12.8" text-anchor="end" textLength="6.2272" lengthAdjust="spacingAndGlyphs">2</text>
<line x1="59.70" y1="438.90" x2="62.70" y2="438.90" stroke="#000" stroke-width="1.5"/>
<text x="52.80" y="443.50" font-size="12.8" text-anchor="end" textLength="15.568" lengthAdjust="spacingAndGlyphs">1.5</text>
<line x1="59.70" y1="460.60" x2="62.70" y2="460.60" stroke="#000" stroke-width="1.5"/>
<text x="52.80" y="465.20" font-size="12.8" text-anchor="end" textLength="6.2272" lengthAdjust="spacingAndGlyphs">1</text>
<line x1="59.70" y1="482.30" x2="62.70" y2="482.30" stroke="#000" stroke-width="1.5"/>
<text x="52.80" y="486.90" font-size="12.8" text-anchor="end" textLength="15.568" lengthAdjust="spacingAndGlyphs">0.5</text>
<line x1="59.70" y1="504.00" x2="62.70" y2="504.00" stroke="#000" stroke-width="1.5"/>
<text x="52.80" y="508.60" font-size="12.8" text-anchor="end" textLength="6.2272" lengthAdjust="spacingAndGlyphs">0</text>
<text x="72.70" y="395.20" font-size="13.2" textLength="30.8" lengthAdjust="spacingAndGlyphs">Blast</text>
<text x="103.90" y="398.40" font-size="8.8">naive</text>
<text x="97.75" y="411.80" font-size="10.4" text-anchor="middle">p=0.03</text>
<line x1="81.30" y1="416.30" x2="114.20" y2="416.30" stroke="#000" stroke-width="1.3"/>
<path d="M80.40,422.57 L84.15,426.70 L80.40,430.82 L76.65,426.70 Z" fill="#000"/>
<path d="M72.70,450.48 L76.45,454.60 L72.70,458.73 L68.95,454.60 Z" fill="#000"/>
<path d="M89.00,452.88 L92.75,457.00 L89.00,461.12 L85.25,457.00 Z" fill="#000"/>
<path d="M80.40,461.88 L84.15,466.00 L80.40,470.12 L76.65,466.00 Z" fill="#000"/>
<path d="M80.40,466.68 L84.15,470.80 L80.40,474.93 L76.65,470.80 Z" fill="#000"/>
<line x1="68.80" y1="453.90" x2="92.60" y2="453.90" stroke="#000" stroke-width="1.9"/>
<path d="M108.30,478.57 L112.05,482.70 L108.30,486.82 L104.55,482.70 Z" fill="#000"/>
<path d="M116.90,478.57 L120.65,482.70 L116.90,486.82 L113.15,482.70 Z" fill="#000"/>
<path d="M125.60,477.18 L129.35,481.30 L125.60,485.43 L121.85,481.30 Z" fill="#000"/>
<path d="M116.90,486.88 L120.65,491.00 L116.90,495.12 L113.15,491.00 Z" fill="#000"/>
<path d="M116.90,455.07 L120.65,459.20 L116.90,463.32 L113.15,459.20 Z" fill="#000"/>
<line x1="105.00" y1="478.20" x2="128.80" y2="478.20" stroke="#000" stroke-width="1.9"/>
<text x="73.10" y="514.60" font-size="11.4" transform="rotate(55 73.10 514.60)">Vehicle</text>
<text x="106.30" y="514.00" font-size="11.4" transform="rotate(53 106.30 514.00)">Sorafenib</text>
<line x1="169.80" y1="416.60" x2="169.80" y2="504.80" stroke="#000" stroke-width="1.9"/>
<line x1="168.90" y1="504.00" x2="240.40" y2="504.00" stroke="#000" stroke-width="1.9"/>
<line x1="166.80" y1="417.20" x2="169.80" y2="417.20" stroke="#000" stroke-width="1.5"/>
<text x="160.80" y="421.80" font-size="12.8" text-anchor="end" textLength="6.2272" lengthAdjust="spacingAndGlyphs">2</text>
<line x1="166.80" y1="438.90" x2="169.80" y2="438.90" stroke="#000" stroke-width="1.5"/>
<text x="160.80" y="443.50" font-size="12.8" text-anchor="end" textLength="15.568" lengthAdjust="spacingAndGlyphs">1.5</text>
<line x1="166.80" y1="460.60" x2="169.80" y2="460.60" stroke="#000" stroke-width="1.5"/>
<text x="160.80" y="465.20" font-size="12.8" text-anchor="end" textLength="6.2272" lengthAdjust="spacingAndGlyphs">1</text>
<line x1="166.80" y1="482.30" x2="169.80" y2="482.30" stroke="#000" stroke-width="1.5"/>
<text x="160.80" y="486.90" font-size="12.8" text-anchor="end" textLength="15.568" lengthAdjust="spacingAndGlyphs">0.5</text>
<line x1="166.80" y1="504.00" x2="169.80" y2="504.00" stroke="#000" stroke-width="1.5"/>
<text x="160.80" y="508.60" font-size="12.8" text-anchor="end" textLength="6.2272" lengthAdjust="spacingAndGlyphs">0</text>
<text x="177.20" y="395.20" font-size="13.2" textLength="30.8" lengthAdjust="spacingAndGlyphs">Blast</text>
<text x="208.40" y="398.40" font-size="8.8">resist</text>
<text x="205.40" y="412.50" font-size="10.4" text-anchor="middle">p=0.94</text>
<line x1="186.20" y1="416.30" x2="224.60" y2="416.30" stroke="#000" stroke-width="1.3"/>
<path d="M180.40,455.48 L184.15,459.60 L180.40,463.73 L176.65,459.60 Z" fill="#000"/>
<path d="M189.00,449.38 L192.75,453.50 L189.00,457.62 L185.25,453.50 Z" fill="#000"/>
<path d="M189.00,457.88 L192.75,462.00 L189.00,466.12 L185.25,462.00 Z" fill="#000"/>
<path d="M197.70,453.18 L201.45,457.30 L197.70,461.43 L193.95,457.30 Z" fill="#000"/>
<line x1="177.50" y1="457.70" x2="201.20" y2="457.70" stroke="#000" stroke-width="1.9"/>
<path d="M224.00,433.88 L227.75,438.00 L224.00,442.12 L220.25,438.00 Z" fill="#000"/>
<path d="M216.50,459.38 L220.25,463.50 L216.50,467.62 L212.75,463.50 Z" fill="#000"/>
<path d="M224.00,460.88 L227.75,465.00 L224.00,469.12 L220.25,465.00 Z" fill="#000"/>
<path d="M232.30,458.88 L236.05,463.00 L232.30,467.12 L228.55,463.00 Z" fill="#000"/>
<line x1="212.70" y1="457.30" x2="236.20" y2="457.30" stroke="#000" stroke-width="1.9"/>
<text x="180.20" y="514.60" font-size="11.4" transform="rotate(55 180.20 514.60)">Vehicle</text>
<text x="213.40" y="514.00" font-size="11.4" transform="rotate(53 213.40 514.00)">Sorafenib</text>
<text x="264.20" y="384.30" font-size="19" font-weight="bold">F</text>
<text x="276.00" y="452.80" font-size="11.8" text-anchor="middle" transform="rotate(-90 276.00 452.80)" textLength="99" lengthAdjust="spacingAndGlyphs">% of CD11b/CD45</text>
<line x1="322.60" y1="403.70" x2="322.60" y2="509.00" stroke="#000" stroke-width="1.9"/>
<line x1="321.70" y1="508.30" x2="393.10" y2="508.30" stroke="#000" stroke-width="2.0"/>
<line x1="322.60" y1="508.30" x2="322.60" y2="511.20" stroke="#000" stroke-width="1.4"/>
<line x1="357.85" y1="508.30" x2="357.85" y2="511.20" stroke="#000" stroke-width="1.4"/>
<line x1="393.10" y1="508.30" x2="393.10" y2="511.20" stroke="#000" stroke-width="1.4"/>
<line x1="319.80" y1="508.30" x2="322.60" y2="508.30" stroke="#000" stroke-width="1.4"/>
<text x="312.40" y="511.90" font-size="9.8" text-anchor="end" fill="#222" textLength="13.727500000000001" lengthAdjust="spacingAndGlyphs">0%</text>
<line x1="319.80" y1="491.00" x2="322.60" y2="491.00" stroke="#000" stroke-width="1.4"/>
<text x="312.40" y="494.60" font-size="9.8" text-anchor="end" fill="#222" textLength="19.009500000000003" lengthAdjust="spacingAndGlyphs">20%</text>
<line x1="319.80" y1="473.70" x2="322.60" y2="473.70" stroke="#000" stroke-width="1.4"/>
<text x="312.40" y="477.30" font-size="9.8" text-anchor="end" fill="#222" textLength="19.009500000000003" lengthAdjust="spacingAndGlyphs">40%</text>
<line x1="319.80" y1="456.40" x2="322.60" y2="456.40" stroke="#000" stroke-width="1.4"/>
<text x="312.40" y="460.00" font-size="9.8" text-anchor="end" fill="#222" textLength="19.009500000000003" lengthAdjust="spacingAndGlyphs">60%</text>
<line x1="319.80" y1="439.10" x2="322.60" y2="439.10" stroke="#000" stroke-width="1.4"/>
<text x="312.40" y="442.70" font-size="9.8" text-anchor="end" fill="#222" textLength="19.009500000000003" lengthAdjust="spacingAndGlyphs">80%</text>
<line x1="319.80" y1="421.80" x2="322.60" y2="421.80" stroke="#000" stroke-width="1.4"/>
<text x="312.40" y="425.40" font-size="9.8" text-anchor="end" fill="#222" textLength="24.291500000000003" lengthAdjust="spacingAndGlyphs">100%</text>
<line x1="319.80" y1="404.50" x2="322.60" y2="404.50" stroke="#000" stroke-width="1.4"/>
<text x="312.40" y="408.10" font-size="9.8" text-anchor="end" fill="#222" textLength="24.291500000000003" lengthAdjust="spacingAndGlyphs">120%</text>
<text x="338.50" y="528.80" font-size="10.2" text-anchor="middle" fill="#111">Before</text>
<text x="374.80" y="528.80" font-size="10.2" text-anchor="middle" fill="#111">After</text>
<text x="351.50" y="384.00" font-size="11.5" text-anchor="middle" textLength="38.5" lengthAdjust="spacingAndGlyphs">Vehicle</text>
<line x1="332.25" y1="385.60" x2="370.75" y2="385.60" stroke="#444" stroke-width="0.9"/>
<text x="351.70" y="404.40" font-size="10.6" text-anchor="middle" textLength="38.8" lengthAdjust="spacingAndGlyphs">p=0.935</text>
<line x1="332.30" y1="406.20" x2="371.10" y2="406.20" stroke="#444" stroke-width="0.9"/>
<path d="M340.50,456.40 L374.90,435.64" stroke="#000" stroke-width="2.0" fill="none"/>
<circle cx="340.50" cy="456.40" r="3.90" fill="#000"/>
<circle cx="374.90" cy="435.64" r="3.90" fill="#000"/>
<path d="M340.50,465.05 L374.90,485.81" stroke="#000" stroke-width="2.0" fill="none"/>
<path d="M340.50,460.55 L345.00,468.65 L336.00,468.65 Z" fill="#000"/>
<path d="M374.90,481.31 L379.40,489.41 L370.40,489.41 Z" fill="#000"/>
<path d="M340.50,471.11 L374.90,490.13" stroke="#000" stroke-width="2.0" fill="none"/>
<rect x="336.70" y="467.31" width="7.60" height="7.60" fill="#000"/>
<rect x="371.10" y="486.33" width="7.60" height="7.60" fill="#000"/>
<path d="M340.50,492.73 L374.90,479.75" stroke="#000" stroke-width="2.0" fill="none"/>
<path d="M340.50,488.66 L344.20,492.73 L340.50,496.80 L336.80,492.73 Z" fill="#000"/>
<path d="M374.90,475.69 L378.60,479.75 L374.90,483.82 L371.20,479.75 Z" fill="#000"/>
<path d="M340.50,507.00 L374.90,506.57" stroke="#000" stroke-width="2.0" fill="none"/>
<line x1="336.90" y1="502.80" x2="344.10" y2="510.00" stroke="#000" stroke-width="1.0"/>
<line x1="336.90" y1="510.00" x2="344.10" y2="502.80" stroke="#000" stroke-width="1.0"/>
<line x1="371.30" y1="502.37" x2="378.50" y2="509.57" stroke="#000" stroke-width="1.0"/>
<line x1="371.30" y1="509.57" x2="378.50" y2="502.37" stroke="#000" stroke-width="1.0"/>
<line x1="430.80" y1="403.70" x2="430.80" y2="509.00" stroke="#000" stroke-width="1.9"/>
<line x1="429.90" y1="508.30" x2="502.30" y2="508.30" stroke="#000" stroke-width="2.0"/>
<line x1="430.80" y1="508.30" x2="430.80" y2="511.20" stroke="#000" stroke-width="1.4"/>
<line x1="466.55" y1="508.30" x2="466.55" y2="511.20" stroke="#000" stroke-width="1.4"/>
<line x1="502.30" y1="508.30" x2="502.30" y2="511.20" stroke="#000" stroke-width="1.4"/>
<line x1="428.00" y1="508.30" x2="430.80" y2="508.30" stroke="#000" stroke-width="1.4"/>
<text x="420.40" y="511.90" font-size="9.8" text-anchor="end" fill="#222" textLength="13.727500000000001" lengthAdjust="spacingAndGlyphs">0%</text>
<line x1="428.00" y1="491.00" x2="430.80" y2="491.00" stroke="#000" stroke-width="1.4"/>
<text x="420.40" y="494.60" font-size="9.8" text-anchor="end" fill="#222" textLength="19.009500000000003" lengthAdjust="spacingAndGlyphs">20%</text>
<line x1="428.00" y1="473.70" x2="430.80" y2="473.70" stroke="#000" stroke-width="1.4"/>
<text x="420.40" y="477.30" font-size="9.8" text-anchor="end" fill="#222" textLength="19.009500000000003" lengthAdjust="spacingAndGlyphs">40%</text>
<line x1="428.00" y1="456.40" x2="430.80" y2="456.40" stroke="#000" stroke-width="1.4"/>
<text x="420.40" y="460.00" font-size="9.8" text-anchor="end" fill="#222" textLength="19.009500000000003" lengthAdjust="spacingAndGlyphs">60%</text>
<line x1="428.00" y1="439.10" x2="430.80" y2="439.10" stroke="#000" stroke-width="1.4"/>
<text x="420.40" y="442.70" font-size="9.8" text-anchor="end" fill="#222" textLength="19.009500000000003" lengthAdjust="spacingAndGlyphs">80%</text>
<line x1="428.00" y1="421.80" x2="430.80" y2="421.80" stroke="#000" stroke-width="1.4"/>
<text x="420.40" y="425.40" font-size="9.8" text-anchor="end" fill="#222" textLength="24.291500000000003" lengthAdjust="spacingAndGlyphs">100%</text>
<line x1="428.00" y1="404.50" x2="430.80" y2="404.50" stroke="#000" stroke-width="1.4"/>
<text x="420.40" y="408.10" font-size="9.8" text-anchor="end" fill="#222" textLength="24.291500000000003" lengthAdjust="spacingAndGlyphs">120%</text>
<text x="448.60" y="528.80" font-size="10.2" text-anchor="middle" fill="#111">Before</text>
<text x="482.50" y="528.80" font-size="10.2" text-anchor="middle" fill="#111">After</text>
<text x="463.50" y="384.00" font-size="11.5" text-anchor="middle" textLength="50.7" lengthAdjust="spacingAndGlyphs">Sorafenib</text>
<line x1="438.15" y1="385.60" x2="488.85" y2="385.60" stroke="#444" stroke-width="0.9"/>
<text x="465.50" y="404.40" font-size="10.6" text-anchor="middle" textLength="38.8" lengthAdjust="spacingAndGlyphs">p=0.025</text>
<line x1="446.10" y1="406.20" x2="484.90" y2="406.20" stroke="#444" stroke-width="0.9"/>
<path d="M448.60,447.75 L483.70,413.58" stroke="#000" stroke-width="2.0" fill="none"/>
<circle cx="448.60" cy="447.75" r="3.90" fill="#000"/>
<circle cx="483.70" cy="413.58" r="3.90" fill="#000"/>
<path d="M448.60,488.41 L483.70,451.21" stroke="#000" stroke-width="2.0" fill="none"/>
<path d="M448.60,483.91 L453.10,492.01 L444.10,492.01 Z" fill="#000"/>
<path d="M483.70,446.71 L488.20,454.81 L479.20,454.81 Z" fill="#000"/>
<path d="M448.60,491.00 L483.70,471.97" stroke="#000" stroke-width="2.0" fill="none"/>
<path d="M448.60,486.93 L452.30,491.00 L448.60,495.07 L444.90,491.00 Z" fill="#000"/>
<path d="M483.70,467.90 L487.40,471.97 L483.70,476.04 L480.00,471.97 Z" fill="#000"/>
<path d="M448.60,499.65 L483.70,494.46" stroke="#000" stroke-width="2.0" fill="none"/>
<rect x="444.80" y="495.85" width="7.60" height="7.60" fill="#000"/>
<rect x="479.90" y="490.66" width="7.60" height="7.60" fill="#000"/>
<path d="M448.60,508.30 L483.70,496.19" stroke="#000" stroke-width="2.0" fill="none"/>
<line x1="445.00" y1="504.10" x2="452.20" y2="511.30" stroke="#000" stroke-width="1.0"/>
<line x1="445.00" y1="511.30" x2="452.20" y2="504.10" stroke="#000" stroke-width="1.0"/>
<line x1="480.10" y1="491.99" x2="487.30" y2="499.19" stroke="#000" stroke-width="1.0"/>
<line x1="480.10" y1="499.19" x2="487.30" y2="491.99" stroke="#000" stroke-width="1.0"/>
<text x="4.90" y="579.40" font-size="18.6" font-weight="bold" textLength="15" lengthAdjust="spacingAndGlyphs">G</text>
<text x="74.00" y="575.80" font-size="10.4" text-anchor="middle" textLength="34.6" lengthAdjust="spacingAndGlyphs">Vehicle</text>
<text x="152.10" y="574.80" font-size="10.4" text-anchor="middle" textLength="45.8" lengthAdjust="spacingAndGlyphs">Sorafenib</text>
<text x="3.80" y="614.80" font-size="10.5" textLength="27.5" lengthAdjust="spacingAndGlyphs">AML4</text>
<text x="3.80" y="701.20" font-size="10.5" textLength="27" lengthAdjust="spacingAndGlyphs">AML7</text>
<rect x="116.20" y="579.50" width="67.50" height="78.70" fill="#fefbf6"/>
<ellipse cx="178" cy="588" rx="4" ry="3" fill="#f6e6d2" filter="url(#b1)"/>
<ellipse cx="52.4" cy="588.4" rx="6.2" ry="6.4" transform="rotate(137 52.4 588.4)" fill="url(#gv)" filter="url(#b04)"/>
<ellipse cx="52.3" cy="590.3" rx="1.5" ry="0.9" transform="rotate(81 52.3 590.3)" fill="#9a78cc" opacity="0.5" filter="url(#b05)"/>
<ellipse cx="50.9" cy="586.2" rx="1.5" ry="0.9" transform="rotate(17 50.9 586.2)" fill="#9a78cc" opacity="0.5" filter="url(#b05)"/>
<ellipse cx="55.1" cy="588.9" rx="1.5" ry="0.9" transform="rotate(78 55.1 588.9)" fill="#9a78cc" opacity="0.5" filter="url(#b05)"/>
<ellipse cx="52.5" cy="587.1" rx="1.9" ry="1.2" fill="#4a2684" opacity="0.45" filter="url(#b05)"/>
<ellipse cx="49.9" cy="589.3" rx="1.9" ry="1.2" fill="#4a2684" opacity="0.45" filter="url(#b05)"/>
<ellipse cx="60.7" cy="601.6" rx="5.8" ry="5.6" transform="rotate(10 60.7 601.6)" fill="url(#gv)" filter="url(#b04)"/>
<ellipse cx="62.8" cy="602.8" rx="1.3" ry="0.8" transform="rotate(132 62.8 602.8)" fill="#9a78cc" opacity="0.5" filter="url(#b05)"/>
<ellipse cx="60.1" cy="600.5" rx="1.3" ry="0.8" transform="rotate(109 60.1 600.5)" fill="#9a78cc" opacity="0.5" filter="url(#b05)"/>
<ellipse cx="59.3" cy="600.5" rx="1.3" ry="0.8" transform="rotate(29 59.3 600.5)" fill="#9a78cc" opacity="0.5" filter="url(#b05)"/>
<ellipse cx="59.1" cy="602.3" rx="1.6" ry="1.0" fill="#4a2684" opacity="0.45" filter="url(#b05)"/>
<ellipse cx="60.2" cy="598.9" rx="1.6" ry="1.0" fill="#4a2684" opacity="0.45" filter="url(#b05)"/>
<ellipse cx="85.9" cy="594.5" rx="6.1" ry="6.1" transform="rotate(67 85.9 594.5)" fill="url(#gv)" filter="url(#b04)"/>
<ellipse cx="84.1" cy="593.2" rx="1.5" ry="0.9" transform="rotate(12 84.1 593.2)" fill="#9a78cc" opacity="0.5" filter="url(#b05)"/>
<ellipse cx="88.6" cy="594.7" rx="1.5" ry="0.9" transform="rotate(47 88.6 594.7)" fill="#9a78cc" opacity="0.5" filter="url(#b05)"/>
<ellipse cx="86.2" cy="597.6" rx="1.5" ry="0.9" transform="rotate(85 86.2 597.6)" fill="#9a78cc" opacity="0.5" filter="url(#b05)"/>
<ellipse cx="87.0" cy="592.6" rx="1.9" ry="1.1" fill="#4a2684" opacity="0.45" filter="url(#b05)"/>
<ellipse cx="84.9" cy="593.3" rx="1.9" ry="1.1" fill="#4a2684" opacity="0.45" filter="url(#b05)"/>
<ellipse cx="62.5" cy="619.8" rx="7.2" ry="6.9" transform="rotate(71 62.5 619.8)" fill="url(#gv)" filter="url(#b04)"/>
<ellipse cx="63.0" cy="620.6" rx="1.8" ry="1.0" transform="rotate(72 63.0 620.6)" fill="#9a78cc" opacity="0.5" filter="url(#b05)"/>
<ellipse cx="65.2" cy="618.3" rx="1.8" ry="1.0" transform="rotate(138 65.2 618.3)" fill="#9a78cc" opacity="0.5" filter="url(#b05)"/>
<ellipse cx="62.9" cy="622.1" rx="1.8" ry="1.0" transform="rotate(50 62.9 622.1)" fill="#9a78cc" opacity="0.5" filter="url(#b05)"/>
<ellipse cx="63.3" cy="621.3" rx="2.2" ry="1.3" fill="#4a2684" opacity="0.45" filter="url(#b05)"/>
<ellipse cx="63.3" cy="623.3" rx="2.2" ry="1.3" fill="#4a2684" opacity="0.45" filter="url(#b05)"/>
<ellipse cx="74.3" cy="617.2" rx="4.7" ry="4.6" transform="rotate(143 74.3 617.2)" fill="url(#gv)" filter="url(#b04)"/>
<ellipse cx="76.0" cy="616.6" rx="1.1" ry="0.6" transform="rotate(166 76.0 616.6)" fill="#9a78cc" opacity="0.5" filter="url(#b05)"/>
<ellipse cx="75.6" cy="617.4" rx="1.1" ry="0.6" transform="rotate(170 75.6 617.4)" fill="#9a78cc" opacity="0.5" filter="url(#b05)"/>
<ellipse cx="73.0" cy="615.5" rx="1.1" ry="0.6" transform="rotate(20 73.0 615.5)" fill="#9a78cc" opacity="0.5" filter="url(#b05)"/>
<ellipse cx="73.1" cy="617.4" rx="1.4" ry="0.8" fill="#4a2684" opacity="0.45" filter="url(#b05)"/>
<ellipse cx="72.7" cy="616.7" rx="1.4" ry="0.8" fill="#4a2684" opacity="0.45" filter="url(#b05)"/>
<ellipse cx="52.1" cy="640.7" rx="5.4" ry="5.2" transform="rotate(87 52.1 640.7)" fill="url(#gv)" filter="url(#b04)"/>
<ellipse cx="52.1" cy="641.2" rx="1.2" ry="0.7" transform="rotate(119 52.1 641.2)" fill="#9a78cc" opacity="0.5" filter="url(#b05)"/>
<ellipse cx="50.0" cy="641.1" rx="1.2" ry="0.7" transform="rotate(67 50.0 641.1)" fill="#9a78cc" opacity="0.5" filter="url(#b05)"/>
<ellipse cx="52.2" cy="639.6" rx="1.2" ry="0.7" transform="rotate(144 52.2 639.6)" fill="#9a78cc" opacity="0.5" filter="url(#b05)"/>
<ellipse cx="51.9" cy="639.0" rx="1.6" ry="0.9" fill="#4a2684" opacity="0.45" filter="url(#b05)"/>
<ellipse cx="50.1" cy="640.2" rx="1.6" ry="0.9" fill="#4a2684" opacity="0.45" filter="url(#b05)"/>
<ellipse cx="97.4" cy="636.9" rx="5.9" ry="5.6" transform="rotate(117 97.4 636.9)" fill="url(#gv)" filter="url(#b04)"/>
<ellipse cx="99.1" cy="637.7" rx="1.4" ry="0.8" transform="rotate(66 99.1 637.7)" fill="#9a78cc" opacity="0.5" filter="url(#b05)"/>
<ellipse cx="99.1" cy="637.5" rx="1.4" ry="0.8" transform="rotate(7 99.1 637.5)" fill="#9a78cc" opacity="0.5" filter="url(#b05)"/>
<ellipse cx="96.7" cy="637.2" rx="1.4" ry="0.8" transform="rotate(16 96.7 637.2)" fill="#9a78cc" opacity="0.5" filter="url(#b05)"/>
<ellipse cx="95.0" cy="638.1" rx="1.8" ry="1.1" fill="#4a2684" opacity="0.45" filter="url(#b05)"/>
<ellipse cx="98.5" cy="638.0" rx="1.8" ry="1.1" fill="#4a2684" opacity="0.45" filter="url(#b05)"/>
<ellipse cx="126.1" cy="614.1" rx="7.2" ry="7.0" fill="url(#gs)" filter="url(#b04)"/>
<ellipse cx="124.1" cy="614.5" rx="3.7" ry="2.2" transform="rotate(91 124.1 614.5)" fill="#62248a" opacity="0.85" filter="url(#b05)"/>
<ellipse cx="127.9" cy="613.1" rx="3.7" ry="2.2" transform="rotate(33 127.9 613.1)" fill="#62248a" opacity="0.85" filter="url(#b05)"/>
<ellipse cx="127.0" cy="615.9" rx="3.7" ry="2.2" transform="rotate(113 127.0 615.9)" fill="#62248a" opacity="0.85" filter="url(#b05)"/>
<ellipse cx="163.0" cy="628.0" rx="6.2" ry="6.1" fill="url(#gs)" filter="url(#b04)"/>
<ellipse cx="163.8" cy="629.6" rx="3.4" ry="1.9" transform="rotate(24 163.8 629.6)" fill="#62248a" opacity="0.85" filter="url(#b05)"/>
<ellipse cx="163.5" cy="626.3" rx="3.4" ry="1.9" transform="rotate(75 163.5 626.3)" fill="#62248a" opacity="0.85" filter="url(#b05)"/>
<ellipse cx="164.3" cy="626.8" rx="3.4" ry="1.9" transform="rotate(71 164.3 626.8)" fill="#62248a" opacity="0.85" filter="url(#b05)"/>
<ellipse cx="154.4" cy="628.8" rx="9.2" ry="8.8" fill="url(#gs)" filter="url(#b04)"/>
<ellipse cx="153.8" cy="631.3" rx="4.8" ry="2.8" transform="rotate(92 153.8 631.3)" fill="#62248a" opacity="0.85" filter="url(#b05)"/>
<ellipse cx="153.3" cy="626.5" rx="4.8" ry="2.8" transform="rotate(75 153.3 626.5)" fill="#62248a" opacity="0.85" filter="url(#b05)"/>
<ellipse cx="152.8" cy="626.8" rx="4.8" ry="2.8" transform="rotate(19 152.8 626.8)" fill="#62248a" opacity="0.85" filter="url(#b05)"/>
<ellipse cx="163.0" cy="641.3" rx="7.8" ry="7.4" fill="url(#gs)" filter="url(#b04)"/>
<ellipse cx="161.8" cy="639.5" rx="4.1" ry="2.3" transform="rotate(38 161.8 639.5)" fill="#62248a" opacity="0.85" filter="url(#b05)"/>
<ellipse cx="161.2" cy="640.1" rx="4.1" ry="2.3" transform="rotate(71 161.2 640.1)" fill="#62248a" opacity="0.85" filter="url(#b05)"/>
<ellipse cx="162.2" cy="643.3" rx="4.1" ry="2.3" transform="rotate(178 162.2 643.3)" fill="#62248a" opacity="0.85" filter="url(#b05)"/>
<ellipse cx="175.6" cy="632.7" rx="7.2" ry="7.1" fill="url(#gs)" filter="url(#b04)"/>
<ellipse cx="174.7" cy="630.8" rx="4.0" ry="2.3" transform="rotate(25 174.7 630.8)" fill="#62248a" opacity="0.85" filter="url(#b05)"/>
<ellipse cx="173.6" cy="633.4" rx="4.0" ry="2.3" transform="rotate(42 173.6 633.4)" fill="#62248a" opacity="0.85" filter="url(#b05)"/>
<ellipse cx="173.7" cy="633.7" rx="4.0" ry="2.3" transform="rotate(27 173.7 633.7)" fill="#62248a" opacity="0.85" filter="url(#b05)"/>
<ellipse cx="168.8" cy="623.0" rx="6.9" ry="6.8" fill="url(#gs)" filter="url(#b04)"/>
<ellipse cx="170.4" cy="621.8" rx="3.7" ry="2.2" transform="rotate(89 170.4 621.8)" fill="#62248a" opacity="0.85" filter="url(#b05)"/>
<ellipse cx="170.7" cy="623.7" rx="3.7" ry="2.2" transform="rotate(18 170.7 623.7)" fill="#62248a" opacity="0.85" filter="url(#b05)"/>
<ellipse cx="169.7" cy="624.8" rx="3.7" ry="2.2" transform="rotate(152 169.7 624.8)" fill="#62248a" opacity="0.85" filter="url(#b05)"/>
<ellipse cx="155.4" cy="614.9" rx="7.0" ry="6.9" fill="url(#gs)" filter="url(#b04)"/>
<ellipse cx="155.1" cy="616.8" rx="3.6" ry="2.1" transform="rotate(117 155.1 616.8)" fill="#62248a" opacity="0.85" filter="url(#b05)"/>
<ellipse cx="155.7" cy="616.8" rx="3.6" ry="2.1" transform="rotate(164 155.7 616.8)" fill="#62248a" opacity="0.85" filter="url(#b05)"/>
<ellipse cx="156.6" cy="613.4" rx="3.6" ry="2.1" transform="rotate(117 156.6 613.4)" fill="#62248a" opacity="0.85" filter="url(#b05)"/>
<ellipse cx="166.4" cy="613.9" rx="6.8" ry="6.7" fill="url(#gs)" filter="url(#b04)"/>
<ellipse cx="167.9" cy="612.8" rx="3.5" ry="2.0" transform="rotate(159 167.9 612.8)" fill="#62248a" opacity="0.85" filter="url(#b05)"/>
<ellipse cx="165.8" cy="612.1" rx="3.5" ry="2.0" transform="rotate(171 165.8 612.1)" fill="#62248a" opacity="0.85" filter="url(#b05)"/>
<ellipse cx="168.0" cy="614.9" rx="3.5" ry="2.0" transform="rotate(55 168.0 614.9)" fill="#62248a" opacity="0.85" filter="url(#b05)"/>
<ellipse cx="62.5" cy="684.4" rx="6.3" ry="5.5" transform="rotate(132 62.5 684.4)" fill="url(#gv)" filter="url(#b04)"/>
<ellipse cx="64.1" cy="686.9" rx="1.4" ry="0.8" transform="rotate(3 64.1 686.9)" fill="#9a78cc" opacity="0.5" filter="url(#b05)"/>
<ellipse cx="64.1" cy="682.9" rx="1.4" ry="0.8" transform="rotate(154 64.1 682.9)" fill="#9a78cc" opacity="0.5" filter="url(#b05)"/>
<ellipse cx="63.7" cy="684.4" rx="1.4" ry="0.8" transform="rotate(61 63.7 684.4)" fill="#9a78cc" opacity="0.5" filter="url(#b05)"/>
<ellipse cx="62.1" cy="682.8" rx="1.8" ry="1.1" fill="#4a2684" opacity="0.45" filter="url(#b05)"/>
<ellipse cx="62.4" cy="686.0" rx="1.8" ry="1.1" fill="#4a2684" opacity="0.45" filter="url(#b05)"/>
<ellipse cx="50.0" cy="693.5" rx="5.9" ry="5.8" transform="rotate(75 50.0 693.5)" fill="url(#gv)" filter="url(#b04)"/>
<ellipse cx="48.5" cy="694.0" rx="1.4" ry="0.8" transform="rotate(118 48.5 694.0)" fill="#9a78cc" opacity="0.5" filter="url(#b05)"/>
<ellipse cx="49.9" cy="695.6" rx="1.4" ry="0.8" transform="rotate(2 49.9 695.6)" fill="#9a78cc" opacity="0.5" filter="url(#b05)"/>
<ellipse cx="49.6" cy="694.8" rx="1.4" ry="0.8" transform="rotate(26 49.6 694.8)" fill="#9a78cc" opacity="0.5" filter="url(#b05)"/>
<ellipse cx="49.9" cy="691.7" rx="1.8" ry="1.1" fill="#4a2684" opacity="0.45" filter="url(#b05)"/>
<ellipse cx="50.7" cy="690.7" rx="1.8" ry="1.1" fill="#4a2684" opacity="0.45" filter="url(#b05)"/>
<ellipse cx="55.8" cy="710.4" rx="7.5" ry="7.5" transform="rotate(173 55.8 710.4)" fill="url(#gv)" filter="url(#b04)"/>
<ellipse cx="55.1" cy="713.4" rx="1.8" ry="1.1" transform="rotate(127 55.1 713.4)" fill="#9a78cc" opacity="0.5" filter="url(#b05)"/>
<ellipse cx="55.2" cy="709.5" rx="1.8" ry="1.1" transform="rotate(5 55.2 709.5)" fill="#9a78cc" opacity="0.5" filter="url(#b05)"/>
<ellipse cx="53.6" cy="712.4" rx="1.8" ry="1.1" transform="rotate(45 53.6 712.4)" fill="#9a78cc" opacity="0.5" filter="url(#b05)"/>
<ellipse cx="53.6" cy="710.4" rx="2.2" ry="1.3" fill="#4a2684" opacity="0.45" filter="url(#b05)"/>
<ellipse cx="57.9" cy="707.4" rx="2.2" ry="1.3" fill="#4a2684" opacity="0.45" filter="url(#b05)"/>
<ellipse cx="69.2" cy="707.5" rx="6.8" ry="6.9" transform="rotate(60 69.2 707.5)" fill="url(#gv)" filter="url(#b04)"/>
<ellipse cx="69.9" cy="709.5" rx="1.7" ry="1.0" transform="rotate(89 69.9 709.5)" fill="#9a78cc" opacity="0.5" filter="url(#b05)"/>
<ellipse cx="67.2" cy="707.8" rx="1.7" ry="1.0" transform="rotate(48 67.2 707.8)" fill="#9a78cc" opacity="0.5" filter="url(#b05)"/>
<ellipse cx="69.1" cy="710.1" rx="1.7" ry="1.0" transform="rotate(58 69.1 710.1)" fill="#9a78cc" opacity="0.5" filter="url(#b05)"/>
<ellipse cx="67.8" cy="704.8" rx="2.1" ry="1.3" fill="#4a2684" opacity="0.45" filter="url(#b05)"/>
<ellipse cx="71.4" cy="705.0" rx="2.1" ry="1.3" fill="#4a2684" opacity="0.45" filter="url(#b05)"/>
<ellipse cx="53.8" cy="730.6" rx="5.9" ry="5.8" transform="rotate(94 53.8 730.6)" fill="url(#gv)" filter="url(#b04)"/>
<ellipse cx="52.3" cy="730.5" rx="1.4" ry="0.8" transform="rotate(179 52.3 730.5)" fill="#9a78cc" opacity="0.5" filter="url(#b05)"/>
<ellipse cx="53.6" cy="731.5" rx="1.4" ry="0.8" transform="rotate(47 53.6 731.5)" fill="#9a78cc" opacity="0.5" filter="url(#b05)"/>
<ellipse cx="53.7" cy="731.9" rx="1.4" ry="0.8" transform="rotate(48 53.7 731.9)" fill="#9a78cc" opacity="0.5" filter="url(#b05)"/>
<ellipse cx="55.1" cy="731.7" rx="1.7" ry="1.0" fill="#4a2684" opacity="0.45" filter="url(#b05)"/>
<ellipse cx="53.0" cy="732.6" rx="1.7" ry="1.0" fill="#4a2684" opacity="0.45" filter="url(#b05)"/>
<ellipse cx="100.6" cy="676.6" rx="6.2" ry="5.9" transform="rotate(138 100.6 676.6)" fill="url(#gv)" filter="url(#b04)"/>
<ellipse cx="101.6" cy="675.9" rx="1.4" ry="0.8" transform="rotate(114 101.6 675.9)" fill="#9a78cc" opacity="0.5" filter="url(#b05)"/>
<ellipse cx="102.8" cy="675.1" rx="1.4" ry="0.8" transform="rotate(103 102.8 675.1)" fill="#9a78cc" opacity="0.5" filter="url(#b05)"/>
<ellipse cx="101.4" cy="678.0" rx="1.4" ry="0.8" transform="rotate(179 101.4 678.0)" fill="#9a78cc" opacity="0.5" filter="url(#b05)"/>
<ellipse cx="102.0" cy="677.7" rx="1.8" ry="1.1" fill="#4a2684" opacity="0.45" filter="url(#b05)"/>
<ellipse cx="102.5" cy="676.0" rx="1.8" ry="1.1" fill="#4a2684" opacity="0.45" filter="url(#b05)"/>
<ellipse cx="96.2" cy="712.7" rx="5.8" ry="5.9" transform="rotate(114 96.2 712.7)" fill="url(#gv)" filter="url(#b04)"/>
<ellipse cx="95.1" cy="712.8" rx="1.4" ry="0.8" transform="rotate(143 95.1 712.8)" fill="#9a78cc" opacity="0.5" filter="url(#b05)"/>
<ellipse cx="96.8" cy="711.0" rx="1.4" ry="0.8" transform="rotate(91 96.8 711.0)" fill="#9a78cc" opacity="0.5" filter="url(#b05)"/>
<ellipse cx="96.3" cy="713.3" rx="1.4" ry="0.8" transform="rotate(67 96.3 713.3)" fill="#9a78cc" opacity="0.5" filter="url(#b05)"/>
<ellipse cx="95.1" cy="712.0" rx="1.8" ry="1.1" fill="#4a2684" opacity="0.45" filter="url(#b05)"/>
<ellipse cx="96.6" cy="711.1" rx="1.8" ry="1.1" fill="#4a2684" opacity="0.45" filter="url(#b05)"/>
<ellipse cx="63.1" cy="694.2" rx="5.2" ry="4.9" fill="url(#gd)" filter="url(#b04)"/>
<ellipse cx="134.5" cy="687.6" rx="5.1" ry="5.2" fill="url(#gd)" filter="url(#b04)"/>
<clipPath id="cpg"><rect x="110" y="665" width="80" height="80"/></clipPath><g clip-path="url(#cpg)">
<ellipse cx="127.1" cy="697.7" rx="5.7" ry="5.2" transform="rotate(175 127.1 697.7)" fill="url(#gv2)" filter="url(#b04)"/>
<ellipse cx="127.3" cy="699.7" rx="1.4" ry="0.7" transform="rotate(162 127.3 699.7)" fill="#b090d0" opacity="0.55" filter="url(#b05)"/>
<ellipse cx="125.8" cy="699.3" rx="1.4" ry="0.7" transform="rotate(29 125.8 699.3)" fill="#b090d0" opacity="0.55" filter="url(#b05)"/>
<ellipse cx="130.0" cy="697.0" rx="1.4" ry="0.7" transform="rotate(31 130.0 697.0)" fill="#b090d0" opacity="0.55" filter="url(#b05)"/>
<ellipse cx="128.2" cy="698.7" rx="2.0" ry="1.2" transform="rotate(93 128.2 698.7)" fill="#52267e" opacity="0.5" filter="url(#b05)"/>
<ellipse cx="127.3" cy="696.4" rx="2.0" ry="1.2" transform="rotate(106 127.3 696.4)" fill="#52267e" opacity="0.5" filter="url(#b05)"/>
<ellipse cx="129.8" cy="707.1" rx="6.0" ry="5.7" transform="rotate(164 129.8 707.1)" fill="url(#gv2)" filter="url(#b04)"/>
<ellipse cx="128.4" cy="707.2" rx="1.5" ry="0.8" transform="rotate(135 128.4 707.2)" fill="#b090d0" opacity="0.55" filter="url(#b05)"/>
<ellipse cx="131.2" cy="707.8" rx="1.5" ry="0.8" transform="rotate(13 131.2 707.8)" fill="#b090d0" opacity="0.55" filter="url(#b05)"/>
<ellipse cx="127.7" cy="705.0" rx="1.5" ry="0.8" transform="rotate(110 127.7 705.0)" fill="#b090d0" opacity="0.55" filter="url(#b05)"/>
<ellipse cx="130.2" cy="709.2" rx="2.2" ry="1.3" transform="rotate(157 130.2 709.2)" fill="#52267e" opacity="0.5" filter="url(#b05)"/>
<ellipse cx="129.2" cy="708.3" rx="2.2" ry="1.3" transform="rotate(121 129.2 708.3)" fill="#52267e" opacity="0.5" filter="url(#b05)"/>
<ellipse cx="150.7" cy="664.5" rx="5.0" ry="4.9" transform="rotate(73 150.7 664.5)" fill="url(#gv2)" filter="url(#b04)"/>
<ellipse cx="151.6" cy="664.0" rx="1.2" ry="0.7" transform="rotate(178 151.6 664.0)" fill="#b090d0" opacity="0.55" filter="url(#b05)"/>
<ellipse cx="150.0" cy="662.2" rx="1.2" ry="0.7" transform="rotate(145 150.0 662.2)" fill="#b090d0" opacity="0.55" filter="url(#b05)"/>
<ellipse cx="151.4" cy="666.8" rx="1.2" ry="0.7" transform="rotate(118 151.4 666.8)" fill="#b090d0" opacity="0.55" filter="url(#b05)"/>
<ellipse cx="151.8" cy="666.0" rx="1.8" ry="1.1" transform="rotate(79 151.8 666.0)" fill="#52267e" opacity="0.5" filter="url(#b05)"/>
<ellipse cx="150.5" cy="663.7" rx="1.8" ry="1.1" transform="rotate(122 150.5 663.7)" fill="#52267e" opacity="0.5" filter="url(#b05)"/>
<ellipse cx="160.8" cy="665.5" rx="5.0" ry="4.7" transform="rotate(152 160.8 665.5)" fill="url(#gv2)" filter="url(#b04)"/>
<ellipse cx="159.0" cy="666.2" rx="1.2" ry="0.7" transform="rotate(99 159.0 666.2)" fill="#b090d0" opacity="0.55" filter="url(#b05)"/>
<ellipse cx="159.7" cy="667.3" rx="1.2" ry="0.7" transform="rotate(162 159.7 667.3)" fill="#b090d0" opacity="0.55" filter="url(#b05)"/>
<ellipse cx="162.6" cy="666.4" rx="1.2" ry="0.7" transform="rotate(48 162.6 666.4)" fill="#b090d0" opacity="0.55" filter="url(#b05)"/>
<ellipse cx="159.9" cy="664.2" rx="1.8" ry="1.1" transform="rotate(8 159.9 664.2)" fill="#52267e" opacity="0.5" filter="url(#b05)"/>
<ellipse cx="161.9" cy="666.4" rx="1.8" ry="1.1" transform="rotate(155 161.9 666.4)" fill="#52267e" opacity="0.5" filter="url(#b05)"/>
<ellipse cx="155.4" cy="673.5" rx="5.7" ry="5.8" transform="rotate(44 155.4 673.5)" fill="url(#gv2)" filter="url(#b04)"/>
<ellipse cx="153.8" cy="674.1" rx="1.5" ry="0.8" transform="rotate(155 153.8 674.1)" fill="#b090d0" opacity="0.55" filter="url(#b05)"/>
<ellipse cx="152.8" cy="672.5" rx="1.5" ry="0.8" transform="rotate(167 152.8 672.5)" fill="#b090d0" opacity="0.55" filter="url(#b05)"/>
<ellipse cx="153.2" cy="673.6" rx="1.5" ry="0.8" transform="rotate(23 153.2 673.6)" fill="#b090d0" opacity="0.55" filter="url(#b05)"/>
<ellipse cx="155.6" cy="672.5" rx="2.2" ry="1.3" transform="rotate(65 155.6 672.5)" fill="#52267e" opacity="0.5" filter="url(#b05)"/>
<ellipse cx="156.4" cy="675.2" rx="2.2" ry="1.3" transform="rotate(82 156.4 675.2)" fill="#52267e" opacity="0.5" filter="url(#b05)"/>
<ellipse cx="163.5" cy="678.8" rx="6.0" ry="6.3" transform="rotate(175 163.5 678.8)" fill="url(#gv2)" filter="url(#b04)"/>
<ellipse cx="160.6" cy="680.5" rx="1.6" ry="0.8" transform="rotate(77 160.6 680.5)" fill="#b090d0" opacity="0.55" filter="url(#b05)"/>
<ellipse cx="161.1" cy="676.5" rx="1.6" ry="0.8" transform="rotate(37 161.1 676.5)" fill="#b090d0" opacity="0.55" filter="url(#b05)"/>
<ellipse cx="165.1" cy="679.2" rx="1.6" ry="0.8" transform="rotate(6 165.1 679.2)" fill="#b090d0" opacity="0.55" filter="url(#b05)"/>
<ellipse cx="162.4" cy="679.2" rx="2.3" ry="1.4" transform="rotate(17 162.4 679.2)" fill="#52267e" opacity="0.5" filter="url(#b05)"/>
<ellipse cx="162.9" cy="680.3" rx="2.3" ry="1.4" transform="rotate(159 162.9 680.3)" fill="#52267e" opacity="0.5" filter="url(#b05)"/>
<ellipse cx="172.9" cy="682.9" rx="7.0" ry="6.9" transform="rotate(135 172.9 682.9)" fill="url(#gv2)" filter="url(#b04)"/>
<ellipse cx="174.3" cy="682.0" rx="1.7" ry="0.9" transform="rotate(104 174.3 682.0)" fill="#b090d0" opacity="0.55" filter="url(#b05)"/>
<ellipse cx="171.1" cy="683.7" rx="1.7" ry="0.9" transform="rotate(155 171.1 683.7)" fill="#b090d0" opacity="0.55" filter="url(#b05)"/>
<ellipse cx="171.1" cy="686.1" rx="1.7" ry="0.9" transform="rotate(65 171.1 686.1)" fill="#b090d0" opacity="0.55" filter="url(#b05)"/>
<ellipse cx="170.7" cy="682.1" rx="2.4" ry="1.5" transform="rotate(141 170.7 682.1)" fill="#52267e" opacity="0.5" filter="url(#b05)"/>
<ellipse cx="175.1" cy="683.5" rx="2.4" ry="1.5" transform="rotate(19 175.1 683.5)" fill="#52267e" opacity="0.5" filter="url(#b05)"/>
<ellipse cx="151.3" cy="703.1" rx="5.7" ry="5.2" transform="rotate(30 151.3 703.1)" fill="url(#gv2)" filter="url(#b04)"/>
<ellipse cx="149.9" cy="702.0" rx="1.4" ry="0.7" transform="rotate(165 149.9 702.0)" fill="#b090d0" opacity="0.55" filter="url(#b05)"/>
<ellipse cx="152.0" cy="700.4" rx="1.4" ry="0.7" transform="rotate(75 152.0 700.4)" fill="#b090d0" opacity="0.55" filter="url(#b05)"/>
<ellipse cx="152.4" cy="701.1" rx="1.4" ry="0.7" transform="rotate(150 152.4 701.1)" fill="#b090d0" opacity="0.55" filter="url(#b05)"/>
<ellipse cx="150.6" cy="704.6" rx="2.0" ry="1.2" transform="rotate(79 150.6 704.6)" fill="#52267e" opacity="0.5" filter="url(#b05)"/>
<ellipse cx="150.1" cy="703.8" rx="2.0" ry="1.2" transform="rotate(75 150.1 703.8)" fill="#52267e" opacity="0.5" filter="url(#b05)"/>
<ellipse cx="161.4" cy="700.4" rx="5.8" ry="5.3" transform="rotate(83 161.4 700.4)" fill="url(#gv2)" filter="url(#b04)"/>
<ellipse cx="163.4" cy="702.7" rx="1.4" ry="0.7" transform="rotate(28 163.4 702.7)" fill="#b090d0" opacity="0.55" filter="url(#b05)"/>
<ellipse cx="160.3" cy="698.4" rx="1.4" ry="0.7" transform="rotate(129 160.3 698.4)" fill="#b090d0" opacity="0.55" filter="url(#b05)"/>
<ellipse cx="159.8" cy="701.4" rx="1.4" ry="0.7" transform="rotate(72 159.8 701.4)" fill="#b090d0" opacity="0.55" filter="url(#b05)"/>
<ellipse cx="162.6" cy="701.0" rx="2.0" ry="1.2" transform="rotate(50 162.6 701.0)" fill="#52267e" opacity="0.5" filter="url(#b05)"/>
<ellipse cx="161.7" cy="699.0" rx="2.0" ry="1.2" transform="rotate(17 161.7 699.0)" fill="#52267e" opacity="0.5" filter="url(#b05)"/>
<ellipse cx="159.4" cy="709.1" rx="5.9" ry="5.9" transform="rotate(2 159.4 709.1)" fill="url(#gv2)" filter="url(#b04)"/>
<ellipse cx="162.3" cy="708.8" rx="1.5" ry="0.8" transform="rotate(180 162.3 708.8)" fill="#b090d0" opacity="0.55" filter="url(#b05)"/>
<ellipse cx="159.3" cy="710.7" rx="1.5" ry="0.8" transform="rotate(10 159.3 710.7)" fill="#b090d0" opacity="0.55" filter="url(#b05)"/>
<ellipse cx="159.8" cy="710.3" rx="1.5" ry="0.8" transform="rotate(125 159.8 710.3)" fill="#b090d0" opacity="0.55" filter="url(#b05)"/>
<ellipse cx="158.0" cy="710.7" rx="2.2" ry="1.3" transform="rotate(137 158.0 710.7)" fill="#52267e" opacity="0.5" filter="url(#b05)"/>
<ellipse cx="158.7" cy="710.0" rx="2.2" ry="1.3" transform="rotate(63 158.7 710.0)" fill="#52267e" opacity="0.5" filter="url(#b05)"/>
<ellipse cx="168.2" cy="714.5" rx="5.7" ry="5.9" transform="rotate(178 168.2 714.5)" fill="url(#gv2)" filter="url(#b04)"/>
<ellipse cx="166.9" cy="716.4" rx="1.5" ry="0.8" transform="rotate(67 166.9 716.4)" fill="#b090d0" opacity="0.55" filter="url(#b05)"/>
<ellipse cx="168.0" cy="711.9" rx="1.5" ry="0.8" transform="rotate(108 168.0 711.9)" fill="#b090d0" opacity="0.55" filter="url(#b05)"/>
<ellipse cx="170.8" cy="714.1" rx="1.5" ry="0.8" transform="rotate(62 170.8 714.1)" fill="#b090d0" opacity="0.55" filter="url(#b05)"/>
<ellipse cx="166.9" cy="715.8" rx="2.2" ry="1.3" transform="rotate(125 166.9 715.8)" fill="#52267e" opacity="0.5" filter="url(#b05)"/>
<ellipse cx="168.6" cy="716.6" rx="2.2" ry="1.3" transform="rotate(80 168.6 716.6)" fill="#52267e" opacity="0.5" filter="url(#b05)"/>
<ellipse cx="153.4" cy="719.2" rx="5.9" ry="5.8" transform="rotate(102 153.4 719.2)" fill="url(#gv2)" filter="url(#b04)"/>
<ellipse cx="151.0" cy="719.8" rx="1.5" ry="0.8" transform="rotate(88 151.0 719.8)" fill="#b090d0" opacity="0.55" filter="url(#b05)"/>
<ellipse cx="151.8" cy="719.0" rx="1.5" ry="0.8" transform="rotate(20 151.8 719.0)" fill="#b090d0" opacity="0.55" filter="url(#b05)"/>
<ellipse cx="153.3" cy="722.0" rx="1.5" ry="0.8" transform="rotate(5 153.3 722.0)" fill="#b090d0" opacity="0.55" filter="url(#b05)"/>
<ellipse cx="152.5" cy="720.4" rx="2.2" ry="1.3" transform="rotate(100 152.5 720.4)" fill="#52267e" opacity="0.5" filter="url(#b05)"/>
<ellipse cx="151.4" cy="720.1" rx="2.2" ry="1.3" transform="rotate(169 151.4 720.1)" fill="#52267e" opacity="0.5" filter="url(#b05)"/>
<ellipse cx="174.2" cy="722.6" rx="6.7" ry="6.3" transform="rotate(20 174.2 722.6)" fill="url(#gv2)" filter="url(#b04)"/>
<ellipse cx="175.7" cy="724.0" rx="1.6" ry="0.8" transform="rotate(158 175.7 724.0)" fill="#b090d0" opacity="0.55" filter="url(#b05)"/>
<ellipse cx="176.1" cy="721.7" rx="1.6" ry="0.8" transform="rotate(79 176.1 721.7)" fill="#b090d0" opacity="0.55" filter="url(#b05)"/>
<ellipse cx="170.9" cy="723.5" rx="1.6" ry="0.8" transform="rotate(80 170.9 723.5)" fill="#b090d0" opacity="0.55" filter="url(#b05)"/>
<ellipse cx="173.5" cy="724.3" rx="2.3" ry="1.4" transform="rotate(1 173.5 724.3)" fill="#52267e" opacity="0.5" filter="url(#b05)"/>
<ellipse cx="173.0" cy="722.5" rx="2.3" ry="1.4" transform="rotate(148 173.0 722.5)" fill="#52267e" opacity="0.5" filter="url(#b05)"/>
<ellipse cx="152.7" cy="730.7" rx="6.0" ry="5.8" transform="rotate(7 152.7 730.7)" fill="url(#gv2)" filter="url(#b04)"/>
<ellipse cx="153.0" cy="728.1" rx="1.5" ry="0.8" transform="rotate(121 153.0 728.1)" fill="#b090d0" opacity="0.55" filter="url(#b05)"/>
<ellipse cx="150.1" cy="731.2" rx="1.5" ry="0.8" transform="rotate(159 150.1 731.2)" fill="#b090d0" opacity="0.55" filter="url(#b05)"/>
<ellipse cx="152.0" cy="728.9" rx="1.5" ry="0.8" transform="rotate(162 152.0 728.9)" fill="#b090d0" opacity="0.55" filter="url(#b05)"/>
<ellipse cx="152.3" cy="731.6" rx="2.2" ry="1.3" transform="rotate(45 152.3 731.6)" fill="#52267e" opacity="0.5" filter="url(#b05)"/>
<ellipse cx="150.5" cy="730.8" rx="2.2" ry="1.3" transform="rotate(63 150.5 730.8)" fill="#52267e" opacity="0.5" filter="url(#b05)"/>
<ellipse cx="172.9" cy="732.7" rx="5.9" ry="6.1" transform="rotate(36 172.9 732.7)" fill="url(#gv2)" filter="url(#b04)"/>
<ellipse cx="172.3" cy="734.7" rx="1.5" ry="0.8" transform="rotate(43 172.3 734.7)" fill="#b090d0" opacity="0.55" filter="url(#b05)"/>
<ellipse cx="172.0" cy="735.5" rx="1.5" ry="0.8" transform="rotate(88 172.0 735.5)" fill="#b090d0" opacity="0.55" filter="url(#b05)"/>
<ellipse cx="175.5" cy="734.2" rx="1.5" ry="0.8" transform="rotate(41 175.5 734.2)" fill="#b090d0" opacity="0.55" filter="url(#b05)"/>
<ellipse cx="173.1" cy="731.7" rx="2.2" ry="1.3" transform="rotate(119 173.1 731.7)" fill="#52267e" opacity="0.5" filter="url(#b05)"/>
<ellipse cx="171.4" cy="731.7" rx="2.2" ry="1.3" transform="rotate(177 171.4 731.7)" fill="#52267e" opacity="0.5" filter="url(#b05)"/>
</g>
<text x="191.20" y="581.20" font-size="19" font-weight="bold">H</text>
<text x="219.50" y="635.00" font-size="12.6" text-anchor="middle" fill="#333" transform="rotate(-90 219.50 635.00)" textLength="132.6" lengthAdjust="spacingAndGlyphs">Fold Change of CD11b</text>
<text x="233.90" y="640.80" font-size="12.0" text-anchor="middle" fill="#333" transform="rotate(-90 233.90 640.80)" textLength="141.3" lengthAdjust="spacingAndGlyphs">normalized by pretreatment</text>
<line x1="257.90" y1="585.80" x2="257.90" y2="703.50" stroke="#000" stroke-width="1.4"/>
<line x1="257.20" y1="702.80" x2="335.00" y2="702.80" stroke="#000" stroke-width="1.6"/>
<text x="245.60" y="706.10" font-size="9.4" text-anchor="middle" fill="#2a2a2a">0</text>
<text x="245.60" y="686.63" font-size="9.4" text-anchor="middle" fill="#2a2a2a">1</text>
<text x="245.60" y="667.16" font-size="9.4" text-anchor="middle" fill="#2a2a2a">2</text>
<text x="245.60" y="647.69" font-size="9.4" text-anchor="middle" fill="#2a2a2a">3</text>
<text x="245.60" y="628.22" font-size="9.4" text-anchor="middle" fill="#2a2a2a">4</text>
<text x="245.60" y="608.75" font-size="9.4" text-anchor="middle" fill="#2a2a2a">5</text>
<text x="245.60" y="589.28" font-size="9.4" text-anchor="middle" fill="#2a2a2a">6</text>
<text x="302.40" y="584.60" font-size="10.6" text-anchor="middle" fill="#222" textLength="38.9" lengthAdjust="spacingAndGlyphs">p=0.035</text>
<line x1="281.50" y1="589.70" x2="321.30" y2="589.70" stroke="#000" stroke-width="2.0"/>
<path d="M279.50,599.01 L283.40,603.30 L279.50,607.59 L275.60,603.30 Z" fill="#000"/>
<path d="M279.50,634.21 L283.40,638.50 L279.50,642.79 L275.60,638.50 Z" fill="#000"/>
<path d="M279.50,650.31 L283.40,654.60 L279.50,658.89 L275.60,654.60 Z" fill="#000"/>
<path d="M279.50,670.51 L283.40,674.80 L279.50,679.09 L275.60,674.80 Z" fill="#000"/>
<path d="M279.50,677.41 L283.40,681.70 L279.50,685.99 L275.60,681.70 Z" fill="#000"/>
<line x1="265.70" y1="650.90" x2="294.50" y2="650.90" stroke="#000" stroke-width="1.8"/>
<path d="M318.40,680.61 L322.30,684.90 L318.40,689.19 L314.50,684.90 Z" fill="#000"/>
<path d="M310.40,689.21 L314.30,693.50 L310.40,697.79 L306.50,693.50 Z" fill="#000"/>
<path d="M318.40,692.71 L322.30,697.00 L318.40,701.29 L314.50,697.00 Z" fill="#000"/>
<path d="M326.20,689.81 L330.10,694.10 L326.20,698.39 L322.30,694.10 Z" fill="#000"/>
<line x1="303.20" y1="691.80" x2="334.90" y2="691.80" stroke="#000" stroke-width="1.8"/>
<text x="279.40" y="719.80" font-size="11.2" text-anchor="middle" fill="#222" textLength="30.3" lengthAdjust="spacingAndGlyphs">Naïve</text>
<text x="319.70" y="719.80" font-size="11.2" text-anchor="middle" fill="#222" textLength="33" lengthAdjust="spacingAndGlyphs">Resist</text>
<rect x="353.60" y="568.20" width="3.90" height="13.40" fill="#000"/>
<text x="410.70" y="578.80" font-size="10.5" text-anchor="middle" textLength="34.4" lengthAdjust="spacingAndGlyphs">Vehicle</text>
<line x1="393.50" y1="581.60" x2="427.90" y2="581.60" stroke="#666" stroke-width="0.9"/>
<text x="456.40" y="578.80" font-size="10.5" text-anchor="middle" textLength="46.3" lengthAdjust="spacingAndGlyphs">Sorafenib</text>
<line x1="433.30" y1="581.60" x2="479.60" y2="581.60" stroke="#666" stroke-width="0.9"/>
<text x="402.50" y="617.90" font-size="10" transform="rotate(-90 402.50 617.90)" textLength="28.8" lengthAdjust="spacingAndGlyphs">Before</text>
<text x="424.80" y="617.90" font-size="10" transform="rotate(-90 424.80 617.90)" textLength="20.2" lengthAdjust="spacingAndGlyphs">After</text>
<text x="448.80" y="617.90" font-size="10" transform="rotate(-90 448.80 617.90)" textLength="28.8" lengthAdjust="spacingAndGlyphs">Before</text>
<text x="471.10" y="617.90" font-size="10" transform="rotate(-90 471.10 617.90)" textLength="20.2" lengthAdjust="spacingAndGlyphs">After</text>
<rect x="386.10" y="621.00" width="94.50" height="24.90" fill="#111"/>
<rect x="388.4" y="624.0" width="18.5" height="18.0" rx="1.2" fill="#262626" opacity="1" filter="url(#b1)"/>
<rect x="411.8" y="624.0" width="18.5" height="18.0" rx="1.2" fill="#262626" opacity="1" filter="url(#b1)"/>
<rect x="434.6" y="624.0" width="18.5" height="18.0" rx="1.2" fill="#262626" opacity="1" filter="url(#b1)"/>
<rect x="457.8" y="624.0" width="18.5" height="18.0" rx="1.2" fill="#262626" opacity="1" filter="url(#b1)"/>
<rect x="388.4" y="625.0" width="18.5" height="1.6" rx="1.2" fill="#5a5a5a" opacity="1" filter="url(#b09)"/>
<rect x="388.4" y="628.9" width="18.5" height="2.2" rx="1.2" fill="#6e6e6e" opacity="1" filter="url(#b09)"/>
<rect x="388.4" y="634.2" width="18.5" height="2.4" rx="1.2" fill="#858585" opacity="1" filter="url(#b09)"/>
<rect x="411.8" y="625.2" width="18.5" height="1.6" rx="1.2" fill="#5a5a5a" opacity="1" filter="url(#b09)"/>
<rect x="411.8" y="628.9" width="18.5" height="2.6" rx="1.2" fill="#a8a8a8" opacity="1" filter="url(#b09)"/>
<rect x="411.8" y="634.5" width="18.5" height="2.6" rx="1.2" fill="#b8b8b8" opacity="1" filter="url(#b09)"/>
<rect x="434.6" y="628.3" width="18.5" height="9.0" rx="1.2" fill="#6a6a6a" opacity="1" filter="url(#b1)"/>
<rect x="434.6" y="624.8" width="18.5" height="2.0" rx="1.2" fill="#7a7a7a" opacity="1" filter="url(#b09)"/>
<rect x="434.6" y="628.1" width="18.5" height="3.0" rx="1.2" fill="#e6e6e6" opacity="1" filter="url(#b09)"/>
<rect x="434.6" y="634.2" width="18.5" height="3.2" rx="1.2" fill="#ffffff" opacity="1" filter="url(#b09)"/>
<rect x="457.8" y="628.3" width="18.5" height="9.0" rx="1.2" fill="#6a6a6a" opacity="1" filter="url(#b1)"/>
<rect x="457.8" y="624.2" width="18.5" height="2.0" rx="1.2" fill="#808080" opacity="1" filter="url(#b09)"/>
<rect x="457.8" y="628.6" width="18.5" height="3.2" rx="1.2" fill="#e0e0e0" opacity="1" filter="url(#b09)"/>
<rect x="457.8" y="634.4" width="18.5" height="3.2" rx="1.2" fill="#f4f4f4" opacity="1" filter="url(#b09)"/>
<rect x="457.8" y="637.8" width="18.5" height="1.6" rx="1.2" fill="#9a9a9a" opacity="1" filter="url(#b09)"/>
<rect x="386.10" y="651.10" width="94.50" height="25.00" fill="#121212"/>
<rect x="388.4" y="654.0" width="18.5" height="18.0" rx="1.2" fill="#242424" opacity="1" filter="url(#b1)"/>
<rect x="388.4" y="655.9" width="18.5" height="1.4" rx="1.2" fill="#3e3e3e" opacity="1" filter="url(#b09)"/>
<rect x="388.4" y="659.8" width="18.5" height="2.0" rx="1.2" fill="#7a7a7a" opacity="1" filter="url(#b09)"/>
<rect x="388.4" y="666.0" width="18.5" height="2.8" rx="1.2" fill="#f0f0f0" opacity="1" filter="url(#b09)"/>
<rect x="411.8" y="654.0" width="18.5" height="18.0" rx="1.2" fill="#242424" opacity="1" filter="url(#b1)"/>
<rect x="411.8" y="655.9" width="18.5" height="1.4" rx="1.2" fill="#3e3e3e" opacity="1" filter="url(#b09)"/>
<rect x="411.8" y="659.8" width="18.5" height="2.0" rx="1.2" fill="#7a7a7a" opacity="1" filter="url(#b09)"/>
<rect x="411.8" y="666.0" width="18.5" height="2.8" rx="1.2" fill="#b4b4b4" opacity="1" filter="url(#b09)"/>
<rect x="434.6" y="654.0" width="18.5" height="18.0" rx="1.2" fill="#242424" opacity="1" filter="url(#b1)"/>
<rect x="434.6" y="655.9" width="18.5" height="1.4" rx="1.2" fill="#3e3e3e" opacity="1" filter="url(#b09)"/>
<rect x="434.6" y="659.8" width="18.5" height="2.0" rx="1.2" fill="#7a7a7a" opacity="1" filter="url(#b09)"/>
<rect x="434.6" y="666.0" width="18.5" height="2.8" rx="1.2" fill="#bcbcbc" opacity="1" filter="url(#b09)"/>
<rect x="457.8" y="654.0" width="18.5" height="18.0" rx="1.2" fill="#242424" opacity="1" filter="url(#b1)"/>
<rect x="457.8" y="655.9" width="18.5" height="1.4" rx="1.2" fill="#3e3e3e" opacity="1" filter="url(#b09)"/>
<rect x="457.8" y="659.8" width="18.5" height="2.0" rx="1.2" fill="#7a7a7a" opacity="1" filter="url(#b09)"/>
<rect x="457.8" y="666.0" width="18.5" height="2.8" rx="1.2" fill="#a8a8a8" opacity="1" filter="url(#b09)"/>
<circle cx="479" cy="652.4" r="1" fill="#ddd"/>
<rect x="386.10" y="680.90" width="94.50" height="25.30" fill="#0e0e0e"/>
<rect x="388.4" y="688.0" width="18.5" height="16.0" rx="1.2" fill="#141414" opacity="1" filter="url(#b2)"/>
<rect x="388.4" y="686.3" width="18.5" height="2.8" rx="1.2" fill="#c4c4c4" opacity="1" filter="url(#b09)"/>
<rect x="411.8" y="688.0" width="18.5" height="16.0" rx="1.2" fill="#222" opacity="1" filter="url(#b2)"/>
<rect x="411.8" y="686.3" width="18.5" height="2.8" rx="1.2" fill="#f2f2f2" opacity="1" filter="url(#b09)"/>
<rect x="434.6" y="688.0" width="18.5" height="16.0" rx="1.2" fill="#222" opacity="1" filter="url(#b2)"/>
<rect x="434.6" y="686.3" width="18.5" height="2.8" rx="1.2" fill="#f4f4f4" opacity="1" filter="url(#b09)"/>
<rect x="457.8" y="688.0" width="18.5" height="16.0" rx="1.2" fill="#1e1e1e" opacity="1" filter="url(#b2)"/>
<rect x="457.8" y="686.3" width="18.5" height="2.8" rx="1.2" fill="#eeeeee" opacity="1" filter="url(#b09)"/>
<line x1="482.90" y1="631.10" x2="497.70" y2="631.10" stroke="#000" stroke-width="1.3"/>
<line x1="482.90" y1="640.20" x2="497.70" y2="640.20" stroke="#000" stroke-width="1.3"/>
<text x="501.90" y="633.90" font-size="9.1" textLength="15.1" lengthAdjust="spacingAndGlyphs">ITD</text>
<text x="501.10" y="643.40" font-size="9.1" textLength="14.5" lengthAdjust="spacingAndGlyphs">WT</text>
<line x1="482.90" y1="658.20" x2="497.70" y2="658.20" stroke="#000" stroke-width="1.3"/>
<line x1="482.90" y1="666.50" x2="497.70" y2="666.50" stroke="#000" stroke-width="1.3"/>
<text x="501.90" y="659.90" font-size="9.1" textLength="15.1" lengthAdjust="spacingAndGlyphs">ITD</text>
<text x="501.10" y="670.20" font-size="9.1" textLength="14.5" lengthAdjust="spacingAndGlyphs">WT</text>
<line x1="482.90" y1="689.00" x2="497.70" y2="689.00" stroke="#000" stroke-width="1.3"/>
<line x1="482.90" y1="698.70" x2="497.70" y2="698.70" stroke="#000" stroke-width="1.3"/>
<text x="501.90" y="692.40" font-size="9.1" textLength="15.1" lengthAdjust="spacingAndGlyphs">ITD</text>
<text x="501.10" y="702.30" font-size="9.1" textLength="14.5" lengthAdjust="spacingAndGlyphs">WT</text>
<text x="380.90" y="637.90" font-size="10.3" text-anchor="end" textLength="27.7" lengthAdjust="spacingAndGlyphs">AML7</text>
<text x="380.90" y="668.00" font-size="10.3" text-anchor="end" textLength="27.7" lengthAdjust="spacingAndGlyphs">AML8</text>
<text x="380.90" y="697.20" font-size="10.3" text-anchor="end" textLength="33.7" lengthAdjust="spacingAndGlyphs">AML14</text>
</svg></body></html>
